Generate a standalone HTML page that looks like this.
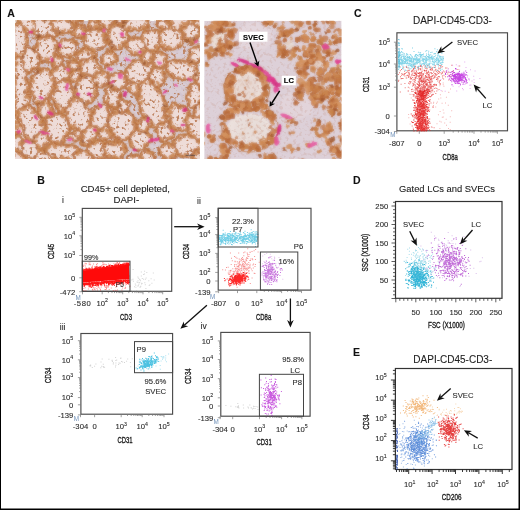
<!DOCTYPE html>
<html><head><meta charset="utf-8"><style>
html,body{margin:0;padding:0;background:#fff;}
body{width:520px;height:510px;overflow:hidden;position:relative;}
svg{position:absolute;left:0;top:0;}
text{font-family:"Liberation Sans", sans-serif;}
</style></head><body>
<svg width="520" height="510" viewBox="0 0 520 510">
<rect x="0" y="0" width="520" height="510" fill="#fff"/>
<defs>
<filter id="speck" filterUnits="userSpaceOnUse" x="204.2" y="20.8" width="137.4" height="138.1" color-interpolation-filters="sRGB"><feTurbulence type="fractalNoise" baseFrequency="0.3" numOctaves="2" seed="21"/><feColorMatrix type="matrix" values="0 0 0 0 0.76  0 0 0 0 0.55  0 0 0 0 0.48  6 0 0 0 -3.2"/><feGaussianBlur stdDeviation="0.5"/></filter>
<filter id="soft" x="-20%" y="-20%" width="140%" height="140%"><feTurbulence type="fractalNoise" baseFrequency="0.2" numOctaves="2" seed="3"/><feDisplacementMap in="SourceGraphic" scale="3" xChannelSelector="R" yChannelSelector="G" result="d"/><feGaussianBlur in="d" stdDeviation="0.9" result="b"/><feComposite in="d" in2="b" operator="arithmetic" k1="0" k2="0.4" k3="0.6" k4="0"/></filter>
<filter id="cells" x="-10%" y="-10%" width="120%" height="120%"><feTurbulence type="fractalNoise" baseFrequency="0.15" numOctaves="2" seed="6"/><feDisplacementMap in="SourceGraphic" scale="4" xChannelSelector="R" yChannelSelector="G" result="d"/><feGaussianBlur in="d" stdDeviation="1.0" result="b"/><feComposite in="d" in2="b" operator="arithmetic" k1="0" k2="0.45" k3="0.55" k4="0"/></filter>
<clipPath id="cr"><rect x="204.2" y="20.8" width="137.4" height="138.1"/></clipPath>
<clipPath id="cl"><rect x="15.6" y="20.8" width="184.0" height="138.1"/></clipPath>
</defs>
<filter id="wpL" filterUnits="userSpaceOnUse" x="10.6" y="15.8" width="194.0" height="148.1"><feTurbulence type="fractalNoise" baseFrequency="0.12" numOctaves="2" seed="12"/><feDisplacementMap in="SourceGraphic" scale="8" xChannelSelector="R" yChannelSelector="G" result="d"/><feGaussianBlur in="d" stdDeviation="0.9" result="b"/><feComposite in="d" in2="b" operator="arithmetic" k1="0" k2="0.5" k3="0.5" k4="0"/></filter>
<filter id="spkL" filterUnits="userSpaceOnUse" x="15.6" y="20.8" width="184.0" height="138.1" color-interpolation-filters="sRGB"><feTurbulence type="fractalNoise" baseFrequency="0.3" numOctaves="2" seed="31"/><feColorMatrix type="matrix" values="0 0 0 0 0.74  0 0 0 0 0.50  0 0 0 0 0.36  7 0 0 0 -4.0"/><feGaussianBlur stdDeviation="0.6"/></filter>
<filter id="spkL2" filterUnits="userSpaceOnUse" x="15.6" y="20.8" width="184.0" height="138.1" color-interpolation-filters="sRGB"><feTurbulence type="fractalNoise" baseFrequency="0.25" numOctaves="2" seed="41"/><feColorMatrix type="matrix" values="0 0 0 0 0.80  0 0 0 0 0.74  0 0 0 0 0.80  6 0 0 0 -3.3"/><feGaussianBlur stdDeviation="0.6"/></filter>
<g clip-path="url(#cl)">
<rect x="15.6" y="20.8" width="184.0" height="138.1" fill="#d9ccd3"/>
<rect x="15.6" y="20.8" width="184.0" height="138.1" filter="url(#spkL2)" opacity="0.5"/>
<g filter="url(#wpL)">
<ellipse cx="21" cy="90" rx="7.5" ry="74.5" fill="#eedcd8" stroke="#c08050" stroke-width="2.5"/><ellipse cx="21" cy="90" rx="6.9" ry="73.9" fill="none" stroke="#b86a38" stroke-width="2.0" stroke-dasharray="1.7 1.5" stroke-dashoffset="2.2"/><ellipse cx="21" cy="90" rx="5.1" ry="72.1" fill="none" stroke="#c8844e" stroke-opacity="0.9" stroke-width="2.6" stroke-linecap="round" stroke-dasharray="2.7 3.6" stroke-dashoffset="0.2"/>
<ellipse cx="44" cy="28" rx="15.0" ry="10.5" fill="#eedcd8" stroke="#c08050" stroke-width="2.5" transform="rotate(10 44 28)"/><ellipse cx="44" cy="28" rx="14.4" ry="9.9" fill="none" stroke="#b86a38" stroke-width="2.0" stroke-dasharray="1.2 2.9" stroke-dashoffset="0.5" transform="rotate(10 44 28)"/><ellipse cx="44" cy="28" rx="12.6" ry="8.1" fill="none" stroke="#c8844e" stroke-opacity="0.9" stroke-width="2.6" stroke-linecap="round" stroke-dasharray="2.7 5.4" stroke-dashoffset="0.9" transform="rotate(10 44 28)"/>
<ellipse cx="62" cy="25" rx="11.8" ry="8.4" fill="#eedcd8" stroke="#c08050" stroke-width="2.5"/><ellipse cx="62" cy="25" rx="11.2" ry="7.8" fill="none" stroke="#b86a38" stroke-width="2.0" stroke-dasharray="2.0 2.3" stroke-dashoffset="4.5"/><ellipse cx="62" cy="25" rx="9.4" ry="6.0" fill="none" stroke="#c8844e" stroke-opacity="0.9" stroke-width="2.6" stroke-linecap="round" stroke-dasharray="2.1 3.9" stroke-dashoffset="1.6"/>
<ellipse cx="46" cy="48" rx="11.8" ry="13.6" fill="#eedcd8" stroke="#c08050" stroke-width="2.5"/><ellipse cx="46" cy="48" rx="11.2" ry="13.0" fill="none" stroke="#b86a38" stroke-width="2.0" stroke-dasharray="1.9 1.5" stroke-dashoffset="2.5"/><ellipse cx="46" cy="48" rx="9.4" ry="11.2" fill="none" stroke="#c8844e" stroke-opacity="0.9" stroke-width="2.6" stroke-linecap="round" stroke-dasharray="2.6 4.3" stroke-dashoffset="0.7"/>
<ellipse cx="68" cy="48" rx="9.6" ry="9.4" fill="#eedcd8" stroke="#c08050" stroke-width="2.5"/><ellipse cx="68" cy="48" rx="9.0" ry="8.8" fill="none" stroke="#b86a38" stroke-width="2.0" stroke-dasharray="1.8 1.5" stroke-dashoffset="0.5"/><ellipse cx="68" cy="48" rx="7.2" ry="7.0" fill="none" stroke="#c8844e" stroke-opacity="0.9" stroke-width="2.6" stroke-linecap="round" stroke-dasharray="2.5 3.4" stroke-dashoffset="2.6"/>
<ellipse cx="95" cy="40" rx="11.8" ry="11.5" fill="#eedcd8" stroke="#c08050" stroke-width="2.5"/><ellipse cx="95" cy="40" rx="11.2" ry="10.9" fill="none" stroke="#b86a38" stroke-width="2.0" stroke-dasharray="1.3 2.4" stroke-dashoffset="0.2"/><ellipse cx="95" cy="40" rx="9.4" ry="9.1" fill="none" stroke="#c8844e" stroke-opacity="0.9" stroke-width="2.6" stroke-linecap="round" stroke-dasharray="2.5 5.3" stroke-dashoffset="1.8"/>
<ellipse cx="86" cy="58" rx="9.6" ry="9.4" fill="#eedcd8" stroke="#c08050" stroke-width="2.5"/><ellipse cx="86" cy="58" rx="9.0" ry="8.8" fill="none" stroke="#b86a38" stroke-width="2.0" stroke-dasharray="1.3 2.7" stroke-dashoffset="1.2"/><ellipse cx="86" cy="58" rx="7.2" ry="7.0" fill="none" stroke="#c8844e" stroke-opacity="0.9" stroke-width="2.6" stroke-linecap="round" stroke-dasharray="2.8 3.1" stroke-dashoffset="4.2"/>
<ellipse cx="60" cy="76" rx="10.7" ry="9.4" fill="#eedcd8" stroke="#c08050" stroke-width="2.5"/><ellipse cx="60" cy="76" rx="10.1" ry="8.8" fill="none" stroke="#b86a38" stroke-width="2.0" stroke-dasharray="1.6 1.7" stroke-dashoffset="0.7"/><ellipse cx="60" cy="76" rx="8.3" ry="7.0" fill="none" stroke="#c8844e" stroke-opacity="0.9" stroke-width="2.6" stroke-linecap="round" stroke-dasharray="1.8 3.4" stroke-dashoffset="3.5"/>
<ellipse cx="90" cy="68" rx="10.7" ry="11.5" fill="#eedcd8" stroke="#c08050" stroke-width="2.5"/><ellipse cx="90" cy="68" rx="10.1" ry="10.9" fill="none" stroke="#b86a38" stroke-width="2.0" stroke-dasharray="1.3 2.8" stroke-dashoffset="1.3"/><ellipse cx="90" cy="68" rx="8.3" ry="9.1" fill="none" stroke="#c8844e" stroke-opacity="0.9" stroke-width="2.6" stroke-linecap="round" stroke-dasharray="2.6 3.5" stroke-dashoffset="0.2"/>
<ellipse cx="42" cy="86" rx="11.8" ry="17.8" fill="#eedcd8" stroke="#c08050" stroke-width="2.5" transform="rotate(9 42 86)"/><ellipse cx="42" cy="86" rx="11.2" ry="17.2" fill="none" stroke="#b86a38" stroke-width="2.0" stroke-dasharray="1.6 1.7" stroke-dashoffset="2.7" transform="rotate(9 42 86)"/><ellipse cx="42" cy="86" rx="9.4" ry="15.4" fill="none" stroke="#c8844e" stroke-opacity="0.9" stroke-width="2.6" stroke-linecap="round" stroke-dasharray="1.7 4.0" stroke-dashoffset="3.3" transform="rotate(9 42 86)"/>
<ellipse cx="63" cy="95" rx="9.6" ry="16.8" fill="#eedcd8" stroke="#c08050" stroke-width="2.5" transform="rotate(5 63 95)"/><ellipse cx="63" cy="95" rx="9.0" ry="16.2" fill="none" stroke="#b86a38" stroke-width="2.0" stroke-dasharray="1.8 1.6" stroke-dashoffset="4.6" transform="rotate(5 63 95)"/><ellipse cx="63" cy="95" rx="7.2" ry="14.4" fill="none" stroke="#c8844e" stroke-opacity="0.9" stroke-width="2.6" stroke-linecap="round" stroke-dasharray="2.5 3.9" stroke-dashoffset="4.2" transform="rotate(5 63 95)"/>
<ellipse cx="86" cy="90" rx="10.7" ry="15.7" fill="#eedcd8" stroke="#c08050" stroke-width="2.5" transform="rotate(7 86 90)"/><ellipse cx="86" cy="90" rx="10.1" ry="15.1" fill="none" stroke="#b86a38" stroke-width="2.0" stroke-dasharray="1.4 2.7" stroke-dashoffset="3.2" transform="rotate(7 86 90)"/><ellipse cx="86" cy="90" rx="8.3" ry="13.3" fill="none" stroke="#c8844e" stroke-opacity="0.9" stroke-width="2.6" stroke-linecap="round" stroke-dasharray="1.5 3.5" stroke-dashoffset="3.5" transform="rotate(7 86 90)"/>
<ellipse cx="31" cy="124" rx="11.8" ry="18.9" fill="#eedcd8" stroke="#c08050" stroke-width="2.5" transform="rotate(-18 31 124)"/><ellipse cx="31" cy="124" rx="11.2" ry="18.3" fill="none" stroke="#b86a38" stroke-width="2.0" stroke-dasharray="2.0 2.2" stroke-dashoffset="2.6" transform="rotate(-18 31 124)"/><ellipse cx="31" cy="124" rx="9.4" ry="16.5" fill="none" stroke="#c8844e" stroke-opacity="0.9" stroke-width="2.6" stroke-linecap="round" stroke-dasharray="1.9 3.3" stroke-dashoffset="3.8" transform="rotate(-18 31 124)"/>
<ellipse cx="57" cy="128" rx="12.9" ry="15.7" fill="#eedcd8" stroke="#c08050" stroke-width="2.5"/><ellipse cx="57" cy="128" rx="12.3" ry="15.1" fill="none" stroke="#b86a38" stroke-width="2.0" stroke-dasharray="1.4 1.6" stroke-dashoffset="3.1"/><ellipse cx="57" cy="128" rx="10.5" ry="13.3" fill="none" stroke="#c8844e" stroke-opacity="0.9" stroke-width="2.6" stroke-linecap="round" stroke-dasharray="2.4 3.9" stroke-dashoffset="2.7"/>
<ellipse cx="79" cy="115" rx="11.8" ry="17.8" fill="#eedcd8" stroke="#c08050" stroke-width="2.5" transform="rotate(-19 79 115)"/><ellipse cx="79" cy="115" rx="11.2" ry="17.2" fill="none" stroke="#b86a38" stroke-width="2.0" stroke-dasharray="1.2 2.7" stroke-dashoffset="3.0" transform="rotate(-19 79 115)"/><ellipse cx="79" cy="115" rx="9.4" ry="15.4" fill="none" stroke="#c8844e" stroke-opacity="0.9" stroke-width="2.6" stroke-linecap="round" stroke-dasharray="2.0 4.8" stroke-dashoffset="3.2" transform="rotate(-19 79 115)"/>
<ellipse cx="62" cy="152" rx="20.4" ry="8.4" fill="#eedcd8" stroke="#c08050" stroke-width="2.5"/><ellipse cx="62" cy="152" rx="19.8" ry="7.8" fill="none" stroke="#b86a38" stroke-width="2.0" stroke-dasharray="1.6 2.9" stroke-dashoffset="3.5"/><ellipse cx="62" cy="152" rx="18.0" ry="6.0" fill="none" stroke="#c8844e" stroke-opacity="0.9" stroke-width="2.6" stroke-linecap="round" stroke-dasharray="2.5 3.9" stroke-dashoffset="0.6"/>
<ellipse cx="98" cy="150" rx="11.8" ry="9.4" fill="#eedcd8" stroke="#c08050" stroke-width="2.5"/><ellipse cx="98" cy="150" rx="11.2" ry="8.8" fill="none" stroke="#b86a38" stroke-width="2.0" stroke-dasharray="1.6 1.8" stroke-dashoffset="2.7"/><ellipse cx="98" cy="150" rx="9.4" ry="7.0" fill="none" stroke="#c8844e" stroke-opacity="0.9" stroke-width="2.6" stroke-linecap="round" stroke-dasharray="2.0 4.6" stroke-dashoffset="4.2"/>
<ellipse cx="100" cy="118" rx="9.6" ry="13.6" fill="#eedcd8" stroke="#c08050" stroke-width="2.5" transform="rotate(7 100 118)"/><ellipse cx="100" cy="118" rx="9.0" ry="13.0" fill="none" stroke="#b86a38" stroke-width="2.0" stroke-dasharray="1.6 2.0" stroke-dashoffset="4.9" transform="rotate(7 100 118)"/><ellipse cx="100" cy="118" rx="7.2" ry="11.2" fill="none" stroke="#c8844e" stroke-opacity="0.9" stroke-width="2.6" stroke-linecap="round" stroke-dasharray="1.9 5.2" stroke-dashoffset="2.3" transform="rotate(7 100 118)"/>
<ellipse cx="152" cy="40" rx="10.7" ry="11.5" fill="#eedcd8" stroke="#c08050" stroke-width="2.5"/><ellipse cx="152" cy="40" rx="10.1" ry="10.9" fill="none" stroke="#b86a38" stroke-width="2.0" stroke-dasharray="2.0 2.4" stroke-dashoffset="0.8"/><ellipse cx="152" cy="40" rx="8.3" ry="9.1" fill="none" stroke="#c8844e" stroke-opacity="0.9" stroke-width="2.6" stroke-linecap="round" stroke-dasharray="2.3 3.4" stroke-dashoffset="4.8"/>
<ellipse cx="171" cy="38" rx="11.8" ry="12.6" fill="#eedcd8" stroke="#c08050" stroke-width="2.5"/><ellipse cx="171" cy="38" rx="11.2" ry="12.0" fill="none" stroke="#b86a38" stroke-width="2.0" stroke-dasharray="2.1 2.0" stroke-dashoffset="2.7"/><ellipse cx="171" cy="38" rx="9.4" ry="10.2" fill="none" stroke="#c8844e" stroke-opacity="0.9" stroke-width="2.6" stroke-linecap="round" stroke-dasharray="2.8 3.1" stroke-dashoffset="0.7"/>
<ellipse cx="192" cy="31" rx="9.6" ry="11.5" fill="#eedcd8" stroke="#c08050" stroke-width="2.5"/><ellipse cx="192" cy="31" rx="9.0" ry="10.9" fill="none" stroke="#b86a38" stroke-width="2.0" stroke-dasharray="1.5 2.3" stroke-dashoffset="0.6"/><ellipse cx="192" cy="31" rx="7.2" ry="9.1" fill="none" stroke="#c8844e" stroke-opacity="0.9" stroke-width="2.6" stroke-linecap="round" stroke-dasharray="2.1 3.3" stroke-dashoffset="0.1"/>
<ellipse cx="118" cy="36" rx="10.7" ry="13.6" fill="#eedcd8" stroke="#c08050" stroke-width="2.5" transform="rotate(17 118 36)"/><ellipse cx="118" cy="36" rx="10.1" ry="13.0" fill="none" stroke="#b86a38" stroke-width="2.0" stroke-dasharray="2.2 2.2" stroke-dashoffset="2.8" transform="rotate(17 118 36)"/><ellipse cx="118" cy="36" rx="8.3" ry="11.2" fill="none" stroke="#c8844e" stroke-opacity="0.9" stroke-width="2.6" stroke-linecap="round" stroke-dasharray="2.3 3.6" stroke-dashoffset="3.3" transform="rotate(17 118 36)"/>
<ellipse cx="139" cy="72" rx="15.0" ry="11.5" fill="#eedcd8" stroke="#c08050" stroke-width="2.5" transform="rotate(-10 139 72)"/><ellipse cx="139" cy="72" rx="14.4" ry="10.9" fill="none" stroke="#b86a38" stroke-width="2.0" stroke-dasharray="1.3 2.0" stroke-dashoffset="0.6" transform="rotate(-10 139 72)"/><ellipse cx="139" cy="72" rx="12.6" ry="9.1" fill="none" stroke="#c8844e" stroke-opacity="0.9" stroke-width="2.6" stroke-linecap="round" stroke-dasharray="1.8 4.5" stroke-dashoffset="2.3" transform="rotate(-10 139 72)"/>
<ellipse cx="182" cy="70" rx="16.1" ry="10.5" fill="#eedcd8" stroke="#c08050" stroke-width="2.5" transform="rotate(10 182 70)"/><ellipse cx="182" cy="70" rx="15.5" ry="9.9" fill="none" stroke="#b86a38" stroke-width="2.0" stroke-dasharray="1.8 1.8" stroke-dashoffset="1.4" transform="rotate(10 182 70)"/><ellipse cx="182" cy="70" rx="13.7" ry="8.1" fill="none" stroke="#c8844e" stroke-opacity="0.9" stroke-width="2.6" stroke-linecap="round" stroke-dasharray="1.6 4.1" stroke-dashoffset="3.6" transform="rotate(10 182 70)"/>
<ellipse cx="152" cy="104" rx="12.9" ry="24.1" fill="#eedcd8" stroke="#c08050" stroke-width="2.5" transform="rotate(-14 152 104)"/><ellipse cx="152" cy="104" rx="12.3" ry="23.5" fill="none" stroke="#b86a38" stroke-width="2.0" stroke-dasharray="1.4 1.7" stroke-dashoffset="5.0" transform="rotate(-14 152 104)"/><ellipse cx="152" cy="104" rx="10.5" ry="21.7" fill="none" stroke="#c8844e" stroke-opacity="0.9" stroke-width="2.6" stroke-linecap="round" stroke-dasharray="2.6 4.2" stroke-dashoffset="0.8" transform="rotate(-14 152 104)"/>
<ellipse cx="178" cy="117" rx="10.7" ry="14.7" fill="#eedcd8" stroke="#c08050" stroke-width="2.5" transform="rotate(-14 178 117)"/><ellipse cx="178" cy="117" rx="10.1" ry="14.1" fill="none" stroke="#b86a38" stroke-width="2.0" stroke-dasharray="1.5 2.4" stroke-dashoffset="2.8" transform="rotate(-14 178 117)"/><ellipse cx="178" cy="117" rx="8.3" ry="12.3" fill="none" stroke="#c8844e" stroke-opacity="0.9" stroke-width="2.6" stroke-linecap="round" stroke-dasharray="2.1 3.1" stroke-dashoffset="3.5" transform="rotate(-14 178 117)"/>
<ellipse cx="122" cy="124" rx="14.0" ry="15.7" fill="#eedcd8" stroke="#c08050" stroke-width="2.5"/><ellipse cx="122" cy="124" rx="13.4" ry="15.1" fill="none" stroke="#b86a38" stroke-width="2.0" stroke-dasharray="2.2 1.9" stroke-dashoffset="1.6"/><ellipse cx="122" cy="124" rx="11.6" ry="13.3" fill="none" stroke="#c8844e" stroke-opacity="0.9" stroke-width="2.6" stroke-linecap="round" stroke-dasharray="2.5 3.6" stroke-dashoffset="4.4"/>
<ellipse cx="114" cy="150" rx="11.8" ry="9.4" fill="#eedcd8" stroke="#c08050" stroke-width="2.5"/><ellipse cx="114" cy="150" rx="11.2" ry="8.8" fill="none" stroke="#b86a38" stroke-width="2.0" stroke-dasharray="1.6 1.9" stroke-dashoffset="2.6"/><ellipse cx="114" cy="150" rx="9.4" ry="7.0" fill="none" stroke="#c8844e" stroke-opacity="0.9" stroke-width="2.6" stroke-linecap="round" stroke-dasharray="2.3 3.1" stroke-dashoffset="0.5"/>
<ellipse cx="186" cy="146" rx="14.0" ry="11.5" fill="#eedcd8" stroke="#c08050" stroke-width="2.5"/><ellipse cx="186" cy="146" rx="13.4" ry="10.9" fill="none" stroke="#b86a38" stroke-width="2.0" stroke-dasharray="1.5 2.9" stroke-dashoffset="4.9"/><ellipse cx="186" cy="146" rx="11.6" ry="9.1" fill="none" stroke="#c8844e" stroke-opacity="0.9" stroke-width="2.6" stroke-linecap="round" stroke-dasharray="2.4 4.0" stroke-dashoffset="4.2"/>
<ellipse cx="195" cy="95" rx="7.5" ry="13.6" fill="#eedcd8" stroke="#c08050" stroke-width="2.5" transform="rotate(10 195 95)"/><ellipse cx="195" cy="95" rx="6.9" ry="13.0" fill="none" stroke="#b86a38" stroke-width="2.0" stroke-dasharray="1.8 2.4" stroke-dashoffset="4.7" transform="rotate(10 195 95)"/><ellipse cx="195" cy="95" rx="5.1" ry="11.2" fill="none" stroke="#c8844e" stroke-opacity="0.9" stroke-width="2.6" stroke-linecap="round" stroke-dasharray="2.3 4.5" stroke-dashoffset="2.5" transform="rotate(10 195 95)"/>
<ellipse cx="135" cy="23" rx="14.0" ry="7.3" fill="#eedcd8" stroke="#c08050" stroke-width="2.5"/><ellipse cx="135" cy="23" rx="13.4" ry="6.7" fill="none" stroke="#b86a38" stroke-width="2.0" stroke-dasharray="1.3 2.4" stroke-dashoffset="1.0"/><ellipse cx="135" cy="23" rx="11.6" ry="4.9" fill="none" stroke="#c8844e" stroke-opacity="0.9" stroke-width="2.6" stroke-linecap="round" stroke-dasharray="2.2 3.1" stroke-dashoffset="2.5"/>
<ellipse cx="113" cy="97" rx="8.6" ry="11.5" fill="#eedcd8" stroke="#c08050" stroke-width="2.5" transform="rotate(-1 113 97)"/><ellipse cx="113" cy="97" rx="8.0" ry="10.9" fill="none" stroke="#b86a38" stroke-width="2.0" stroke-dasharray="2.0 1.6" stroke-dashoffset="4.0" transform="rotate(-1 113 97)"/><ellipse cx="113" cy="97" rx="6.2" ry="9.1" fill="none" stroke="#c8844e" stroke-opacity="0.9" stroke-width="2.6" stroke-linecap="round" stroke-dasharray="1.5 5.4" stroke-dashoffset="0.7" transform="rotate(-1 113 97)"/>
<ellipse cx="168" cy="152" rx="9.6" ry="8.4" fill="#eedcd8" stroke="#c08050" stroke-width="2.5"/><ellipse cx="168" cy="152" rx="9.0" ry="7.8" fill="none" stroke="#b86a38" stroke-width="2.0" stroke-dasharray="1.6 2.3" stroke-dashoffset="4.0"/><ellipse cx="168" cy="152" rx="7.2" ry="6.0" fill="none" stroke="#c8844e" stroke-opacity="0.9" stroke-width="2.6" stroke-linecap="round" stroke-dasharray="2.8 4.3" stroke-dashoffset="2.6"/>
<ellipse cx="30" cy="150" rx="10.7" ry="9.4" fill="#eedcd8" stroke="#c08050" stroke-width="2.5"/><ellipse cx="30" cy="150" rx="10.1" ry="8.8" fill="none" stroke="#b86a38" stroke-width="2.0" stroke-dasharray="2.0 1.5" stroke-dashoffset="4.2"/><ellipse cx="30" cy="150" rx="8.3" ry="7.0" fill="none" stroke="#c8844e" stroke-opacity="0.9" stroke-width="2.6" stroke-linecap="round" stroke-dasharray="2.6 4.2" stroke-dashoffset="2.4"/>
<ellipse cx="196" cy="55" rx="7.5" ry="9.4" fill="#eedcd8" stroke="#c08050" stroke-width="2.5" transform="rotate(-4 196 55)"/><ellipse cx="196" cy="55" rx="6.9" ry="8.8" fill="none" stroke="#b86a38" stroke-width="2.0" stroke-dasharray="1.5 3.0" stroke-dashoffset="2.5" transform="rotate(-4 196 55)"/><ellipse cx="196" cy="55" rx="5.1" ry="7.0" fill="none" stroke="#c8844e" stroke-opacity="0.9" stroke-width="2.6" stroke-linecap="round" stroke-dasharray="2.2 5.3" stroke-dashoffset="4.5" transform="rotate(-4 196 55)"/>
<ellipse cx="136" cy="46" rx="9.6" ry="9.4" fill="#eedcd8" stroke="#c08050" stroke-width="2.5"/><ellipse cx="136" cy="46" rx="9.0" ry="8.8" fill="none" stroke="#b86a38" stroke-width="2.0" stroke-dasharray="1.4 2.6" stroke-dashoffset="2.5"/><ellipse cx="136" cy="46" rx="7.2" ry="7.0" fill="none" stroke="#c8844e" stroke-opacity="0.9" stroke-width="2.6" stroke-linecap="round" stroke-dasharray="1.8 4.2" stroke-dashoffset="2.7"/>
<ellipse cx="160" cy="60" rx="7.5" ry="8.4" fill="#eedcd8" stroke="#c08050" stroke-width="2.5"/><ellipse cx="160" cy="60" rx="6.9" ry="7.8" fill="none" stroke="#b86a38" stroke-width="2.0" stroke-dasharray="2.1 2.2" stroke-dashoffset="2.9"/><ellipse cx="160" cy="60" rx="5.1" ry="6.0" fill="none" stroke="#c8844e" stroke-opacity="0.9" stroke-width="2.6" stroke-linecap="round" stroke-dasharray="2.6 4.7" stroke-dashoffset="3.2"/>
<ellipse cx="30" cy="60" rx="9.6" ry="11.5" fill="#eedcd8" stroke="#c08050" stroke-width="2.5"/><ellipse cx="30" cy="60" rx="9.0" ry="10.9" fill="none" stroke="#b86a38" stroke-width="2.0" stroke-dasharray="2.2 1.5" stroke-dashoffset="3.1"/><ellipse cx="30" cy="60" rx="7.2" ry="9.1" fill="none" stroke="#c8844e" stroke-opacity="0.9" stroke-width="2.6" stroke-linecap="round" stroke-dasharray="1.5 4.9" stroke-dashoffset="4.7"/>
<ellipse cx="110" cy="58" rx="7.5" ry="8.4" fill="#eedcd8" stroke="#c08050" stroke-width="2.5"/><ellipse cx="110" cy="58" rx="6.9" ry="7.8" fill="none" stroke="#b86a38" stroke-width="2.0" stroke-dasharray="2.1 2.3" stroke-dashoffset="2.7"/><ellipse cx="110" cy="58" rx="5.1" ry="6.0" fill="none" stroke="#c8844e" stroke-opacity="0.9" stroke-width="2.6" stroke-linecap="round" stroke-dasharray="2.3 3.4" stroke-dashoffset="2.6"/>
<ellipse cx="140" cy="140" rx="10.7" ry="10.5" fill="#eedcd8" stroke="#c08050" stroke-width="2.5"/><ellipse cx="140" cy="140" rx="10.1" ry="9.9" fill="none" stroke="#b86a38" stroke-width="2.0" stroke-dasharray="1.2 2.3" stroke-dashoffset="1.8"/><ellipse cx="140" cy="140" rx="8.3" ry="8.1" fill="none" stroke="#c8844e" stroke-opacity="0.9" stroke-width="2.6" stroke-linecap="round" stroke-dasharray="2.3 5.5" stroke-dashoffset="2.5"/>
<ellipse cx="165" cy="132" rx="8.6" ry="9.4" fill="#eedcd8" stroke="#c08050" stroke-width="2.5"/><ellipse cx="165" cy="132" rx="8.0" ry="8.8" fill="none" stroke="#b86a38" stroke-width="2.0" stroke-dasharray="2.2 2.4" stroke-dashoffset="3.9"/><ellipse cx="165" cy="132" rx="6.2" ry="7.0" fill="none" stroke="#c8844e" stroke-opacity="0.9" stroke-width="2.6" stroke-linecap="round" stroke-dasharray="2.4 5.5" stroke-dashoffset="4.0"/>
<ellipse cx="45" cy="110" rx="7.5" ry="9.4" fill="#eedcd8" stroke="#c08050" stroke-width="2.5" transform="rotate(-7 45 110)"/><ellipse cx="45" cy="110" rx="6.9" ry="8.8" fill="none" stroke="#b86a38" stroke-width="2.0" stroke-dasharray="2.0 1.6" stroke-dashoffset="0.3" transform="rotate(-7 45 110)"/><ellipse cx="45" cy="110" rx="5.1" ry="7.0" fill="none" stroke="#c8844e" stroke-opacity="0.9" stroke-width="2.6" stroke-linecap="round" stroke-dasharray="2.6 3.3" stroke-dashoffset="4.6" transform="rotate(-7 45 110)"/>
<ellipse cx="148.2" cy="161.2" rx="8.2" ry="11.0" fill="#eedcd8" stroke="#c08050" stroke-width="2.5" transform="rotate(-1 148.2 161.2)"/><ellipse cx="148.2" cy="161.2" rx="7.6" ry="10.4" fill="none" stroke="#b86a38" stroke-width="2.0" stroke-dasharray="1.8 2.4" stroke-dashoffset="3.5" transform="rotate(-1 148.2 161.2)"/><ellipse cx="148.2" cy="161.2" rx="5.8" ry="8.6" fill="none" stroke="#c8844e" stroke-opacity="0.9" stroke-width="2.6" stroke-linecap="round" stroke-dasharray="3.0 5.5" stroke-dashoffset="0.2" transform="rotate(-1 148.2 161.2)"/>
<ellipse cx="197.9" cy="128.6" rx="10.1" ry="14.8" fill="#eedcd8" stroke="#c08050" stroke-width="2.5" transform="rotate(-44 197.9 128.6)"/><ellipse cx="197.9" cy="128.6" rx="9.5" ry="14.2" fill="none" stroke="#b86a38" stroke-width="2.0" stroke-dasharray="1.5 2.9" stroke-dashoffset="0.8" transform="rotate(-44 197.9 128.6)"/><ellipse cx="197.9" cy="128.6" rx="7.7" ry="12.4" fill="none" stroke="#c8844e" stroke-opacity="0.9" stroke-width="2.6" stroke-linecap="round" stroke-dasharray="2.7 3.4" stroke-dashoffset="3.3" transform="rotate(-44 197.9 128.6)"/>
<ellipse cx="17.7" cy="159.2" rx="8.5" ry="7.8" fill="#eedcd8" stroke="#c08050" stroke-width="2.5" transform="rotate(35 17.7 159.2)"/><ellipse cx="17.7" cy="159.2" rx="7.9" ry="7.2" fill="none" stroke="#b86a38" stroke-width="2.0" stroke-dasharray="2.1 2.0" stroke-dashoffset="4.5" transform="rotate(35 17.7 159.2)"/><ellipse cx="17.7" cy="159.2" rx="6.1" ry="5.4" fill="none" stroke="#c8844e" stroke-opacity="0.9" stroke-width="2.6" stroke-linecap="round" stroke-dasharray="1.9 3.9" stroke-dashoffset="0.5" transform="rotate(35 17.7 159.2)"/>
<ellipse cx="117.8" cy="81.2" rx="9.2" ry="9.4" fill="#eedcd8" stroke="#c08050" stroke-width="2.5" transform="rotate(21 117.8 81.2)"/><ellipse cx="117.8" cy="81.2" rx="8.6" ry="8.8" fill="none" stroke="#b86a38" stroke-width="2.0" stroke-dasharray="1.9 2.2" stroke-dashoffset="3.0" transform="rotate(21 117.8 81.2)"/><ellipse cx="117.8" cy="81.2" rx="6.8" ry="7.0" fill="none" stroke="#c8844e" stroke-opacity="0.9" stroke-width="2.6" stroke-linecap="round" stroke-dasharray="1.7 5.4" stroke-dashoffset="4.8" transform="rotate(21 117.8 81.2)"/>
<ellipse cx="88.5" cy="135.5" rx="6.8" ry="10.5" fill="#eedcd8" stroke="#c08050" stroke-width="2.5" transform="rotate(31 88.5 135.5)"/><ellipse cx="88.5" cy="135.5" rx="6.2" ry="9.9" fill="none" stroke="#b86a38" stroke-width="2.0" stroke-dasharray="1.8 2.7" stroke-dashoffset="1.7" transform="rotate(31 88.5 135.5)"/><ellipse cx="88.5" cy="135.5" rx="4.4" ry="8.1" fill="none" stroke="#c8844e" stroke-opacity="0.9" stroke-width="2.6" stroke-linecap="round" stroke-dasharray="2.1 3.8" stroke-dashoffset="3.2" transform="rotate(31 88.5 135.5)"/>
<ellipse cx="17.0" cy="40.0" rx="10.8" ry="16.7" fill="#eedcd8" stroke="#c08050" stroke-width="2.5" transform="rotate(-3 17.0 40.0)"/><ellipse cx="17.0" cy="40.0" rx="10.2" ry="16.1" fill="none" stroke="#b86a38" stroke-width="2.0" stroke-dasharray="2.1 2.0" stroke-dashoffset="1.9" transform="rotate(-3 17.0 40.0)"/><ellipse cx="17.0" cy="40.0" rx="8.4" ry="14.3" fill="none" stroke="#c8844e" stroke-opacity="0.9" stroke-width="2.6" stroke-linecap="round" stroke-dasharray="1.6 3.0" stroke-dashoffset="1.4" transform="rotate(-3 17.0 40.0)"/>
<ellipse cx="26.4" cy="21.9" rx="7.8" ry="11.1" fill="#eedcd8" stroke="#c08050" stroke-width="2.5" transform="rotate(-45 26.4 21.9)"/><ellipse cx="26.4" cy="21.9" rx="7.2" ry="10.5" fill="none" stroke="#b86a38" stroke-width="2.0" stroke-dasharray="1.3 2.8" stroke-dashoffset="1.3" transform="rotate(-45 26.4 21.9)"/><ellipse cx="26.4" cy="21.9" rx="5.4" ry="8.7" fill="none" stroke="#c8844e" stroke-opacity="0.9" stroke-width="2.6" stroke-linecap="round" stroke-dasharray="1.8 4.7" stroke-dashoffset="1.8" transform="rotate(-45 26.4 21.9)"/>
<ellipse cx="79.3" cy="31.3" rx="7.1" ry="6.9" fill="#eedcd8" stroke="#c08050" stroke-width="2.5" transform="rotate(-19 79.3 31.3)"/><ellipse cx="79.3" cy="31.3" rx="6.5" ry="6.3" fill="none" stroke="#b86a38" stroke-width="2.0" stroke-dasharray="1.8 1.7" stroke-dashoffset="1.4" transform="rotate(-19 79.3 31.3)"/><ellipse cx="79.3" cy="31.3" rx="4.7" ry="4.5" fill="none" stroke="#c8844e" stroke-opacity="0.9" stroke-width="2.6" stroke-linecap="round" stroke-dasharray="2.7 3.6" stroke-dashoffset="0.6" transform="rotate(-19 79.3 31.3)"/>
<ellipse cx="163.2" cy="23.5" rx="6.3" ry="6.0" fill="#eedcd8" stroke="#c08050" stroke-width="2.5" transform="rotate(-3 163.2 23.5)"/><ellipse cx="163.2" cy="23.5" rx="5.7" ry="5.4" fill="none" stroke="#b86a38" stroke-width="2.0" stroke-dasharray="1.7 2.4" stroke-dashoffset="4.6" transform="rotate(-3 163.2 23.5)"/><ellipse cx="163.2" cy="23.5" rx="3.9" ry="3.6" fill="none" stroke="#c8844e" stroke-opacity="0.9" stroke-width="2.6" stroke-linecap="round" stroke-dasharray="1.6 5.2" stroke-dashoffset="0.2" transform="rotate(-3 163.2 23.5)"/>
<ellipse cx="157.1" cy="76.9" rx="8.7" ry="8.7" fill="#eedcd8" stroke="#c08050" stroke-width="2.5" transform="rotate(46 157.1 76.9)"/><ellipse cx="157.1" cy="76.9" rx="8.1" ry="8.1" fill="none" stroke="#b86a38" stroke-width="2.0" stroke-dasharray="1.6 2.1" stroke-dashoffset="3.7" transform="rotate(46 157.1 76.9)"/><ellipse cx="157.1" cy="76.9" rx="6.3" ry="6.3" fill="none" stroke="#c8844e" stroke-opacity="0.9" stroke-width="2.6" stroke-linecap="round" stroke-dasharray="1.6 3.6" stroke-dashoffset="1.6" transform="rotate(46 157.1 76.9)"/>
<ellipse cx="144.0" cy="124.6" rx="7.0" ry="7.9" fill="#eedcd8" stroke="#c08050" stroke-width="2.5" transform="rotate(51 144.0 124.6)"/><ellipse cx="144.0" cy="124.6" rx="6.4" ry="7.3" fill="none" stroke="#b86a38" stroke-width="2.0" stroke-dasharray="1.4 1.8" stroke-dashoffset="4.0" transform="rotate(51 144.0 124.6)"/><ellipse cx="144.0" cy="124.6" rx="4.6" ry="5.5" fill="none" stroke="#c8844e" stroke-opacity="0.9" stroke-width="2.6" stroke-linecap="round" stroke-dasharray="1.8 3.7" stroke-dashoffset="4.2" transform="rotate(51 144.0 124.6)"/>
<ellipse cx="75.7" cy="18.6" rx="6.2" ry="5.5" fill="#eedcd8" stroke="#c08050" stroke-width="2.5" transform="rotate(-56 75.7 18.6)"/><ellipse cx="75.7" cy="18.6" rx="5.6" ry="4.9" fill="none" stroke="#b86a38" stroke-width="2.0" stroke-dasharray="2.1 2.8" stroke-dashoffset="4.5" transform="rotate(-56 75.7 18.6)"/><ellipse cx="75.7" cy="18.6" rx="3.8" ry="3.1" fill="none" stroke="#c8844e" stroke-opacity="0.9" stroke-width="2.6" stroke-linecap="round" stroke-dasharray="1.8 3.1" stroke-dashoffset="1.0" transform="rotate(-56 75.7 18.6)"/>
<ellipse cx="123.0" cy="106.6" rx="6.4" ry="6.2" fill="#eedcd8" stroke="#c08050" stroke-width="2.5" transform="rotate(19 123.0 106.6)"/><ellipse cx="123.0" cy="106.6" rx="5.8" ry="5.6" fill="none" stroke="#b86a38" stroke-width="2.0" stroke-dasharray="1.6 2.8" stroke-dashoffset="2.8" transform="rotate(19 123.0 106.6)"/><ellipse cx="123.0" cy="106.6" rx="4.0" ry="3.8" fill="none" stroke="#c8844e" stroke-opacity="0.9" stroke-width="2.6" stroke-linecap="round" stroke-dasharray="1.7 5.1" stroke-dashoffset="2.7" transform="rotate(19 123.0 106.6)"/>
<ellipse cx="43.6" cy="158.9" rx="8.7" ry="9.2" fill="#eedcd8" stroke="#c08050" stroke-width="2.5" transform="rotate(-25 43.6 158.9)"/><ellipse cx="43.6" cy="158.9" rx="8.1" ry="8.6" fill="none" stroke="#b86a38" stroke-width="2.0" stroke-dasharray="1.7 2.5" stroke-dashoffset="3.7" transform="rotate(-25 43.6 158.9)"/><ellipse cx="43.6" cy="158.9" rx="6.3" ry="6.8" fill="none" stroke="#c8844e" stroke-opacity="0.9" stroke-width="2.6" stroke-linecap="round" stroke-dasharray="2.0 4.5" stroke-dashoffset="2.4" transform="rotate(-25 43.6 158.9)"/>
<ellipse cx="83.0" cy="159.9" rx="10.1" ry="8.6" fill="#eedcd8" stroke="#c08050" stroke-width="2.5"/><ellipse cx="83.0" cy="159.9" rx="9.5" ry="8.0" fill="none" stroke="#b86a38" stroke-width="2.0" stroke-dasharray="1.8 2.1" stroke-dashoffset="3.6"/><ellipse cx="83.0" cy="159.9" rx="7.7" ry="6.2" fill="none" stroke="#c8844e" stroke-opacity="0.9" stroke-width="2.6" stroke-linecap="round" stroke-dasharray="2.8 4.7" stroke-dashoffset="2.3"/>
<ellipse cx="105.4" cy="21.3" rx="7.5" ry="8.0" fill="#eedcd8" stroke="#c08050" stroke-width="2.5" transform="rotate(-20 105.4 21.3)"/><ellipse cx="105.4" cy="21.3" rx="6.9" ry="7.4" fill="none" stroke="#b86a38" stroke-width="2.0" stroke-dasharray="1.6 2.2" stroke-dashoffset="3.6" transform="rotate(-20 105.4 21.3)"/><ellipse cx="105.4" cy="21.3" rx="5.1" ry="5.6" fill="none" stroke="#c8844e" stroke-opacity="0.9" stroke-width="2.6" stroke-linecap="round" stroke-dasharray="1.7 5.2" stroke-dashoffset="2.3" transform="rotate(-20 105.4 21.3)"/>
<ellipse cx="201.2" cy="80.3" rx="6.6" ry="8.9" fill="#eedcd8" stroke="#c08050" stroke-width="2.5" transform="rotate(-45 201.2 80.3)"/><ellipse cx="201.2" cy="80.3" rx="6.0" ry="8.3" fill="none" stroke="#b86a38" stroke-width="2.0" stroke-dasharray="1.2 2.3" stroke-dashoffset="4.2" transform="rotate(-45 201.2 80.3)"/><ellipse cx="201.2" cy="80.3" rx="4.2" ry="6.5" fill="none" stroke="#c8844e" stroke-opacity="0.9" stroke-width="2.6" stroke-linecap="round" stroke-dasharray="1.7 3.6" stroke-dashoffset="2.0" transform="rotate(-45 201.2 80.3)"/>
<ellipse cx="200.2" cy="18.3" rx="6.6" ry="9.1" fill="#eedcd8" stroke="#c08050" stroke-width="2.5" transform="rotate(13 200.2 18.3)"/><ellipse cx="200.2" cy="18.3" rx="6.0" ry="8.5" fill="none" stroke="#b86a38" stroke-width="2.0" stroke-dasharray="1.9 2.9" stroke-dashoffset="4.2" transform="rotate(13 200.2 18.3)"/><ellipse cx="200.2" cy="18.3" rx="4.2" ry="6.7" fill="none" stroke="#c8844e" stroke-opacity="0.9" stroke-width="2.6" stroke-linecap="round" stroke-dasharray="1.9 4.3" stroke-dashoffset="3.0" transform="rotate(13 200.2 18.3)"/>
<ellipse cx="177.8" cy="21.3" rx="9.1" ry="8.9" fill="#eedcd8" stroke="#c08050" stroke-width="2.5" transform="rotate(28 177.8 21.3)"/><ellipse cx="177.8" cy="21.3" rx="8.5" ry="8.3" fill="none" stroke="#b86a38" stroke-width="2.0" stroke-dasharray="1.4 2.5" stroke-dashoffset="1.8" transform="rotate(28 177.8 21.3)"/><ellipse cx="177.8" cy="21.3" rx="6.7" ry="6.5" fill="none" stroke="#c8844e" stroke-opacity="0.9" stroke-width="2.6" stroke-linecap="round" stroke-dasharray="1.5 4.7" stroke-dashoffset="3.9" transform="rotate(28 177.8 21.3)"/>
<ellipse cx="198.6" cy="158.7" rx="6.0" ry="8.5" fill="#eedcd8" stroke="#c08050" stroke-width="2.5" transform="rotate(-14 198.6 158.7)"/><ellipse cx="198.6" cy="158.7" rx="5.4" ry="7.9" fill="none" stroke="#b86a38" stroke-width="2.0" stroke-dasharray="2.0 2.4" stroke-dashoffset="0.8" transform="rotate(-14 198.6 158.7)"/><ellipse cx="198.6" cy="158.7" rx="3.6" ry="6.1" fill="none" stroke="#c8844e" stroke-opacity="0.9" stroke-width="2.6" stroke-linecap="round" stroke-dasharray="1.6 4.4" stroke-dashoffset="1.6" transform="rotate(-14 198.6 158.7)"/>
<ellipse cx="75.8" cy="76.0" rx="6.0" ry="5.6" fill="#eedcd8" stroke="#c08050" stroke-width="2.5" transform="rotate(-17 75.8 76.0)"/><ellipse cx="75.8" cy="76.0" rx="5.4" ry="5.0" fill="none" stroke="#b86a38" stroke-width="2.0" stroke-dasharray="1.8 2.2" stroke-dashoffset="0.6" transform="rotate(-17 75.8 76.0)"/><ellipse cx="75.8" cy="76.0" rx="3.6" ry="3.2" fill="none" stroke="#c8844e" stroke-opacity="0.9" stroke-width="2.6" stroke-linecap="round" stroke-dasharray="2.1 3.2" stroke-dashoffset="3.8" transform="rotate(-17 75.8 76.0)"/>
<ellipse cx="134.3" cy="160.1" rx="6.8" ry="5.6" fill="#eedcd8" stroke="#c08050" stroke-width="2.5" transform="rotate(-16 134.3 160.1)"/><ellipse cx="134.3" cy="160.1" rx="6.2" ry="5.0" fill="none" stroke="#b86a38" stroke-width="2.0" stroke-dasharray="1.2 1.6" stroke-dashoffset="1.4" transform="rotate(-16 134.3 160.1)"/><ellipse cx="134.3" cy="160.1" rx="4.4" ry="3.2" fill="none" stroke="#c8844e" stroke-opacity="0.9" stroke-width="2.6" stroke-linecap="round" stroke-dasharray="1.6 4.7" stroke-dashoffset="2.7" transform="rotate(-16 134.3 160.1)"/>
<ellipse cx="75.2" cy="136.1" rx="6.1" ry="5.0" fill="#eedcd8" stroke="#c08050" stroke-width="2.5" transform="rotate(-29 75.2 136.1)"/><ellipse cx="75.2" cy="136.1" rx="5.5" ry="4.4" fill="none" stroke="#b86a38" stroke-width="2.0" stroke-dasharray="1.7 2.6" stroke-dashoffset="0.2" transform="rotate(-29 75.2 136.1)"/><ellipse cx="75.2" cy="136.1" rx="3.7" ry="2.6" fill="none" stroke="#c8844e" stroke-opacity="0.9" stroke-width="2.6" stroke-linecap="round" stroke-dasharray="1.6 4.5" stroke-dashoffset="4.4" transform="rotate(-29 75.2 136.1)"/>
<ellipse cx="73.9" cy="65.6" rx="6.3" ry="6.6" fill="#eedcd8" stroke="#c08050" stroke-width="2.5" transform="rotate(-39 73.9 65.6)"/><ellipse cx="73.9" cy="65.6" rx="5.7" ry="6.0" fill="none" stroke="#b86a38" stroke-width="2.0" stroke-dasharray="1.3 2.9" stroke-dashoffset="0.2" transform="rotate(-39 73.9 65.6)"/><ellipse cx="73.9" cy="65.6" rx="3.9" ry="4.2" fill="none" stroke="#c8844e" stroke-opacity="0.9" stroke-width="2.6" stroke-linecap="round" stroke-dasharray="2.1 3.7" stroke-dashoffset="3.0" transform="rotate(-39 73.9 65.6)"/>
<ellipse cx="119.4" cy="18.0" rx="7.1" ry="5.9" fill="#eedcd8" stroke="#c08050" stroke-width="2.5" transform="rotate(-57 119.4 18.0)"/><ellipse cx="119.4" cy="18.0" rx="6.5" ry="5.3" fill="none" stroke="#b86a38" stroke-width="2.0" stroke-dasharray="1.8 2.0" stroke-dashoffset="0.9" transform="rotate(-57 119.4 18.0)"/><ellipse cx="119.4" cy="18.0" rx="4.7" ry="3.5" fill="none" stroke="#c8844e" stroke-opacity="0.9" stroke-width="2.6" stroke-linecap="round" stroke-dasharray="2.8 5.3" stroke-dashoffset="2.8" transform="rotate(-57 119.4 18.0)"/>
<ellipse cx="133.8" cy="88.1" rx="6.3" ry="6.2" fill="#eedcd8" stroke="#c08050" stroke-width="2.5" transform="rotate(57 133.8 88.1)"/><ellipse cx="133.8" cy="88.1" rx="5.7" ry="5.6" fill="none" stroke="#b86a38" stroke-width="2.0" stroke-dasharray="1.4 1.8" stroke-dashoffset="4.5" transform="rotate(57 133.8 88.1)"/><ellipse cx="133.8" cy="88.1" rx="3.9" ry="3.8" fill="none" stroke="#c8844e" stroke-opacity="0.9" stroke-width="2.6" stroke-linecap="round" stroke-dasharray="3.0 3.8" stroke-dashoffset="1.9" transform="rotate(57 133.8 88.1)"/>
<ellipse cx="102.3" cy="79.4" rx="7.2" ry="8.3" fill="#eedcd8" stroke="#c08050" stroke-width="2.5" transform="rotate(29 102.3 79.4)"/><ellipse cx="102.3" cy="79.4" rx="6.6" ry="7.7" fill="none" stroke="#b86a38" stroke-width="2.0" stroke-dasharray="1.9 2.9" stroke-dashoffset="3.9" transform="rotate(29 102.3 79.4)"/><ellipse cx="102.3" cy="79.4" rx="4.8" ry="5.9" fill="none" stroke="#c8844e" stroke-opacity="0.9" stroke-width="2.6" stroke-linecap="round" stroke-dasharray="2.0 4.0" stroke-dashoffset="2.7" transform="rotate(29 102.3 79.4)"/>
<ellipse cx="200.0" cy="111.8" rx="6.5" ry="7.0" fill="#eedcd8" stroke="#c08050" stroke-width="2.5" transform="rotate(7 200.0 111.8)"/><ellipse cx="200.0" cy="111.8" rx="5.9" ry="6.4" fill="none" stroke="#b86a38" stroke-width="2.0" stroke-dasharray="1.3 2.8" stroke-dashoffset="1.2" transform="rotate(7 200.0 111.8)"/><ellipse cx="200.0" cy="111.8" rx="4.1" ry="4.6" fill="none" stroke="#c8844e" stroke-opacity="0.9" stroke-width="2.6" stroke-linecap="round" stroke-dasharray="1.6 4.9" stroke-dashoffset="0.7" transform="rotate(7 200.0 111.8)"/>
<ellipse cx="42.2" cy="140.0" rx="8.2" ry="7.6" fill="#eedcd8" stroke="#c08050" stroke-width="2.5" transform="rotate(45 42.2 140.0)"/><ellipse cx="42.2" cy="140.0" rx="7.6" ry="7.0" fill="none" stroke="#b86a38" stroke-width="2.0" stroke-dasharray="2.0 2.9" stroke-dashoffset="0.5" transform="rotate(45 42.2 140.0)"/><ellipse cx="42.2" cy="140.0" rx="5.8" ry="5.2" fill="none" stroke="#c8844e" stroke-opacity="0.9" stroke-width="2.6" stroke-linecap="round" stroke-dasharray="1.6 3.7" stroke-dashoffset="4.8" transform="rotate(45 42.2 140.0)"/>
<ellipse cx="16.4" cy="143.5" rx="6.4" ry="8.6" fill="#eedcd8" stroke="#c08050" stroke-width="2.5" transform="rotate(-8 16.4 143.5)"/><ellipse cx="16.4" cy="143.5" rx="5.8" ry="8.0" fill="none" stroke="#b86a38" stroke-width="2.0" stroke-dasharray="1.6 2.7" stroke-dashoffset="2.2" transform="rotate(-8 16.4 143.5)"/><ellipse cx="16.4" cy="143.5" rx="4.0" ry="6.2" fill="none" stroke="#c8844e" stroke-opacity="0.9" stroke-width="2.6" stroke-linecap="round" stroke-dasharray="2.6 5.1" stroke-dashoffset="0.5" transform="rotate(-8 16.4 143.5)"/>
<ellipse cx="93.1" cy="23.6" rx="6.3" ry="6.1" fill="#eedcd8" stroke="#c08050" stroke-width="2.5" transform="rotate(58 93.1 23.6)"/><ellipse cx="93.1" cy="23.6" rx="5.7" ry="5.5" fill="none" stroke="#b86a38" stroke-width="2.0" stroke-dasharray="1.6 2.6" stroke-dashoffset="4.5" transform="rotate(58 93.1 23.6)"/><ellipse cx="93.1" cy="23.6" rx="3.9" ry="3.7" fill="none" stroke="#c8844e" stroke-opacity="0.9" stroke-width="2.6" stroke-linecap="round" stroke-dasharray="2.2 3.7" stroke-dashoffset="1.8" transform="rotate(58 93.1 23.6)"/>
<ellipse cx="57.7" cy="61.4" rx="6.4" ry="5.4" fill="#eedcd8" stroke="#c08050" stroke-width="2.5" transform="rotate(-20 57.7 61.4)"/><ellipse cx="57.7" cy="61.4" rx="5.8" ry="4.8" fill="none" stroke="#b86a38" stroke-width="2.0" stroke-dasharray="1.6 2.1" stroke-dashoffset="3.8" transform="rotate(-20 57.7 61.4)"/><ellipse cx="57.7" cy="61.4" rx="4.0" ry="3.0" fill="none" stroke="#c8844e" stroke-opacity="0.9" stroke-width="2.6" stroke-linecap="round" stroke-dasharray="2.3 4.9" stroke-dashoffset="4.5" transform="rotate(-20 57.7 61.4)"/>
<ellipse cx="147.0" cy="56.9" rx="6.6" ry="6.3" fill="#eedcd8" stroke="#c08050" stroke-width="2.5" transform="rotate(-54 147.0 56.9)"/><ellipse cx="147.0" cy="56.9" rx="6.0" ry="5.7" fill="none" stroke="#b86a38" stroke-width="2.0" stroke-dasharray="1.3 3.0" stroke-dashoffset="1.1" transform="rotate(-54 147.0 56.9)"/><ellipse cx="147.0" cy="56.9" rx="4.2" ry="3.9" fill="none" stroke="#c8844e" stroke-opacity="0.9" stroke-width="2.6" stroke-linecap="round" stroke-dasharray="2.4 3.2" stroke-dashoffset="1.2" transform="rotate(-54 147.0 56.9)"/>
<ellipse cx="104.3" cy="133.8" rx="6.7" ry="6.0" fill="#eedcd8" stroke="#c08050" stroke-width="2.5" transform="rotate(13 104.3 133.8)"/><ellipse cx="104.3" cy="133.8" rx="6.1" ry="5.4" fill="none" stroke="#b86a38" stroke-width="2.0" stroke-dasharray="1.6 2.3" stroke-dashoffset="4.1" transform="rotate(13 104.3 133.8)"/><ellipse cx="104.3" cy="133.8" rx="4.3" ry="3.6" fill="none" stroke="#c8844e" stroke-opacity="0.9" stroke-width="2.6" stroke-linecap="round" stroke-dasharray="2.1 4.0" stroke-dashoffset="2.9" transform="rotate(13 104.3 133.8)"/>
<circle cx="110.5" cy="43.0" r="1.5" fill="#94502c" fill-opacity="0.8"/>
<circle cx="107.3" cy="144.9" r="0.9" fill="#94502c" fill-opacity="0.8"/>
<circle cx="198.2" cy="104.3" r="1.3" fill="#94502c" fill-opacity="0.8"/>
<circle cx="21.0" cy="147.3" r="1.0" fill="#94502c" fill-opacity="0.8"/>
<circle cx="203.1" cy="138.2" r="1.4" fill="#94502c" fill-opacity="0.8"/>
<circle cx="59.1" cy="46.5" r="1.4" fill="#94502c" fill-opacity="0.8"/>
<circle cx="95.1" cy="59.2" r="1.1" fill="#94502c" fill-opacity="0.8"/>
<circle cx="130.6" cy="139.6" r="1.5" fill="#94502c" fill-opacity="0.8"/>
<circle cx="195.1" cy="107.9" r="1.0" fill="#94502c" fill-opacity="0.8"/>
<circle cx="77.1" cy="69.7" r="1.4" fill="#94502c" fill-opacity="0.8"/>
<circle cx="112.8" cy="85.6" r="1.6" fill="#94502c" fill-opacity="0.8"/>
<circle cx="32.8" cy="49.6" r="1.4" fill="#94502c" fill-opacity="0.8"/>
<circle cx="76.3" cy="87.7" r="1.2" fill="#94502c" fill-opacity="0.8"/>
<circle cx="149.6" cy="78.8" r="1.1" fill="#94502c" fill-opacity="0.8"/>
<circle cx="191.6" cy="153.3" r="1.4" fill="#94502c" fill-opacity="0.8"/>
<circle cx="192.4" cy="62.6" r="1.5" fill="#94502c" fill-opacity="0.8"/>
<circle cx="85.6" cy="103.8" r="1.5" fill="#94502c" fill-opacity="0.8"/>
<circle cx="79.2" cy="69.4" r="1.5" fill="#94502c" fill-opacity="0.8"/>
<circle cx="23.8" cy="130.3" r="1.6" fill="#94502c" fill-opacity="0.8"/>
<circle cx="187.4" cy="40.4" r="1.5" fill="#94502c" fill-opacity="0.8"/>
<circle cx="22.2" cy="13.4" r="1.2" fill="#94502c" fill-opacity="0.8"/>
<circle cx="36.4" cy="72.2" r="1.6" fill="#94502c" fill-opacity="0.8"/>
<circle cx="97.7" cy="83.5" r="1.0" fill="#94502c" fill-opacity="0.8"/>
<circle cx="119.1" cy="111.4" r="1.6" fill="#94502c" fill-opacity="0.8"/>
<circle cx="70.9" cy="96.6" r="1.2" fill="#94502c" fill-opacity="0.8"/>
<circle cx="168.6" cy="126.1" r="1.0" fill="#94502c" fill-opacity="0.8"/>
<circle cx="90.4" cy="18.2" r="1.3" fill="#94502c" fill-opacity="0.8"/>
<circle cx="80.7" cy="77.1" r="1.3" fill="#94502c" fill-opacity="0.8"/>
<circle cx="109.3" cy="82.8" r="1.5" fill="#94502c" fill-opacity="0.8"/>
<circle cx="44.0" cy="151.7" r="1.2" fill="#94502c" fill-opacity="0.8"/>
<circle cx="23.1" cy="56.6" r="1.5" fill="#94502c" fill-opacity="0.8"/>
<circle cx="25.2" cy="37.6" r="1.1" fill="#94502c" fill-opacity="0.8"/>
<circle cx="20.6" cy="151.9" r="1.2" fill="#94502c" fill-opacity="0.8"/>
<circle cx="113.6" cy="21.1" r="1.2" fill="#94502c" fill-opacity="0.8"/>
<circle cx="38.0" cy="56.6" r="1.1" fill="#94502c" fill-opacity="0.8"/>
<circle cx="57.3" cy="51.4" r="1.3" fill="#94502c" fill-opacity="0.8"/>
<circle cx="77.7" cy="88.8" r="1.3" fill="#94502c" fill-opacity="0.8"/>
<circle cx="90.3" cy="162.0" r="1.0" fill="#94502c" fill-opacity="0.8"/>
<circle cx="63.5" cy="54.0" r="1.3" fill="#94502c" fill-opacity="0.8"/>
<circle cx="70.0" cy="89.0" r="1.5" fill="#94502c" fill-opacity="0.8"/>
<circle cx="35.2" cy="100.5" r="1.2" fill="#94502c" fill-opacity="0.8"/>
<circle cx="65.7" cy="122.7" r="1.1" fill="#94502c" fill-opacity="0.8"/>
<circle cx="118.4" cy="103.9" r="1.0" fill="#94502c" fill-opacity="0.8"/>
<circle cx="108.7" cy="119.5" r="1.5" fill="#94502c" fill-opacity="0.8"/>
<circle cx="20.7" cy="17.5" r="0.9" fill="#94502c" fill-opacity="0.8"/>
<circle cx="55.3" cy="102.9" r="1.3" fill="#94502c" fill-opacity="0.8"/>
<circle cx="112.5" cy="46.5" r="1.4" fill="#94502c" fill-opacity="0.8"/>
<circle cx="98.8" cy="133.6" r="1.3" fill="#94502c" fill-opacity="0.8"/>
<circle cx="162.4" cy="105.1" r="1.4" fill="#94502c" fill-opacity="0.8"/>
<circle cx="115.6" cy="23.0" r="1.4" fill="#94502c" fill-opacity="0.8"/>
<circle cx="144.7" cy="61.4" r="1.1" fill="#94502c" fill-opacity="0.8"/>
<circle cx="200.8" cy="89.8" r="1.0" fill="#94502c" fill-opacity="0.8"/>
<circle cx="74.7" cy="71.8" r="1.5" fill="#94502c" fill-opacity="0.8"/>
<circle cx="32.1" cy="142.0" r="1.4" fill="#94502c" fill-opacity="0.8"/>
<circle cx="196.0" cy="13.4" r="0.9" fill="#94502c" fill-opacity="0.8"/>
<circle cx="129.2" cy="157.7" r="1.5" fill="#94502c" fill-opacity="0.8"/>
<circle cx="132.5" cy="113.7" r="1.1" fill="#94502c" fill-opacity="0.8"/>
<circle cx="195.4" cy="39.3" r="1.5" fill="#94502c" fill-opacity="0.8"/>
<circle cx="38.1" cy="37.0" r="1.1" fill="#94502c" fill-opacity="0.8"/>
<circle cx="55.8" cy="48.4" r="1.1" fill="#94502c" fill-opacity="0.8"/>
<circle cx="98.5" cy="48.4" r="1.3" fill="#94502c" fill-opacity="0.8"/>
<circle cx="35.3" cy="136.7" r="1.0" fill="#94502c" fill-opacity="0.8"/>
<circle cx="85.6" cy="77.8" r="1.3" fill="#94502c" fill-opacity="0.8"/>
<circle cx="59.8" cy="32.1" r="1.1" fill="#94502c" fill-opacity="0.8"/>
<circle cx="38.1" cy="39.5" r="0.9" fill="#94502c" fill-opacity="0.8"/>
<circle cx="188.2" cy="80.3" r="1.4" fill="#94502c" fill-opacity="0.8"/>
<circle cx="39.3" cy="35.6" r="1.4" fill="#94502c" fill-opacity="0.8"/>
<circle cx="200.4" cy="60.9" r="1.1" fill="#94502c" fill-opacity="0.8"/>
<circle cx="31.2" cy="142.0" r="1.0" fill="#94502c" fill-opacity="0.8"/>
<circle cx="200.8" cy="50.0" r="1.5" fill="#94502c" fill-opacity="0.8"/>
<circle cx="189.1" cy="51.5" r="1.0" fill="#94502c" fill-opacity="0.8"/>
<circle cx="36.1" cy="75.7" r="1.0" fill="#94502c" fill-opacity="0.8"/>
<circle cx="196.7" cy="74.9" r="1.3" fill="#94502c" fill-opacity="0.8"/>
<circle cx="145.5" cy="132.2" r="1.1" fill="#94502c" fill-opacity="0.8"/>
<circle cx="184.7" cy="16.6" r="1.5" fill="#94502c" fill-opacity="0.8"/>
<circle cx="40.3" cy="116.8" r="1.5" fill="#94502c" fill-opacity="0.8"/>
<circle cx="159.1" cy="152.6" r="1.1" fill="#94502c" fill-opacity="0.8"/>
<circle cx="108.5" cy="64.7" r="1.0" fill="#94502c" fill-opacity="0.8"/>
<circle cx="163.4" cy="105.9" r="1.4" fill="#94502c" fill-opacity="0.8"/>
<circle cx="146.7" cy="117.9" r="1.2" fill="#94502c" fill-opacity="0.8"/>
<circle cx="111.7" cy="87.1" r="1.4" fill="#94502c" fill-opacity="0.8"/>
<circle cx="70.7" cy="22.1" r="1.3" fill="#94502c" fill-opacity="0.8"/>
<circle cx="123.6" cy="22.4" r="1.5" fill="#94502c" fill-opacity="0.8"/>
<circle cx="199.9" cy="165.0" r="1.3" fill="#94502c" fill-opacity="0.8"/>
<circle cx="23.1" cy="57.1" r="1.0" fill="#94502c" fill-opacity="0.8"/>
<circle cx="45.7" cy="20.2" r="1.1" fill="#94502c" fill-opacity="0.8"/>
<circle cx="82.8" cy="140.8" r="1.4" fill="#94502c" fill-opacity="0.8"/>
<circle cx="40.3" cy="103.4" r="1.1" fill="#94502c" fill-opacity="0.8"/>
<circle cx="123.9" cy="25.9" r="1.2" fill="#94502c" fill-opacity="0.8"/>
<circle cx="78.5" cy="167.1" r="1.5" fill="#94502c" fill-opacity="0.8"/>
</g>
<rect x="15.6" y="20.8" width="184.0" height="138.1" filter="url(#spkL)" opacity="0.95"/>
</g>
<g clip-path="url(#cl)"><g filter="url(#soft)">
<ellipse cx="31.0" cy="32.0" rx="2.2" ry="1.6" transform="rotate(0 31.0 32.0)" fill="#e0358a" fill-opacity="0.9"/>
<ellipse cx="83.0" cy="34.0" rx="2.0" ry="1.6" transform="rotate(0 83.0 34.0)" fill="#e0358a" fill-opacity="0.9"/>
<ellipse cx="68.0" cy="70.0" rx="2.0" ry="2.0" transform="rotate(0 68.0 70.0)" fill="#e5579e" fill-opacity="0.9"/>
<ellipse cx="67.0" cy="87.0" rx="1.6" ry="4.0" transform="rotate(10 67.0 87.0)" fill="#e04896" fill-opacity="0.9"/>
<ellipse cx="78.0" cy="94.0" rx="2.0" ry="1.6" transform="rotate(0 78.0 94.0)" fill="#d42f80" fill-opacity="0.9"/>
<ellipse cx="89.0" cy="94.0" rx="2.5" ry="1.5" transform="rotate(20 89.0 94.0)" fill="#d42f80" fill-opacity="0.9"/>
<ellipse cx="41.0" cy="98.0" rx="3.0" ry="1.5" transform="rotate(30 41.0 98.0)" fill="#d42f80" fill-opacity="0.9"/>
<ellipse cx="50.0" cy="113.0" rx="4.0" ry="1.6" transform="rotate(30 50.0 113.0)" fill="#e0358a" fill-opacity="0.9"/>
<ellipse cx="45.0" cy="133.0" rx="5.0" ry="1.6" transform="rotate(15 45.0 133.0)" fill="#e04896" fill-opacity="0.9"/>
<ellipse cx="19.0" cy="132.0" rx="2.0" ry="2.0" transform="rotate(0 19.0 132.0)" fill="#e0358a" fill-opacity="0.9"/>
<ellipse cx="110.0" cy="69.0" rx="3.0" ry="1.5" transform="rotate(20 110.0 69.0)" fill="#e04896" fill-opacity="0.9"/>
<ellipse cx="120.0" cy="76.0" rx="2.0" ry="3.0" transform="rotate(0 120.0 76.0)" fill="#e5579e" fill-opacity="0.9"/>
<ellipse cx="125.0" cy="94.0" rx="2.0" ry="3.0" transform="rotate(10 125.0 94.0)" fill="#d42f80" fill-opacity="0.9"/>
<ellipse cx="154.0" cy="140.0" rx="6.0" ry="1.6" transform="rotate(-10 154.0 140.0)" fill="#e0358a" fill-opacity="0.9"/>
<ellipse cx="185.0" cy="110.0" rx="3.0" ry="1.8" transform="rotate(-20 185.0 110.0)" fill="#d42f80" fill-opacity="0.9"/>
<ellipse cx="122.0" cy="34.0" rx="2.0" ry="2.0" transform="rotate(0 122.0 34.0)" fill="#e0358a" fill-opacity="0.9"/>
<ellipse cx="196.0" cy="42.0" rx="2.0" ry="1.6" transform="rotate(0 196.0 42.0)" fill="#e5579e" fill-opacity="0.9"/>
<ellipse cx="160.0" cy="63.0" rx="2.0" ry="1.5" transform="rotate(0 160.0 63.0)" fill="#e5579e" fill-opacity="0.9"/>
<ellipse cx="104.0" cy="30.0" rx="1.6" ry="1.6" transform="rotate(0 104.0 30.0)" fill="#e5579e" fill-opacity="0.9"/>
<ellipse cx="140.0" cy="52.0" rx="1.6" ry="1.6" transform="rotate(0 140.0 52.0)" fill="#d42f80" fill-opacity="0.9"/>
<ellipse cx="176.0" cy="85.0" rx="2.0" ry="1.5" transform="rotate(0 176.0 85.0)" fill="#e5579e" fill-opacity="0.9"/>
<ellipse cx="60.0" cy="45.0" rx="1.5" ry="1.5" transform="rotate(0 60.0 45.0)" fill="#e04896" fill-opacity="0.9"/>
<ellipse cx="95.0" cy="130.0" rx="2.0" ry="1.5" transform="rotate(0 95.0 130.0)" fill="#e0358a" fill-opacity="0.9"/>
<ellipse cx="135.0" cy="150.0" rx="2.5" ry="1.4" transform="rotate(0 135.0 150.0)" fill="#d42f80" fill-opacity="0.9"/>
<ellipse cx="172.0" cy="131.0" rx="2.0" ry="1.4" transform="rotate(0 172.0 131.0)" fill="#e04896" fill-opacity="0.9"/>
<ellipse cx="36.0" cy="118.0" rx="3.5" ry="1.3" transform="rotate(60 36.0 118.0)" fill="#d42f80" fill-opacity="0.9"/>
<ellipse cx="28.0" cy="142.0" rx="4.0" ry="1.3" transform="rotate(20 28.0 142.0)" fill="#e5579e" fill-opacity="0.9"/>
<ellipse cx="112.0" cy="82.0" rx="3.0" ry="1.2" transform="rotate(-30 112.0 82.0)" fill="#e04896" fill-opacity="0.9"/>
<ellipse cx="128.0" cy="60.0" rx="3.5" ry="1.2" transform="rotate(20 128.0 60.0)" fill="#e5579e" fill-opacity="0.9"/>
<ellipse cx="165.0" cy="92.0" rx="3.0" ry="1.2" transform="rotate(-40 165.0 92.0)" fill="#e0358a" fill-opacity="0.9"/>
<ellipse cx="190.0" cy="80.0" rx="3.0" ry="1.3" transform="rotate(10 190.0 80.0)" fill="#e04896" fill-opacity="0.9"/>
<ellipse cx="70.0" cy="140.0" rx="3.0" ry="1.2" transform="rotate(0 70.0 140.0)" fill="#e5579e" fill-opacity="0.9"/>
<ellipse cx="52.0" cy="60.0" rx="2.5" ry="1.3" transform="rotate(70 52.0 60.0)" fill="#e0358a" fill-opacity="0.9"/>
<ellipse cx="148.0" cy="120.0" rx="2.5" ry="1.2" transform="rotate(80 148.0 120.0)" fill="#d42f80" fill-opacity="0.9"/>
<ellipse cx="100.0" cy="105.0" rx="3.0" ry="1.2" transform="rotate(40 100.0 105.0)" fill="#e04896" fill-opacity="0.9"/>
<ellipse cx="183.0" cy="125.0" rx="2.5" ry="1.2" transform="rotate(0 183.0 125.0)" fill="#d42f80" fill-opacity="0.9"/>
</g></g>
<g clip-path="url(#cr)">
<rect x="204.2" y="20.8" width="137.4" height="138.1" fill="#ddd0d8"/>
<g filter="url(#cells)">
<ellipse cx="247.8" cy="86.2" rx="16.3" ry="16.3" fill="#ece0da"/>
<ellipse cx="249.2" cy="129.8" rx="21.8" ry="16.3" fill="#ebe0dc"/>
<ellipse cx="217.8" cy="38.5" rx="8.2" ry="9.5" fill="#ece2dc"/>
<ellipse cx="253.2" cy="37.1" rx="19.1" ry="13.6" fill="#e3d6dc"/>
<ellipse cx="296.8" cy="105.3" rx="16.3" ry="13.6" fill="#e2d4da"/>
<ellipse cx="212.4" cy="88.9" rx="8.2" ry="19.1" fill="#ddd0d8"/>
<circle cx="254.0" cy="68.9" r="2.5" fill="#bf7444" fill-opacity="0.84"/>
<circle cx="231.1" cy="77.1" r="1.8" fill="#b36535" fill-opacity="0.87"/>
<circle cx="244.6" cy="105.2" r="1.8" fill="#c8844e" fill-opacity="0.80"/>
<circle cx="261.5" cy="78.3" r="2.2" fill="#d49462" fill-opacity="0.87"/>
<circle cx="262.1" cy="77.0" r="1.9" fill="#c47a45" fill-opacity="0.86"/>
<circle cx="241.4" cy="73.8" r="2.5" fill="#c8844e" fill-opacity="0.83"/>
<circle cx="240.5" cy="103.0" r="2.9" fill="#c47a45" fill-opacity="0.78"/>
<circle cx="244.9" cy="71.5" r="3.0" fill="#b36535" fill-opacity="0.76"/>
<circle cx="253.4" cy="71.7" r="2.1" fill="#c8844e" fill-opacity="0.87"/>
<circle cx="257.9" cy="74.1" r="3.2" fill="#bf7444" fill-opacity="0.99"/>
<circle cx="238.2" cy="102.2" r="1.7" fill="#c47a45" fill-opacity="0.85"/>
<circle cx="245.9" cy="108.7" r="2.7" fill="#c47a45" fill-opacity="0.92"/>
<circle cx="251.5" cy="66.9" r="1.8" fill="#d49462" fill-opacity="0.95"/>
<circle cx="263.0" cy="74.1" r="1.9" fill="#b36535" fill-opacity="1.00"/>
<circle cx="259.2" cy="102.4" r="3.0" fill="#cf8a55" fill-opacity="0.79"/>
<circle cx="233.0" cy="87.5" r="1.7" fill="#d49462" fill-opacity="0.78"/>
<circle cx="227.9" cy="81.5" r="2.2" fill="#c47a45" fill-opacity="0.83"/>
<circle cx="227.8" cy="99.8" r="2.5" fill="#c47a45" fill-opacity="0.99"/>
<circle cx="265.2" cy="77.8" r="2.7" fill="#b36535" fill-opacity="0.87"/>
<circle cx="265.7" cy="93.9" r="2.8" fill="#b86a38" fill-opacity="0.82"/>
<circle cx="251.2" cy="71.3" r="2.4" fill="#d49462" fill-opacity="0.90"/>
<circle cx="233.7" cy="79.4" r="2.8" fill="#cf8a55" fill-opacity="0.82"/>
<circle cx="253.1" cy="70.9" r="2.4" fill="#cf8a55" fill-opacity="0.99"/>
<circle cx="261.1" cy="98.5" r="1.8" fill="#b86a38" fill-opacity="0.95"/>
<circle cx="251.5" cy="68.7" r="2.1" fill="#cf8a55" fill-opacity="0.84"/>
<circle cx="247.3" cy="69.7" r="2.7" fill="#d49462" fill-opacity="0.94"/>
<circle cx="226.9" cy="80.3" r="1.7" fill="#b86a38" fill-opacity="0.95"/>
<circle cx="242.5" cy="68.1" r="1.8" fill="#b36535" fill-opacity="0.97"/>
<circle cx="234.0" cy="100.6" r="2.3" fill="#b86a38" fill-opacity="0.78"/>
<circle cx="233.5" cy="76.6" r="2.4" fill="#bf7444" fill-opacity="0.97"/>
<circle cx="255.3" cy="101.4" r="3.2" fill="#cf8a55" fill-opacity="1.00"/>
<circle cx="231.6" cy="83.8" r="2.7" fill="#c47a45" fill-opacity="0.89"/>
<circle cx="240.5" cy="105.4" r="2.3" fill="#d49462" fill-opacity="0.93"/>
<circle cx="264.1" cy="86.7" r="2.4" fill="#cf8a55" fill-opacity="0.77"/>
<circle cx="263.5" cy="94.3" r="2.6" fill="#c8844e" fill-opacity="0.76"/>
<circle cx="227.3" cy="93.0" r="3.0" fill="#c47a45" fill-opacity="0.98"/>
<circle cx="231.6" cy="99.1" r="2.5" fill="#c8844e" fill-opacity="0.92"/>
<circle cx="255.6" cy="70.0" r="3.0" fill="#c47a45" fill-opacity="0.97"/>
<circle cx="266.8" cy="85.4" r="1.9" fill="#b36535" fill-opacity="0.93"/>
<circle cx="237.8" cy="104.9" r="3.1" fill="#cf8a55" fill-opacity="0.79"/>
<circle cx="229.6" cy="87.6" r="2.1" fill="#b36535" fill-opacity="0.90"/>
<circle cx="233.9" cy="97.9" r="2.5" fill="#b86a38" fill-opacity="0.88"/>
<circle cx="263.4" cy="74.7" r="2.4" fill="#c8844e" fill-opacity="0.85"/>
<circle cx="234.1" cy="97.1" r="1.6" fill="#b36535" fill-opacity="0.87"/>
<circle cx="241.6" cy="69.6" r="1.9" fill="#d49462" fill-opacity="0.90"/>
<circle cx="224.8" cy="84.4" r="1.6" fill="#c47a45" fill-opacity="0.76"/>
<circle cx="233.2" cy="77.9" r="2.2" fill="#c47a45" fill-opacity="0.89"/>
<circle cx="260.1" cy="75.3" r="1.6" fill="#cf8a55" fill-opacity="0.85"/>
<circle cx="238.7" cy="105.1" r="2.6" fill="#bf7444" fill-opacity="0.99"/>
<circle cx="233.9" cy="104.6" r="3.0" fill="#bf7444" fill-opacity="0.94"/>
<circle cx="266.8" cy="80.7" r="1.6" fill="#c8844e" fill-opacity="0.85"/>
<circle cx="240.0" cy="70.7" r="1.7" fill="#b86a38" fill-opacity="0.92"/>
<circle cx="265.8" cy="94.4" r="2.2" fill="#c47a45" fill-opacity="0.96"/>
<circle cx="242.0" cy="103.9" r="2.9" fill="#cf8a55" fill-opacity="0.78"/>
<circle cx="262.9" cy="83.1" r="2.1" fill="#c8844e" fill-opacity="0.78"/>
<circle cx="233.0" cy="99.0" r="2.0" fill="#cf8a55" fill-opacity="0.82"/>
<circle cx="238.1" cy="68.8" r="2.7" fill="#b36535" fill-opacity="0.90"/>
<circle cx="254.3" cy="104.6" r="3.0" fill="#bf7444" fill-opacity="0.94"/>
<circle cx="232.4" cy="96.7" r="2.5" fill="#c47a45" fill-opacity="0.85"/>
<circle cx="236.6" cy="103.8" r="3.1" fill="#d49462" fill-opacity="0.96"/>
<circle cx="233.4" cy="100.4" r="2.9" fill="#b86a38" fill-opacity="0.86"/>
<circle cx="226.1" cy="85.7" r="2.6" fill="#c47a45" fill-opacity="0.91"/>
<circle cx="260.2" cy="106.5" r="1.9" fill="#d49462" fill-opacity="0.83"/>
<circle cx="234.8" cy="71.2" r="2.4" fill="#b36535" fill-opacity="0.84"/>
<circle cx="260.3" cy="76.3" r="2.0" fill="#c8844e" fill-opacity="0.83"/>
<circle cx="262.1" cy="73.0" r="3.1" fill="#c8844e" fill-opacity="0.94"/>
<circle cx="229.0" cy="78.9" r="2.6" fill="#c47a45" fill-opacity="0.76"/>
<circle cx="238.1" cy="71.3" r="2.9" fill="#b86a38" fill-opacity="1.00"/>
<circle cx="265.0" cy="74.7" r="2.0" fill="#cf8a55" fill-opacity="0.78"/>
<circle cx="257.0" cy="99.4" r="2.6" fill="#cf8a55" fill-opacity="0.86"/>
<circle cx="246.2" cy="67.0" r="1.8" fill="#cf8a55" fill-opacity="0.81"/>
<circle cx="241.2" cy="103.4" r="2.1" fill="#b86a38" fill-opacity="0.96"/>
<circle cx="263.8" cy="87.8" r="2.6" fill="#b86a38" fill-opacity="0.99"/>
<circle cx="249.2" cy="109.2" r="2.7" fill="#bf7444" fill-opacity="0.95"/>
<circle cx="246.5" cy="107.4" r="3.2" fill="#cf8a55" fill-opacity="0.90"/>
<circle cx="250.6" cy="68.3" r="2.3" fill="#c8844e" fill-opacity="0.79"/>
<circle cx="226.7" cy="83.6" r="1.7" fill="#bf7444" fill-opacity="0.98"/>
<circle cx="236.6" cy="69.9" r="1.8" fill="#d49462" fill-opacity="0.97"/>
<circle cx="228.1" cy="95.1" r="2.7" fill="#c47a45" fill-opacity="0.99"/>
<circle cx="261.8" cy="98.1" r="2.7" fill="#d49462" fill-opacity="0.83"/>
<circle cx="261.1" cy="98.9" r="2.6" fill="#b86a38" fill-opacity="0.97"/>
<circle cx="242.1" cy="103.5" r="1.9" fill="#b86a38" fill-opacity="0.82"/>
<circle cx="261.9" cy="79.5" r="3.0" fill="#c47a45" fill-opacity="0.80"/>
<circle cx="247.0" cy="66.2" r="3.1" fill="#b86a38" fill-opacity="1.00"/>
<circle cx="232.3" cy="82.2" r="2.1" fill="#c47a45" fill-opacity="0.76"/>
<circle cx="265.1" cy="88.6" r="3.1" fill="#b36535" fill-opacity="0.91"/>
<circle cx="243.8" cy="67.7" r="2.8" fill="#b86a38" fill-opacity="0.95"/>
<circle cx="232.5" cy="92.0" r="1.7" fill="#b86a38" fill-opacity="0.82"/>
<circle cx="239.5" cy="106.4" r="2.3" fill="#b36535" fill-opacity="0.99"/>
<circle cx="260.4" cy="97.2" r="1.9" fill="#d49462" fill-opacity="0.77"/>
<circle cx="248.7" cy="105.4" r="2.2" fill="#cf8a55" fill-opacity="0.77"/>
<circle cx="246.2" cy="106.8" r="2.7" fill="#b86a38" fill-opacity="0.80"/>
<circle cx="264.7" cy="93.7" r="2.7" fill="#c47a45" fill-opacity="0.81"/>
<circle cx="239.6" cy="70.5" r="1.8" fill="#c47a45" fill-opacity="0.80"/>
<circle cx="227.6" cy="81.4" r="2.5" fill="#d49462" fill-opacity="0.92"/>
<circle cx="261.8" cy="101.7" r="1.9" fill="#bf7444" fill-opacity="0.75"/>
<circle cx="259.3" cy="71.7" r="2.3" fill="#c8844e" fill-opacity="0.90"/>
<circle cx="258.5" cy="70.4" r="2.7" fill="#b86a38" fill-opacity="0.78"/>
<circle cx="230.2" cy="84.6" r="2.2" fill="#b36535" fill-opacity="0.93"/>
<circle cx="231.0" cy="90.7" r="3.0" fill="#cf8a55" fill-opacity="0.99"/>
<circle cx="229.8" cy="104.4" r="2.0" fill="#c8844e" fill-opacity="0.83"/>
<circle cx="266.0" cy="82.3" r="1.9" fill="#d49462" fill-opacity="0.97"/>
<circle cx="237.8" cy="103.6" r="2.6" fill="#c8844e" fill-opacity="0.96"/>
<circle cx="244.4" cy="108.7" r="1.9" fill="#b86a38" fill-opacity="0.86"/>
<circle cx="234.9" cy="104.4" r="2.6" fill="#d49462" fill-opacity="0.95"/>
<circle cx="226.1" cy="89.4" r="2.3" fill="#cf8a55" fill-opacity="0.82"/>
<circle cx="265.4" cy="78.1" r="2.3" fill="#d49462" fill-opacity="0.81"/>
<circle cx="256.6" cy="70.3" r="1.7" fill="#c8844e" fill-opacity="0.92"/>
<circle cx="245.0" cy="71.9" r="1.9" fill="#d49462" fill-opacity="0.95"/>
<circle cx="231.2" cy="83.0" r="2.5" fill="#b36535" fill-opacity="0.83"/>
<circle cx="226.8" cy="77.0" r="0.9" fill="#b86a38" fill-opacity="0.91"/>
<circle cx="226.5" cy="77.4" r="1.0" fill="#b86a38" fill-opacity="0.77"/>
<circle cx="227.8" cy="98.5" r="1.0" fill="#bf7444" fill-opacity="0.82"/>
<circle cx="246.1" cy="65.3" r="0.8" fill="#bf7444" fill-opacity="0.86"/>
<circle cx="226.9" cy="76.2" r="1.1" fill="#b36535" fill-opacity="0.76"/>
<circle cx="263.3" cy="72.6" r="1.3" fill="#d49462" fill-opacity="0.90"/>
<circle cx="269.3" cy="87.3" r="1.1" fill="#bf7444" fill-opacity="0.89"/>
<circle cx="235.4" cy="107.6" r="1.1" fill="#d49462" fill-opacity="0.80"/>
<circle cx="225.9" cy="78.7" r="0.8" fill="#c47a45" fill-opacity="0.77"/>
<circle cx="249.5" cy="110.8" r="1.4" fill="#d49462" fill-opacity="0.81"/>
<circle cx="229.3" cy="74.1" r="1.0" fill="#d49462" fill-opacity="0.90"/>
<circle cx="228.0" cy="74.5" r="1.0" fill="#b36535" fill-opacity="0.83"/>
<circle cx="228.8" cy="74.5" r="1.2" fill="#b86a38" fill-opacity="0.88"/>
<circle cx="238.4" cy="66.4" r="1.4" fill="#c47a45" fill-opacity="0.77"/>
<circle cx="237.3" cy="67.6" r="0.9" fill="#d49462" fill-opacity="0.75"/>
<circle cx="261.5" cy="70.4" r="1.4" fill="#b36535" fill-opacity="0.76"/>
<circle cx="240.4" cy="110.0" r="1.1" fill="#b36535" fill-opacity="0.91"/>
<circle cx="228.4" cy="100.8" r="1.0" fill="#c47a45" fill-opacity="0.82"/>
<circle cx="224.7" cy="85.5" r="1.1" fill="#d49462" fill-opacity="0.88"/>
<circle cx="267.4" cy="76.6" r="1.3" fill="#b86a38" fill-opacity="0.92"/>
<circle cx="226.3" cy="97.8" r="1.4" fill="#c47a45" fill-opacity="0.97"/>
<circle cx="251.2" cy="111.2" r="1.0" fill="#cf8a55" fill-opacity="1.00"/>
<circle cx="269.7" cy="83.5" r="0.9" fill="#b36535" fill-opacity="0.95"/>
<circle cx="226.1" cy="98.1" r="1.3" fill="#c8844e" fill-opacity="0.82"/>
<circle cx="236.5" cy="107.9" r="0.8" fill="#c47a45" fill-opacity="0.79"/>
<circle cx="246.4" cy="65.8" r="1.1" fill="#b36535" fill-opacity="0.95"/>
<circle cx="247.6" cy="65.0" r="1.0" fill="#bf7444" fill-opacity="0.97"/>
<circle cx="227.9" cy="101.2" r="0.9" fill="#b86a38" fill-opacity="0.84"/>
<circle cx="244.7" cy="66.3" r="1.0" fill="#d49462" fill-opacity="0.88"/>
<circle cx="250.1" cy="111.2" r="0.8" fill="#cf8a55" fill-opacity="0.87"/>
<circle cx="234.4" cy="106.7" r="1.1" fill="#cf8a55" fill-opacity="0.75"/>
<circle cx="226.8" cy="99.4" r="0.9" fill="#c8844e" fill-opacity="0.83"/>
<circle cx="244.9" cy="65.2" r="1.3" fill="#b36535" fill-opacity="0.89"/>
<circle cx="267.3" cy="78.4" r="1.2" fill="#cf8a55" fill-opacity="0.92"/>
<circle cx="237.7" cy="67.5" r="1.1" fill="#b86a38" fill-opacity="0.87"/>
<circle cx="237.1" cy="67.8" r="0.9" fill="#d49462" fill-opacity="0.94"/>
<circle cx="242.5" cy="110.2" r="1.1" fill="#c8844e" fill-opacity="0.80"/>
<circle cx="250.4" cy="66.0" r="1.2" fill="#cf8a55" fill-opacity="0.84"/>
<circle cx="260.7" cy="68.9" r="1.3" fill="#b36535" fill-opacity="0.94"/>
<circle cx="259.5" cy="69.7" r="1.4" fill="#cf8a55" fill-opacity="0.98"/>
<circle cx="225.6" cy="97.2" r="1.1" fill="#d49462" fill-opacity="0.96"/>
<circle cx="249.6" cy="110.9" r="1.0" fill="#b36535" fill-opacity="0.90"/>
<circle cx="269.3" cy="87.2" r="1.0" fill="#bf7444" fill-opacity="0.87"/>
<circle cx="226.7" cy="77.8" r="1.3" fill="#b86a38" fill-opacity="0.89"/>
<circle cx="229.5" cy="104.1" r="1.3" fill="#b36535" fill-opacity="0.79"/>
<circle cx="229.0" cy="103.8" r="1.0" fill="#b86a38" fill-opacity="0.78"/>
<circle cx="252.4" cy="110.2" r="1.3" fill="#cf8a55" fill-opacity="0.88"/>
<circle cx="256.6" cy="67.1" r="0.9" fill="#c8844e" fill-opacity="0.82"/>
<circle cx="255.9" cy="108.8" r="0.9" fill="#d49462" fill-opacity="0.93"/>
<circle cx="261.2" cy="70.0" r="1.3" fill="#cf8a55" fill-opacity="0.96"/>
<circle cx="228.2" cy="100.5" r="1.2" fill="#d49462" fill-opacity="0.88"/>
<circle cx="267.7" cy="79.5" r="1.1" fill="#c47a45" fill-opacity="0.85"/>
<circle cx="262.2" cy="72.1" r="0.8" fill="#c8844e" fill-opacity="0.85"/>
<circle cx="269.0" cy="88.7" r="1.2" fill="#b86a38" fill-opacity="0.91"/>
<circle cx="230.4" cy="73.7" r="0.9" fill="#c47a45" fill-opacity="0.81"/>
<circle cx="262.1" cy="71.3" r="1.3" fill="#cf8a55" fill-opacity="0.96"/>
<circle cx="237.2" cy="67.8" r="1.2" fill="#c8844e" fill-opacity="0.82"/>
<circle cx="249.5" cy="65.6" r="1.0" fill="#c8844e" fill-opacity="0.88"/>
<circle cx="267.5" cy="76.7" r="1.4" fill="#c47a45" fill-opacity="0.80"/>
<circle cx="261.3" cy="105.5" r="1.3" fill="#c8844e" fill-opacity="0.79"/>
<circle cx="247.0" cy="88.1" r="22.9" fill="none" stroke="#b87040" stroke-width="1.1" stroke-opacity="0.8"/>
<ellipse cx="250.0" cy="127.6" rx="28.3" ry="24.5" fill="none" stroke="#b87040" stroke-width="1.1" stroke-opacity="0.7"/>
<circle cx="269.9" cy="136.2" r="2.3" fill="#b86a38" fill-opacity="0.98"/>
<circle cx="265.0" cy="114.4" r="3.1" fill="#d49462" fill-opacity="0.85"/>
<circle cx="264.4" cy="144.9" r="2.9" fill="#c8844e" fill-opacity="0.92"/>
<circle cx="237.1" cy="111.6" r="3.0" fill="#d49462" fill-opacity="0.91"/>
<circle cx="256.5" cy="108.2" r="2.7" fill="#c47a45" fill-opacity="0.99"/>
<circle cx="248.2" cy="103.3" r="3.1" fill="#c8844e" fill-opacity="0.81"/>
<circle cx="241.2" cy="145.0" r="2.9" fill="#b86a38" fill-opacity="0.94"/>
<circle cx="271.0" cy="115.6" r="2.0" fill="#cf8a55" fill-opacity="0.75"/>
<circle cx="266.9" cy="112.8" r="2.5" fill="#bf7444" fill-opacity="0.97"/>
<circle cx="251.4" cy="144.8" r="3.0" fill="#cf8a55" fill-opacity="0.91"/>
<circle cx="265.9" cy="142.7" r="3.0" fill="#cf8a55" fill-opacity="0.87"/>
<circle cx="251.9" cy="147.4" r="2.0" fill="#c47a45" fill-opacity="0.89"/>
<circle cx="242.7" cy="143.8" r="2.7" fill="#d49462" fill-opacity="0.79"/>
<circle cx="230.2" cy="115.7" r="2.7" fill="#bf7444" fill-opacity="0.91"/>
<circle cx="229.2" cy="116.8" r="2.8" fill="#c47a45" fill-opacity="0.86"/>
<circle cx="243.3" cy="106.3" r="2.8" fill="#b36535" fill-opacity="0.92"/>
<circle cx="271.1" cy="117.6" r="2.4" fill="#d49462" fill-opacity="0.93"/>
<circle cx="249.1" cy="151.7" r="2.1" fill="#cf8a55" fill-opacity="0.95"/>
<circle cx="272.3" cy="116.1" r="2.8" fill="#cf8a55" fill-opacity="0.87"/>
<circle cx="270.2" cy="136.6" r="3.1" fill="#c8844e" fill-opacity="0.96"/>
<circle cx="232.2" cy="112.0" r="1.8" fill="#c8844e" fill-opacity="0.88"/>
<circle cx="228.5" cy="116.1" r="1.9" fill="#cf8a55" fill-opacity="0.98"/>
<circle cx="253.8" cy="147.3" r="2.4" fill="#b86a38" fill-opacity="0.76"/>
<circle cx="273.0" cy="118.7" r="1.9" fill="#b36535" fill-opacity="0.93"/>
<circle cx="225.8" cy="130.7" r="2.2" fill="#bf7444" fill-opacity="0.85"/>
<circle cx="224.2" cy="136.5" r="2.9" fill="#b86a38" fill-opacity="0.77"/>
<circle cx="229.8" cy="110.4" r="3.0" fill="#d49462" fill-opacity="0.79"/>
<circle cx="237.0" cy="110.6" r="1.8" fill="#c47a45" fill-opacity="0.95"/>
<circle cx="224.1" cy="137.5" r="2.6" fill="#bf7444" fill-opacity="0.85"/>
<circle cx="268.4" cy="115.9" r="2.5" fill="#b86a38" fill-opacity="0.94"/>
<circle cx="248.9" cy="106.0" r="2.0" fill="#c8844e" fill-opacity="0.98"/>
<circle cx="230.2" cy="138.5" r="1.6" fill="#b86a38" fill-opacity="0.99"/>
<circle cx="272.3" cy="121.4" r="2.7" fill="#c8844e" fill-opacity="0.93"/>
<circle cx="229.0" cy="135.0" r="2.3" fill="#d49462" fill-opacity="0.94"/>
<circle cx="237.8" cy="104.7" r="1.7" fill="#d49462" fill-opacity="0.81"/>
<circle cx="242.8" cy="148.4" r="2.3" fill="#c47a45" fill-opacity="0.85"/>
<circle cx="271.1" cy="113.2" r="2.8" fill="#b36535" fill-opacity="0.99"/>
<circle cx="276.7" cy="129.5" r="2.4" fill="#cf8a55" fill-opacity="0.85"/>
<circle cx="265.7" cy="106.0" r="2.3" fill="#cf8a55" fill-opacity="0.94"/>
<circle cx="273.0" cy="130.6" r="3.1" fill="#c47a45" fill-opacity="0.82"/>
<circle cx="266.7" cy="113.3" r="2.3" fill="#c8844e" fill-opacity="0.84"/>
<circle cx="256.9" cy="146.5" r="2.1" fill="#d49462" fill-opacity="0.81"/>
<circle cx="269.3" cy="137.0" r="2.6" fill="#bf7444" fill-opacity="0.81"/>
<circle cx="225.9" cy="127.6" r="2.5" fill="#cf8a55" fill-opacity="0.98"/>
<circle cx="269.9" cy="127.0" r="2.0" fill="#b86a38" fill-opacity="0.83"/>
<circle cx="271.6" cy="116.4" r="1.7" fill="#c8844e" fill-opacity="0.88"/>
<circle cx="268.1" cy="117.2" r="2.0" fill="#d49462" fill-opacity="0.99"/>
<circle cx="254.6" cy="104.1" r="2.7" fill="#b86a38" fill-opacity="0.82"/>
<circle cx="235.1" cy="109.3" r="2.0" fill="#b86a38" fill-opacity="0.96"/>
<circle cx="225.7" cy="131.1" r="3.0" fill="#b86a38" fill-opacity="0.87"/>
<circle cx="272.1" cy="116.5" r="2.5" fill="#b36535" fill-opacity="0.82"/>
<circle cx="269.2" cy="143.3" r="2.6" fill="#bf7444" fill-opacity="0.94"/>
<circle cx="268.2" cy="112.3" r="2.6" fill="#b36535" fill-opacity="0.96"/>
<circle cx="243.1" cy="144.4" r="2.7" fill="#b36535" fill-opacity="0.78"/>
<circle cx="256.9" cy="147.8" r="2.6" fill="#bf7444" fill-opacity="0.79"/>
<circle cx="225.2" cy="133.4" r="2.8" fill="#d49462" fill-opacity="0.92"/>
<circle cx="272.4" cy="114.7" r="2.2" fill="#bf7444" fill-opacity="0.87"/>
<circle cx="264.7" cy="106.2" r="2.7" fill="#c47a45" fill-opacity="0.99"/>
<circle cx="270.1" cy="134.6" r="2.9" fill="#b36535" fill-opacity="0.87"/>
<circle cx="257.1" cy="108.2" r="2.9" fill="#b86a38" fill-opacity="0.86"/>
<circle cx="228.5" cy="141.2" r="2.1" fill="#b86a38" fill-opacity="0.85"/>
<circle cx="263.0" cy="106.9" r="2.4" fill="#d49462" fill-opacity="0.89"/>
<circle cx="263.3" cy="147.1" r="1.6" fill="#bf7444" fill-opacity="0.90"/>
<circle cx="231.9" cy="110.7" r="2.7" fill="#cf8a55" fill-opacity="0.90"/>
<circle cx="232.4" cy="141.5" r="3.1" fill="#c47a45" fill-opacity="0.82"/>
<circle cx="227.9" cy="135.4" r="2.9" fill="#cf8a55" fill-opacity="0.89"/>
<circle cx="270.3" cy="118.9" r="2.3" fill="#c47a45" fill-opacity="0.92"/>
<circle cx="224.7" cy="119.8" r="2.3" fill="#c8844e" fill-opacity="0.88"/>
<circle cx="268.3" cy="138.4" r="2.0" fill="#c47a45" fill-opacity="0.78"/>
<circle cx="258.8" cy="149.4" r="2.3" fill="#bf7444" fill-opacity="0.95"/>
<circle cx="252.7" cy="108.6" r="2.1" fill="#bf7444" fill-opacity="0.98"/>
<circle cx="271.1" cy="142.6" r="1.6" fill="#cf8a55" fill-opacity="0.91"/>
<circle cx="258.0" cy="108.5" r="1.7" fill="#b86a38" fill-opacity="0.95"/>
<circle cx="272.4" cy="134.2" r="2.4" fill="#cf8a55" fill-opacity="0.88"/>
<circle cx="257.3" cy="148.0" r="3.1" fill="#b86a38" fill-opacity="0.79"/>
<circle cx="272.5" cy="124.0" r="1.7" fill="#d49462" fill-opacity="0.81"/>
<circle cx="244.4" cy="145.0" r="1.9" fill="#c47a45" fill-opacity="0.86"/>
<circle cx="270.8" cy="137.3" r="2.3" fill="#cf8a55" fill-opacity="0.92"/>
<circle cx="240.7" cy="108.6" r="1.9" fill="#d49462" fill-opacity="1.00"/>
<circle cx="273.6" cy="140.4" r="3.1" fill="#c47a45" fill-opacity="0.92"/>
<circle cx="227.5" cy="140.2" r="2.7" fill="#b86a38" fill-opacity="0.79"/>
<circle cx="242.6" cy="103.9" r="3.2" fill="#bf7444" fill-opacity="0.95"/>
<circle cx="224.0" cy="131.0" r="1.7" fill="#b86a38" fill-opacity="0.82"/>
<circle cx="257.2" cy="109.9" r="1.8" fill="#c47a45" fill-opacity="0.82"/>
<circle cx="251.1" cy="144.3" r="2.3" fill="#cf8a55" fill-opacity="0.77"/>
<circle cx="262.4" cy="110.9" r="2.2" fill="#cf8a55" fill-opacity="0.88"/>
<circle cx="236.4" cy="146.6" r="1.6" fill="#cf8a55" fill-opacity="0.88"/>
<circle cx="261.7" cy="104.5" r="2.6" fill="#c47a45" fill-opacity="0.92"/>
<circle cx="246.9" cy="101.9" r="2.8" fill="#b86a38" fill-opacity="0.77"/>
<circle cx="266.7" cy="115.6" r="1.9" fill="#b86a38" fill-opacity="0.94"/>
<circle cx="245.1" cy="146.4" r="2.8" fill="#c8844e" fill-opacity="1.00"/>
<circle cx="222.6" cy="117.2" r="2.9" fill="#b36535" fill-opacity="0.96"/>
<circle cx="267.8" cy="113.8" r="2.3" fill="#b86a38" fill-opacity="0.80"/>
<circle cx="256.9" cy="149.4" r="1.6" fill="#b86a38" fill-opacity="0.93"/>
<circle cx="253.5" cy="147.8" r="1.8" fill="#c8844e" fill-opacity="0.90"/>
<circle cx="227.8" cy="132.1" r="1.8" fill="#b36535" fill-opacity="0.75"/>
<circle cx="273.3" cy="117.2" r="3.1" fill="#bf7444" fill-opacity="0.75"/>
<circle cx="225.0" cy="135.4" r="1.7" fill="#cf8a55" fill-opacity="0.96"/>
<circle cx="221.8" cy="124.3" r="2.1" fill="#b86a38" fill-opacity="0.86"/>
<circle cx="226.6" cy="112.4" r="2.5" fill="#b86a38" fill-opacity="0.95"/>
<circle cx="242.5" cy="105.2" r="2.9" fill="#d49462" fill-opacity="0.89"/>
<circle cx="267.2" cy="141.3" r="2.1" fill="#bf7444" fill-opacity="0.95"/>
<circle cx="235.1" cy="143.1" r="2.5" fill="#c47a45" fill-opacity="0.98"/>
<circle cx="230.3" cy="109.5" r="1.6" fill="#cf8a55" fill-opacity="0.80"/>
<circle cx="268.7" cy="143.2" r="2.1" fill="#b36535" fill-opacity="0.94"/>
<circle cx="242.6" cy="144.6" r="2.5" fill="#b36535" fill-opacity="0.82"/>
<circle cx="261.2" cy="143.2" r="2.3" fill="#cf8a55" fill-opacity="1.00"/>
<circle cx="228.1" cy="117.5" r="2.8" fill="#bf7444" fill-opacity="0.97"/>
<circle cx="254.0" cy="109.2" r="2.3" fill="#b86a38" fill-opacity="0.79"/>
<circle cx="223.7" cy="124.2" r="2.0" fill="#bf7444" fill-opacity="0.93"/>
<circle cx="265.8" cy="140.2" r="2.3" fill="#d49462" fill-opacity="0.92"/>
<circle cx="238.8" cy="105.6" r="1.6" fill="#b36535" fill-opacity="0.80"/>
<circle cx="249.6" cy="147.9" r="2.5" fill="#bf7444" fill-opacity="0.77"/>
<circle cx="249.8" cy="148.2" r="2.5" fill="#bf7444" fill-opacity="0.85"/>
<circle cx="270.1" cy="112.7" r="2.2" fill="#c8844e" fill-opacity="0.90"/>
<circle cx="267.9" cy="116.4" r="1.8" fill="#bf7444" fill-opacity="0.77"/>
<circle cx="227.5" cy="141.3" r="2.3" fill="#b86a38" fill-opacity="0.88"/>
<circle cx="232.1" cy="115.8" r="3.1" fill="#b86a38" fill-opacity="0.88"/>
<circle cx="254.6" cy="145.0" r="2.5" fill="#c47a45" fill-opacity="0.93"/>
<circle cx="225.6" cy="134.7" r="2.0" fill="#d49462" fill-opacity="0.85"/>
<circle cx="217.0" cy="29.0" r="1.9" fill="#bf7444" fill-opacity="0.95"/>
<circle cx="222.1" cy="26.1" r="2.6" fill="#d49462" fill-opacity="0.98"/>
<circle cx="230.2" cy="32.3" r="2.6" fill="#cf8a55" fill-opacity="0.77"/>
<circle cx="211.4" cy="34.7" r="2.0" fill="#b86a38" fill-opacity="0.75"/>
<circle cx="216.8" cy="24.7" r="3.1" fill="#d49462" fill-opacity="0.98"/>
<circle cx="220.2" cy="26.5" r="2.8" fill="#c47a45" fill-opacity="0.81"/>
<circle cx="216.4" cy="22.5" r="3.0" fill="#cf8a55" fill-opacity="0.79"/>
<circle cx="226.4" cy="42.7" r="2.8" fill="#b36535" fill-opacity="0.86"/>
<circle cx="228.1" cy="43.4" r="2.6" fill="#c47a45" fill-opacity="0.94"/>
<circle cx="212.4" cy="36.2" r="2.8" fill="#d49462" fill-opacity="0.86"/>
<circle cx="229.4" cy="30.8" r="2.7" fill="#d49462" fill-opacity="0.99"/>
<circle cx="229.8" cy="41.6" r="1.9" fill="#c47a45" fill-opacity="0.82"/>
<circle cx="231.3" cy="33.5" r="2.5" fill="#b86a38" fill-opacity="0.94"/>
<circle cx="222.4" cy="51.6" r="2.8" fill="#d49462" fill-opacity="0.80"/>
<circle cx="230.3" cy="43.1" r="2.9" fill="#cf8a55" fill-opacity="0.78"/>
<circle cx="207.5" cy="30.3" r="2.0" fill="#b86a38" fill-opacity="0.76"/>
<circle cx="214.2" cy="29.5" r="2.4" fill="#bf7444" fill-opacity="0.76"/>
<circle cx="208.2" cy="37.1" r="2.8" fill="#c47a45" fill-opacity="0.83"/>
<circle cx="218.7" cy="27.4" r="1.9" fill="#d49462" fill-opacity="0.87"/>
<circle cx="217.7" cy="27.7" r="2.7" fill="#cf8a55" fill-opacity="0.76"/>
<circle cx="222.9" cy="46.4" r="2.3" fill="#b86a38" fill-opacity="0.99"/>
<circle cx="227.5" cy="53.2" r="2.3" fill="#bf7444" fill-opacity="0.89"/>
<circle cx="215.4" cy="25.8" r="2.1" fill="#c47a45" fill-opacity="0.80"/>
<circle cx="215.2" cy="54.5" r="2.7" fill="#b36535" fill-opacity="0.84"/>
<circle cx="210.9" cy="34.5" r="2.5" fill="#c47a45" fill-opacity="0.75"/>
<circle cx="210.6" cy="31.6" r="2.0" fill="#c8844e" fill-opacity="0.85"/>
<circle cx="229.6" cy="48.6" r="2.0" fill="#cf8a55" fill-opacity="0.88"/>
<circle cx="230.6" cy="45.5" r="1.7" fill="#cf8a55" fill-opacity="0.79"/>
<circle cx="221.6" cy="24.1" r="2.9" fill="#c47a45" fill-opacity="0.92"/>
<circle cx="230.9" cy="54.9" r="2.0" fill="#d49462" fill-opacity="0.99"/>
<circle cx="211.7" cy="26.8" r="2.3" fill="#b36535" fill-opacity="0.79"/>
<circle cx="224.0" cy="30.0" r="2.4" fill="#b36535" fill-opacity="0.79"/>
<circle cx="221.3" cy="47.4" r="3.2" fill="#c47a45" fill-opacity="0.83"/>
<circle cx="213.5" cy="22.1" r="1.9" fill="#cf8a55" fill-opacity="0.93"/>
<circle cx="223.2" cy="21.7" r="2.7" fill="#bf7444" fill-opacity="0.95"/>
<circle cx="223.5" cy="49.0" r="3.1" fill="#b36535" fill-opacity="0.96"/>
<circle cx="219.9" cy="20.1" r="3.1" fill="#cf8a55" fill-opacity="0.84"/>
<circle cx="218.2" cy="49.1" r="3.0" fill="#b86a38" fill-opacity="0.90"/>
<circle cx="230.8" cy="42.8" r="2.1" fill="#d49462" fill-opacity="0.87"/>
<circle cx="228.6" cy="34.8" r="2.0" fill="#c47a45" fill-opacity="0.97"/>
<circle cx="234.7" cy="31.0" r="2.7" fill="#c47a45" fill-opacity="0.84"/>
<circle cx="215.1" cy="50.1" r="2.3" fill="#c8844e" fill-opacity="0.87"/>
<circle cx="208.9" cy="27.2" r="2.1" fill="#d49462" fill-opacity="0.88"/>
<circle cx="222.8" cy="31.1" r="2.5" fill="#cf8a55" fill-opacity="0.85"/>
<circle cx="208.3" cy="41.2" r="2.9" fill="#d49462" fill-opacity="0.82"/>
<circle cx="230.9" cy="32.6" r="2.5" fill="#b36535" fill-opacity="0.80"/>
<circle cx="218.7" cy="50.5" r="2.3" fill="#c47a45" fill-opacity="0.90"/>
<circle cx="223.6" cy="49.9" r="2.3" fill="#cf8a55" fill-opacity="0.94"/>
<circle cx="230.1" cy="24.2" r="3.1" fill="#cf8a55" fill-opacity="0.78"/>
<circle cx="213.2" cy="27.9" r="3.2" fill="#d49462" fill-opacity="0.84"/>
<circle cx="232.3" cy="37.9" r="2.0" fill="#c8844e" fill-opacity="0.92"/>
<circle cx="219.8" cy="22.4" r="2.1" fill="#cf8a55" fill-opacity="0.90"/>
<circle cx="221.4" cy="29.2" r="2.5" fill="#b36535" fill-opacity="0.92"/>
<circle cx="210.8" cy="49.3" r="3.2" fill="#c8844e" fill-opacity="0.92"/>
<circle cx="223.7" cy="23.0" r="1.7" fill="#b36535" fill-opacity="0.99"/>
<circle cx="205.4" cy="44.4" r="2.3" fill="#b36535" fill-opacity="0.96"/>
<circle cx="232.8" cy="35.2" r="2.3" fill="#b86a38" fill-opacity="0.94"/>
<circle cx="232.8" cy="43.6" r="2.9" fill="#cf8a55" fill-opacity="0.76"/>
<circle cx="227.2" cy="46.1" r="2.3" fill="#bf7444" fill-opacity="0.99"/>
<circle cx="222.2" cy="54.0" r="2.8" fill="#b86a38" fill-opacity="0.92"/>
<circle cx="225.9" cy="22.3" r="2.3" fill="#b36535" fill-opacity="0.90"/>
<circle cx="231.8" cy="35.8" r="2.5" fill="#c47a45" fill-opacity="0.94"/>
<circle cx="226.2" cy="23.8" r="2.5" fill="#c47a45" fill-opacity="0.75"/>
<circle cx="211.1" cy="40.5" r="2.5" fill="#d49462" fill-opacity="0.77"/>
<circle cx="216.6" cy="24.8" r="2.7" fill="#cf8a55" fill-opacity="0.78"/>
<circle cx="206.0" cy="38.2" r="1.8" fill="#cf8a55" fill-opacity="0.81"/>
<circle cx="225.3" cy="30.3" r="2.2" fill="#c8844e" fill-opacity="0.87"/>
<circle cx="230.7" cy="34.8" r="2.8" fill="#b86a38" fill-opacity="0.99"/>
<circle cx="209.8" cy="33.0" r="3.1" fill="#bf7444" fill-opacity="0.79"/>
<circle cx="230.4" cy="43.6" r="2.4" fill="#cf8a55" fill-opacity="0.82"/>
<circle cx="336.4" cy="41.2" r="2.4" fill="#cf8a55" fill-opacity="0.90"/>
<circle cx="291.5" cy="54.5" r="1.7" fill="#bf7444" fill-opacity="0.75"/>
<circle cx="319.2" cy="41.4" r="1.8" fill="#c47a45" fill-opacity="0.73"/>
<circle cx="307.4" cy="54.3" r="2.8" fill="#d49462" fill-opacity="0.88"/>
<circle cx="329.1" cy="44.3" r="1.8" fill="#bf7444" fill-opacity="0.88"/>
<circle cx="315.6" cy="54.6" r="2.3" fill="#c8844e" fill-opacity="0.80"/>
<circle cx="303.8" cy="40.5" r="2.8" fill="#bf7444" fill-opacity="0.82"/>
<circle cx="308.3" cy="22.6" r="2.5" fill="#bf7444" fill-opacity="0.94"/>
<circle cx="288.5" cy="43.3" r="1.7" fill="#c47a45" fill-opacity="0.92"/>
<circle cx="338.7" cy="30.9" r="1.8" fill="#bf7444" fill-opacity="0.87"/>
<circle cx="279.0" cy="49.9" r="1.8" fill="#bf7444" fill-opacity="0.74"/>
<circle cx="323.0" cy="22.5" r="2.1" fill="#c47a45" fill-opacity="0.75"/>
<circle cx="328.2" cy="22.7" r="1.8" fill="#c47a45" fill-opacity="0.85"/>
<circle cx="282.9" cy="55.9" r="2.1" fill="#bf7444" fill-opacity="0.83"/>
<circle cx="325.6" cy="38.2" r="2.7" fill="#bf7444" fill-opacity="0.77"/>
<circle cx="311.5" cy="50.5" r="1.9" fill="#b36535" fill-opacity="0.89"/>
<circle cx="314.5" cy="45.3" r="2.0" fill="#b36535" fill-opacity="0.90"/>
<circle cx="332.8" cy="37.5" r="1.7" fill="#b86a38" fill-opacity="0.94"/>
<circle cx="311.0" cy="45.0" r="1.7" fill="#b36535" fill-opacity="0.81"/>
<circle cx="335.7" cy="29.6" r="1.5" fill="#bf7444" fill-opacity="0.80"/>
<circle cx="324.4" cy="46.3" r="2.8" fill="#c8844e" fill-opacity="0.88"/>
<circle cx="280.0" cy="28.8" r="1.6" fill="#b86a38" fill-opacity="0.89"/>
<circle cx="336.0" cy="42.1" r="2.4" fill="#b86a38" fill-opacity="0.80"/>
<circle cx="313.0" cy="49.5" r="1.8" fill="#c8844e" fill-opacity="0.91"/>
<circle cx="280.3" cy="33.9" r="1.8" fill="#cf8a55" fill-opacity="0.76"/>
<circle cx="279.2" cy="36.5" r="2.1" fill="#b36535" fill-opacity="0.92"/>
<circle cx="276.0" cy="43.3" r="1.6" fill="#c8844e" fill-opacity="0.71"/>
<circle cx="337.1" cy="38.1" r="2.2" fill="#b36535" fill-opacity="0.72"/>
<circle cx="328.6" cy="30.2" r="2.2" fill="#bf7444" fill-opacity="0.94"/>
<circle cx="301.3" cy="23.0" r="3.0" fill="#bf7444" fill-opacity="0.78"/>
<circle cx="277.9" cy="42.8" r="2.8" fill="#b36535" fill-opacity="0.71"/>
<circle cx="321.2" cy="41.1" r="1.9" fill="#c47a45" fill-opacity="0.78"/>
<circle cx="327.3" cy="21.5" r="1.9" fill="#b36535" fill-opacity="0.93"/>
<circle cx="296.4" cy="22.7" r="2.6" fill="#cf8a55" fill-opacity="0.91"/>
<circle cx="283.7" cy="46.6" r="2.4" fill="#c8844e" fill-opacity="0.87"/>
<circle cx="309.3" cy="48.9" r="2.9" fill="#cf8a55" fill-opacity="0.80"/>
<circle cx="281.2" cy="33.7" r="2.4" fill="#d49462" fill-opacity="0.75"/>
<circle cx="289.5" cy="50.9" r="2.6" fill="#b86a38" fill-opacity="0.74"/>
<circle cx="295.4" cy="30.4" r="1.7" fill="#b86a38" fill-opacity="0.79"/>
<circle cx="313.5" cy="34.3" r="1.6" fill="#bf7444" fill-opacity="0.71"/>
<circle cx="322.4" cy="43.0" r="2.2" fill="#b36535" fill-opacity="0.80"/>
<circle cx="309.6" cy="28.4" r="2.4" fill="#b86a38" fill-opacity="0.95"/>
<circle cx="287.2" cy="53.8" r="2.3" fill="#bf7444" fill-opacity="0.99"/>
<circle cx="279.4" cy="45.0" r="1.9" fill="#c8844e" fill-opacity="0.89"/>
<circle cx="335.6" cy="37.0" r="2.5" fill="#cf8a55" fill-opacity="0.76"/>
<circle cx="304.0" cy="31.1" r="2.2" fill="#d49462" fill-opacity="0.93"/>
<circle cx="284.9" cy="40.4" r="2.3" fill="#b86a38" fill-opacity="0.95"/>
<circle cx="298.9" cy="49.1" r="1.6" fill="#cf8a55" fill-opacity="0.83"/>
<circle cx="282.5" cy="50.8" r="2.5" fill="#b86a38" fill-opacity="0.81"/>
<circle cx="283.7" cy="52.2" r="2.8" fill="#b86a38" fill-opacity="0.97"/>
<circle cx="316.3" cy="30.2" r="2.2" fill="#b36535" fill-opacity="0.83"/>
<circle cx="279.0" cy="39.4" r="1.6" fill="#d49462" fill-opacity="0.77"/>
<circle cx="330.7" cy="42.5" r="2.7" fill="#c8844e" fill-opacity="0.90"/>
<circle cx="291.9" cy="45.9" r="1.7" fill="#d49462" fill-opacity="0.71"/>
<circle cx="298.1" cy="26.3" r="2.5" fill="#d49462" fill-opacity="0.71"/>
<circle cx="327.9" cy="53.9" r="2.6" fill="#b86a38" fill-opacity="0.99"/>
<circle cx="328.4" cy="53.7" r="2.5" fill="#b36535" fill-opacity="0.94"/>
<circle cx="283.0" cy="32.1" r="2.4" fill="#bf7444" fill-opacity="0.80"/>
<circle cx="334.5" cy="22.7" r="1.7" fill="#c8844e" fill-opacity="0.80"/>
<circle cx="331.8" cy="21.3" r="2.7" fill="#cf8a55" fill-opacity="0.99"/>
<circle cx="278.4" cy="54.5" r="2.5" fill="#cf8a55" fill-opacity="0.95"/>
<circle cx="283.2" cy="34.4" r="1.9" fill="#c47a45" fill-opacity="0.82"/>
<circle cx="285.0" cy="34.2" r="2.4" fill="#b36535" fill-opacity="0.86"/>
<circle cx="335.9" cy="51.0" r="1.7" fill="#b36535" fill-opacity="0.92"/>
<circle cx="329.3" cy="53.0" r="2.1" fill="#b36535" fill-opacity="0.87"/>
<circle cx="307.0" cy="38.8" r="2.1" fill="#c8844e" fill-opacity="0.91"/>
<circle cx="311.3" cy="51.9" r="2.2" fill="#b36535" fill-opacity="0.75"/>
<circle cx="303.2" cy="37.5" r="2.7" fill="#c47a45" fill-opacity="0.88"/>
<circle cx="286.6" cy="31.5" r="2.3" fill="#bf7444" fill-opacity="0.91"/>
<circle cx="318.7" cy="29.9" r="2.4" fill="#bf7444" fill-opacity="0.77"/>
<circle cx="279.5" cy="47.7" r="2.5" fill="#cf8a55" fill-opacity="0.92"/>
<circle cx="292.3" cy="21.8" r="2.1" fill="#c8844e" fill-opacity="0.80"/>
<circle cx="310.2" cy="34.1" r="1.6" fill="#c8844e" fill-opacity="0.81"/>
<circle cx="315.2" cy="27.0" r="1.8" fill="#c47a45" fill-opacity="0.77"/>
<circle cx="325.6" cy="47.9" r="2.2" fill="#c47a45" fill-opacity="0.98"/>
<circle cx="334.2" cy="31.5" r="1.5" fill="#c47a45" fill-opacity="0.85"/>
<circle cx="286.5" cy="34.3" r="2.1" fill="#c8844e" fill-opacity="0.97"/>
<circle cx="301.6" cy="24.8" r="2.4" fill="#cf8a55" fill-opacity="0.97"/>
<circle cx="290.8" cy="38.8" r="2.1" fill="#d49462" fill-opacity="0.79"/>
<circle cx="292.4" cy="54.8" r="2.7" fill="#d49462" fill-opacity="0.91"/>
<circle cx="319.7" cy="53.9" r="1.6" fill="#c8844e" fill-opacity="0.89"/>
<circle cx="283.8" cy="56.1" r="2.5" fill="#b36535" fill-opacity="0.93"/>
<circle cx="340.9" cy="41.3" r="2.9" fill="#bf7444" fill-opacity="0.98"/>
<circle cx="309.6" cy="48.3" r="1.9" fill="#cf8a55" fill-opacity="0.84"/>
<circle cx="312.9" cy="39.1" r="2.9" fill="#c47a45" fill-opacity="0.96"/>
<circle cx="282.6" cy="28.3" r="1.8" fill="#b36535" fill-opacity="0.75"/>
<circle cx="314.9" cy="24.4" r="2.5" fill="#b36535" fill-opacity="0.98"/>
<circle cx="278.8" cy="29.5" r="2.2" fill="#c8844e" fill-opacity="0.70"/>
<circle cx="320.9" cy="36.9" r="2.1" fill="#b86a38" fill-opacity="0.72"/>
<circle cx="335.3" cy="42.0" r="2.0" fill="#b86a38" fill-opacity="0.96"/>
<circle cx="283.0" cy="34.9" r="1.6" fill="#cf8a55" fill-opacity="0.96"/>
<circle cx="294.4" cy="49.8" r="2.9" fill="#bf7444" fill-opacity="0.77"/>
<circle cx="340.8" cy="32.7" r="2.6" fill="#d49462" fill-opacity="0.80"/>
<circle cx="316.0" cy="20.8" r="2.3" fill="#b36535" fill-opacity="0.85"/>
<circle cx="318.2" cy="47.9" r="2.8" fill="#cf8a55" fill-opacity="0.96"/>
<circle cx="300.6" cy="24.5" r="2.5" fill="#bf7444" fill-opacity="0.71"/>
<circle cx="340.1" cy="37.9" r="1.9" fill="#c47a45" fill-opacity="0.95"/>
<circle cx="331.8" cy="25.5" r="2.7" fill="#c47a45" fill-opacity="0.73"/>
<circle cx="322.4" cy="39.7" r="2.5" fill="#c8844e" fill-opacity="0.94"/>
<circle cx="328.7" cy="50.6" r="2.1" fill="#c47a45" fill-opacity="0.78"/>
<circle cx="312.5" cy="45.5" r="2.6" fill="#c47a45" fill-opacity="0.88"/>
<circle cx="319.1" cy="41.8" r="2.6" fill="#b36535" fill-opacity="0.79"/>
<circle cx="291.0" cy="31.0" r="2.7" fill="#c47a45" fill-opacity="0.80"/>
<circle cx="319.6" cy="41.4" r="2.8" fill="#c8844e" fill-opacity="0.70"/>
<circle cx="317.4" cy="51.6" r="2.9" fill="#b36535" fill-opacity="0.84"/>
<circle cx="332.2" cy="53.9" r="1.9" fill="#cf8a55" fill-opacity="0.97"/>
<circle cx="283.2" cy="22.6" r="1.5" fill="#c8844e" fill-opacity="0.73"/>
<circle cx="291.0" cy="31.0" r="3.0" fill="#c47a45" fill-opacity="0.94"/>
<circle cx="282.1" cy="27.6" r="2.5" fill="#cf8a55" fill-opacity="0.83"/>
<circle cx="304.0" cy="47.2" r="2.2" fill="#d49462" fill-opacity="0.92"/>
<circle cx="275.8" cy="24.4" r="1.8" fill="#c8844e" fill-opacity="0.87"/>
<circle cx="334.2" cy="52.2" r="2.7" fill="#d49462" fill-opacity="0.80"/>
<circle cx="279.1" cy="52.2" r="2.9" fill="#c47a45" fill-opacity="0.70"/>
<circle cx="287.2" cy="33.6" r="2.6" fill="#c47a45" fill-opacity="0.84"/>
<circle cx="320.1" cy="49.6" r="1.8" fill="#d49462" fill-opacity="0.99"/>
<circle cx="311.9" cy="38.3" r="2.3" fill="#cf8a55" fill-opacity="0.86"/>
<circle cx="324.4" cy="51.6" r="2.4" fill="#bf7444" fill-opacity="0.87"/>
<circle cx="291.3" cy="47.9" r="1.8" fill="#d49462" fill-opacity="0.78"/>
<circle cx="298.2" cy="39.4" r="2.7" fill="#b86a38" fill-opacity="0.88"/>
<circle cx="304.7" cy="36.6" r="2.9" fill="#cf8a55" fill-opacity="0.89"/>
<circle cx="295.0" cy="100.6" r="2.3" fill="#b36535" fill-opacity="0.74"/>
<circle cx="341.2" cy="89.2" r="2.4" fill="#c8844e" fill-opacity="0.85"/>
<circle cx="341.6" cy="99.1" r="2.3" fill="#cf8a55" fill-opacity="0.82"/>
<circle cx="317.6" cy="63.3" r="1.9" fill="#cf8a55" fill-opacity="0.90"/>
<circle cx="331.9" cy="102.9" r="1.7" fill="#cf8a55" fill-opacity="0.76"/>
<circle cx="324.8" cy="69.9" r="2.0" fill="#cf8a55" fill-opacity="0.72"/>
<circle cx="332.0" cy="104.3" r="1.7" fill="#d49462" fill-opacity="0.94"/>
<circle cx="336.7" cy="72.6" r="1.6" fill="#b36535" fill-opacity="0.93"/>
<circle cx="328.9" cy="75.1" r="3.0" fill="#c8844e" fill-opacity="0.87"/>
<circle cx="323.1" cy="57.9" r="2.9" fill="#bf7444" fill-opacity="1.00"/>
<circle cx="302.2" cy="95.4" r="2.4" fill="#c47a45" fill-opacity="0.88"/>
<circle cx="300.1" cy="72.6" r="2.0" fill="#cf8a55" fill-opacity="0.90"/>
<circle cx="320.0" cy="54.9" r="1.9" fill="#d49462" fill-opacity="0.81"/>
<circle cx="332.7" cy="98.7" r="2.9" fill="#cf8a55" fill-opacity="0.98"/>
<circle cx="318.1" cy="83.9" r="2.4" fill="#c47a45" fill-opacity="0.71"/>
<circle cx="299.5" cy="96.9" r="2.6" fill="#b36535" fill-opacity="0.79"/>
<circle cx="303.8" cy="84.5" r="2.8" fill="#c47a45" fill-opacity="0.90"/>
<circle cx="305.2" cy="67.5" r="2.2" fill="#c47a45" fill-opacity="0.75"/>
<circle cx="330.7" cy="58.7" r="2.2" fill="#c8844e" fill-opacity="0.95"/>
<circle cx="321.3" cy="60.6" r="2.7" fill="#d49462" fill-opacity="0.98"/>
<circle cx="295.6" cy="103.4" r="2.4" fill="#b36535" fill-opacity="0.82"/>
<circle cx="302.1" cy="86.2" r="2.8" fill="#d49462" fill-opacity="0.71"/>
<circle cx="321.3" cy="88.2" r="2.9" fill="#c8844e" fill-opacity="0.81"/>
<circle cx="300.3" cy="70.4" r="2.9" fill="#c47a45" fill-opacity="0.75"/>
<circle cx="311.7" cy="98.3" r="2.6" fill="#bf7444" fill-opacity="0.74"/>
<circle cx="297.6" cy="65.6" r="2.2" fill="#c8844e" fill-opacity="0.90"/>
<circle cx="299.9" cy="87.7" r="1.8" fill="#c47a45" fill-opacity="0.87"/>
<circle cx="301.0" cy="98.9" r="2.2" fill="#c8844e" fill-opacity="0.93"/>
<circle cx="320.7" cy="101.7" r="1.9" fill="#cf8a55" fill-opacity="0.71"/>
<circle cx="312.6" cy="62.1" r="3.0" fill="#c8844e" fill-opacity="0.71"/>
<circle cx="308.3" cy="74.7" r="1.6" fill="#c8844e" fill-opacity="0.93"/>
<circle cx="320.5" cy="75.6" r="1.8" fill="#c8844e" fill-opacity="0.75"/>
<circle cx="314.0" cy="86.9" r="2.8" fill="#b86a38" fill-opacity="0.96"/>
<circle cx="326.6" cy="62.2" r="1.5" fill="#b86a38" fill-opacity="0.71"/>
<circle cx="341.4" cy="66.9" r="1.6" fill="#b36535" fill-opacity="0.78"/>
<circle cx="340.4" cy="89.7" r="2.8" fill="#d49462" fill-opacity="0.90"/>
<circle cx="330.0" cy="78.6" r="2.1" fill="#b36535" fill-opacity="0.75"/>
<circle cx="297.3" cy="103.2" r="2.1" fill="#bf7444" fill-opacity="0.87"/>
<circle cx="313.5" cy="94.1" r="2.7" fill="#b86a38" fill-opacity="0.93"/>
<circle cx="309.7" cy="84.5" r="2.2" fill="#b86a38" fill-opacity="0.95"/>
<circle cx="314.6" cy="98.5" r="2.9" fill="#b86a38" fill-opacity="0.94"/>
<circle cx="337.6" cy="66.0" r="2.2" fill="#d49462" fill-opacity="0.97"/>
<circle cx="331.4" cy="99.6" r="2.4" fill="#c8844e" fill-opacity="0.94"/>
<circle cx="311.1" cy="85.2" r="1.8" fill="#cf8a55" fill-opacity="0.82"/>
<circle cx="316.1" cy="59.7" r="1.7" fill="#d49462" fill-opacity="1.00"/>
<circle cx="302.1" cy="73.4" r="2.5" fill="#c8844e" fill-opacity="0.74"/>
<circle cx="297.4" cy="102.9" r="1.9" fill="#c47a45" fill-opacity="0.86"/>
<circle cx="322.9" cy="82.9" r="2.3" fill="#c8844e" fill-opacity="0.78"/>
<circle cx="324.8" cy="77.5" r="2.8" fill="#c8844e" fill-opacity="0.76"/>
<circle cx="336.3" cy="82.7" r="1.8" fill="#cf8a55" fill-opacity="0.93"/>
<circle cx="308.2" cy="92.7" r="2.5" fill="#d49462" fill-opacity="0.89"/>
<circle cx="318.1" cy="55.1" r="3.0" fill="#cf8a55" fill-opacity="0.78"/>
<circle cx="313.0" cy="101.5" r="2.5" fill="#bf7444" fill-opacity="0.89"/>
<circle cx="295.2" cy="94.3" r="2.4" fill="#b86a38" fill-opacity="0.90"/>
<circle cx="322.0" cy="72.8" r="2.5" fill="#bf7444" fill-opacity="0.92"/>
<circle cx="295.8" cy="68.0" r="1.7" fill="#b36535" fill-opacity="0.85"/>
<circle cx="324.6" cy="65.5" r="2.9" fill="#cf8a55" fill-opacity="0.70"/>
<circle cx="329.7" cy="59.6" r="1.5" fill="#cf8a55" fill-opacity="0.79"/>
<circle cx="317.1" cy="66.6" r="2.0" fill="#bf7444" fill-opacity="0.81"/>
<circle cx="333.2" cy="70.4" r="2.4" fill="#c47a45" fill-opacity="0.76"/>
<circle cx="297.4" cy="48.3" r="2.2" fill="#c47a45" fill-opacity="0.83"/>
<circle cx="309.8" cy="62.5" r="1.9" fill="#d49462" fill-opacity="0.80"/>
<circle cx="319.6" cy="73.3" r="1.8" fill="#b36535" fill-opacity="0.83"/>
<circle cx="326.2" cy="80.3" r="2.7" fill="#c47a45" fill-opacity="0.95"/>
<circle cx="322.7" cy="69.2" r="1.8" fill="#bf7444" fill-opacity="0.74"/>
<circle cx="299.7" cy="49.7" r="1.7" fill="#c47a45" fill-opacity="0.86"/>
<circle cx="311.9" cy="55.9" r="2.7" fill="#bf7444" fill-opacity="1.00"/>
<circle cx="312.6" cy="67.6" r="2.2" fill="#d49462" fill-opacity="0.92"/>
<circle cx="312.9" cy="69.8" r="2.9" fill="#c8844e" fill-opacity="0.82"/>
<circle cx="306.7" cy="51.8" r="1.8" fill="#cf8a55" fill-opacity="0.97"/>
<circle cx="289.3" cy="42.4" r="1.6" fill="#cf8a55" fill-opacity="0.89"/>
<circle cx="325.6" cy="68.7" r="1.6" fill="#c47a45" fill-opacity="0.82"/>
<circle cx="319.0" cy="69.6" r="1.7" fill="#b86a38" fill-opacity="0.89"/>
<circle cx="294.3" cy="50.9" r="1.9" fill="#c8844e" fill-opacity="0.81"/>
<circle cx="306.1" cy="64.9" r="2.5" fill="#cf8a55" fill-opacity="0.94"/>
<circle cx="319.0" cy="66.0" r="1.7" fill="#c47a45" fill-opacity="0.74"/>
<circle cx="329.6" cy="76.0" r="2.0" fill="#d49462" fill-opacity="0.99"/>
<circle cx="299.6" cy="58.1" r="2.0" fill="#c47a45" fill-opacity="0.82"/>
<circle cx="290.5" cy="58.5" r="2.2" fill="#c8844e" fill-opacity="0.80"/>
<circle cx="315.5" cy="66.4" r="2.1" fill="#d49462" fill-opacity="0.84"/>
<circle cx="340.5" cy="92.8" r="1.7" fill="#c47a45" fill-opacity="0.72"/>
<circle cx="336.1" cy="79.0" r="2.0" fill="#c47a45" fill-opacity="0.82"/>
<circle cx="304.2" cy="69.1" r="1.8" fill="#c8844e" fill-opacity="0.84"/>
<circle cx="320.4" cy="78.6" r="2.9" fill="#b86a38" fill-opacity="0.77"/>
<circle cx="315.5" cy="61.3" r="2.3" fill="#b36535" fill-opacity="0.72"/>
<circle cx="319.3" cy="65.5" r="2.2" fill="#b86a38" fill-opacity="0.82"/>
<circle cx="336.4" cy="100.3" r="2.3" fill="#c8844e" fill-opacity="0.99"/>
<circle cx="316.1" cy="63.3" r="1.8" fill="#b36535" fill-opacity="0.79"/>
<circle cx="312.1" cy="57.2" r="1.8" fill="#b36535" fill-opacity="0.87"/>
<circle cx="309.0" cy="61.4" r="2.9" fill="#c47a45" fill-opacity="0.92"/>
<circle cx="334.1" cy="73.8" r="1.7" fill="#c47a45" fill-opacity="0.91"/>
<circle cx="350.1" cy="92.3" r="2.5" fill="#c8844e" fill-opacity="0.77"/>
<circle cx="312.7" cy="61.9" r="2.7" fill="#b86a38" fill-opacity="0.96"/>
<circle cx="306.6" cy="40.6" r="2.5" fill="#cf8a55" fill-opacity="0.94"/>
<circle cx="336.3" cy="87.7" r="2.5" fill="#c47a45" fill-opacity="0.85"/>
<circle cx="303.3" cy="49.4" r="1.7" fill="#cf8a55" fill-opacity="0.88"/>
<circle cx="339.7" cy="80.1" r="1.8" fill="#d49462" fill-opacity="0.82"/>
<circle cx="313.5" cy="79.1" r="2.6" fill="#b36535" fill-opacity="0.94"/>
<circle cx="329.7" cy="79.6" r="1.6" fill="#b36535" fill-opacity="0.74"/>
<circle cx="331.4" cy="79.8" r="2.1" fill="#d49462" fill-opacity="0.86"/>
<circle cx="301.6" cy="60.5" r="1.7" fill="#c8844e" fill-opacity="0.83"/>
<circle cx="336.7" cy="83.9" r="2.5" fill="#bf7444" fill-opacity="0.81"/>
<circle cx="334.3" cy="74.5" r="1.5" fill="#c8844e" fill-opacity="0.71"/>
<circle cx="332.4" cy="78.8" r="2.9" fill="#c8844e" fill-opacity="0.74"/>
<circle cx="312.9" cy="56.1" r="1.9" fill="#b86a38" fill-opacity="0.83"/>
<circle cx="320.4" cy="71.4" r="1.5" fill="#b86a38" fill-opacity="0.92"/>
<circle cx="338.1" cy="81.2" r="2.4" fill="#b86a38" fill-opacity="0.89"/>
<circle cx="305.5" cy="54.7" r="2.9" fill="#b36535" fill-opacity="0.99"/>
<circle cx="334.0" cy="88.8" r="1.8" fill="#b36535" fill-opacity="0.85"/>
<circle cx="297.0" cy="47.8" r="2.2" fill="#b36535" fill-opacity="0.73"/>
<circle cx="311.4" cy="62.4" r="2.0" fill="#b86a38" fill-opacity="0.75"/>
<circle cx="327.1" cy="76.7" r="1.9" fill="#d49462" fill-opacity="0.78"/>
<circle cx="293.9" cy="55.5" r="2.4" fill="#c8844e" fill-opacity="0.90"/>
<circle cx="312.4" cy="52.6" r="1.7" fill="#d49462" fill-opacity="0.76"/>
<circle cx="340.2" cy="81.6" r="2.6" fill="#c8844e" fill-opacity="0.73"/>
<circle cx="319.5" cy="64.9" r="2.0" fill="#c8844e" fill-opacity="0.93"/>
<circle cx="303.4" cy="64.8" r="1.5" fill="#cf8a55" fill-opacity="0.96"/>
<circle cx="334.3" cy="87.8" r="2.5" fill="#c8844e" fill-opacity="1.00"/>
<circle cx="319.0" cy="65.8" r="2.4" fill="#cf8a55" fill-opacity="0.87"/>
<circle cx="331.6" cy="88.3" r="2.9" fill="#c8844e" fill-opacity="0.79"/>
<circle cx="305.0" cy="52.0" r="1.7" fill="#b86a38" fill-opacity="0.89"/>
<circle cx="336.4" cy="87.6" r="2.5" fill="#b36535" fill-opacity="0.97"/>
<circle cx="300.1" cy="58.2" r="2.5" fill="#c8844e" fill-opacity="0.90"/>
<circle cx="338.0" cy="95.0" r="2.4" fill="#c8844e" fill-opacity="0.82"/>
<circle cx="319.7" cy="72.0" r="2.6" fill="#cf8a55" fill-opacity="0.96"/>
<circle cx="298.7" cy="64.4" r="2.9" fill="#cf8a55" fill-opacity="0.91"/>
<circle cx="319.3" cy="67.9" r="2.0" fill="#c8844e" fill-opacity="0.88"/>
<circle cx="305.7" cy="53.6" r="2.5" fill="#cf8a55" fill-opacity="0.80"/>
<circle cx="336.5" cy="81.2" r="2.6" fill="#bf7444" fill-opacity="0.79"/>
<circle cx="306.6" cy="63.9" r="1.9" fill="#b36535" fill-opacity="0.76"/>
<circle cx="220.1" cy="45.0" r="2.6" fill="#cf8a55" fill-opacity="0.78"/>
<circle cx="226.3" cy="25.7" r="1.8" fill="#b36535" fill-opacity="0.81"/>
<circle cx="222.6" cy="21.5" r="1.7" fill="#c8844e" fill-opacity="0.82"/>
<circle cx="218.8" cy="38.8" r="1.8" fill="#d49462" fill-opacity="0.99"/>
<circle cx="234.4" cy="45.0" r="1.6" fill="#b86a38" fill-opacity="0.94"/>
<circle cx="215.2" cy="26.5" r="2.6" fill="#d49462" fill-opacity="0.89"/>
<circle cx="217.0" cy="32.1" r="2.9" fill="#b86a38" fill-opacity="0.79"/>
<circle cx="219.9" cy="43.3" r="1.9" fill="#c47a45" fill-opacity="0.88"/>
<circle cx="207.9" cy="41.1" r="1.6" fill="#bf7444" fill-opacity="0.91"/>
<circle cx="210.7" cy="26.6" r="2.9" fill="#cf8a55" fill-opacity="0.83"/>
<circle cx="206.1" cy="37.0" r="1.9" fill="#b86a38" fill-opacity="0.96"/>
<circle cx="229.1" cy="46.5" r="2.4" fill="#bf7444" fill-opacity="0.72"/>
<circle cx="225.5" cy="35.6" r="1.9" fill="#bf7444" fill-opacity="0.77"/>
<circle cx="236.5" cy="43.6" r="2.6" fill="#b36535" fill-opacity="0.73"/>
<circle cx="205.4" cy="27.4" r="1.8" fill="#c47a45" fill-opacity="0.90"/>
<circle cx="233.5" cy="24.4" r="2.2" fill="#b36535" fill-opacity="0.90"/>
<circle cx="217.8" cy="23.6" r="1.6" fill="#c47a45" fill-opacity="0.80"/>
<circle cx="209.4" cy="57.0" r="2.4" fill="#c47a45" fill-opacity="0.73"/>
<circle cx="226.0" cy="40.0" r="2.7" fill="#bf7444" fill-opacity="0.80"/>
<circle cx="220.2" cy="40.3" r="1.7" fill="#b86a38" fill-opacity="0.95"/>
<circle cx="323.7" cy="94.4" r="2.1" fill="#b36535" fill-opacity="0.88"/>
<circle cx="323.1" cy="60.8" r="2.3" fill="#bf7444" fill-opacity="0.98"/>
<circle cx="343.4" cy="90.6" r="2.6" fill="#c8844e" fill-opacity="0.78"/>
<circle cx="321.9" cy="100.0" r="2.3" fill="#b36535" fill-opacity="0.85"/>
<circle cx="303.6" cy="70.9" r="2.1" fill="#b36535" fill-opacity="0.95"/>
<circle cx="337.7" cy="69.3" r="1.9" fill="#b86a38" fill-opacity="0.84"/>
<circle cx="331.5" cy="91.7" r="1.8" fill="#cf8a55" fill-opacity="0.85"/>
<circle cx="342.2" cy="85.1" r="1.6" fill="#c47a45" fill-opacity="0.92"/>
<circle cx="316.8" cy="58.2" r="1.7" fill="#bf7444" fill-opacity="0.94"/>
<circle cx="332.7" cy="100.6" r="3.2" fill="#d49462" fill-opacity="0.86"/>
<circle cx="338.6" cy="76.3" r="2.2" fill="#b86a38" fill-opacity="0.94"/>
<circle cx="318.4" cy="97.6" r="2.9" fill="#b86a38" fill-opacity="0.96"/>
<circle cx="300.4" cy="73.8" r="2.0" fill="#c47a45" fill-opacity="0.92"/>
<circle cx="324.4" cy="64.7" r="2.4" fill="#c47a45" fill-opacity="0.89"/>
<circle cx="312.1" cy="61.1" r="1.9" fill="#b36535" fill-opacity="0.85"/>
<circle cx="333.6" cy="69.5" r="2.4" fill="#c8844e" fill-opacity="0.85"/>
<circle cx="308.5" cy="60.7" r="2.8" fill="#cf8a55" fill-opacity="0.96"/>
<circle cx="335.1" cy="74.8" r="2.6" fill="#cf8a55" fill-opacity="0.80"/>
<circle cx="340.2" cy="74.5" r="1.8" fill="#d49462" fill-opacity="0.80"/>
<circle cx="311.0" cy="80.7" r="2.6" fill="#d49462" fill-opacity="0.85"/>
<circle cx="310.5" cy="85.0" r="3.1" fill="#b86a38" fill-opacity="0.77"/>
<circle cx="327.1" cy="96.1" r="1.7" fill="#c8844e" fill-opacity="0.96"/>
<circle cx="338.2" cy="92.5" r="2.8" fill="#c8844e" fill-opacity="0.98"/>
<circle cx="326.2" cy="92.9" r="2.9" fill="#cf8a55" fill-opacity="0.97"/>
<circle cx="318.5" cy="62.8" r="2.2" fill="#d49462" fill-opacity="0.92"/>
<circle cx="325.4" cy="66.4" r="1.9" fill="#d49462" fill-opacity="0.98"/>
<circle cx="320.3" cy="59.8" r="2.5" fill="#d49462" fill-opacity="0.92"/>
<circle cx="314.7" cy="91.8" r="2.0" fill="#bf7444" fill-opacity="0.89"/>
<circle cx="331.4" cy="92.8" r="2.2" fill="#b86a38" fill-opacity="0.83"/>
<circle cx="324.1" cy="91.6" r="2.6" fill="#c8844e" fill-opacity="0.85"/>
<circle cx="307.5" cy="62.7" r="2.1" fill="#b36535" fill-opacity="0.84"/>
<circle cx="331.7" cy="71.9" r="2.0" fill="#bf7444" fill-opacity="0.84"/>
<circle cx="311.3" cy="89.5" r="1.8" fill="#b36535" fill-opacity="0.92"/>
<circle cx="339.6" cy="71.5" r="2.0" fill="#c8844e" fill-opacity="0.94"/>
<circle cx="320.0" cy="61.7" r="2.4" fill="#b86a38" fill-opacity="0.88"/>
<circle cx="304.7" cy="75.4" r="3.2" fill="#c8844e" fill-opacity="0.89"/>
<circle cx="301.9" cy="84.4" r="2.6" fill="#b86a38" fill-opacity="0.88"/>
<circle cx="308.2" cy="65.2" r="1.9" fill="#c47a45" fill-opacity="0.94"/>
<circle cx="301.1" cy="74.6" r="2.5" fill="#d49462" fill-opacity="0.75"/>
<circle cx="342.7" cy="87.7" r="3.1" fill="#c47a45" fill-opacity="0.96"/>
<circle cx="319.6" cy="59.3" r="2.3" fill="#cf8a55" fill-opacity="0.84"/>
<circle cx="310.6" cy="88.1" r="3.2" fill="#c8844e" fill-opacity="0.99"/>
<circle cx="327.8" cy="96.2" r="1.8" fill="#b36535" fill-opacity="0.84"/>
<circle cx="313.8" cy="60.2" r="2.7" fill="#cf8a55" fill-opacity="0.83"/>
<circle cx="315.4" cy="95.2" r="1.7" fill="#c47a45" fill-opacity="0.84"/>
<circle cx="313.6" cy="61.6" r="1.7" fill="#b36535" fill-opacity="0.98"/>
<circle cx="327.7" cy="65.3" r="2.6" fill="#d49462" fill-opacity="0.99"/>
<circle cx="299.7" cy="81.2" r="3.2" fill="#d49462" fill-opacity="0.85"/>
<circle cx="302.0" cy="61.7" r="2.4" fill="#d49462" fill-opacity="0.96"/>
<circle cx="311.6" cy="88.4" r="2.1" fill="#c47a45" fill-opacity="0.86"/>
<circle cx="339.8" cy="79.3" r="2.3" fill="#b36535" fill-opacity="0.98"/>
<circle cx="308.9" cy="60.6" r="1.7" fill="#b86a38" fill-opacity="0.91"/>
<circle cx="305.0" cy="74.0" r="3.0" fill="#bf7444" fill-opacity="0.88"/>
<circle cx="332.0" cy="92.9" r="2.5" fill="#c47a45" fill-opacity="0.98"/>
<circle cx="316.8" cy="60.9" r="2.6" fill="#c47a45" fill-opacity="0.94"/>
<circle cx="304.2" cy="77.8" r="1.8" fill="#cf8a55" fill-opacity="0.76"/>
<circle cx="310.8" cy="82.3" r="3.1" fill="#bf7444" fill-opacity="0.82"/>
<circle cx="298.9" cy="72.6" r="2.6" fill="#b86a38" fill-opacity="0.97"/>
<circle cx="307.3" cy="88.8" r="3.1" fill="#d49462" fill-opacity="0.81"/>
<circle cx="304.5" cy="68.3" r="3.0" fill="#bf7444" fill-opacity="0.82"/>
<circle cx="342.1" cy="82.0" r="2.7" fill="#b86a38" fill-opacity="0.84"/>
<circle cx="341.9" cy="92.6" r="2.1" fill="#d49462" fill-opacity="0.79"/>
<circle cx="303.5" cy="82.4" r="2.0" fill="#d49462" fill-opacity="0.97"/>
<circle cx="310.7" cy="59.4" r="2.0" fill="#bf7444" fill-opacity="0.88"/>
<circle cx="304.6" cy="61.6" r="1.9" fill="#d49462" fill-opacity="0.98"/>
<circle cx="310.4" cy="60.0" r="2.2" fill="#b86a38" fill-opacity="0.88"/>
<circle cx="333.7" cy="77.2" r="2.4" fill="#b36535" fill-opacity="0.78"/>
<circle cx="320.1" cy="58.5" r="1.8" fill="#bf7444" fill-opacity="0.81"/>
<circle cx="343.7" cy="84.8" r="3.1" fill="#cf8a55" fill-opacity="0.87"/>
<circle cx="320.7" cy="59.5" r="3.0" fill="#d49462" fill-opacity="0.96"/>
<circle cx="317.4" cy="88.7" r="3.1" fill="#c8844e" fill-opacity="0.85"/>
<circle cx="339.1" cy="78.7" r="3.1" fill="#c47a45" fill-opacity="0.94"/>
<circle cx="335.9" cy="76.3" r="2.0" fill="#c8844e" fill-opacity="0.91"/>
<circle cx="300.9" cy="65.9" r="1.9" fill="#d49462" fill-opacity="0.94"/>
<circle cx="340.2" cy="72.4" r="2.3" fill="#c8844e" fill-opacity="0.82"/>
<circle cx="337.1" cy="94.5" r="3.1" fill="#b86a38" fill-opacity="0.81"/>
<circle cx="308.7" cy="83.9" r="2.5" fill="#b86a38" fill-opacity="0.99"/>
<circle cx="310.6" cy="61.1" r="2.4" fill="#d49462" fill-opacity="0.90"/>
<circle cx="304.2" cy="77.4" r="2.0" fill="#d49462" fill-opacity="0.82"/>
<circle cx="307.1" cy="84.3" r="3.2" fill="#d49462" fill-opacity="0.79"/>
<circle cx="329.7" cy="91.3" r="2.5" fill="#d49462" fill-opacity="0.83"/>
<circle cx="324.3" cy="107.6" r="2.4" fill="#bf7444" fill-opacity="0.81"/>
<circle cx="315.9" cy="104.7" r="2.5" fill="#b86a38" fill-opacity="0.85"/>
<circle cx="312.6" cy="103.1" r="2.8" fill="#cf8a55" fill-opacity="0.92"/>
<circle cx="333.0" cy="89.0" r="2.9" fill="#d49462" fill-opacity="0.97"/>
<circle cx="334.2" cy="105.6" r="2.7" fill="#d49462" fill-opacity="0.92"/>
<circle cx="329.0" cy="92.3" r="1.9" fill="#bf7444" fill-opacity="0.94"/>
<circle cx="316.7" cy="88.5" r="2.8" fill="#c8844e" fill-opacity="0.70"/>
<circle cx="329.8" cy="101.6" r="2.1" fill="#b86a38" fill-opacity="0.89"/>
<circle cx="342.9" cy="101.3" r="2.3" fill="#c8844e" fill-opacity="0.72"/>
<circle cx="339.0" cy="88.8" r="1.9" fill="#b86a38" fill-opacity="0.91"/>
<circle cx="340.5" cy="106.8" r="2.9" fill="#d49462" fill-opacity="0.94"/>
<circle cx="321.3" cy="102.0" r="1.7" fill="#c8844e" fill-opacity="1.00"/>
<circle cx="330.4" cy="106.4" r="1.7" fill="#cf8a55" fill-opacity="0.88"/>
<circle cx="314.3" cy="101.6" r="2.9" fill="#d49462" fill-opacity="0.71"/>
<circle cx="319.5" cy="88.1" r="2.2" fill="#b36535" fill-opacity="0.94"/>
<circle cx="342.5" cy="92.3" r="1.7" fill="#c47a45" fill-opacity="0.79"/>
<circle cx="316.9" cy="90.7" r="2.8" fill="#c47a45" fill-opacity="0.79"/>
<circle cx="313.4" cy="89.5" r="2.6" fill="#c47a45" fill-opacity="0.82"/>
<circle cx="332.7" cy="100.0" r="2.2" fill="#b36535" fill-opacity="0.89"/>
<circle cx="318.7" cy="95.6" r="2.5" fill="#d49462" fill-opacity="0.82"/>
<circle cx="321.3" cy="93.2" r="2.3" fill="#c47a45" fill-opacity="0.91"/>
<circle cx="333.9" cy="103.0" r="2.4" fill="#bf7444" fill-opacity="0.77"/>
<circle cx="331.4" cy="88.8" r="2.4" fill="#c47a45" fill-opacity="0.70"/>
<circle cx="337.5" cy="89.8" r="2.2" fill="#c47a45" fill-opacity="0.75"/>
<circle cx="324.4" cy="97.6" r="2.8" fill="#c47a45" fill-opacity="0.76"/>
<circle cx="339.0" cy="91.4" r="2.1" fill="#c8844e" fill-opacity="0.85"/>
<circle cx="316.8" cy="96.1" r="2.7" fill="#c8844e" fill-opacity="0.96"/>
<circle cx="311.7" cy="97.4" r="2.1" fill="#d49462" fill-opacity="0.83"/>
<circle cx="318.2" cy="102.3" r="1.5" fill="#c47a45" fill-opacity="0.84"/>
<circle cx="319.9" cy="95.4" r="2.2" fill="#d49462" fill-opacity="0.91"/>
<circle cx="321.4" cy="93.5" r="2.2" fill="#c8844e" fill-opacity="0.98"/>
<circle cx="328.9" cy="107.0" r="1.8" fill="#c47a45" fill-opacity="0.92"/>
<circle cx="337.0" cy="88.5" r="2.1" fill="#b36535" fill-opacity="0.96"/>
<circle cx="329.5" cy="89.3" r="2.1" fill="#cf8a55" fill-opacity="0.70"/>
<circle cx="322.7" cy="96.5" r="2.9" fill="#b36535" fill-opacity="0.86"/>
<circle cx="326.4" cy="87.9" r="1.6" fill="#c8844e" fill-opacity="0.89"/>
<circle cx="315.5" cy="98.7" r="1.6" fill="#b36535" fill-opacity="0.78"/>
<circle cx="326.2" cy="92.9" r="2.2" fill="#c8844e" fill-opacity="0.75"/>
<circle cx="331.0" cy="107.2" r="2.7" fill="#d49462" fill-opacity="0.81"/>
<circle cx="290.1" cy="123.9" r="1.4" fill="#b86a38" fill-opacity="0.90"/>
<circle cx="289.4" cy="120.7" r="1.7" fill="#cf8a55" fill-opacity="0.75"/>
<circle cx="292.2" cy="122.5" r="2.0" fill="#b86a38" fill-opacity="0.91"/>
<circle cx="295.5" cy="122.9" r="1.9" fill="#b36535" fill-opacity="0.83"/>
<circle cx="290.1" cy="133.1" r="1.7" fill="#b86a38" fill-opacity="0.83"/>
<circle cx="287.3" cy="126.2" r="1.4" fill="#d49462" fill-opacity="0.87"/>
<circle cx="291.0" cy="120.3" r="1.9" fill="#c47a45" fill-opacity="0.81"/>
<circle cx="287.0" cy="122.0" r="1.5" fill="#bf7444" fill-opacity="0.93"/>
<circle cx="292.1" cy="118.8" r="1.4" fill="#bf7444" fill-opacity="0.75"/>
<circle cx="290.4" cy="120.8" r="1.3" fill="#d49462" fill-opacity="0.90"/>
<circle cx="286.8" cy="117.8" r="1.6" fill="#bf7444" fill-opacity="0.92"/>
<circle cx="293.2" cy="133.3" r="2.0" fill="#cf8a55" fill-opacity="0.89"/>
<circle cx="293.2" cy="118.1" r="1.2" fill="#b86a38" fill-opacity="0.81"/>
<circle cx="292.6" cy="120.2" r="1.9" fill="#c8844e" fill-opacity="0.77"/>
<circle cx="326.4" cy="131.6" r="1.3" fill="#b36535" fill-opacity="0.78"/>
<circle cx="317.9" cy="135.6" r="1.7" fill="#c8844e" fill-opacity="0.95"/>
<circle cx="326.7" cy="132.2" r="1.5" fill="#b86a38" fill-opacity="0.85"/>
<circle cx="316.6" cy="133.3" r="2.0" fill="#c8844e" fill-opacity="0.93"/>
<circle cx="314.3" cy="129.9" r="1.9" fill="#d49462" fill-opacity="0.83"/>
<circle cx="314.9" cy="130.2" r="1.5" fill="#d49462" fill-opacity="0.82"/>
<circle cx="315.8" cy="129.7" r="2.1" fill="#b86a38" fill-opacity="0.78"/>
<circle cx="325.9" cy="132.1" r="1.3" fill="#b86a38" fill-opacity="0.84"/>
<circle cx="328.9" cy="130.2" r="1.2" fill="#d49462" fill-opacity="0.98"/>
<circle cx="324.9" cy="133.3" r="1.8" fill="#cf8a55" fill-opacity="0.78"/>
<circle cx="319.9" cy="136.1" r="2.0" fill="#c47a45" fill-opacity="0.97"/>
<circle cx="319.0" cy="124.8" r="1.9" fill="#d49462" fill-opacity="0.88"/>
<circle cx="327.6" cy="133.6" r="2.4" fill="#cf8a55" fill-opacity="0.91"/>
<circle cx="323.0" cy="134.9" r="2.2" fill="#c47a45" fill-opacity="0.84"/>
<circle cx="312.0" cy="128.8" r="2.2" fill="#b86a38" fill-opacity="0.88"/>
<circle cx="316.4" cy="128.7" r="1.8" fill="#b36535" fill-opacity="0.97"/>
<circle cx="316.4" cy="128.7" r="2.4" fill="#c8844e" fill-opacity="0.90"/>
<circle cx="318.3" cy="124.1" r="2.3" fill="#bf7444" fill-opacity="0.97"/>
<circle cx="314.8" cy="121.1" r="1.8" fill="#cf8a55" fill-opacity="0.76"/>
<circle cx="327.8" cy="126.2" r="2.0" fill="#b86a38" fill-opacity="0.77"/>
<circle cx="331.6" cy="113.1" r="2.8" fill="#b36535" fill-opacity="0.92"/>
<circle cx="334.6" cy="147.8" r="2.2" fill="#b86a38" fill-opacity="0.87"/>
<circle cx="342.3" cy="138.3" r="2.0" fill="#b36535" fill-opacity="0.97"/>
<circle cx="342.2" cy="109.6" r="2.1" fill="#d49462" fill-opacity="0.76"/>
<circle cx="322.9" cy="127.8" r="2.7" fill="#bf7444" fill-opacity="0.76"/>
<circle cx="341.6" cy="139.8" r="1.9" fill="#b86a38" fill-opacity="0.86"/>
<circle cx="326.4" cy="137.5" r="1.6" fill="#c8844e" fill-opacity="0.76"/>
<circle cx="326.9" cy="140.9" r="2.1" fill="#d49462" fill-opacity="0.88"/>
<circle cx="343.9" cy="152.2" r="1.9" fill="#b36535" fill-opacity="0.95"/>
<circle cx="333.1" cy="113.5" r="2.4" fill="#b36535" fill-opacity="0.99"/>
<circle cx="331.3" cy="148.1" r="2.9" fill="#bf7444" fill-opacity="0.94"/>
<circle cx="343.1" cy="120.6" r="2.8" fill="#c47a45" fill-opacity="0.92"/>
<circle cx="328.6" cy="124.7" r="2.6" fill="#cf8a55" fill-opacity="0.77"/>
<circle cx="343.4" cy="142.4" r="2.8" fill="#b36535" fill-opacity="0.83"/>
<circle cx="349.0" cy="140.7" r="2.3" fill="#d49462" fill-opacity="0.98"/>
<circle cx="330.7" cy="111.9" r="3.0" fill="#c8844e" fill-opacity="0.97"/>
<circle cx="337.5" cy="104.9" r="3.1" fill="#d49462" fill-opacity="0.98"/>
<circle cx="336.3" cy="148.0" r="2.3" fill="#d49462" fill-opacity="0.88"/>
<circle cx="345.6" cy="120.1" r="1.9" fill="#b36535" fill-opacity="0.83"/>
<circle cx="331.6" cy="104.1" r="2.1" fill="#cf8a55" fill-opacity="0.90"/>
<circle cx="341.3" cy="112.3" r="2.8" fill="#bf7444" fill-opacity="0.75"/>
<circle cx="330.6" cy="106.4" r="2.0" fill="#b36535" fill-opacity="0.88"/>
<circle cx="330.8" cy="130.1" r="2.4" fill="#c47a45" fill-opacity="0.93"/>
<circle cx="330.5" cy="126.8" r="2.5" fill="#c8844e" fill-opacity="0.92"/>
<circle cx="345.9" cy="147.2" r="2.7" fill="#b86a38" fill-opacity="0.95"/>
<circle cx="338.3" cy="147.1" r="2.8" fill="#d49462" fill-opacity="0.85"/>
<circle cx="335.5" cy="104.9" r="2.3" fill="#cf8a55" fill-opacity="0.98"/>
<circle cx="332.1" cy="155.2" r="1.8" fill="#bf7444" fill-opacity="0.80"/>
<circle cx="345.1" cy="143.1" r="2.8" fill="#cf8a55" fill-opacity="0.80"/>
<circle cx="341.6" cy="126.1" r="3.1" fill="#b86a38" fill-opacity="0.91"/>
<circle cx="328.4" cy="130.9" r="2.9" fill="#b86a38" fill-opacity="0.89"/>
<circle cx="345.7" cy="130.4" r="1.9" fill="#d49462" fill-opacity="0.86"/>
<circle cx="342.6" cy="130.9" r="2.1" fill="#bf7444" fill-opacity="0.85"/>
<circle cx="341.2" cy="124.2" r="1.9" fill="#b86a38" fill-opacity="0.92"/>
<circle cx="339.6" cy="136.9" r="1.9" fill="#d49462" fill-opacity="0.79"/>
<circle cx="338.8" cy="114.2" r="1.9" fill="#b36535" fill-opacity="0.93"/>
<circle cx="325.6" cy="130.7" r="2.7" fill="#c47a45" fill-opacity="0.99"/>
<circle cx="329.0" cy="128.6" r="2.4" fill="#cf8a55" fill-opacity="0.84"/>
<circle cx="324.8" cy="136.3" r="2.1" fill="#d49462" fill-opacity="0.81"/>
<circle cx="338.3" cy="150.0" r="2.4" fill="#cf8a55" fill-opacity="0.87"/>
<circle cx="348.0" cy="122.1" r="1.8" fill="#c8844e" fill-opacity="0.98"/>
<circle cx="350.2" cy="123.5" r="1.9" fill="#d49462" fill-opacity="0.81"/>
<circle cx="330.7" cy="141.9" r="2.8" fill="#bf7444" fill-opacity="0.79"/>
<circle cx="326.1" cy="128.7" r="2.1" fill="#d49462" fill-opacity="0.81"/>
<circle cx="343.8" cy="143.2" r="3.1" fill="#d49462" fill-opacity="0.89"/>
<circle cx="328.3" cy="142.9" r="2.1" fill="#bf7444" fill-opacity="0.85"/>
<circle cx="336.5" cy="148.7" r="2.1" fill="#b36535" fill-opacity="0.85"/>
<circle cx="334.9" cy="109.7" r="2.4" fill="#b36535" fill-opacity="0.95"/>
<circle cx="341.7" cy="140.8" r="2.2" fill="#b36535" fill-opacity="0.81"/>
<circle cx="348.7" cy="135.9" r="2.8" fill="#b36535" fill-opacity="0.84"/>
<circle cx="335.7" cy="106.0" r="2.1" fill="#b86a38" fill-opacity="0.80"/>
<circle cx="336.9" cy="110.7" r="1.9" fill="#c8844e" fill-opacity="0.95"/>
<circle cx="345.4" cy="135.5" r="3.2" fill="#c8844e" fill-opacity="0.80"/>
<circle cx="338.0" cy="151.1" r="2.9" fill="#b36535" fill-opacity="0.93"/>
<circle cx="344.4" cy="125.4" r="2.0" fill="#b86a38" fill-opacity="0.97"/>
<circle cx="350.4" cy="157.2" r="3.0" fill="#b36535" fill-opacity="0.97"/>
<circle cx="272.3" cy="155.0" r="2.6" fill="#b36535" fill-opacity="0.87"/>
<circle cx="280.5" cy="165.0" r="3.0" fill="#cf8a55" fill-opacity="0.82"/>
<circle cx="265.5" cy="160.1" r="1.7" fill="#bf7444" fill-opacity="0.98"/>
<circle cx="318.7" cy="151.2" r="2.2" fill="#c8844e" fill-opacity="0.86"/>
<circle cx="334.5" cy="160.4" r="2.7" fill="#cf8a55" fill-opacity="0.79"/>
<circle cx="274.4" cy="167.0" r="2.2" fill="#d49462" fill-opacity="0.80"/>
<circle cx="281.3" cy="164.0" r="1.7" fill="#d49462" fill-opacity="0.77"/>
<circle cx="281.5" cy="167.2" r="2.5" fill="#b36535" fill-opacity="0.89"/>
<circle cx="266.0" cy="158.5" r="2.8" fill="#d49462" fill-opacity="0.96"/>
<circle cx="341.5" cy="153.7" r="2.4" fill="#b86a38" fill-opacity="0.92"/>
<circle cx="346.3" cy="154.9" r="3.1" fill="#c8844e" fill-opacity="0.81"/>
<circle cx="350.6" cy="161.9" r="2.6" fill="#b86a38" fill-opacity="0.91"/>
<circle cx="292.1" cy="151.0" r="2.2" fill="#bf7444" fill-opacity="0.80"/>
<circle cx="278.3" cy="163.2" r="2.8" fill="#c47a45" fill-opacity="0.83"/>
<circle cx="284.9" cy="163.1" r="2.3" fill="#b36535" fill-opacity="0.97"/>
<circle cx="339.5" cy="153.4" r="3.0" fill="#b36535" fill-opacity="0.87"/>
<circle cx="303.8" cy="166.6" r="2.0" fill="#b86a38" fill-opacity="0.77"/>
<circle cx="269.1" cy="163.2" r="2.7" fill="#b36535" fill-opacity="0.86"/>
<circle cx="308.3" cy="145.3" r="2.6" fill="#d49462" fill-opacity="0.98"/>
<circle cx="284.3" cy="148.8" r="1.9" fill="#b36535" fill-opacity="0.87"/>
<circle cx="330.8" cy="146.7" r="1.8" fill="#c47a45" fill-opacity="0.80"/>
<circle cx="345.6" cy="157.5" r="2.8" fill="#cf8a55" fill-opacity="0.77"/>
<circle cx="267.6" cy="161.3" r="1.7" fill="#b86a38" fill-opacity="0.82"/>
<circle cx="333.8" cy="150.6" r="2.7" fill="#d49462" fill-opacity="1.00"/>
<circle cx="308.7" cy="167.9" r="2.9" fill="#b36535" fill-opacity="0.88"/>
<circle cx="343.9" cy="153.7" r="3.1" fill="#c8844e" fill-opacity="0.77"/>
<circle cx="267.9" cy="159.3" r="2.9" fill="#d49462" fill-opacity="0.89"/>
<circle cx="310.9" cy="170.4" r="2.9" fill="#c8844e" fill-opacity="0.92"/>
<circle cx="292.6" cy="150.1" r="2.6" fill="#cf8a55" fill-opacity="0.93"/>
<circle cx="345.0" cy="153.1" r="1.7" fill="#cf8a55" fill-opacity="0.82"/>
<circle cx="294.6" cy="167.8" r="3.1" fill="#bf7444" fill-opacity="0.84"/>
<circle cx="269.4" cy="157.0" r="2.1" fill="#c47a45" fill-opacity="0.89"/>
<circle cx="343.3" cy="156.5" r="2.2" fill="#cf8a55" fill-opacity="0.99"/>
<circle cx="265.3" cy="159.2" r="1.7" fill="#bf7444" fill-opacity="0.89"/>
<circle cx="336.3" cy="154.0" r="2.1" fill="#bf7444" fill-opacity="0.77"/>
<circle cx="306.7" cy="165.7" r="1.7" fill="#d49462" fill-opacity="0.98"/>
<circle cx="265.3" cy="155.3" r="2.2" fill="#c47a45" fill-opacity="0.75"/>
<circle cx="352.5" cy="156.8" r="2.7" fill="#c8844e" fill-opacity="0.76"/>
<circle cx="285.1" cy="162.8" r="1.6" fill="#d49462" fill-opacity="0.77"/>
<circle cx="312.5" cy="164.5" r="2.7" fill="#c8844e" fill-opacity="0.90"/>
<circle cx="270.1" cy="161.6" r="3.0" fill="#b36535" fill-opacity="0.84"/>
<circle cx="338.7" cy="155.5" r="2.3" fill="#bf7444" fill-opacity="0.97"/>
<circle cx="344.6" cy="156.9" r="1.6" fill="#b36535" fill-opacity="0.82"/>
<circle cx="329.7" cy="168.7" r="3.0" fill="#c8844e" fill-opacity="0.80"/>
<circle cx="302.5" cy="161.3" r="2.7" fill="#b36535" fill-opacity="0.94"/>
<circle cx="338.6" cy="166.5" r="2.9" fill="#c47a45" fill-opacity="0.91"/>
<circle cx="347.6" cy="164.0" r="2.4" fill="#cf8a55" fill-opacity="0.91"/>
<circle cx="290.7" cy="169.2" r="2.5" fill="#b86a38" fill-opacity="0.79"/>
<circle cx="288.9" cy="146.4" r="2.6" fill="#cf8a55" fill-opacity="0.83"/>
<circle cx="329.9" cy="150.7" r="2.3" fill="#bf7444" fill-opacity="0.80"/>
<circle cx="310.8" cy="165.0" r="2.6" fill="#b86a38" fill-opacity="0.88"/>
<circle cx="343.8" cy="151.7" r="2.5" fill="#bf7444" fill-opacity="0.79"/>
<circle cx="318.7" cy="169.3" r="2.2" fill="#d49462" fill-opacity="0.96"/>
<circle cx="353.3" cy="157.2" r="1.9" fill="#b86a38" fill-opacity="0.77"/>
<circle cx="269.7" cy="154.3" r="1.9" fill="#bf7444" fill-opacity="0.88"/>
<circle cx="298.3" cy="148.9" r="2.1" fill="#b36535" fill-opacity="0.79"/>
<circle cx="276.7" cy="163.9" r="2.9" fill="#c8844e" fill-opacity="0.98"/>
<circle cx="341.6" cy="155.9" r="2.9" fill="#bf7444" fill-opacity="0.87"/>
<circle cx="346.5" cy="154.2" r="2.2" fill="#b86a38" fill-opacity="0.89"/>
<circle cx="344.7" cy="158.7" r="2.7" fill="#c47a45" fill-opacity="0.88"/>
<circle cx="345.3" cy="157.4" r="1.9" fill="#b86a38" fill-opacity="0.86"/>
<circle cx="307.9" cy="163.4" r="2.9" fill="#cf8a55" fill-opacity="0.89"/>
<circle cx="267.7" cy="159.6" r="2.2" fill="#cf8a55" fill-opacity="0.80"/>
<circle cx="279.7" cy="162.0" r="2.8" fill="#b36535" fill-opacity="0.94"/>
<circle cx="336.1" cy="164.2" r="1.8" fill="#bf7444" fill-opacity="0.78"/>
<circle cx="273.5" cy="157.8" r="3.2" fill="#b86a38" fill-opacity="0.95"/>
<circle cx="271.1" cy="154.8" r="2.1" fill="#bf7444" fill-opacity="0.78"/>
<circle cx="343.5" cy="157.3" r="2.3" fill="#d49462" fill-opacity="0.75"/>
<circle cx="339.1" cy="162.1" r="3.1" fill="#b36535" fill-opacity="0.83"/>
<circle cx="225.4" cy="147.7" r="2.2" fill="#c8844e" fill-opacity="0.85"/>
<circle cx="219.1" cy="163.4" r="1.9" fill="#b86a38" fill-opacity="0.85"/>
<circle cx="212.6" cy="137.6" r="2.6" fill="#b36535" fill-opacity="0.79"/>
<circle cx="210.2" cy="158.4" r="2.9" fill="#bf7444" fill-opacity="0.95"/>
<circle cx="210.2" cy="136.8" r="2.5" fill="#d49462" fill-opacity="1.00"/>
<circle cx="205.6" cy="162.5" r="2.8" fill="#c47a45" fill-opacity="0.93"/>
<circle cx="221.0" cy="137.4" r="1.8" fill="#c47a45" fill-opacity="0.84"/>
<circle cx="222.6" cy="139.6" r="1.7" fill="#c8844e" fill-opacity="0.97"/>
<circle cx="198.0" cy="144.3" r="2.6" fill="#b36535" fill-opacity="0.82"/>
<circle cx="197.0" cy="147.8" r="1.6" fill="#c47a45" fill-opacity="0.95"/>
<circle cx="221.6" cy="157.6" r="2.8" fill="#bf7444" fill-opacity="0.78"/>
<circle cx="223.0" cy="151.4" r="3.0" fill="#d49462" fill-opacity="0.87"/>
<circle cx="192.6" cy="153.3" r="2.6" fill="#c47a45" fill-opacity="0.79"/>
<circle cx="208.8" cy="136.3" r="2.3" fill="#b86a38" fill-opacity="0.95"/>
<circle cx="190.8" cy="156.9" r="2.2" fill="#b86a38" fill-opacity="0.90"/>
<circle cx="223.6" cy="146.6" r="1.8" fill="#c47a45" fill-opacity="1.00"/>
<circle cx="200.8" cy="161.3" r="2.0" fill="#c47a45" fill-opacity="0.92"/>
<circle cx="224.0" cy="145.9" r="2.8" fill="#bf7444" fill-opacity="0.99"/>
<circle cx="191.2" cy="146.6" r="1.8" fill="#d49462" fill-opacity="0.84"/>
<circle cx="194.6" cy="142.2" r="1.7" fill="#c8844e" fill-opacity="0.90"/>
<circle cx="218.5" cy="163.5" r="2.6" fill="#c47a45" fill-opacity="0.77"/>
<circle cx="198.8" cy="143.8" r="2.5" fill="#b86a38" fill-opacity="0.80"/>
<circle cx="223.6" cy="153.3" r="2.5" fill="#d49462" fill-opacity="0.77"/>
<circle cx="198.3" cy="139.9" r="3.0" fill="#c8844e" fill-opacity="0.89"/>
<circle cx="222.2" cy="145.7" r="3.0" fill="#b36535" fill-opacity="0.89"/>
<circle cx="220.3" cy="144.4" r="1.6" fill="#cf8a55" fill-opacity="0.90"/>
<circle cx="226.8" cy="155.8" r="2.4" fill="#b36535" fill-opacity="0.94"/>
<circle cx="190.1" cy="148.2" r="3.0" fill="#c47a45" fill-opacity="0.89"/>
<circle cx="201.8" cy="142.7" r="2.1" fill="#cf8a55" fill-opacity="0.98"/>
<circle cx="224.2" cy="152.0" r="2.8" fill="#d49462" fill-opacity="0.90"/>
<circle cx="225.2" cy="158.5" r="2.9" fill="#b86a38" fill-opacity="0.84"/>
<circle cx="202.8" cy="133.9" r="2.6" fill="#cf8a55" fill-opacity="0.75"/>
<circle cx="197.7" cy="139.1" r="2.4" fill="#b86a38" fill-opacity="0.88"/>
<circle cx="222.0" cy="146.7" r="2.6" fill="#c8844e" fill-opacity="0.88"/>
<circle cx="228.2" cy="152.3" r="2.1" fill="#c8844e" fill-opacity="0.96"/>
<circle cx="202.2" cy="133.9" r="2.2" fill="#cf8a55" fill-opacity="0.85"/>
<circle cx="195.0" cy="140.8" r="1.7" fill="#c47a45" fill-opacity="0.97"/>
<circle cx="216.8" cy="159.8" r="3.0" fill="#c47a45" fill-opacity="0.89"/>
<circle cx="227.6" cy="150.8" r="2.5" fill="#b86a38" fill-opacity="0.87"/>
<circle cx="212.8" cy="140.8" r="2.2" fill="#bf7444" fill-opacity="0.99"/>
<circle cx="223.9" cy="146.0" r="2.5" fill="#bf7444" fill-opacity="0.96"/>
<circle cx="195.7" cy="150.3" r="2.2" fill="#b86a38" fill-opacity="0.81"/>
<circle cx="201.5" cy="163.5" r="1.8" fill="#b36535" fill-opacity="0.97"/>
<circle cx="191.4" cy="147.7" r="1.7" fill="#d49462" fill-opacity="0.84"/>
<circle cx="217.0" cy="158.4" r="1.7" fill="#b86a38" fill-opacity="0.93"/>
<circle cx="271.8" cy="22.9" r="1.6" fill="#b86a38" fill-opacity="0.91"/>
<circle cx="266.2" cy="24.9" r="2.2" fill="#cf8a55" fill-opacity="0.97"/>
<circle cx="270.3" cy="23.6" r="2.1" fill="#b36535" fill-opacity="0.94"/>
<circle cx="265.1" cy="21.7" r="2.0" fill="#c47a45" fill-opacity="0.90"/>
<circle cx="269.2" cy="20.9" r="2.4" fill="#cf8a55" fill-opacity="0.92"/>
<circle cx="265.3" cy="21.4" r="2.1" fill="#bf7444" fill-opacity="0.76"/>
<circle cx="274.5" cy="26.4" r="2.0" fill="#b36535" fill-opacity="0.88"/>
<circle cx="263.3" cy="22.6" r="1.9" fill="#bf7444" fill-opacity="0.97"/>
<circle cx="270.6" cy="22.3" r="2.8" fill="#cf8a55" fill-opacity="1.00"/>
<circle cx="269.6" cy="20.9" r="2.1" fill="#cf8a55" fill-opacity="0.90"/>
<circle cx="207.7" cy="63.4" r="1.6" fill="#d49462" fill-opacity="0.73"/>
<circle cx="209.4" cy="55.0" r="2.7" fill="#c47a45" fill-opacity="0.94"/>
<circle cx="205.3" cy="51.9" r="2.5" fill="#d49462" fill-opacity="0.97"/>
<circle cx="207.1" cy="51.3" r="2.6" fill="#d49462" fill-opacity="0.88"/>
<circle cx="212.0" cy="56.6" r="1.5" fill="#c47a45" fill-opacity="0.97"/>
<circle cx="207.1" cy="52.2" r="1.5" fill="#c47a45" fill-opacity="0.89"/>
<circle cx="207.1" cy="64.9" r="2.4" fill="#c8844e" fill-opacity="0.88"/>
<circle cx="207.4" cy="63.6" r="1.9" fill="#b86a38" fill-opacity="0.79"/>
<circle cx="240.6" cy="80.6" r="1.4" fill="#bf7444" fill-opacity="0.88"/>
<circle cx="241.0" cy="85.4" r="1.4" fill="#d49462" fill-opacity="0.77"/>
<circle cx="250.4" cy="84.5" r="1.1" fill="#c47a45" fill-opacity="0.75"/>
<circle cx="244.6" cy="92.7" r="1.1" fill="#d49462" fill-opacity="0.87"/>
<circle cx="249.8" cy="83.2" r="1.1" fill="#b36535" fill-opacity="0.77"/>
<circle cx="245.3" cy="80.7" r="1.4" fill="#cf8a55" fill-opacity="0.98"/>
<circle cx="237.1" cy="88.9" r="1.4" fill="#c8844e" fill-opacity="0.93"/>
<circle cx="246.8" cy="82.9" r="1.9" fill="#bf7444" fill-opacity="0.95"/>
<circle cx="256.1" cy="79.7" r="1.4" fill="#c47a45" fill-opacity="0.79"/>
<circle cx="241.8" cy="84.2" r="1.2" fill="#b36535" fill-opacity="0.99"/>
<circle cx="261.2" cy="132.4" r="1.7" fill="#b86a38" fill-opacity="0.85"/>
<circle cx="257.0" cy="119.6" r="1.5" fill="#c8844e" fill-opacity="0.76"/>
<circle cx="236.7" cy="137.3" r="1.9" fill="#c47a45" fill-opacity="0.74"/>
<circle cx="258.1" cy="126.6" r="1.9" fill="#cf8a55" fill-opacity="0.88"/>
<circle cx="255.8" cy="131.9" r="2.2" fill="#bf7444" fill-opacity="0.96"/>
<circle cx="252.9" cy="134.1" r="2.2" fill="#b86a38" fill-opacity="0.71"/>
<circle cx="242.2" cy="134.7" r="1.9" fill="#b86a38" fill-opacity="0.84"/>
<circle cx="259.9" cy="140.1" r="2.2" fill="#b86a38" fill-opacity="0.76"/>
<circle cx="245.6" cy="128.3" r="1.6" fill="#d49462" fill-opacity="0.85"/>
<circle cx="243.0" cy="132.7" r="1.9" fill="#c8844e" fill-opacity="0.88"/>
<circle cx="262.0" cy="140.3" r="1.9" fill="#c8844e" fill-opacity="0.73"/>
<circle cx="251.6" cy="119.4" r="1.3" fill="#c8844e" fill-opacity="0.89"/>
<circle cx="300.7" cy="94.6" r="3.3" fill="#c8844e" fill-opacity="0.83"/>
<circle cx="301.5" cy="90.3" r="3.4" fill="#b86a38" fill-opacity="0.71"/>
<circle cx="297.7" cy="89.2" r="2.8" fill="#bf7444" fill-opacity="1.00"/>
<circle cx="298.2" cy="90.5" r="2.8" fill="#bf7444" fill-opacity="0.95"/>
<ellipse cx="247.0" cy="87.6" rx="12.0" ry="12.0" fill="#e6d6d0" fill-opacity="0.85"/>
<ellipse cx="250.5" cy="128.4" rx="16.3" ry="13.1" fill="#e8dcd8" fill-opacity="0.85"/>
<ellipse cx="290.0" cy="45.3" rx="3.8" ry="6.0" fill="#e8dcd6" fill-opacity="0.85"/>
<ellipse cx="318.6" cy="64.4" rx="4.4" ry="3.8" fill="#e6d8d4" fill-opacity="0.85"/>
<ellipse cx="215.1" cy="39.9" rx="3.8" ry="6.0" fill="#eadcd4" fill-opacity="0.85"/>
<circle cx="242.0" cy="93.0" r="1.1" fill="#c47a45" fill-opacity="0.97"/>
<circle cx="242.5" cy="96.1" r="1.2" fill="#b86a38" fill-opacity="1.00"/>
<circle cx="252.2" cy="94.2" r="1.3" fill="#cf8a55" fill-opacity="0.91"/>
<circle cx="246.6" cy="80.4" r="1.0" fill="#c8844e" fill-opacity="0.96"/>
<circle cx="256.2" cy="79.9" r="1.2" fill="#b86a38" fill-opacity="0.75"/>
<circle cx="238.9" cy="94.6" r="1.6" fill="#b36535" fill-opacity="0.97"/>
<circle cx="243.9" cy="95.1" r="1.8" fill="#bf7444" fill-opacity="0.80"/>
<circle cx="245.4" cy="88.3" r="1.7" fill="#bf7444" fill-opacity="0.85"/>
<circle cx="248.5" cy="120.2" r="1.1" fill="#b36535" fill-opacity="0.84"/>
<circle cx="249.9" cy="123.1" r="0.9" fill="#b86a38" fill-opacity="0.89"/>
<circle cx="243.5" cy="133.4" r="1.4" fill="#b86a38" fill-opacity="0.78"/>
<circle cx="263.4" cy="137.3" r="1.3" fill="#c8844e" fill-opacity="0.80"/>
<circle cx="242.6" cy="131.3" r="1.0" fill="#c8844e" fill-opacity="0.72"/>
<circle cx="255.1" cy="132.0" r="1.5" fill="#cf8a55" fill-opacity="0.95"/>
<circle cx="251.9" cy="127.0" r="1.1" fill="#cf8a55" fill-opacity="0.83"/>
<circle cx="248.9" cy="124.7" r="1.0" fill="#b36535" fill-opacity="0.94"/>
<circle cx="220.0" cy="31.2" r="2.0" fill="#a0562c" fill-opacity="0.85"/>
<circle cx="230.6" cy="47.1" r="2.3" fill="#a0562c" fill-opacity="0.85"/>
<circle cx="216.7" cy="49.3" r="2.2" fill="#a0562c" fill-opacity="0.85"/>
<circle cx="268.0" cy="23.3" r="1.6" fill="#a0562c" fill-opacity="0.85"/>
<circle cx="283.8" cy="34.8" r="1.4" fill="#a0562c" fill-opacity="0.85"/>
<circle cx="296.7" cy="29.3" r="1.8" fill="#a0562c" fill-opacity="0.85"/>
<circle cx="325.8" cy="33.0" r="1.4" fill="#a0562c" fill-opacity="0.85"/>
<circle cx="337.6" cy="49.5" r="1.9" fill="#a0562c" fill-opacity="0.85"/>
<circle cx="307.6" cy="67.8" r="1.7" fill="#a0562c" fill-opacity="0.85"/>
<circle cx="332.3" cy="86.1" r="1.9" fill="#a0562c" fill-opacity="0.85"/>
<circle cx="298.8" cy="92.4" r="2.0" fill="#a0562c" fill-opacity="0.85"/>
<circle cx="322.4" cy="99.9" r="2.0" fill="#a0562c" fill-opacity="0.85"/>
<circle cx="335.5" cy="110.2" r="2.0" fill="#a0562c" fill-opacity="0.85"/>
<circle cx="319.3" cy="120.9" r="2.1" fill="#a0562c" fill-opacity="0.85"/>
<circle cx="332.8" cy="139.4" r="2.3" fill="#a0562c" fill-opacity="0.85"/>
<circle cx="285.0" cy="150.5" r="1.5" fill="#a0562c" fill-opacity="0.85"/>
<circle cx="259.9" cy="156.1" r="2.0" fill="#a0562c" fill-opacity="0.85"/>
<circle cx="230.5" cy="148.0" r="2.1" fill="#a0562c" fill-opacity="0.85"/>
<circle cx="224.6" cy="102.5" r="2.2" fill="#a0562c" fill-opacity="0.85"/>
<circle cx="267.0" cy="100.8" r="1.8" fill="#a0562c" fill-opacity="0.85"/>
<circle cx="235.2" cy="69.9" r="2.0" fill="#a0562c" fill-opacity="0.85"/>
<circle cx="258.6" cy="74.8" r="2.2" fill="#a0562c" fill-opacity="0.85"/>
<circle cx="220.3" cy="117.0" r="1.6" fill="#a0562c" fill-opacity="0.85"/>
<circle cx="242.8" cy="112.0" r="1.6" fill="#a0562c" fill-opacity="0.85"/>
<circle cx="272.7" cy="135.4" r="1.6" fill="#a0562c" fill-opacity="0.85"/>
</g>
<rect x="204.2" y="20.8" width="137.4" height="138.1" filter="url(#speck)" opacity="0.2"/>
<g filter="url(#soft)">
<ellipse cx="245.1" cy="61.7" rx="8.0" ry="1.8" transform="rotate(20 245.1 61.7)" fill="#d42f80" fill-opacity="0.9"/>
<ellipse cx="257.3" cy="67.1" rx="7.0" ry="2.0" transform="rotate(25 257.3 67.1)" fill="#d42f80" fill-opacity="0.9"/>
<ellipse cx="266.9" cy="73.9" rx="6.0" ry="2.2" transform="rotate(40 266.9 73.9)" fill="#e04896" fill-opacity="0.9"/>
<ellipse cx="273.7" cy="82.1" rx="4.0" ry="3.0" transform="rotate(60 273.7 82.1)" fill="#d42f80" fill-opacity="0.9"/>
<ellipse cx="276.4" cy="88.9" rx="3.0" ry="3.0" transform="rotate(0 276.4 88.9)" fill="#e04896" fill-opacity="0.9"/>
<ellipse cx="271.0" cy="79.4" rx="4.0" ry="3.0" transform="rotate(0 271.0 79.4)" fill="#e0358a" fill-opacity="0.9"/>
<ellipse cx="277.8" cy="84.8" rx="3.0" ry="2.5" transform="rotate(0 277.8 84.8)" fill="#d42f80" fill-opacity="0.9"/>
<ellipse cx="285.9" cy="116.2" rx="6.0" ry="2.0" transform="rotate(20 285.9 116.2)" fill="#e5579e" fill-opacity="0.9"/>
<ellipse cx="279.1" cy="129.8" rx="2.0" ry="6.0" transform="rotate(10 279.1 129.8)" fill="#d42f80" fill-opacity="0.9"/>
<ellipse cx="276.4" cy="140.7" rx="2.2" ry="5.0" transform="rotate(0 276.4 140.7)" fill="#e5579e" fill-opacity="0.9"/>
<ellipse cx="208.3" cy="128.4" rx="2.5" ry="5.0" transform="rotate(0 208.3 128.4)" fill="#e5579e" fill-opacity="0.9"/>
<ellipse cx="311.8" cy="144.8" rx="6.0" ry="2.0" transform="rotate(-20 311.8 144.8)" fill="#e5579e" fill-opacity="0.9"/>
<ellipse cx="325.5" cy="46.7" rx="3.0" ry="3.0" transform="rotate(0 325.5 46.7)" fill="#e04896" fill-opacity="0.9"/>
<ellipse cx="337.7" cy="61.7" rx="3.0" ry="2.5" transform="rotate(0 337.7 61.7)" fill="#e0358a" fill-opacity="0.9"/>
<ellipse cx="234.2" cy="64.4" rx="4.0" ry="1.5" transform="rotate(30 234.2 64.4)" fill="#e0358a" fill-opacity="0.9"/>
</g>
</g>
<text x="7.2" y="16.8" font-size="10.5" text-anchor="start" font-weight="bold" fill="#111" stroke="#111" stroke-width="0.1" >A</text>
<line x1="185.6" y1="155.3" x2="195.4" y2="155.3" stroke="#4a3c3c" stroke-width="1" stroke-opacity="0.7"/>
<rect x="239.2" y="31.7" width="28.3" height="10" fill="#fff"/>
<text x="253.3" y="39.6" font-size="7.6" text-anchor="middle" font-weight="bold" fill="#000" stroke="#000" stroke-width="0.1" >SVEC</text>
<rect x="281.7" y="75.8" width="14.1" height="9.5" fill="#fff"/>
<text x="288.9" y="83.4" font-size="7.6" text-anchor="middle" font-weight="bold" fill="#000" stroke="#000" stroke-width="0.1" >LC</text>
<line x1="250.0" y1="42.5" x2="257.1" y2="63.1" stroke="#000" stroke-width="1.4"/>
<polygon points="258.3,66.7 253.7,62.5 257.1,63.1 259.4,60.5" fill="#000"/>
<line x1="279.7" y1="90.8" x2="271.6" y2="103.5" stroke="#000" stroke-width="1.4"/>
<polygon points="269.5,106.7 269.9,100.5 271.6,103.5 275.0,103.7" fill="#000"/>
<text x="37.2" y="183.8" font-size="10.5" text-anchor="start" font-weight="bold" fill="#111" stroke="#111" stroke-width="0.1" >B</text>
<text x="125.3" y="191.6" font-size="9.6" text-anchor="middle" font-weight="normal" fill="#222" stroke="#222" stroke-width="0.1" >CD45+ cell depleted,</text>
<text x="126.3" y="202.6" font-size="9.6" text-anchor="middle" font-weight="normal" fill="#222" stroke="#222" stroke-width="0.1" >DAPI-</text>
<text x="62.0" y="203.0" font-size="8.5" text-anchor="start" font-weight="normal" fill="#2a2a2a" stroke="#2a2a2a" stroke-width="0.1" >i</text>
<rect x="82.3" y="208.4" width="89.4" height="82.9" fill="none" stroke="#4a4a4a" stroke-width="1.15"/>
<text x="63.7" y="220.1" font-size="7.7" fill="#2a2a2a" stroke="#2a2a2a" stroke-width="0.1">10<tspan font-size="5.24" dy="-3.23">5</tspan></text>
<text x="63.7" y="238.6" font-size="7.7" fill="#2a2a2a" stroke="#2a2a2a" stroke-width="0.1">10<tspan font-size="5.24" dy="-3.23">4</tspan></text>
<text x="63.7" y="258.3" font-size="7.7" fill="#2a2a2a" stroke="#2a2a2a" stroke-width="0.1">10<tspan font-size="5.24" dy="-3.23">3</tspan></text>
<text x="75.2" y="280.6" font-size="7.7" text-anchor="end" font-weight="normal" fill="#2a2a2a" stroke="#2a2a2a" stroke-width="0.1" >0</text>
<text x="75.2" y="294.5" font-size="7.7" text-anchor="end" font-weight="normal" fill="#2a2a2a" stroke="#2a2a2a" stroke-width="0.1" >-472</text>
<text x="82.5" y="305.5" font-size="7.7" text-anchor="middle" font-weight="normal" fill="#2a2a2a" stroke="#2a2a2a" stroke-width="0.1" letter-spacing="0.5">-580</text>
<text x="96.5" y="305.5" font-size="7.7" fill="#2a2a2a" stroke="#2a2a2a" stroke-width="0.1">10<tspan font-size="5.24" dy="-3.23">2</tspan></text>
<text x="117.0" y="305.5" font-size="7.7" fill="#2a2a2a" stroke="#2a2a2a" stroke-width="0.1">10<tspan font-size="5.24" dy="-3.23">3</tspan></text>
<text x="137.3" y="305.5" font-size="7.7" fill="#2a2a2a" stroke="#2a2a2a" stroke-width="0.1">10<tspan font-size="5.24" dy="-3.23">4</tspan></text>
<text x="157.0" y="305.5" font-size="7.7" fill="#2a2a2a" stroke="#2a2a2a" stroke-width="0.1">10<tspan font-size="5.24" dy="-3.23">5</tspan></text>
<path d="M82.3 217.3h-3.0M82.3 235.8h-3.0M82.3 255.5h-3.0M82.3 277.8h-3.0M82.3 291.7h-3.0M82.5 291.3v3.0M102.2 291.3v3.0M122.7 291.3v3.0M143.0 291.3v3.0M162.7 291.3v3.0M82.3 230.2h-1.8M82.3 227.0h-1.8M82.3 224.7h-1.8M82.3 222.9h-1.8M82.3 221.4h-1.8M82.3 220.2h-1.8M82.3 219.1h-1.8M82.3 218.1h-1.8M82.3 249.6h-1.8M82.3 246.1h-1.8M82.3 243.6h-1.8M82.3 241.7h-1.8M82.3 240.2h-1.8M82.3 238.9h-1.8M82.3 237.7h-1.8M82.3 236.7h-1.8M108.4 291.3v1.8M112.0 291.3v1.8M114.5 291.3v1.8M116.5 291.3v1.8M118.2 291.3v1.8M119.5 291.3v1.8M120.7 291.3v1.8M121.8 291.3v1.8M128.8 291.3v1.8M132.4 291.3v1.8M134.9 291.3v1.8M136.9 291.3v1.8M138.5 291.3v1.8M139.9 291.3v1.8M141.0 291.3v1.8M142.1 291.3v1.8M148.9 291.3v1.8M152.4 291.3v1.8M154.9 291.3v1.8M156.8 291.3v1.8M158.3 291.3v1.8M159.6 291.3v1.8M160.8 291.3v1.8M161.8 291.3v1.8" stroke="#777" stroke-width="0.7" fill="none"/>
<text transform="translate(126.0,316.9) scale(0.66,1)" x="0" y="3.24" font-size="9.0" text-anchor="middle" fill="#222" stroke="#222" stroke-width="0.35">CD3</text>
<text transform="translate(50.4,251.5) rotate(-90) scale(0.66,1)" x="0" y="3.24" font-size="9.0" text-anchor="middle" fill="#222" stroke="#222" stroke-width="0.35">CD45</text>
<text x="75.6" y="299.8" font-size="6.3" fill="#6f90b8">M</text>
<path d="M111.6 281.3h1v1h-1zM124.2 280.4h1v1h-1zM118.6 280.0h1v1h-1zM93.0 282.1h1v1h-1zM96.5 268.5h1v1h-1zM123.1 281.4h1v1h-1zM82.7 269.4h1v1h-1zM120.7 265.8h1v1h-1zM119.6 264.4h1v1h-1zM104.3 282.6h1v1h-1zM96.6 282.3h1v1h-1zM95.4 268.6h1v1h-1zM94.4 269.5h1v1h-1zM103.2 267.6h1v1h-1zM106.0 266.9h1v1h-1zM108.2 267.2h1v1h-1zM128.8 279.6h1v1h-1zM119.4 265.0h1v1h-1zM111.4 265.0h1v1h-1zM128.5 263.9h1v1h-1zM92.5 284.6h1v1h-1zM89.9 270.2h1v1h-1zM111.0 266.3h1v1h-1zM84.5 270.4h1v1h-1zM84.2 282.9h1v1h-1zM106.4 266.2h1v1h-1zM104.2 284.7h1v1h-1zM125.1 265.0h1v1h-1zM111.8 281.8h1v1h-1zM106.4 267.6h1v1h-1zM105.6 281.7h1v1h-1zM94.0 281.9h1v1h-1zM83.0 282.9h1v1h-1zM91.4 267.5h1v1h-1zM114.7 265.9h1v1h-1zM91.8 285.4h1v1h-1zM99.7 267.3h1v1h-1zM82.7 270.2h1v1h-1zM121.1 280.1h1v1h-1zM89.7 269.9h1v1h-1zM94.9 269.3h1v1h-1zM123.4 264.3h1v1h-1zM106.2 266.9h1v1h-1zM121.9 265.0h1v1h-1zM112.2 282.3h1v1h-1zM117.0 264.7h1v1h-1zM86.8 269.7h1v1h-1zM107.7 281.9h1v1h-1zM106.1 281.8h1v1h-1zM123.0 279.5h1v1h-1zM99.3 268.0h1v1h-1zM110.3 280.6h1v1h-1zM85.3 283.9h1v1h-1zM100.5 267.4h1v1h-1zM97.5 284.2h1v1h-1zM89.5 269.0h1v1h-1zM120.5 282.1h1v1h-1zM100.1 266.7h1v1h-1zM128.0 279.3h1v1h-1zM109.9 281.3h1v1h-1zM110.6 281.2h1v1h-1zM112.2 266.7h1v1h-1zM114.0 284.7h1v1h-1zM89.5 283.6h1v1h-1zM103.0 268.1h1v1h-1zM93.6 269.7h1v1h-1zM101.2 281.1h1v1h-1zM87.0 268.8h1v1h-1zM127.5 282.4h1v1h-1zM92.5 283.9h1v1h-1zM113.7 280.3h1v1h-1zM96.5 281.8h1v1h-1zM123.1 265.0h1v1h-1zM113.3 266.1h1v1h-1zM88.6 267.6h1v1h-1zM121.8 280.3h1v1h-1zM126.4 264.8h1v1h-1zM124.5 280.5h1v1h-1zM109.0 264.9h1v1h-1zM89.3 282.2h1v1h-1zM91.4 282.1h1v1h-1zM125.6 265.0h1v1h-1zM108.2 283.4h1v1h-1zM90.9 282.1h1v1h-1zM123.6 264.9h1v1h-1zM112.3 266.3h1v1h-1zM109.0 266.9h1v1h-1zM100.0 282.1h1v1h-1zM101.6 267.5h1v1h-1zM93.6 268.7h1v1h-1zM84.3 270.4h1v1h-1zM123.2 280.5h1v1h-1zM104.2 280.9h1v1h-1zM108.0 284.2h1v1h-1zM97.5 266.9h1v1h-1zM117.4 280.0h1v1h-1zM83.7 270.8h1v1h-1zM99.8 267.2h1v1h-1zM83.9 284.9h1v1h-1zM88.2 269.9h1v1h-1zM127.5 279.8h1v1h-1zM113.1 283.9h1v1h-1zM102.4 268.4h1v1h-1zM106.9 280.8h1v1h-1zM123.1 264.6h1v1h-1zM98.5 282.4h1v1h-1zM109.9 267.3h1v1h-1zM114.3 264.6h1v1h-1zM99.0 281.5h1v1h-1zM106.6 267.8h1v1h-1zM118.1 265.4h1v1h-1zM124.8 280.8h1v1h-1zM89.5 268.6h1v1h-1zM125.9 280.4h1v1h-1zM82.7 283.1h1v1h-1zM117.5 281.0h1v1h-1zM120.2 265.1h1v1h-1zM88.9 283.7h1v1h-1zM102.0 281.5h1v1h-1zM120.4 264.6h1v1h-1zM83.2 284.2h1v1h-1zM111.7 266.0h1v1h-1zM119.4 283.5h1v1h-1zM106.4 280.8h1v1h-1zM116.3 285.7h1v1h-1zM93.0 283.5h1v1h-1zM91.7 282.7h1v1h-1zM99.4 268.2h1v1h-1zM90.8 287.0h1v1h-1zM98.6 266.5h1v1h-1zM126.6 264.1h1v1h-1zM109.2 264.8h1v1h-1zM98.3 283.8h1v1h-1zM95.1 285.0h1v1h-1zM126.8 279.6h1v1h-1zM103.2 267.9h1v1h-1zM128.1 264.7h1v1h-1zM106.5 267.1h1v1h-1zM106.7 281.3h1v1h-1zM124.2 280.6h1v1h-1zM117.0 280.1h1v1h-1zM109.5 282.5h1v1h-1zM102.3 282.7h1v1h-1zM123.3 265.3h1v1h-1zM101.6 268.5h1v1h-1zM125.4 264.0h1v1h-1zM85.7 284.2h1v1h-1zM102.5 281.0h1v1h-1zM106.7 266.4h1v1h-1zM126.7 263.8h1v1h-1zM94.2 269.5h1v1h-1zM120.0 281.0h1v1h-1zM114.0 280.3h1v1h-1zM115.8 280.8h1v1h-1zM111.8 266.2h1v1h-1zM127.7 264.4h1v1h-1zM98.0 281.9h1v1h-1zM101.0 282.4h1v1h-1zM91.9 285.7h1v1h-1zM84.9 269.1h1v1h-1zM92.4 282.8h1v1h-1zM125.1 265.0h1v1h-1zM121.6 280.9h1v1h-1zM87.7 269.2h1v1h-1zM110.6 266.4h1v1h-1zM104.8 281.2h1v1h-1zM110.2 267.3h1v1h-1zM113.2 280.7h1v1h-1zM96.8 283.4h1v1h-1zM127.2 281.5h1v1h-1zM104.2 267.6h1v1h-1zM111.7 284.8h1v1h-1zM112.0 266.7h1v1h-1zM91.1 282.1h1v1h-1zM85.4 283.9h1v1h-1zM101.6 267.0h1v1h-1zM118.0 265.0h1v1h-1zM120.4 281.4h1v1h-1zM116.4 265.3h1v1h-1zM87.8 270.2h1v1h-1zM125.0 263.8h1v1h-1zM119.8 265.1h1v1h-1zM123.3 264.3h1v1h-1zM106.8 281.2h1v1h-1zM125.1 279.3h1v1h-1zM84.7 282.8h1v1h-1zM83.9 269.7h1v1h-1zM83.4 269.6h1v1h-1zM94.3 269.0h1v1h-1zM94.1 282.4h1v1h-1zM91.2 269.4h1v1h-1zM108.9 283.1h1v1h-1zM84.3 284.2h1v1h-1zM110.0 266.8h1v1h-1zM90.2 269.2h1v1h-1zM114.0 283.0h1v1h-1zM83.5 269.0h1v1h-1zM96.9 283.0h1v1h-1zM126.1 263.5h1v1h-1zM107.5 267.4h1v1h-1zM120.2 265.5h1v1h-1zM113.1 280.5h1v1h-1zM110.9 265.0h1v1h-1zM91.4 283.6h1v1h-1zM109.2 281.3h1v1h-1zM84.3 284.2h1v1h-1zM119.8 264.2h1v1h-1zM127.1 263.1h1v1h-1zM122.2 265.3h1v1h-1zM84.9 282.7h1v1h-1zM98.2 281.7h1v1h-1zM97.3 268.2h1v1h-1zM87.7 282.9h1v1h-1zM111.6 280.3h1v1h-1zM119.6 282.7h1v1h-1zM97.1 282.5h1v1h-1zM122.6 280.4h1v1h-1zM119.6 280.1h1v1h-1zM88.5 269.4h1v1h-1zM118.2 266.0h1v1h-1zM123.5 280.9h1v1h-1zM91.7 269.2h1v1h-1zM109.2 267.1h1v1h-1zM112.2 283.3h1v1h-1zM110.8 281.7h1v1h-1zM87.0 283.7h1v1h-1zM113.2 280.6h1v1h-1zM111.9 266.1h1v1h-1zM120.8 280.8h1v1h-1zM119.9 281.3h1v1h-1zM97.7 269.0h1v1h-1zM116.1 264.8h1v1h-1zM122.8 264.7h1v1h-1zM124.0 279.5h1v1h-1zM90.0 269.3h1v1h-1zM83.7 270.1h1v1h-1zM112.8 282.8h1v1h-1zM92.5 283.9h1v1h-1zM108.7 280.6h1v1h-1zM126.4 279.7h1v1h-1zM100.1 268.2h1v1h-1zM94.3 266.5h1v1h-1zM103.7 267.0h1v1h-1zM113.1 265.8h1v1h-1zM87.2 283.3h1v1h-1zM100.2 281.9h1v1h-1zM88.7 282.9h1v1h-1zM113.3 280.2h1v1h-1zM121.1 264.9h1v1h-1zM100.0 266.5h1v1h-1zM99.8 281.8h1v1h-1zM107.6 267.2h1v1h-1zM92.5 283.4h1v1h-1zM94.0 268.9h1v1h-1zM97.8 281.9h1v1h-1zM103.8 267.2h1v1h-1zM86.3 270.6h1v1h-1zM117.5 280.0h1v1h-1zM109.4 282.0h1v1h-1zM96.4 282.1h1v1h-1zM86.1 284.1h1v1h-1zM118.0 263.5h1v1h-1zM88.6 269.2h1v1h-1zM88.7 285.7h1v1h-1zM88.6 282.1h1v1h-1zM86.3 270.6h1v1h-1zM124.6 279.6h1v1h-1zM95.0 268.8h1v1h-1zM96.7 268.1h1v1h-1zM121.2 280.8h1v1h-1zM111.3 282.5h1v1h-1zM91.2 283.8h1v1h-1zM102.7 281.0h1v1h-1zM123.6 265.3h1v1h-1zM100.0 283.3h1v1h-1zM115.6 265.7h1v1h-1zM87.0 268.4h1v1h-1zM116.3 265.0h1v1h-1zM118.6 264.8h1v1h-1zM120.9 264.8h1v1h-1zM113.9 265.3h1v1h-1zM99.7 266.3h1v1h-1zM85.5 270.5h1v1h-1zM106.6 267.0h1v1h-1zM117.7 280.7h1v1h-1zM91.4 283.5h1v1h-1zM94.9 268.4h1v1h-1zM107.4 281.8h1v1h-1zM117.3 282.0h1v1h-1zM124.2 265.2h1v1h-1zM88.3 282.9h1v1h-1zM91.1 269.2h1v1h-1zM119.7 280.3h1v1h-1zM112.5 283.0h1v1h-1zM116.0 265.1h1v1h-1zM128.8 279.8h1v1h-1zM126.2 280.6h1v1h-1zM121.7 280.9h1v1h-1zM118.6 281.5h1v1h-1zM100.9 283.7h1v1h-1zM112.3 265.1h1v1h-1zM91.1 282.0h1v1h-1zM117.8 264.5h1v1h-1zM117.7 280.6h1v1h-1zM116.0 282.6h1v1h-1zM103.2 266.9h1v1h-1zM100.1 268.1h1v1h-1zM102.0 283.3h1v1h-1zM84.1 284.9h1v1h-1zM121.8 280.2h1v1h-1zM107.7 266.5h1v1h-1zM100.5 282.2h1v1h-1zM108.0 267.2h1v1h-1zM116.1 280.0h1v1h-1zM100.2 284.0h1v1h-1zM121.1 282.1h1v1h-1zM125.3 263.9h1v1h-1zM100.5 268.7h1v1h-1zM88.9 284.4h1v1h-1zM117.9 266.1h1v1h-1zM128.7 280.9h1v1h-1zM89.4 269.5h1v1h-1zM115.6 266.0h1v1h-1zM120.9 281.6h1v1h-1zM125.3 280.4h1v1h-1zM88.2 283.9h1v1h-1zM86.8 284.3h1v1h-1zM128.4 264.2h1v1h-1zM87.9 282.6h1v1h-1zM90.7 269.9h1v1h-1zM109.2 280.7h1v1h-1zM103.3 267.7h1v1h-1zM117.4 265.3h1v1h-1zM91.4 269.8h1v1h-1zM125.0 280.2h1v1h-1zM92.6 282.5h1v1h-1zM118.3 283.4h1v1h-1zM85.6 283.7h1v1h-1zM104.5 267.1h1v1h-1zM84.0 283.1h1v1h-1zM97.1 267.8h1v1h-1zM97.0 282.9h1v1h-1zM116.0 265.5h1v1h-1zM103.7 283.7h1v1h-1zM85.1 270.0h1v1h-1zM128.8 264.4h1v1h-1zM123.8 265.1h1v1h-1zM125.1 265.1h1v1h-1zM94.0 269.0h1v1h-1zM100.8 282.1h1v1h-1zM93.1 284.8h1v1h-1zM88.3 268.2h1v1h-1zM84.0 270.8h1v1h-1zM105.9 280.8h1v1h-1zM88.2 270.1h1v1h-1zM90.7 282.2h1v1h-1zM122.5 265.3h1v1h-1zM105.0 267.9h1v1h-1zM91.0 269.4h1v1h-1zM113.6 266.1h1v1h-1zM94.9 268.4h1v1h-1zM107.0 266.3h1v1h-1zM95.7 281.8h1v1h-1zM106.5 282.5h1v1h-1zM111.7 266.8h1v1h-1zM107.4 280.9h1v1h-1zM100.9 268.4h1v1h-1zM119.3 281.5h1v1h-1zM123.1 264.5h1v1h-1zM90.8 269.8h1v1h-1zM88.8 282.4h1v1h-1zM87.8 283.4h1v1h-1zM128.1 262.7h1v1h-1zM126.3 264.7h1v1h-1zM93.2 282.6h1v1h-1zM127.6 282.3h1v1h-1zM92.2 284.8h1v1h-1zM106.1 280.8h1v1h-1zM105.6 280.9h1v1h-1zM125.0 281.2h1v1h-1zM84.4 282.5h1v1h-1zM97.2 268.5h1v1h-1zM110.4 267.1h1v1h-1zM85.6 284.2h1v1h-1zM93.5 281.8h1v1h-1zM104.1 267.7h1v1h-1zM123.5 264.9h1v1h-1zM117.9 265.9h1v1h-1zM121.0 280.3h1v1h-1zM117.9 264.5h1v1h-1zM115.4 281.6h1v1h-1zM122.0 263.9h1v1h-1zM114.2 281.3h1v1h-1zM116.7 280.1h1v1h-1zM96.5 265.9h1v1h-1zM90.3 269.1h1v1h-1zM117.7 265.5h1v1h-1zM90.2 282.7h1v1h-1zM110.2 266.6h1v1h-1zM97.8 268.9h1v1h-1zM126.1 263.9h1v1h-1zM89.7 283.9h1v1h-1zM106.4 280.9h1v1h-1zM86.8 282.6h1v1h-1zM127.4 279.8h1v1h-1zM109.3 280.7h1v1h-1zM119.9 264.6h1v1h-1zM95.6 284.3h1v1h-1zM119.8 283.6h1v1h-1zM115.2 280.7h1v1h-1zM112.4 281.0h1v1h-1zM126.7 279.6h1v1h-1zM102.7 267.0h1v1h-1zM101.8 281.8h1v1h-1zM114.7 280.2h1v1h-1zM121.3 265.6h1v1h-1zM98.1 268.8h1v1h-1zM113.6 266.2h1v1h-1zM92.2 269.4h1v1h-1zM108.2 266.6h1v1h-1zM118.3 265.9h1v1h-1zM85.5 282.5h1v1h-1zM116.3 281.9h1v1h-1zM83.2 282.5h1v1h-1zM127.1 281.0h1v1h-1zM104.3 267.8h1v1h-1zM101.5 282.2h1v1h-1zM116.0 266.0h1v1h-1zM106.8 266.0h1v1h-1zM116.5 280.1h1v1h-1zM86.4 269.5h1v1h-1zM108.7 284.2h1v1h-1zM108.5 281.1h1v1h-1zM125.8 281.9h1v1h-1zM84.3 284.5h1v1h-1zM103.6 267.6h1v1h-1zM111.8 266.1h1v1h-1zM108.1 283.6h1v1h-1zM85.9 269.9h1v1h-1zM110.1 267.0h1v1h-1zM92.8 269.3h1v1h-1zM91.6 282.8h1v1h-1zM123.4 265.0h1v1h-1zM91.7 269.1h1v1h-1zM103.6 282.1h1v1h-1zM117.4 265.6h1v1h-1zM115.4 281.7h1v1h-1zM108.2 281.2h1v1h-1zM120.0 279.7h1v1h-1zM104.2 268.0h1v1h-1zM111.3 266.7h1v1h-1zM120.6 265.5h1v1h-1zM114.0 265.8h1v1h-1zM112.3 266.3h1v1h-1zM101.4 265.6h1v1h-1zM108.5 281.9h1v1h-1zM100.9 283.7h1v1h-1zM117.1 281.9h1v1h-1zM100.2 282.8h1v1h-1zM104.2 268.0h1v1h-1zM117.6 280.6h1v1h-1zM105.9 266.3h1v1h-1zM98.2 268.7h1v1h-1zM120.9 280.3h1v1h-1zM100.2 268.5h1v1h-1zM121.8 265.4h1v1h-1zM119.0 265.4h1v1h-1zM103.3 281.7h1v1h-1zM115.6 264.9h1v1h-1zM84.1 270.8h1v1h-1zM100.6 284.0h1v1h-1zM122.5 263.2h1v1h-1zM109.4 283.2h1v1h-1zM108.4 267.2h1v1h-1zM113.4 284.2h1v1h-1zM114.0 265.5h1v1h-1zM109.6 280.8h1v1h-1zM102.1 283.1h1v1h-1zM91.0 281.9h1v1h-1zM96.1 269.0h1v1h-1zM96.1 269.1h1v1h-1zM102.5 268.1h1v1h-1zM129.0 264.4h1v1h-1zM98.9 268.0h1v1h-1zM103.3 265.8h1v1h-1zM99.8 284.4h1v1h-1zM109.5 281.1h1v1h-1zM126.6 281.6h1v1h-1zM123.8 279.4h1v1h-1zM100.0 266.8h1v1h-1zM94.9 268.7h1v1h-1zM123.6 264.3h1v1h-1zM105.5 267.9h1v1h-1zM114.4 264.7h1v1h-1zM85.9 282.8h1v1h-1zM122.8 264.0h1v1h-1zM97.1 268.0h1v1h-1zM105.5 267.5h1v1h-1zM91.7 284.2h1v1h-1zM102.0 281.7h1v1h-1zM121.0 279.8h1v1h-1zM121.0 265.0h1v1h-1zM104.5 267.1h1v1h-1zM118.2 265.2h1v1h-1zM103.8 268.1h1v1h-1zM99.9 284.4h1v1h-1zM107.9 283.0h1v1h-1zM91.9 281.9h1v1h-1zM97.2 269.1h1v1h-1zM115.4 266.1h1v1h-1zM118.3 280.7h1v1h-1zM85.1 282.5h1v1h-1zM116.6 282.6h1v1h-1zM120.5 265.8h1v1h-1zM103.2 267.6h1v1h-1zM85.4 283.7h1v1h-1zM114.3 281.6h1v1h-1zM93.9 269.6h1v1h-1zM112.4 267.0h1v1h-1zM100.0 267.9h1v1h-1zM112.1 266.5h1v1h-1zM94.5 282.3h1v1h-1zM104.7 282.3h1v1h-1zM106.9 281.7h1v1h-1zM111.8 267.0h1v1h-1zM91.9 269.3h1v1h-1zM127.2 282.4h1v1h-1zM95.9 282.3h1v1h-1zM96.7 268.8h1v1h-1zM94.4 268.5h1v1h-1zM85.6 282.9h1v1h-1zM102.2 282.2h1v1h-1zM118.4 266.1h1v1h-1zM115.5 264.1h1v1h-1zM91.6 282.9h1v1h-1zM88.9 270.3h1v1h-1zM97.4 283.2h1v1h-1zM118.2 279.8h1v1h-1zM105.2 267.0h1v1h-1zM125.4 262.6h1v1h-1zM113.0 266.3h1v1h-1zM111.4 265.3h1v1h-1zM118.2 265.5h1v1h-1zM117.4 265.8h1v1h-1zM98.5 266.7h1v1h-1zM94.5 268.3h1v1h-1zM102.8 281.8h1v1h-1zM105.2 267.9h1v1h-1zM89.1 269.9h1v1h-1zM103.0 282.0h1v1h-1zM112.3 281.6h1v1h-1zM88.8 269.9h1v1h-1zM88.9 268.4h1v1h-1zM90.6 283.3h1v1h-1zM95.7 268.0h1v1h-1zM127.2 279.7h1v1h-1zM83.7 285.9h1v1h-1zM91.0 269.5h1v1h-1zM90.2 270.0h1v1h-1zM104.6 281.1h1v1h-1zM83.2 270.6h1v1h-1zM103.8 281.0h1v1h-1zM90.1 282.7h1v1h-1zM95.0 283.4h1v1h-1zM119.3 280.3h1v1h-1zM91.1 267.6h1v1h-1zM111.2 282.3h1v1h-1zM101.4 267.8h1v1h-1zM101.9 268.1h1v1h-1zM120.5 264.0h1v1h-1zM90.0 268.6h1v1h-1zM125.5 280.4h1v1h-1zM124.0 280.6h1v1h-1zM113.6 266.7h1v1h-1zM84.8 269.6h1v1h-1zM113.3 266.3h1v1h-1zM110.4 266.7h1v1h-1zM118.4 281.3h1v1h-1zM92.4 282.0h1v1h-1zM126.8 280.3h1v1h-1zM123.7 279.8h1v1h-1zM87.8 284.0h1v1h-1zM97.2 268.6h1v1h-1zM84.0 271.1h1v1h-1zM121.1 264.1h1v1h-1zM125.1 279.8h1v1h-1zM128.5 263.7h1v1h-1zM111.0 266.4h1v1h-1zM113.5 266.7h1v1h-1zM114.0 265.8h1v1h-1zM109.0 280.7h1v1h-1zM126.8 264.1h1v1h-1zM110.8 266.5h1v1h-1zM98.1 281.6h1v1h-1zM106.3 282.5h1v1h-1zM83.4 284.7h1v1h-1zM116.2 280.6h1v1h-1zM114.8 265.7h1v1h-1zM102.1 281.4h1v1h-1zM122.1 282.1h1v1h-1zM117.6 280.1h1v1h-1zM98.2 267.2h1v1h-1zM86.1 270.5h1v1h-1zM88.6 268.5h1v1h-1zM91.1 270.0h1v1h-1zM96.6 268.8h1v1h-1zM103.3 267.2h1v1h-1zM125.7 264.7h1v1h-1zM95.4 266.5h1v1h-1zM124.3 265.0h1v1h-1zM114.1 265.3h1v1h-1zM122.2 264.0h1v1h-1zM101.3 281.9h1v1h-1zM82.7 270.9h1v1h-1zM119.1 262.4h1v1h-1zM93.9 283.0h1v1h-1zM89.1 282.5h1v1h-1zM119.7 265.0h1v1h-1zM114.4 281.9h1v1h-1zM92.4 285.5h1v1h-1zM94.9 282.0h1v1h-1zM126.2 283.5h1v1h-1zM95.0 282.2h1v1h-1zM115.2 282.1h1v1h-1zM88.5 269.2h1v1h-1zM120.4 282.0h1v1h-1zM88.0 268.9h1v1h-1zM106.5 267.4h1v1h-1zM84.1 270.8h1v1h-1zM108.1 266.6h1v1h-1zM121.9 265.1h1v1h-1zM86.4 282.3h1v1h-1zM95.3 282.5h1v1h-1zM118.1 280.7h1v1h-1zM110.8 265.1h1v1h-1zM97.0 282.1h1v1h-1zM111.7 281.7h1v1h-1zM103.6 267.5h1v1h-1zM122.6 264.8h1v1h-1zM96.1 267.9h1v1h-1zM117.7 265.8h1v1h-1zM112.1 266.9h1v1h-1zM116.9 282.6h1v1h-1zM100.1 268.0h1v1h-1zM116.2 281.3h1v1h-1zM115.0 280.1h1v1h-1zM100.5 283.8h1v1h-1zM83.7 270.7h1v1h-1zM127.3 279.4h1v1h-1zM115.7 282.0h1v1h-1zM92.0 282.9h1v1h-1zM116.5 265.4h1v1h-1zM95.5 283.2h1v1h-1zM104.3 285.4h1v1h-1zM122.5 265.3h1v1h-1zM103.3 267.0h1v1h-1zM95.9 282.3h1v1h-1zM96.7 283.0h1v1h-1zM86.1 270.3h1v1h-1zM92.7 269.4h1v1h-1zM95.1 267.8h1v1h-1zM90.5 285.4h1v1h-1zM85.4 270.4h1v1h-1zM104.2 267.8h1v1h-1zM92.5 268.6h1v1h-1zM116.9 264.9h1v1h-1zM125.4 263.3h1v1h-1zM95.2 281.9h1v1h-1zM109.1 266.9h1v1h-1zM106.1 281.3h1v1h-1zM86.0 270.1h1v1h-1zM88.3 269.4h1v1h-1zM123.6 279.4h1v1h-1zM104.5 281.7h1v1h-1zM119.9 264.1h1v1h-1zM85.6 267.7h1v1h-1zM110.2 266.9h1v1h-1zM122.7 264.6h1v1h-1zM122.8 281.5h1v1h-1zM82.8 284.1h1v1h-1zM106.8 281.6h1v1h-1zM99.7 282.3h1v1h-1zM117.8 265.0h1v1h-1zM85.9 269.1h1v1h-1zM94.8 282.1h1v1h-1zM120.3 279.8h1v1h-1zM104.3 267.5h1v1h-1zM103.6 268.0h1v1h-1zM127.5 280.1h1v1h-1zM97.4 268.3h1v1h-1zM84.4 269.2h1v1h-1zM100.7 267.9h1v1h-1zM89.6 283.6h1v1h-1zM86.3 270.3h1v1h-1zM108.9 266.2h1v1h-1zM126.8 264.3h1v1h-1zM109.4 280.6h1v1h-1zM112.6 265.6h1v1h-1zM97.5 283.1h1v1h-1zM109.1 264.8h1v1h-1zM117.5 282.4h1v1h-1zM109.9 267.2h1v1h-1zM119.8 280.2h1v1h-1zM108.1 266.5h1v1h-1zM91.7 282.5h1v1h-1zM109.6 283.3h1v1h-1zM105.3 267.4h1v1h-1zM90.2 268.8h1v1h-1zM111.3 284.1h1v1h-1zM120.5 265.2h1v1h-1zM88.8 270.0h1v1h-1zM107.8 281.0h1v1h-1zM116.6 262.6h1v1h-1zM101.2 267.7h1v1h-1zM95.1 268.6h1v1h-1zM99.8 267.7h1v1h-1zM107.7 266.9h1v1h-1zM114.4 265.4h1v1h-1zM108.5 266.9h1v1h-1zM87.5 269.3h1v1h-1zM120.5 265.0h1v1h-1zM125.5 280.1h1v1h-1zM87.2 269.4h1v1h-1zM94.1 267.9h1v1h-1zM90.6 283.0h1v1h-1zM122.0 265.1h1v1h-1zM124.8 265.1h1v1h-1zM84.6 269.8h1v1h-1zM98.0 283.5h1v1h-1zM91.5 281.9h1v1h-1zM104.3 282.6h1v1h-1zM125.4 280.2h1v1h-1zM85.8 268.1h1v1h-1zM90.5 268.7h1v1h-1zM105.1 267.8h1v1h-1zM106.9 266.4h1v1h-1zM117.2 281.5h1v1h-1zM102.9 266.1h1v1h-1zM89.1 269.4h1v1h-1zM98.9 283.3h1v1h-1zM128.2 280.7h1v1h-1zM117.4 265.7h1v1h-1zM87.9 282.5h1v1h-1zM120.1 264.6h1v1h-1zM97.0 284.6h1v1h-1zM118.8 265.5h1v1h-1zM83.1 283.9h1v1h-1zM123.0 264.9h1v1h-1zM90.0 269.0h1v1h-1zM103.7 282.1h1v1h-1zM113.3 282.9h1v1h-1zM106.1 283.2h1v1h-1zM90.2 286.1h1v1h-1zM89.0 269.6h1v1h-1zM95.7 268.0h1v1h-1zM84.9 269.3h1v1h-1zM92.6 269.7h1v1h-1zM88.5 282.2h1v1h-1zM104.1 266.7h1v1h-1zM99.1 267.5h1v1h-1zM109.8 266.4h1v1h-1zM95.6 269.3h1v1h-1zM84.1 270.6h1v1h-1zM97.9 268.4h1v1h-1zM117.6 281.7h1v1h-1zM94.4 283.1h1v1h-1zM101.3 267.9h1v1h-1zM117.6 280.6h1v1h-1zM101.4 283.2h1v1h-1zM123.8 263.3h1v1h-1zM125.2 279.4h1v1h-1zM96.9 282.3h1v1h-1zM116.7 284.1h1v1h-1zM94.3 268.2h1v1h-1zM89.0 282.8h1v1h-1zM102.9 283.0h1v1h-1zM110.5 266.9h1v1h-1zM126.0 264.3h1v1h-1zM89.3 283.8h1v1h-1zM115.6 280.0h1v1h-1zM104.6 268.1h1v1h-1zM88.6 286.2h1v1h-1zM127.7 262.9h1v1h-1zM114.9 281.4h1v1h-1zM88.5 269.9h1v1h-1zM124.6 265.0h1v1h-1zM87.3 270.2h1v1h-1zM86.8 270.0h1v1h-1zM97.9 282.2h1v1h-1zM126.1 264.8h1v1h-1zM84.0 269.9h1v1h-1zM125.2 280.0h1v1h-1zM110.9 266.6h1v1h-1zM85.6 269.7h1v1h-1zM108.9 280.9h1v1h-1zM103.8 267.9h1v1h-1zM108.7 281.1h1v1h-1zM116.8 280.3h1v1h-1zM114.1 266.6h1v1h-1zM128.9 282.1h1v1h-1zM89.8 283.9h1v1h-1zM120.3 281.2h1v1h-1zM101.6 268.3h1v1h-1zM118.9 264.8h1v1h-1zM124.0 265.3h1v1h-1zM128.6 262.4h1v1h-1zM94.9 268.7h1v1h-1zM103.6 281.7h1v1h-1zM126.3 279.6h1v1h-1zM126.5 263.2h1v1h-1zM99.8 282.1h1v1h-1zM126.2 262.6h1v1h-1zM101.4 268.4h1v1h-1zM99.9 268.5h1v1h-1zM117.7 281.0h1v1h-1zM104.4 267.4h1v1h-1zM103.3 282.7h1v1h-1zM100.5 281.7h1v1h-1zM102.6 266.9h1v1h-1zM89.0 283.2h1v1h-1zM85.3 269.6h1v1h-1zM117.6 280.7h1v1h-1zM108.7 281.6h1v1h-1zM113.7 281.5h1v1h-1zM119.8 280.7h1v1h-1zM93.2 282.7h1v1h-1zM93.4 284.7h1v1h-1zM95.4 267.3h1v1h-1zM96.6 282.7h1v1h-1zM117.9 265.9h1v1h-1zM99.9 268.5h1v1h-1zM97.5 267.2h1v1h-1zM112.1 282.2h1v1h-1zM91.2 282.9h1v1h-1zM87.4 270.0h1v1h-1zM114.9 282.4h1v1h-1zM117.7 265.2h1v1h-1zM96.3 268.1h1v1h-1zM112.1 282.8h1v1h-1zM84.1 283.0h1v1h-1zM101.3 284.8h1v1h-1zM109.4 266.2h1v1h-1zM94.3 268.8h1v1h-1zM98.7 281.5h1v1h-1zM110.8 266.2h1v1h-1zM109.9 281.6h1v1h-1zM89.7 282.9h1v1h-1zM115.4 263.4h1v1h-1zM86.2 284.2h1v1h-1zM127.6 263.6h1v1h-1zM91.9 282.6h1v1h-1zM94.3 284.7h1v1h-1zM91.8 269.8h1v1h-1zM128.6 279.6h1v1h-1zM95.8 284.8h1v1h-1zM110.6 280.7h1v1h-1zM128.6 264.6h1v1h-1zM126.7 279.3h1v1h-1zM84.5 284.6h1v1h-1zM106.7 266.8h1v1h-1zM110.5 282.7h1v1h-1zM115.2 280.4h1v1h-1zM98.1 268.5h1v1h-1zM97.7 283.2h1v1h-1zM82.7 270.4h1v1h-1zM84.1 282.8h1v1h-1zM108.1 281.6h1v1h-1zM86.0 283.2h1v1h-1zM91.9 269.0h1v1h-1zM98.0 285.2h1v1h-1zM85.8 282.6h1v1h-1zM83.9 284.0h1v1h-1zM125.6 264.8h1v1h-1zM102.7 281.1h1v1h-1zM92.0 284.9h1v1h-1zM115.4 265.3h1v1h-1zM82.9 270.9h1v1h-1zM93.9 269.7h1v1h-1zM127.2 262.5h1v1h-1zM124.2 263.7h1v1h-1zM112.1 266.1h1v1h-1zM86.8 269.0h1v1h-1zM97.3 281.7h1v1h-1zM83.8 270.2h1v1h-1zM92.7 283.1h1v1h-1zM83.7 270.7h1v1h-1zM88.4 269.7h1v1h-1zM111.9 283.5h1v1h-1zM87.2 270.2h1v1h-1zM89.7 285.0h1v1h-1zM124.5 264.9h1v1h-1zM98.1 283.4h1v1h-1zM98.0 281.7h1v1h-1zM86.5 269.7h1v1h-1zM119.5 281.8h1v1h-1zM114.0 282.4h1v1h-1zM107.9 267.6h1v1h-1zM111.2 282.7h1v1h-1zM87.2 269.4h1v1h-1zM94.6 269.5h1v1h-1zM109.6 281.3h1v1h-1zM126.8 281.7h1v1h-1zM120.5 281.1h1v1h-1zM112.3 280.5h1v1h-1zM106.6 266.4h1v1h-1zM83.2 283.1h1v1h-1zM123.9 279.6h1v1h-1zM85.6 284.0h1v1h-1zM88.5 284.6h1v1h-1zM114.7 281.5h1v1h-1zM120.3 265.5h1v1h-1zM119.1 280.5h1v1h-1zM103.5 281.5h1v1h-1zM90.7 282.5h1v1h-1zM84.1 282.9h1v1h-1zM122.1 280.4h1v1h-1zM128.0 282.1h1v1h-1zM93.9 269.5h1v1h-1zM122.8 281.2h1v1h-1zM101.2 268.5h1v1h-1zM97.0 284.7h1v1h-1zM106.0 267.7h1v1h-1zM82.9 270.8h1v1h-1zM103.1 281.7h1v1h-1zM91.8 269.1h1v1h-1zM115.6 265.6h1v1h-1zM105.9 265.9h1v1h-1zM122.9 282.8h1v1h-1zM124.2 263.4h1v1h-1zM97.2 284.3h1v1h-1zM95.5 268.6h1v1h-1zM126.2 264.2h1v1h-1zM105.9 282.2h1v1h-1zM87.0 283.3h1v1h-1zM84.6 282.8h1v1h-1zM128.6 282.0h1v1h-1zM109.4 265.6h1v1h-1zM85.0 284.1h1v1h-1zM106.3 285.3h1v1h-1zM105.9 267.5h1v1h-1zM102.7 281.3h1v1h-1zM126.7 281.2h1v1h-1zM126.6 263.6h1v1h-1zM88.3 284.4h1v1h-1zM89.6 269.1h1v1h-1zM101.4 267.2h1v1h-1zM121.3 280.6h1v1h-1zM111.5 266.9h1v1h-1zM116.4 280.8h1v1h-1zM109.3 266.0h1v1h-1zM92.3 269.5h1v1h-1zM120.5 282.9h1v1h-1zM83.2 283.2h1v1h-1zM115.0 265.7h1v1h-1zM91.5 269.2h1v1h-1zM104.4 282.5h1v1h-1zM127.8 280.6h1v1h-1zM107.6 282.2h1v1h-1zM85.1 283.5h1v1h-1zM102.4 267.2h1v1h-1zM113.2 266.8h1v1h-1zM85.1 269.9h1v1h-1zM94.2 269.0h1v1h-1zM83.4 270.6h1v1h-1zM107.6 266.3h1v1h-1zM100.2 268.1h1v1h-1zM105.9 266.8h1v1h-1zM96.3 266.8h1v1h-1zM113.0 282.6h1v1h-1zM90.5 283.4h1v1h-1zM124.7 282.5h1v1h-1zM127.1 282.9h1v1h-1zM105.4 280.9h1v1h-1zM104.1 281.3h1v1h-1zM122.5 264.4h1v1h-1zM96.0 283.4h1v1h-1zM119.8 265.1h1v1h-1zM95.9 281.5h1v1h-1zM116.0 284.0h1v1h-1zM98.0 282.0h1v1h-1zM110.5 280.4h1v1h-1zM125.6 280.5h1v1h-1zM85.0 270.6h1v1h-1zM120.0 279.7h1v1h-1zM107.7 265.3h1v1h-1zM100.1 267.7h1v1h-1zM98.8 267.5h1v1h-1zM85.7 270.2h1v1h-1zM94.5 282.2h1v1h-1zM111.5 266.3h1v1h-1zM87.0 270.6h1v1h-1zM113.6 281.5h1v1h-1zM127.2 279.6h1v1h-1zM128.1 283.5h1v1h-1zM123.8 263.6h1v1h-1zM120.0 265.5h1v1h-1zM90.8 283.5h1v1h-1zM127.6 264.8h1v1h-1zM91.9 267.5h1v1h-1z" fill="#ff1515" fill-opacity="1.0"/>
<path d="M111.8 276.1h1v1h-1zM91.9 281.5h1v1h-1zM89.5 286.3h1v1h-1zM83.1 281.8h1v1h-1zM121.6 276.6h1v1h-1zM82.7 265.9h1v1h-1zM94.5 287.2h1v1h-1zM110.0 270.2h1v1h-1zM106.0 273.7h1v1h-1zM124.9 287.7h1v1h-1zM92.5 268.0h1v1h-1zM87.9 288.5h1v1h-1zM90.0 268.6h1v1h-1zM105.9 264.5h1v1h-1zM96.2 276.9h1v1h-1zM103.9 285.1h1v1h-1zM114.8 273.7h1v1h-1zM97.6 286.4h1v1h-1zM113.8 273.5h1v1h-1zM83.4 285.6h1v1h-1zM108.2 265.3h1v1h-1zM125.1 270.2h1v1h-1zM126.4 265.6h1v1h-1zM109.4 283.4h1v1h-1zM128.7 275.6h1v1h-1zM93.6 281.0h1v1h-1zM96.5 268.9h1v1h-1zM103.6 283.3h1v1h-1zM106.4 290.8h1v1h-1zM121.0 264.3h1v1h-1zM103.5 271.2h1v1h-1zM84.8 287.2h1v1h-1zM115.4 286.7h1v1h-1zM93.0 287.3h1v1h-1zM124.0 268.6h1v1h-1zM92.5 278.3h1v1h-1zM96.4 264.5h1v1h-1zM88.9 274.5h1v1h-1zM96.7 278.7h1v1h-1zM110.7 269.5h1v1h-1zM95.1 274.2h1v1h-1zM84.8 272.6h1v1h-1zM110.1 264.5h1v1h-1zM117.0 264.0h1v1h-1zM87.6 284.7h1v1h-1zM102.4 262.1h1v1h-1zM85.7 290.6h1v1h-1zM83.3 288.0h1v1h-1zM100.1 290.6h1v1h-1zM96.0 284.8h1v1h-1zM123.6 262.1h1v1h-1zM83.1 265.4h1v1h-1zM112.9 271.2h1v1h-1zM117.0 267.3h1v1h-1zM102.1 263.8h1v1h-1zM106.0 288.6h1v1h-1zM94.1 288.4h1v1h-1zM94.4 284.2h1v1h-1zM85.0 269.3h1v1h-1zM125.1 286.7h1v1h-1zM83.8 285.8h1v1h-1zM88.9 271.4h1v1h-1zM116.5 265.7h1v1h-1zM104.0 265.9h1v1h-1zM106.6 273.9h1v1h-1zM96.3 286.1h1v1h-1zM90.1 264.2h1v1h-1zM120.1 274.5h1v1h-1zM88.3 272.3h1v1h-1zM96.4 287.9h1v1h-1zM117.8 266.4h1v1h-1zM96.5 281.0h1v1h-1zM127.2 271.4h1v1h-1zM90.7 280.7h1v1h-1zM107.3 285.8h1v1h-1zM107.8 285.9h1v1h-1zM106.0 286.5h1v1h-1zM118.9 270.5h1v1h-1zM84.7 270.0h1v1h-1zM108.2 265.6h1v1h-1zM119.6 269.4h1v1h-1zM84.9 265.5h1v1h-1zM108.2 284.7h1v1h-1zM103.2 263.4h1v1h-1zM101.5 267.6h1v1h-1zM107.8 284.9h1v1h-1zM111.9 284.3h1v1h-1zM115.6 290.2h1v1h-1zM124.7 273.1h1v1h-1zM113.4 263.3h1v1h-1zM129.5 285.4h1v1h-1zM113.7 270.3h1v1h-1zM95.1 284.4h1v1h-1zM89.4 262.6h1v1h-1zM85.8 263.0h1v1h-1zM95.1 279.3h1v1h-1zM88.1 281.8h1v1h-1zM114.6 278.3h1v1h-1zM114.9 277.4h1v1h-1zM111.3 279.3h1v1h-1zM100.5 265.8h1v1h-1zM104.3 263.8h1v1h-1zM94.7 272.1h1v1h-1zM125.7 277.9h1v1h-1zM83.2 269.2h1v1h-1zM97.6 267.2h1v1h-1zM109.4 274.9h1v1h-1zM91.0 273.9h1v1h-1zM122.7 269.8h1v1h-1zM105.1 288.9h1v1h-1zM99.9 289.3h1v1h-1zM85.5 263.4h1v1h-1zM95.7 275.9h1v1h-1zM110.2 268.9h1v1h-1zM95.7 271.7h1v1h-1zM84.6 262.8h1v1h-1zM109.7 264.3h1v1h-1zM96.8 263.0h1v1h-1zM122.3 265.6h1v1h-1zM115.0 280.8h1v1h-1zM116.4 264.3h1v1h-1zM124.3 287.7h1v1h-1zM120.6 285.3h1v1h-1zM98.0 269.8h1v1h-1zM109.2 282.1h1v1h-1zM94.7 289.6h1v1h-1zM92.0 265.4h1v1h-1zM92.2 278.2h1v1h-1zM87.7 275.5h1v1h-1zM93.7 271.0h1v1h-1zM93.1 270.4h1v1h-1zM114.1 264.5h1v1h-1zM94.3 280.8h1v1h-1zM84.7 267.7h1v1h-1zM102.3 274.3h1v1h-1zM91.9 288.9h1v1h-1zM114.9 272.1h1v1h-1zM92.9 271.2h1v1h-1zM108.7 289.0h1v1h-1zM90.8 278.9h1v1h-1zM105.2 278.5h1v1h-1zM123.3 268.4h1v1h-1zM96.8 280.6h1v1h-1zM107.3 273.0h1v1h-1zM103.1 277.8h1v1h-1zM85.8 273.5h1v1h-1zM83.5 264.4h1v1h-1zM122.1 287.5h1v1h-1zM98.5 282.1h1v1h-1zM114.7 289.8h1v1h-1zM101.9 270.9h1v1h-1zM121.9 270.2h1v1h-1zM91.7 265.9h1v1h-1zM105.2 270.9h1v1h-1zM108.3 271.4h1v1h-1zM119.8 267.3h1v1h-1zM83.9 269.7h1v1h-1zM99.5 270.5h1v1h-1zM104.8 286.9h1v1h-1zM110.2 274.9h1v1h-1zM89.1 285.8h1v1h-1zM108.0 263.4h1v1h-1zM115.1 267.5h1v1h-1zM117.0 289.6h1v1h-1zM93.0 263.5h1v1h-1zM103.2 264.0h1v1h-1zM96.5 277.0h1v1h-1zM100.7 270.4h1v1h-1zM99.6 267.6h1v1h-1zM126.9 279.7h1v1h-1zM83.1 279.7h1v1h-1zM127.0 267.5h1v1h-1zM84.1 277.6h1v1h-1zM86.2 275.2h1v1h-1zM92.2 286.5h1v1h-1zM96.0 264.0h1v1h-1zM122.8 268.8h1v1h-1zM122.0 278.4h1v1h-1zM126.4 263.0h1v1h-1zM100.8 286.5h1v1h-1zM83.2 290.1h1v1h-1zM111.9 271.5h1v1h-1zM124.8 284.5h1v1h-1zM87.5 269.2h1v1h-1zM121.4 289.5h1v1h-1zM82.6 268.1h1v1h-1zM116.9 262.2h1v1h-1zM105.7 264.0h1v1h-1zM125.2 275.3h1v1h-1zM123.6 263.1h1v1h-1zM84.7 290.4h1v1h-1zM105.9 280.3h1v1h-1zM93.9 278.5h1v1h-1zM103.2 280.2h1v1h-1zM85.6 274.1h1v1h-1zM99.4 287.7h1v1h-1zM101.7 282.7h1v1h-1zM82.7 274.5h1v1h-1zM104.8 270.2h1v1h-1zM124.5 266.2h1v1h-1zM85.4 271.1h1v1h-1zM126.9 272.2h1v1h-1zM105.5 264.3h1v1h-1zM92.4 288.8h1v1h-1zM128.0 269.5h1v1h-1zM104.8 277.7h1v1h-1zM103.0 263.9h1v1h-1zM100.2 278.0h1v1h-1zM123.9 280.7h1v1h-1zM88.6 264.3h1v1h-1zM92.4 290.3h1v1h-1zM95.8 266.7h1v1h-1zM85.4 269.6h1v1h-1zM122.2 283.4h1v1h-1zM105.5 271.8h1v1h-1zM110.8 287.4h1v1h-1zM124.1 268.9h1v1h-1zM105.8 271.1h1v1h-1zM95.5 282.1h1v1h-1zM107.5 286.9h1v1h-1zM106.0 287.6h1v1h-1zM96.5 270.4h1v1h-1zM93.4 277.4h1v1h-1zM99.3 273.9h1v1h-1zM117.0 281.6h1v1h-1zM90.3 268.6h1v1h-1zM129.3 286.3h1v1h-1zM93.6 282.7h1v1h-1zM95.3 267.1h1v1h-1zM88.3 271.1h1v1h-1zM100.9 271.7h1v1h-1zM100.0 289.0h1v1h-1zM114.5 275.2h1v1h-1zM124.6 279.9h1v1h-1zM94.1 289.0h1v1h-1zM120.5 273.5h1v1h-1zM97.0 289.4h1v1h-1zM101.6 270.5h1v1h-1zM88.5 262.4h1v1h-1zM124.5 265.0h1v1h-1zM100.0 282.1h1v1h-1zM115.4 273.1h1v1h-1zM83.7 286.2h1v1h-1zM115.3 277.5h1v1h-1zM93.1 281.9h1v1h-1zM103.7 272.2h1v1h-1zM114.2 279.0h1v1h-1zM90.5 282.2h1v1h-1zM107.3 272.9h1v1h-1zM121.8 276.2h1v1h-1zM90.2 286.5h1v1h-1zM104.5 288.9h1v1h-1zM91.2 272.2h1v1h-1zM89.2 263.9h1v1h-1zM105.5 286.4h1v1h-1zM104.0 275.0h1v1h-1zM112.8 290.1h1v1h-1zM122.8 284.1h1v1h-1zM115.7 272.7h1v1h-1zM98.3 286.7h1v1h-1z" fill="#ff4040" fill-opacity="0.55"/>
<path d="M82.5 271.3 L129 264.6 L129.5 279 L82.5 282.5 Z" fill="#ff0a0a"/>
<path d="M144.1 270.7h1v1h-1zM139.5 286.7h1v1h-1zM132.5 278.7h1v1h-1zM144.3 282.2h1v1h-1zM138.3 283.7h1v1h-1zM139.9 286.5h1v1h-1zM139.1 282.2h1v1h-1zM136.1 290.3h1v1h-1zM143.1 278.7h1v1h-1zM131.3 279.4h1v1h-1zM132.6 269.0h1v1h-1zM137.9 277.7h1v1h-1zM135.4 286.8h1v1h-1zM141.2 283.0h1v1h-1zM145.7 277.6h1v1h-1zM141.1 283.5h1v1h-1zM140.8 271.6h1v1h-1zM139.8 280.3h1v1h-1zM144.8 284.3h1v1h-1zM141.8 277.9h1v1h-1zM134.0 286.3h1v1h-1zM139.7 279.6h1v1h-1zM137.3 285.4h1v1h-1zM143.1 273.9h1v1h-1zM146.3 271.9h1v1h-1zM139.2 281.9h1v1h-1zM151.4 282.7h1v1h-1zM144.9 278.8h1v1h-1zM148.3 280.3h1v1h-1zM140.3 285.8h1v1h-1zM131.0 290.3h1v1h-1zM132.9 280.7h1v1h-1zM143.9 273.5h1v1h-1zM145.4 288.1h1v1h-1zM135.3 284.8h1v1h-1zM138.0 285.2h1v1h-1zM141.2 282.7h1v1h-1zM137.5 282.1h1v1h-1zM149.4 284.3h1v1h-1zM152.8 272.5h1v1h-1zM139.0 278.8h1v1h-1zM150.6 278.3h1v1h-1zM136.5 281.6h1v1h-1zM134.8 283.5h1v1h-1zM145.4 290.4h1v1h-1zM137.4 276.4h1v1h-1zM153.7 279.5h1v1h-1zM141.6 282.9h1v1h-1zM140.8 275.5h1v1h-1zM148.7 284.9h1v1h-1zM137.5 280.3h1v1h-1z" fill="#999" fill-opacity="0.4"/>
<rect x="82.3" y="261.2" width="47.7" height="30.1" fill="none" stroke="#444" stroke-width="1"/>
<text x="83.9" y="259.8" font-size="7.2" text-anchor="start" font-weight="normal" fill="#2a2a2a" stroke="#2a2a2a" stroke-width="0.1" >99%</text>
<text x="115.8" y="287.0" font-size="6.5" text-anchor="start" font-weight="normal" fill="#333" stroke="#333" stroke-width="0.1" >P5</text>
<text x="197.0" y="203.5" font-size="8.5" text-anchor="start" font-weight="normal" fill="#2a2a2a" stroke="#2a2a2a" stroke-width="0.1" >ii</text>
<rect x="218.2" y="208.3" width="92.8" height="81.8" fill="none" stroke="#4a4a4a" stroke-width="1.15"/>
<text x="199.0" y="220.4" font-size="7.7" fill="#2a2a2a" stroke="#2a2a2a" stroke-width="0.1">10<tspan font-size="5.24" dy="-3.23">5</tspan></text>
<text x="199.0" y="237.4" font-size="7.7" fill="#2a2a2a" stroke="#2a2a2a" stroke-width="0.1">10<tspan font-size="5.24" dy="-3.23">4</tspan></text>
<text x="199.0" y="256.2" font-size="7.7" fill="#2a2a2a" stroke="#2a2a2a" stroke-width="0.1">10<tspan font-size="5.24" dy="-3.23">3</tspan></text>
<text x="199.0" y="275.2" font-size="7.7" fill="#2a2a2a" stroke="#2a2a2a" stroke-width="0.1">10<tspan font-size="5.24" dy="-3.23">2</tspan></text>
<text x="210.5" y="283.8" font-size="7.7" text-anchor="end" font-weight="normal" fill="#2a2a2a" stroke="#2a2a2a" stroke-width="0.1" >0</text>
<text x="210.5" y="294.6" font-size="7.7" text-anchor="end" font-weight="normal" fill="#2a2a2a" stroke="#2a2a2a" stroke-width="0.1" >-139</text>
<text x="218.6" y="305.8" font-size="7.7" text-anchor="middle" font-weight="normal" fill="#2a2a2a" stroke="#2a2a2a" stroke-width="0.1" >-807</text>
<text x="237.5" y="305.8" font-size="7.7" text-anchor="middle" font-weight="normal" fill="#2a2a2a" stroke="#2a2a2a" stroke-width="0.1" >0</text>
<text x="251.1" y="305.8" font-size="7.7" fill="#2a2a2a" stroke="#2a2a2a" stroke-width="0.1">10<tspan font-size="5.24" dy="-3.23">3</tspan></text>
<text x="275.9" y="305.8" font-size="7.7" fill="#2a2a2a" stroke="#2a2a2a" stroke-width="0.1">10<tspan font-size="5.24" dy="-3.23">4</tspan></text>
<text x="295.8" y="305.8" font-size="7.7" fill="#2a2a2a" stroke="#2a2a2a" stroke-width="0.1">10<tspan font-size="5.24" dy="-3.23">5</tspan></text>
<path d="M218.2 217.6h-3.0M218.2 234.6h-3.0M218.2 253.4h-3.0M218.2 272.4h-3.0M218.2 281.0h-3.0M218.2 291.8h-3.0M218.6 290.1v3.0M237.5 290.1v3.0M256.8 290.1v3.0M281.6 290.1v3.0M301.5 290.1v3.0M218.2 229.5h-1.8M218.2 226.5h-1.8M218.2 224.4h-1.8M218.2 222.7h-1.8M218.2 221.4h-1.8M218.2 220.2h-1.8M218.2 219.2h-1.8M218.2 218.4h-1.8M218.2 247.7h-1.8M218.2 244.4h-1.8M218.2 242.1h-1.8M218.2 240.3h-1.8M218.2 238.8h-1.8M218.2 237.5h-1.8M218.2 236.4h-1.8M218.2 235.5h-1.8M218.2 266.7h-1.8M218.2 263.3h-1.8M218.2 261.0h-1.8M218.2 259.1h-1.8M218.2 257.6h-1.8M218.2 256.3h-1.8M218.2 255.2h-1.8M218.2 254.3h-1.8M264.3 290.1v1.8M268.6 290.1v1.8M271.7 290.1v1.8M274.1 290.1v1.8M276.1 290.1v1.8M277.8 290.1v1.8M279.2 290.1v1.8M280.5 290.1v1.8M287.6 290.1v1.8M291.1 290.1v1.8M293.6 290.1v1.8M295.5 290.1v1.8M297.1 290.1v1.8M298.4 290.1v1.8M299.6 290.1v1.8M300.6 290.1v1.8" stroke="#777" stroke-width="0.7" fill="none"/>
<text transform="translate(263.6,316.3) scale(0.66,1)" x="0" y="3.24" font-size="9.0" text-anchor="middle" fill="#222" stroke="#222" stroke-width="0.35">CD8a</text>
<text transform="translate(185.5,251.5) rotate(-90) scale(0.66,1)" x="0" y="3.24" font-size="9.0" text-anchor="middle" fill="#222" stroke="#222" stroke-width="0.35">CD34</text>
<text x="210.0" y="298.5" font-size="6.3" fill="#6f90b8">M</text>
<path d="M252.7 231.1h1v1h-1zM228.8 236.4h1v1h-1zM235.4 239.4h1v1h-1zM240.6 234.0h1v1h-1zM225.0 239.9h1v1h-1zM235.2 241.3h1v1h-1zM229.6 235.8h1v1h-1zM250.1 238.1h1v1h-1zM222.2 235.3h1v1h-1zM257.2 238.6h1v1h-1zM227.7 238.4h1v1h-1zM231.4 238.6h1v1h-1zM221.4 242.0h1v1h-1zM254.1 238.6h1v1h-1zM250.8 241.1h1v1h-1zM221.1 240.1h1v1h-1zM239.1 234.6h1v1h-1zM233.7 238.7h1v1h-1zM242.1 239.0h1v1h-1zM231.6 234.1h1v1h-1zM255.8 240.9h1v1h-1zM227.0 238.4h1v1h-1zM250.5 238.5h1v1h-1zM228.9 235.7h1v1h-1zM243.8 237.9h1v1h-1zM235.2 238.7h1v1h-1zM239.0 236.9h1v1h-1zM238.9 238.0h1v1h-1zM242.9 232.0h1v1h-1zM221.2 242.0h1v1h-1zM220.8 235.4h1v1h-1zM256.4 231.4h1v1h-1zM228.4 235.5h1v1h-1zM232.4 235.8h1v1h-1zM227.8 239.6h1v1h-1zM243.7 235.2h1v1h-1zM256.9 238.1h1v1h-1zM234.2 235.4h1v1h-1zM231.0 244.0h1v1h-1zM232.1 239.5h1v1h-1zM219.6 243.7h1v1h-1zM222.0 235.6h1v1h-1zM220.4 240.2h1v1h-1zM231.1 235.5h1v1h-1zM256.9 238.8h1v1h-1zM224.0 240.1h1v1h-1zM239.9 233.5h1v1h-1zM226.6 235.1h1v1h-1zM219.9 235.2h1v1h-1zM251.1 233.4h1v1h-1zM223.5 236.3h1v1h-1zM223.8 235.7h1v1h-1zM250.4 233.6h1v1h-1zM228.0 238.4h1v1h-1zM226.3 239.7h1v1h-1zM255.3 233.8h1v1h-1zM226.1 236.7h1v1h-1zM250.9 237.5h1v1h-1zM230.5 237.4h1v1h-1zM240.6 235.9h1v1h-1zM230.6 240.2h1v1h-1zM231.7 240.3h1v1h-1zM254.9 239.2h1v1h-1zM253.9 236.8h1v1h-1zM225.3 243.6h1v1h-1zM246.8 242.3h1v1h-1zM223.9 237.2h1v1h-1zM230.2 237.7h1v1h-1zM221.3 241.5h1v1h-1zM243.8 235.5h1v1h-1zM246.8 238.6h1v1h-1zM247.6 237.7h1v1h-1zM248.7 235.6h1v1h-1zM233.9 237.3h1v1h-1zM225.4 234.0h1v1h-1zM218.7 236.9h1v1h-1zM235.7 232.5h1v1h-1zM254.9 243.5h1v1h-1zM236.0 242.0h1v1h-1zM242.5 241.0h1v1h-1zM254.3 238.2h1v1h-1zM252.1 240.1h1v1h-1zM247.4 241.0h1v1h-1zM241.6 240.5h1v1h-1zM227.5 240.6h1v1h-1zM247.7 235.1h1v1h-1zM234.8 239.1h1v1h-1zM246.0 236.1h1v1h-1zM227.2 235.0h1v1h-1zM255.2 234.2h1v1h-1zM224.9 239.4h1v1h-1zM249.3 240.3h1v1h-1zM253.2 233.7h1v1h-1zM224.4 242.9h1v1h-1zM252.2 241.4h1v1h-1zM243.6 236.6h1v1h-1zM242.0 236.4h1v1h-1zM228.4 237.9h1v1h-1zM231.3 240.7h1v1h-1zM227.7 237.1h1v1h-1zM235.7 234.9h1v1h-1zM243.8 238.6h1v1h-1zM246.9 232.0h1v1h-1zM246.0 237.9h1v1h-1zM232.0 241.1h1v1h-1zM231.6 238.8h1v1h-1zM248.3 239.6h1v1h-1zM256.5 238.6h1v1h-1zM227.1 240.1h1v1h-1zM234.6 238.3h1v1h-1zM229.3 235.8h1v1h-1zM256.5 236.6h1v1h-1zM219.1 238.2h1v1h-1zM253.3 240.7h1v1h-1zM248.4 241.9h1v1h-1zM231.4 239.1h1v1h-1zM245.0 235.6h1v1h-1zM232.9 236.0h1v1h-1zM243.3 237.1h1v1h-1zM235.1 241.6h1v1h-1zM254.2 238.2h1v1h-1zM236.3 237.7h1v1h-1zM250.2 235.4h1v1h-1zM241.0 240.1h1v1h-1zM233.0 238.7h1v1h-1zM256.2 237.1h1v1h-1zM226.1 238.4h1v1h-1zM253.9 241.9h1v1h-1zM256.8 236.8h1v1h-1zM251.6 242.0h1v1h-1zM242.3 241.0h1v1h-1zM242.8 237.8h1v1h-1zM254.7 239.7h1v1h-1zM235.4 237.5h1v1h-1zM250.7 235.2h1v1h-1zM248.7 236.8h1v1h-1zM252.0 234.9h1v1h-1zM235.7 239.3h1v1h-1zM243.9 237.7h1v1h-1zM222.1 239.8h1v1h-1zM221.3 240.5h1v1h-1zM222.7 229.8h1v1h-1zM247.2 238.4h1v1h-1zM232.3 233.1h1v1h-1zM253.9 237.8h1v1h-1zM221.6 235.9h1v1h-1zM225.2 238.5h1v1h-1zM251.1 241.1h1v1h-1zM234.8 233.3h1v1h-1zM227.1 238.6h1v1h-1zM249.0 237.3h1v1h-1zM227.6 233.0h1v1h-1zM256.5 239.0h1v1h-1zM229.2 238.2h1v1h-1zM252.0 236.0h1v1h-1zM237.2 235.9h1v1h-1zM255.0 246.0h1v1h-1zM230.1 237.0h1v1h-1zM254.6 232.4h1v1h-1zM230.3 235.5h1v1h-1zM236.0 236.9h1v1h-1zM243.2 236.6h1v1h-1zM240.1 237.5h1v1h-1zM244.7 234.8h1v1h-1zM245.6 239.0h1v1h-1zM228.9 236.8h1v1h-1zM218.8 234.7h1v1h-1zM246.7 235.3h1v1h-1zM241.9 236.6h1v1h-1zM240.5 240.0h1v1h-1zM237.8 239.1h1v1h-1zM254.7 236.4h1v1h-1zM230.1 238.1h1v1h-1zM254.1 237.9h1v1h-1zM225.0 243.7h1v1h-1zM245.6 235.9h1v1h-1zM255.2 238.5h1v1h-1zM224.5 240.2h1v1h-1zM248.5 234.9h1v1h-1zM229.1 238.6h1v1h-1zM220.8 238.8h1v1h-1zM235.3 236.6h1v1h-1zM245.8 239.1h1v1h-1zM229.6 240.8h1v1h-1zM255.6 240.3h1v1h-1zM218.6 237.9h1v1h-1zM228.9 238.6h1v1h-1zM231.8 244.3h1v1h-1zM233.0 235.0h1v1h-1zM230.2 238.6h1v1h-1zM219.3 240.8h1v1h-1zM226.7 238.5h1v1h-1zM228.7 239.9h1v1h-1zM244.7 238.1h1v1h-1zM233.2 240.0h1v1h-1zM246.7 241.0h1v1h-1zM235.8 237.3h1v1h-1zM231.8 238.5h1v1h-1zM224.7 238.0h1v1h-1zM227.4 237.0h1v1h-1zM253.7 237.3h1v1h-1zM236.3 234.8h1v1h-1zM230.7 240.0h1v1h-1zM227.0 242.7h1v1h-1zM252.7 242.0h1v1h-1zM246.0 241.0h1v1h-1zM245.6 235.0h1v1h-1zM249.9 241.5h1v1h-1zM227.9 236.2h1v1h-1zM247.0 237.4h1v1h-1zM221.3 243.3h1v1h-1zM244.4 234.7h1v1h-1zM231.1 240.3h1v1h-1zM244.3 238.4h1v1h-1zM227.3 237.7h1v1h-1zM232.3 235.6h1v1h-1zM244.6 238.7h1v1h-1zM255.1 236.0h1v1h-1zM231.8 240.8h1v1h-1zM225.1 241.5h1v1h-1zM223.4 234.5h1v1h-1zM244.7 236.2h1v1h-1zM253.4 236.5h1v1h-1zM219.2 235.2h1v1h-1zM232.0 235.0h1v1h-1zM225.1 238.4h1v1h-1zM255.7 236.7h1v1h-1zM223.7 233.8h1v1h-1zM221.2 236.9h1v1h-1zM248.5 238.9h1v1h-1zM257.5 234.0h1v1h-1zM248.7 235.0h1v1h-1zM223.0 242.5h1v1h-1zM234.4 241.5h1v1h-1zM238.8 233.4h1v1h-1zM253.6 233.7h1v1h-1zM247.9 238.5h1v1h-1zM220.8 235.1h1v1h-1zM236.2 237.2h1v1h-1zM248.9 236.3h1v1h-1zM239.7 239.3h1v1h-1zM244.5 230.8h1v1h-1zM256.2 231.3h1v1h-1zM256.7 233.9h1v1h-1zM251.1 240.1h1v1h-1zM240.8 237.3h1v1h-1zM230.5 233.4h1v1h-1zM224.7 239.5h1v1h-1zM225.0 240.1h1v1h-1zM243.5 237.0h1v1h-1zM248.6 236.6h1v1h-1zM252.0 238.6h1v1h-1zM254.1 240.6h1v1h-1zM229.7 238.5h1v1h-1zM231.5 239.4h1v1h-1zM226.2 238.0h1v1h-1zM239.7 236.7h1v1h-1zM255.4 234.8h1v1h-1zM248.0 238.2h1v1h-1zM235.5 237.1h1v1h-1zM224.7 237.5h1v1h-1zM251.4 239.9h1v1h-1zM253.5 238.7h1v1h-1zM248.5 239.8h1v1h-1zM229.9 233.8h1v1h-1zM233.7 239.4h1v1h-1zM241.3 236.1h1v1h-1zM254.3 235.1h1v1h-1zM228.0 235.8h1v1h-1zM234.9 241.2h1v1h-1zM220.8 240.5h1v1h-1zM218.6 236.4h1v1h-1zM228.0 235.0h1v1h-1zM250.1 237.5h1v1h-1zM244.8 236.4h1v1h-1zM237.1 242.3h1v1h-1zM234.5 234.0h1v1h-1zM228.8 233.1h1v1h-1zM248.4 236.8h1v1h-1zM237.5 237.8h1v1h-1zM221.2 238.7h1v1h-1zM243.0 239.7h1v1h-1zM257.2 242.8h1v1h-1zM221.3 237.4h1v1h-1zM257.4 235.7h1v1h-1zM222.4 233.5h1v1h-1zM230.5 238.7h1v1h-1zM256.6 239.5h1v1h-1zM256.4 236.5h1v1h-1zM225.7 241.4h1v1h-1zM246.6 237.6h1v1h-1zM242.4 241.8h1v1h-1zM234.0 238.8h1v1h-1zM249.1 234.6h1v1h-1zM243.3 235.9h1v1h-1zM227.3 234.0h1v1h-1zM237.6 233.1h1v1h-1zM246.2 238.3h1v1h-1zM242.7 240.0h1v1h-1zM239.7 243.0h1v1h-1zM247.3 237.4h1v1h-1zM223.8 237.6h1v1h-1zM220.2 235.3h1v1h-1zM219.8 241.0h1v1h-1zM242.7 238.7h1v1h-1zM235.4 236.3h1v1h-1zM251.1 239.3h1v1h-1zM256.4 238.8h1v1h-1zM222.9 233.2h1v1h-1zM233.3 239.9h1v1h-1zM234.9 238.3h1v1h-1zM239.8 236.7h1v1h-1zM254.0 236.2h1v1h-1zM241.9 242.4h1v1h-1zM230.4 242.2h1v1h-1zM244.4 242.5h1v1h-1zM231.3 234.9h1v1h-1zM240.2 236.0h1v1h-1zM222.3 240.7h1v1h-1zM240.5 234.5h1v1h-1zM237.2 235.9h1v1h-1zM243.7 232.8h1v1h-1zM240.6 242.7h1v1h-1zM240.8 240.6h1v1h-1zM247.3 238.8h1v1h-1zM223.7 238.8h1v1h-1zM247.8 236.4h1v1h-1zM242.8 236.6h1v1h-1zM245.4 239.2h1v1h-1zM234.1 236.0h1v1h-1zM221.8 241.6h1v1h-1zM254.5 236.0h1v1h-1zM250.8 235.1h1v1h-1zM256.6 240.7h1v1h-1zM236.5 237.5h1v1h-1zM253.0 238.8h1v1h-1zM252.5 236.2h1v1h-1zM239.9 231.7h1v1h-1zM253.6 238.8h1v1h-1zM250.3 233.8h1v1h-1zM222.5 241.2h1v1h-1zM223.7 234.0h1v1h-1zM234.4 232.9h1v1h-1zM239.3 238.6h1v1h-1zM244.0 238.8h1v1h-1zM240.5 238.0h1v1h-1zM252.7 234.1h1v1h-1zM249.7 239.8h1v1h-1zM222.5 234.3h1v1h-1zM231.7 236.7h1v1h-1zM253.1 235.2h1v1h-1zM248.0 236.5h1v1h-1zM219.1 240.7h1v1h-1zM242.9 235.9h1v1h-1zM223.4 239.8h1v1h-1zM238.1 239.7h1v1h-1zM257.3 232.6h1v1h-1zM221.4 235.1h1v1h-1zM250.6 236.4h1v1h-1zM237.4 236.2h1v1h-1zM256.7 238.1h1v1h-1zM252.0 232.2h1v1h-1zM221.0 240.3h1v1h-1zM243.6 239.6h1v1h-1zM252.1 236.9h1v1h-1zM229.4 234.3h1v1h-1zM246.0 237.6h1v1h-1zM228.4 236.6h1v1h-1zM226.5 239.7h1v1h-1zM231.5 237.8h1v1h-1zM229.9 240.0h1v1h-1zM256.0 236.1h1v1h-1zM227.7 242.0h1v1h-1zM235.1 231.7h1v1h-1zM237.4 235.1h1v1h-1zM245.5 238.9h1v1h-1zM256.3 233.2h1v1h-1zM242.4 239.7h1v1h-1zM252.1 234.1h1v1h-1zM223.6 238.5h1v1h-1zM244.3 235.1h1v1h-1zM225.2 237.0h1v1h-1zM252.5 237.8h1v1h-1zM241.7 237.4h1v1h-1zM223.8 237.2h1v1h-1zM251.7 243.2h1v1h-1zM239.0 237.8h1v1h-1zM237.4 235.2h1v1h-1zM221.7 240.8h1v1h-1zM253.9 239.5h1v1h-1zM238.5 241.1h1v1h-1zM252.2 242.2h1v1h-1zM221.4 235.8h1v1h-1zM245.0 240.5h1v1h-1zM233.1 241.0h1v1h-1zM239.4 237.8h1v1h-1zM242.8 238.3h1v1h-1zM250.7 229.3h1v1h-1zM254.5 235.8h1v1h-1zM225.0 243.0h1v1h-1zM252.0 232.6h1v1h-1zM223.1 236.8h1v1h-1zM218.9 239.1h1v1h-1zM230.2 239.6h1v1h-1zM229.6 242.5h1v1h-1zM248.6 232.7h1v1h-1zM240.4 237.8h1v1h-1zM233.6 240.3h1v1h-1zM249.3 233.9h1v1h-1zM255.0 237.2h1v1h-1zM243.5 242.7h1v1h-1zM244.0 241.2h1v1h-1zM252.1 238.8h1v1h-1zM229.9 231.0h1v1h-1zM257.3 236.9h1v1h-1zM225.4 239.2h1v1h-1zM220.3 237.5h1v1h-1zM250.6 237.2h1v1h-1zM231.6 237.4h1v1h-1zM238.5 235.2h1v1h-1zM222.8 238.9h1v1h-1zM235.0 237.0h1v1h-1zM232.3 237.1h1v1h-1zM221.8 238.0h1v1h-1zM242.0 239.8h1v1h-1zM236.1 238.5h1v1h-1zM224.7 235.0h1v1h-1zM249.2 237.1h1v1h-1zM234.5 239.2h1v1h-1zM219.5 237.1h1v1h-1zM252.8 240.5h1v1h-1zM234.5 240.0h1v1h-1zM222.1 235.6h1v1h-1zM229.8 238.9h1v1h-1zM228.4 243.4h1v1h-1zM220.2 242.5h1v1h-1zM231.4 237.8h1v1h-1zM225.1 240.6h1v1h-1zM226.8 236.3h1v1h-1zM244.8 233.7h1v1h-1zM224.7 239.7h1v1h-1zM219.3 239.0h1v1h-1zM225.5 239.6h1v1h-1zM230.0 238.0h1v1h-1zM224.9 239.1h1v1h-1zM241.8 236.3h1v1h-1zM252.8 238.6h1v1h-1zM250.9 239.7h1v1h-1zM236.8 237.7h1v1h-1zM249.1 239.7h1v1h-1zM249.3 232.7h1v1h-1zM243.3 235.5h1v1h-1zM249.8 241.3h1v1h-1zM233.3 242.7h1v1h-1zM247.7 238.2h1v1h-1zM238.9 237.5h1v1h-1zM247.3 234.1h1v1h-1zM247.3 238.5h1v1h-1zM221.1 240.4h1v1h-1zM251.0 233.4h1v1h-1zM219.9 239.9h1v1h-1zM235.2 239.2h1v1h-1zM241.5 238.9h1v1h-1zM250.6 234.4h1v1h-1zM220.7 239.8h1v1h-1zM244.7 233.6h1v1h-1zM232.0 242.0h1v1h-1zM220.1 238.7h1v1h-1zM231.5 234.9h1v1h-1zM243.5 241.3h1v1h-1zM221.7 241.4h1v1h-1zM251.6 235.6h1v1h-1zM220.2 244.3h1v1h-1zM227.8 235.4h1v1h-1zM231.4 238.8h1v1h-1zM221.0 241.5h1v1h-1zM254.6 231.2h1v1h-1zM256.2 240.0h1v1h-1zM253.8 237.2h1v1h-1zM226.3 238.1h1v1h-1zM251.0 234.5h1v1h-1zM231.7 238.9h1v1h-1zM229.8 235.1h1v1h-1zM245.4 235.0h1v1h-1zM221.8 237.1h1v1h-1zM218.7 235.1h1v1h-1zM254.8 241.5h1v1h-1zM232.3 234.4h1v1h-1zM249.5 235.4h1v1h-1zM235.1 237.0h1v1h-1zM222.1 238.3h1v1h-1zM237.0 240.0h1v1h-1zM225.2 240.4h1v1h-1zM221.7 237.5h1v1h-1zM219.2 237.3h1v1h-1zM234.1 238.0h1v1h-1zM228.6 240.3h1v1h-1zM231.6 239.9h1v1h-1zM256.0 235.9h1v1h-1zM250.8 231.9h1v1h-1zM246.0 243.3h1v1h-1zM228.0 240.7h1v1h-1zM247.7 238.2h1v1h-1zM245.7 238.5h1v1h-1zM239.1 236.4h1v1h-1zM227.8 235.4h1v1h-1zM226.6 237.2h1v1h-1zM234.9 237.3h1v1h-1zM229.3 236.4h1v1h-1zM253.0 233.4h1v1h-1zM236.7 237.0h1v1h-1zM244.9 239.1h1v1h-1zM253.5 236.0h1v1h-1zM242.7 237.7h1v1h-1zM224.8 232.6h1v1h-1zM231.0 237.5h1v1h-1zM254.5 237.0h1v1h-1zM220.3 235.0h1v1h-1zM227.1 233.5h1v1h-1z" fill="#4cc2e0" fill-opacity="0.8"/>
<path d="M239.2 275.7h1v1h-1zM234.1 283.5h1v1h-1zM239.6 280.3h1v1h-1zM235.7 276.8h1v1h-1zM240.1 278.4h1v1h-1zM236.1 281.7h1v1h-1zM231.2 279.5h1v1h-1zM237.1 275.9h1v1h-1zM236.1 279.2h1v1h-1zM240.3 282.7h1v1h-1zM235.6 275.6h1v1h-1zM235.8 280.3h1v1h-1zM241.1 277.9h1v1h-1zM242.4 277.4h1v1h-1zM240.7 277.1h1v1h-1zM241.9 277.0h1v1h-1zM239.4 280.7h1v1h-1zM240.7 279.4h1v1h-1zM241.2 275.6h1v1h-1zM239.2 282.0h1v1h-1zM237.8 275.6h1v1h-1zM238.1 280.1h1v1h-1zM247.6 277.0h1v1h-1zM237.6 281.5h1v1h-1zM236.5 279.7h1v1h-1zM236.0 281.5h1v1h-1zM237.4 278.6h1v1h-1zM238.5 280.7h1v1h-1zM232.7 280.5h1v1h-1zM229.2 285.4h1v1h-1zM238.7 276.8h1v1h-1zM230.8 282.9h1v1h-1zM238.6 279.5h1v1h-1zM238.1 279.0h1v1h-1zM242.3 276.3h1v1h-1zM244.5 278.3h1v1h-1zM239.0 274.9h1v1h-1zM235.2 275.9h1v1h-1zM232.6 281.4h1v1h-1zM234.2 275.7h1v1h-1zM237.7 282.0h1v1h-1zM228.8 279.8h1v1h-1zM237.8 279.2h1v1h-1zM237.4 278.9h1v1h-1zM240.2 279.1h1v1h-1zM236.1 278.3h1v1h-1zM237.9 277.7h1v1h-1zM234.4 279.0h1v1h-1zM235.6 281.5h1v1h-1zM230.1 282.9h1v1h-1zM238.0 281.6h1v1h-1zM244.0 278.2h1v1h-1zM238.2 278.1h1v1h-1zM239.0 274.4h1v1h-1zM233.4 281.0h1v1h-1zM243.5 279.4h1v1h-1zM234.3 278.4h1v1h-1zM240.9 279.9h1v1h-1zM238.0 281.6h1v1h-1zM233.5 279.7h1v1h-1zM241.8 280.3h1v1h-1zM237.6 279.4h1v1h-1zM238.3 274.5h1v1h-1zM239.4 277.2h1v1h-1zM237.4 277.7h1v1h-1zM235.9 280.3h1v1h-1zM239.5 276.2h1v1h-1zM235.8 278.0h1v1h-1zM237.8 276.4h1v1h-1zM234.7 279.2h1v1h-1zM231.2 280.1h1v1h-1zM234.7 281.6h1v1h-1zM235.4 281.0h1v1h-1zM237.6 279.1h1v1h-1zM242.5 278.2h1v1h-1zM230.4 280.4h1v1h-1zM238.0 278.8h1v1h-1zM228.2 284.2h1v1h-1zM233.1 273.8h1v1h-1zM235.4 278.7h1v1h-1zM228.0 281.4h1v1h-1zM229.7 283.0h1v1h-1zM238.1 276.0h1v1h-1zM237.8 279.4h1v1h-1zM237.0 280.8h1v1h-1zM234.1 278.3h1v1h-1zM246.5 272.3h1v1h-1zM236.8 278.0h1v1h-1zM233.9 276.6h1v1h-1zM244.5 278.7h1v1h-1zM240.1 276.2h1v1h-1zM235.9 283.2h1v1h-1zM242.5 278.0h1v1h-1zM238.2 276.7h1v1h-1zM240.2 276.9h1v1h-1zM238.5 275.9h1v1h-1zM233.2 280.5h1v1h-1zM241.6 281.3h1v1h-1zM238.2 278.0h1v1h-1zM233.3 281.7h1v1h-1zM234.3 277.1h1v1h-1zM241.5 278.6h1v1h-1zM235.9 284.4h1v1h-1zM237.7 275.3h1v1h-1zM240.2 281.0h1v1h-1zM238.0 281.3h1v1h-1zM231.1 275.6h1v1h-1zM240.2 274.8h1v1h-1zM241.4 275.6h1v1h-1zM241.1 280.2h1v1h-1zM244.3 276.3h1v1h-1zM239.0 278.0h1v1h-1zM240.8 279.7h1v1h-1zM244.2 277.6h1v1h-1zM236.3 279.5h1v1h-1zM244.8 276.4h1v1h-1zM244.8 279.8h1v1h-1zM240.8 276.2h1v1h-1zM245.2 281.0h1v1h-1zM241.1 277.1h1v1h-1zM233.8 277.6h1v1h-1zM242.3 279.2h1v1h-1zM238.9 279.4h1v1h-1zM239.2 273.7h1v1h-1zM238.1 279.1h1v1h-1zM243.2 274.3h1v1h-1zM239.8 276.2h1v1h-1zM234.6 281.1h1v1h-1zM239.5 276.2h1v1h-1zM240.6 278.9h1v1h-1zM234.5 278.4h1v1h-1zM235.7 283.6h1v1h-1zM235.9 278.8h1v1h-1zM234.9 276.5h1v1h-1zM239.0 275.8h1v1h-1zM241.8 275.7h1v1h-1zM245.4 277.3h1v1h-1zM242.5 277.6h1v1h-1zM241.8 280.0h1v1h-1zM242.3 278.1h1v1h-1zM243.1 277.8h1v1h-1zM235.9 279.7h1v1h-1zM240.4 277.7h1v1h-1zM238.9 279.1h1v1h-1zM237.0 280.6h1v1h-1zM235.6 280.9h1v1h-1zM235.4 277.8h1v1h-1zM236.4 274.7h1v1h-1zM232.3 277.8h1v1h-1zM239.7 278.9h1v1h-1zM237.4 272.8h1v1h-1zM237.9 277.4h1v1h-1zM238.9 279.4h1v1h-1zM240.5 276.7h1v1h-1zM235.0 276.5h1v1h-1zM237.1 282.8h1v1h-1zM230.7 283.3h1v1h-1zM228.2 280.0h1v1h-1zM229.3 283.4h1v1h-1zM244.0 280.3h1v1h-1zM229.8 277.6h1v1h-1zM239.5 284.5h1v1h-1zM243.7 275.2h1v1h-1zM235.6 278.4h1v1h-1zM244.3 274.6h1v1h-1zM245.3 277.2h1v1h-1zM241.5 274.7h1v1h-1zM247.5 276.5h1v1h-1zM240.1 280.6h1v1h-1zM234.4 279.8h1v1h-1zM239.7 277.6h1v1h-1zM235.6 282.6h1v1h-1zM232.0 277.7h1v1h-1zM232.2 282.0h1v1h-1zM247.2 275.9h1v1h-1zM235.2 279.6h1v1h-1zM237.4 278.7h1v1h-1zM234.7 279.5h1v1h-1zM238.1 278.4h1v1h-1zM236.5 277.0h1v1h-1zM235.8 277.6h1v1h-1zM232.5 280.7h1v1h-1zM231.6 279.6h1v1h-1zM234.4 276.5h1v1h-1zM238.8 276.7h1v1h-1zM246.3 275.2h1v1h-1zM242.0 277.5h1v1h-1zM245.2 277.4h1v1h-1zM239.6 278.4h1v1h-1zM237.2 277.1h1v1h-1zM232.0 279.8h1v1h-1zM237.6 275.4h1v1h-1zM228.6 273.7h1v1h-1zM236.3 278.7h1v1h-1zM244.4 273.3h1v1h-1zM239.0 276.1h1v1h-1zM242.3 274.8h1v1h-1zM236.0 280.4h1v1h-1zM231.8 276.9h1v1h-1zM235.6 279.6h1v1h-1zM235.9 277.8h1v1h-1zM242.7 274.6h1v1h-1zM245.9 273.1h1v1h-1zM234.5 280.3h1v1h-1zM236.1 279.8h1v1h-1zM237.0 280.5h1v1h-1zM236.1 283.1h1v1h-1zM232.4 280.3h1v1h-1zM238.0 279.1h1v1h-1zM239.1 277.9h1v1h-1zM239.2 278.4h1v1h-1zM232.5 278.8h1v1h-1zM237.1 276.5h1v1h-1zM230.3 284.7h1v1h-1zM241.4 273.4h1v1h-1zM233.3 280.0h1v1h-1zM236.5 279.8h1v1h-1zM235.7 279.3h1v1h-1zM235.2 276.8h1v1h-1zM233.2 279.0h1v1h-1zM230.2 279.0h1v1h-1zM244.9 274.5h1v1h-1zM238.7 278.2h1v1h-1zM238.7 277.3h1v1h-1zM246.4 275.4h1v1h-1zM237.2 280.2h1v1h-1zM239.9 275.5h1v1h-1zM237.7 279.5h1v1h-1zM242.6 276.0h1v1h-1zM239.7 279.0h1v1h-1zM238.9 278.4h1v1h-1zM236.6 279.3h1v1h-1zM238.8 275.9h1v1h-1zM242.5 275.6h1v1h-1zM228.9 278.3h1v1h-1zM237.1 279.0h1v1h-1zM235.9 280.6h1v1h-1zM236.4 281.3h1v1h-1zM229.3 279.0h1v1h-1zM240.7 278.0h1v1h-1zM234.1 275.4h1v1h-1zM236.7 273.5h1v1h-1zM235.5 276.9h1v1h-1zM230.6 278.4h1v1h-1zM235.8 275.2h1v1h-1zM229.9 275.9h1v1h-1zM233.7 280.5h1v1h-1zM236.3 276.8h1v1h-1zM237.6 274.5h1v1h-1zM237.9 283.8h1v1h-1zM237.1 279.0h1v1h-1zM246.6 275.8h1v1h-1zM239.5 279.6h1v1h-1zM232.5 277.7h1v1h-1zM235.1 282.7h1v1h-1zM234.9 275.4h1v1h-1zM236.9 275.5h1v1h-1zM235.1 278.6h1v1h-1zM234.0 277.4h1v1h-1zM244.6 280.3h1v1h-1zM237.8 274.6h1v1h-1zM236.2 277.0h1v1h-1zM236.6 279.2h1v1h-1zM236.7 279.9h1v1h-1zM243.5 279.5h1v1h-1zM239.7 278.8h1v1h-1zM242.4 282.6h1v1h-1zM224.5 280.0h1v1h-1zM239.0 278.5h1v1h-1zM242.1 279.5h1v1h-1zM245.9 275.9h1v1h-1zM237.8 277.7h1v1h-1zM230.4 278.8h1v1h-1zM240.1 276.4h1v1h-1zM235.1 276.3h1v1h-1zM230.1 278.7h1v1h-1zM235.0 275.3h1v1h-1zM242.1 278.3h1v1h-1zM242.7 273.6h1v1h-1zM240.7 282.6h1v1h-1zM233.2 283.3h1v1h-1zM248.2 278.8h1v1h-1zM232.7 278.9h1v1h-1zM237.3 277.1h1v1h-1zM231.6 282.5h1v1h-1zM243.2 277.6h1v1h-1zM239.5 279.3h1v1h-1zM241.4 275.9h1v1h-1zM238.0 280.8h1v1h-1zM237.4 276.6h1v1h-1zM238.4 278.5h1v1h-1zM229.7 276.0h1v1h-1zM241.8 276.0h1v1h-1zM241.5 278.7h1v1h-1zM236.0 277.6h1v1h-1zM237.6 277.3h1v1h-1zM238.9 279.9h1v1h-1zM244.3 276.8h1v1h-1zM239.5 280.9h1v1h-1zM237.9 272.7h1v1h-1zM235.5 280.1h1v1h-1zM231.4 280.8h1v1h-1zM235.2 275.3h1v1h-1zM238.0 275.3h1v1h-1zM236.6 280.6h1v1h-1zM238.0 275.8h1v1h-1zM240.8 276.2h1v1h-1zM239.5 279.4h1v1h-1zM238.8 277.3h1v1h-1zM240.4 278.9h1v1h-1zM238.5 276.2h1v1h-1zM237.6 279.1h1v1h-1zM239.7 280.5h1v1h-1zM230.4 280.6h1v1h-1zM243.0 272.1h1v1h-1zM232.3 281.0h1v1h-1zM241.2 277.7h1v1h-1zM237.8 276.2h1v1h-1zM242.4 280.6h1v1h-1zM237.8 274.2h1v1h-1zM233.7 283.5h1v1h-1zM242.2 275.9h1v1h-1zM238.5 281.8h1v1h-1zM238.2 278.1h1v1h-1zM238.0 275.2h1v1h-1zM241.9 277.7h1v1h-1zM241.1 278.4h1v1h-1zM238.7 279.4h1v1h-1zM231.2 282.2h1v1h-1zM236.0 276.6h1v1h-1zM238.2 279.4h1v1h-1zM245.3 278.5h1v1h-1zM239.3 277.4h1v1h-1zM237.3 276.2h1v1h-1zM242.7 275.1h1v1h-1zM237.3 280.2h1v1h-1zM237.6 280.2h1v1h-1zM238.4 276.3h1v1h-1zM231.4 276.5h1v1h-1zM241.7 280.4h1v1h-1zM239.5 274.3h1v1h-1zM236.5 278.9h1v1h-1zM232.9 277.4h1v1h-1zM238.6 274.0h1v1h-1zM243.6 277.4h1v1h-1zM235.0 278.4h1v1h-1zM233.3 282.6h1v1h-1zM239.5 283.3h1v1h-1zM231.0 279.3h1v1h-1zM228.4 282.7h1v1h-1zM235.9 281.1h1v1h-1zM234.8 277.7h1v1h-1zM236.6 276.5h1v1h-1zM235.4 282.6h1v1h-1zM239.1 277.2h1v1h-1zM236.8 278.5h1v1h-1zM235.2 278.2h1v1h-1zM235.8 278.4h1v1h-1zM240.4 276.4h1v1h-1zM241.8 279.2h1v1h-1zM241.5 280.5h1v1h-1zM240.7 276.8h1v1h-1zM223.9 278.0h1v1h-1zM233.5 279.3h1v1h-1zM236.4 275.1h1v1h-1zM238.6 276.6h1v1h-1zM231.0 282.6h1v1h-1zM243.7 282.5h1v1h-1zM239.0 278.9h1v1h-1zM235.1 276.4h1v1h-1zM238.4 280.0h1v1h-1zM236.3 273.4h1v1h-1zM234.6 277.4h1v1h-1zM239.9 281.4h1v1h-1zM235.8 280.4h1v1h-1zM231.8 276.3h1v1h-1zM235.1 275.0h1v1h-1zM237.3 280.4h1v1h-1zM233.2 279.1h1v1h-1zM243.1 275.8h1v1h-1z" fill="#ff1010" fill-opacity="0.9"/>
<path d="M243.8 272.0h1v1h-1zM236.0 284.0h1v1h-1zM225.3 279.0h1v1h-1zM247.0 253.7h1v1h-1zM235.4 281.4h1v1h-1zM232.6 270.7h1v1h-1zM229.9 252.5h1v1h-1zM242.5 265.3h1v1h-1zM234.1 276.6h1v1h-1zM245.5 268.0h1v1h-1zM238.4 278.7h1v1h-1zM249.2 267.5h1v1h-1zM237.5 271.0h1v1h-1zM235.3 256.7h1v1h-1zM224.9 269.6h1v1h-1zM231.8 274.9h1v1h-1zM246.3 269.7h1v1h-1zM230.6 269.8h1v1h-1zM232.3 276.8h1v1h-1zM243.2 252.3h1v1h-1zM244.4 251.4h1v1h-1zM235.2 269.8h1v1h-1zM241.2 269.7h1v1h-1zM227.8 272.5h1v1h-1zM238.2 252.6h1v1h-1zM247.7 263.9h1v1h-1zM253.6 250.2h1v1h-1zM239.2 273.9h1v1h-1zM238.5 268.7h1v1h-1zM244.2 267.9h1v1h-1zM249.4 267.5h1v1h-1zM244.4 261.9h1v1h-1zM234.6 278.0h1v1h-1zM243.4 275.7h1v1h-1zM248.3 266.4h1v1h-1zM234.9 281.6h1v1h-1zM229.9 270.1h1v1h-1zM244.6 272.5h1v1h-1zM243.5 268.4h1v1h-1zM248.3 256.1h1v1h-1zM241.3 267.2h1v1h-1zM235.4 267.4h1v1h-1zM237.1 266.2h1v1h-1zM232.4 273.9h1v1h-1zM233.0 280.7h1v1h-1zM236.1 268.6h1v1h-1zM236.7 271.5h1v1h-1zM249.4 251.8h1v1h-1zM230.8 275.0h1v1h-1zM240.2 277.0h1v1h-1zM235.9 277.1h1v1h-1zM252.4 264.4h1v1h-1zM242.7 263.0h1v1h-1zM237.6 262.7h1v1h-1zM247.1 263.5h1v1h-1zM241.1 257.9h1v1h-1zM236.8 261.3h1v1h-1zM252.8 267.6h1v1h-1zM246.3 257.8h1v1h-1zM254.4 273.0h1v1h-1zM249.8 251.8h1v1h-1zM246.8 267.5h1v1h-1zM241.7 258.8h1v1h-1zM232.0 274.8h1v1h-1zM246.3 256.9h1v1h-1zM241.2 268.1h1v1h-1zM246.0 263.7h1v1h-1zM240.6 264.8h1v1h-1zM235.1 275.3h1v1h-1zM232.6 284.3h1v1h-1zM246.2 260.3h1v1h-1zM250.9 268.4h1v1h-1zM238.4 270.2h1v1h-1zM244.3 265.7h1v1h-1zM251.6 277.6h1v1h-1zM234.0 256.1h1v1h-1zM237.9 264.7h1v1h-1zM231.8 260.2h1v1h-1zM250.0 260.0h1v1h-1zM242.7 265.1h1v1h-1zM227.5 278.8h1v1h-1zM239.2 282.4h1v1h-1zM248.6 272.9h1v1h-1zM238.3 266.3h1v1h-1zM237.3 273.8h1v1h-1zM245.8 277.4h1v1h-1zM230.9 275.5h1v1h-1zM241.1 269.4h1v1h-1zM245.4 268.9h1v1h-1zM234.5 260.7h1v1h-1zM234.1 266.1h1v1h-1zM242.7 269.4h1v1h-1zM239.9 272.7h1v1h-1zM238.8 262.4h1v1h-1zM242.3 264.7h1v1h-1zM242.5 266.1h1v1h-1zM233.3 271.5h1v1h-1zM235.4 276.5h1v1h-1zM244.3 266.7h1v1h-1zM249.6 263.8h1v1h-1zM251.5 250.9h1v1h-1zM234.0 264.4h1v1h-1zM249.4 265.1h1v1h-1zM246.7 252.5h1v1h-1zM240.5 270.2h1v1h-1zM244.6 260.8h1v1h-1zM247.3 257.9h1v1h-1zM254.9 264.1h1v1h-1zM232.3 268.2h1v1h-1zM245.5 258.7h1v1h-1zM239.6 263.7h1v1h-1zM239.1 269.5h1v1h-1zM249.8 282.9h1v1h-1zM247.2 248.2h1v1h-1zM232.7 272.9h1v1h-1zM238.5 267.6h1v1h-1zM242.5 274.0h1v1h-1zM229.5 272.2h1v1h-1zM240.1 278.3h1v1h-1zM242.0 259.1h1v1h-1zM243.4 265.9h1v1h-1zM255.1 248.9h1v1h-1zM241.0 259.7h1v1h-1zM237.9 266.0h1v1h-1zM254.5 265.9h1v1h-1zM236.8 276.7h1v1h-1zM236.6 266.1h1v1h-1zM229.8 278.5h1v1h-1zM249.3 259.9h1v1h-1zM242.9 267.5h1v1h-1zM244.5 266.8h1v1h-1zM242.1 271.8h1v1h-1zM239.7 264.0h1v1h-1zM234.5 270.8h1v1h-1zM234.6 273.4h1v1h-1zM244.2 266.5h1v1h-1zM241.7 261.4h1v1h-1zM253.7 272.8h1v1h-1zM234.7 268.2h1v1h-1zM236.9 276.0h1v1h-1zM232.7 274.5h1v1h-1zM251.7 270.3h1v1h-1zM231.0 257.7h1v1h-1zM246.9 279.5h1v1h-1zM252.2 259.3h1v1h-1zM239.7 259.4h1v1h-1zM246.5 265.3h1v1h-1zM237.7 273.6h1v1h-1zM227.7 266.8h1v1h-1zM242.1 263.6h1v1h-1zM240.9 277.8h1v1h-1zM234.7 261.2h1v1h-1zM248.3 261.9h1v1h-1zM243.6 264.0h1v1h-1zM236.6 286.7h1v1h-1zM236.7 268.2h1v1h-1zM229.2 284.9h1v1h-1zM239.3 263.8h1v1h-1zM257.6 251.5h1v1h-1zM235.2 278.9h1v1h-1zM244.1 270.5h1v1h-1zM236.5 257.7h1v1h-1zM247.1 268.7h1v1h-1zM244.3 270.5h1v1h-1zM239.0 264.5h1v1h-1zM226.7 278.3h1v1h-1zM236.7 272.4h1v1h-1zM250.3 258.4h1v1h-1zM238.9 264.7h1v1h-1zM245.8 259.8h1v1h-1zM237.0 268.2h1v1h-1zM226.0 267.1h1v1h-1zM244.2 265.5h1v1h-1zM243.3 255.2h1v1h-1zM236.2 271.3h1v1h-1zM237.9 269.1h1v1h-1zM243.1 258.7h1v1h-1zM236.1 277.1h1v1h-1zM243.5 280.6h1v1h-1zM239.2 278.8h1v1h-1zM222.2 269.2h1v1h-1zM239.7 278.1h1v1h-1zM236.1 272.4h1v1h-1zM234.2 271.6h1v1h-1zM244.0 261.5h1v1h-1zM236.9 270.2h1v1h-1zM245.1 275.6h1v1h-1zM249.5 266.6h1v1h-1zM241.9 264.1h1v1h-1zM228.6 270.4h1v1h-1zM235.0 268.3h1v1h-1zM248.0 267.8h1v1h-1zM238.8 283.0h1v1h-1zM234.4 263.9h1v1h-1zM240.1 268.3h1v1h-1zM244.8 262.5h1v1h-1zM242.9 261.0h1v1h-1zM245.9 267.7h1v1h-1zM234.3 276.0h1v1h-1zM238.7 258.6h1v1h-1zM238.8 261.4h1v1h-1zM240.7 276.9h1v1h-1zM224.3 280.5h1v1h-1zM239.0 272.9h1v1h-1zM230.2 270.7h1v1h-1zM251.8 258.2h1v1h-1zM253.1 263.6h1v1h-1zM254.1 255.9h1v1h-1zM247.2 255.6h1v1h-1zM237.0 270.2h1v1h-1zM248.4 269.9h1v1h-1zM239.3 261.1h1v1h-1zM245.7 272.7h1v1h-1zM233.7 277.5h1v1h-1zM236.2 264.3h1v1h-1zM244.5 265.6h1v1h-1zM254.9 258.9h1v1h-1zM240.7 272.7h1v1h-1zM258.7 261.8h1v1h-1zM230.7 264.1h1v1h-1zM240.6 275.6h1v1h-1zM233.3 273.3h1v1h-1zM239.8 271.6h1v1h-1zM236.6 272.9h1v1h-1zM240.3 279.6h1v1h-1zM248.5 254.1h1v1h-1zM248.3 271.3h1v1h-1zM242.9 260.5h1v1h-1zM240.9 273.2h1v1h-1zM241.8 277.2h1v1h-1zM241.9 256.9h1v1h-1zM245.4 268.0h1v1h-1zM240.9 265.7h1v1h-1zM244.9 263.2h1v1h-1zM230.5 274.5h1v1h-1z" fill="#f02828" fill-opacity="0.5"/>
<path d="M265.2 270.0h1v1h-1zM265.6 281.5h1v1h-1zM272.8 281.3h1v1h-1zM273.6 279.3h1v1h-1zM267.3 280.6h1v1h-1zM263.4 274.9h1v1h-1zM280.2 269.5h1v1h-1zM274.7 276.7h1v1h-1zM271.4 278.5h1v1h-1zM265.3 274.2h1v1h-1zM267.3 271.4h1v1h-1zM270.9 263.6h1v1h-1zM265.6 276.8h1v1h-1zM277.0 274.9h1v1h-1zM270.5 265.1h1v1h-1zM271.6 273.4h1v1h-1zM265.3 277.1h1v1h-1zM265.8 272.2h1v1h-1zM266.3 277.5h1v1h-1zM271.1 277.3h1v1h-1zM268.7 264.1h1v1h-1zM268.6 271.0h1v1h-1zM271.2 275.7h1v1h-1zM270.8 278.2h1v1h-1zM276.4 281.2h1v1h-1zM269.0 261.5h1v1h-1zM265.4 272.4h1v1h-1zM269.8 277.1h1v1h-1zM276.3 280.1h1v1h-1zM267.4 282.8h1v1h-1zM270.1 267.3h1v1h-1zM268.3 270.6h1v1h-1zM271.6 266.6h1v1h-1zM271.0 277.7h1v1h-1zM266.3 265.0h1v1h-1zM268.8 279.8h1v1h-1zM274.0 278.4h1v1h-1zM274.7 275.7h1v1h-1zM273.9 260.0h1v1h-1zM273.7 268.8h1v1h-1zM268.4 277.3h1v1h-1zM268.2 264.4h1v1h-1zM274.0 271.4h1v1h-1zM264.7 272.2h1v1h-1zM269.6 278.1h1v1h-1zM261.6 274.5h1v1h-1zM268.2 274.4h1v1h-1zM266.7 270.2h1v1h-1zM264.5 272.8h1v1h-1zM272.4 272.0h1v1h-1zM266.6 277.1h1v1h-1zM268.2 271.8h1v1h-1zM268.7 278.9h1v1h-1zM266.6 262.7h1v1h-1zM276.1 279.9h1v1h-1zM267.7 271.8h1v1h-1zM270.7 279.5h1v1h-1zM264.1 273.3h1v1h-1zM267.8 277.9h1v1h-1zM268.4 281.7h1v1h-1zM268.5 269.5h1v1h-1zM267.3 273.3h1v1h-1zM270.5 271.8h1v1h-1zM276.7 274.0h1v1h-1zM269.3 263.2h1v1h-1zM269.2 271.8h1v1h-1zM268.1 271.3h1v1h-1zM281.1 268.1h1v1h-1zM277.0 271.7h1v1h-1zM272.3 263.7h1v1h-1zM273.0 281.1h1v1h-1zM266.7 275.5h1v1h-1zM269.2 284.0h1v1h-1zM270.8 267.6h1v1h-1zM270.4 265.9h1v1h-1zM266.1 274.5h1v1h-1zM266.4 262.9h1v1h-1zM272.1 274.1h1v1h-1zM271.2 268.6h1v1h-1zM270.3 274.3h1v1h-1zM275.5 273.1h1v1h-1zM267.0 283.8h1v1h-1zM270.9 276.5h1v1h-1zM263.4 265.1h1v1h-1zM273.5 278.6h1v1h-1zM264.9 264.9h1v1h-1zM264.3 273.3h1v1h-1zM268.5 265.4h1v1h-1zM280.3 267.9h1v1h-1zM267.2 280.6h1v1h-1zM264.3 269.5h1v1h-1zM271.9 269.0h1v1h-1zM270.9 269.5h1v1h-1zM277.2 270.9h1v1h-1zM264.3 281.3h1v1h-1zM262.8 265.8h1v1h-1zM268.5 265.5h1v1h-1zM271.5 276.2h1v1h-1zM271.4 263.3h1v1h-1zM274.6 270.6h1v1h-1zM263.3 279.5h1v1h-1zM266.2 272.8h1v1h-1zM269.3 269.9h1v1h-1zM273.6 268.6h1v1h-1zM272.0 267.3h1v1h-1zM268.0 269.3h1v1h-1zM265.4 273.6h1v1h-1zM273.8 280.1h1v1h-1zM274.1 278.5h1v1h-1zM281.8 269.4h1v1h-1zM269.1 268.4h1v1h-1zM277.0 276.9h1v1h-1zM264.5 262.0h1v1h-1zM267.5 270.1h1v1h-1zM266.9 270.8h1v1h-1zM267.8 266.1h1v1h-1zM266.0 266.8h1v1h-1zM267.5 274.8h1v1h-1zM269.6 262.9h1v1h-1zM267.9 267.3h1v1h-1zM272.8 268.9h1v1h-1zM269.5 273.2h1v1h-1zM269.9 264.6h1v1h-1zM276.4 279.1h1v1h-1zM271.3 270.9h1v1h-1zM270.5 271.1h1v1h-1zM269.8 270.5h1v1h-1zM270.1 268.7h1v1h-1zM272.4 266.8h1v1h-1zM266.3 279.5h1v1h-1zM274.9 273.9h1v1h-1zM276.8 272.0h1v1h-1zM275.0 278.5h1v1h-1zM267.7 268.4h1v1h-1zM262.8 276.4h1v1h-1zM267.9 272.8h1v1h-1zM270.5 267.4h1v1h-1zM273.5 277.1h1v1h-1zM269.1 263.8h1v1h-1zM268.5 276.5h1v1h-1zM276.6 267.4h1v1h-1zM266.9 275.0h1v1h-1zM274.6 280.8h1v1h-1zM273.9 275.9h1v1h-1zM264.0 269.0h1v1h-1zM271.1 272.4h1v1h-1zM267.4 270.4h1v1h-1zM265.7 265.6h1v1h-1zM261.7 266.0h1v1h-1zM263.0 272.8h1v1h-1zM271.7 275.7h1v1h-1zM268.2 262.1h1v1h-1zM271.1 272.1h1v1h-1zM265.2 275.5h1v1h-1zM268.5 273.2h1v1h-1zM268.7 266.6h1v1h-1zM263.1 278.6h1v1h-1zM262.5 265.3h1v1h-1zM271.8 276.3h1v1h-1zM270.5 282.0h1v1h-1zM265.8 260.5h1v1h-1zM269.4 274.0h1v1h-1zM272.8 274.3h1v1h-1zM277.9 273.8h1v1h-1zM266.0 268.0h1v1h-1zM272.6 270.6h1v1h-1zM279.2 264.2h1v1h-1zM270.2 273.3h1v1h-1zM276.3 275.6h1v1h-1zM276.3 267.0h1v1h-1zM269.8 269.7h1v1h-1zM261.6 272.4h1v1h-1zM273.3 272.8h1v1h-1zM274.5 271.8h1v1h-1zM275.2 272.9h1v1h-1zM275.2 264.7h1v1h-1zM269.7 256.4h1v1h-1zM266.6 276.1h1v1h-1zM267.8 280.8h1v1h-1zM269.7 264.1h1v1h-1zM271.7 268.5h1v1h-1zM267.7 274.2h1v1h-1zM270.1 278.0h1v1h-1zM273.7 276.2h1v1h-1zM271.3 280.0h1v1h-1zM280.0 272.1h1v1h-1zM279.4 274.9h1v1h-1zM264.8 274.8h1v1h-1zM267.4 269.9h1v1h-1zM264.1 279.5h1v1h-1zM264.7 276.1h1v1h-1zM272.3 278.2h1v1h-1zM265.5 270.1h1v1h-1zM265.2 278.5h1v1h-1zM268.7 266.2h1v1h-1zM273.4 274.7h1v1h-1zM268.3 257.0h1v1h-1zM268.3 266.5h1v1h-1zM273.9 276.7h1v1h-1zM272.0 269.8h1v1h-1zM271.9 273.4h1v1h-1zM274.1 262.9h1v1h-1zM265.4 281.5h1v1h-1zM270.8 275.9h1v1h-1zM267.1 272.3h1v1h-1zM274.4 274.8h1v1h-1zM273.5 274.3h1v1h-1zM265.3 280.7h1v1h-1zM275.8 273.7h1v1h-1zM264.7 263.8h1v1h-1zM275.0 270.9h1v1h-1zM270.8 279.9h1v1h-1zM266.0 275.7h1v1h-1zM264.9 269.9h1v1h-1zM268.5 276.0h1v1h-1zM269.8 273.1h1v1h-1zM266.7 276.0h1v1h-1zM272.4 263.1h1v1h-1zM263.7 267.1h1v1h-1zM269.8 276.3h1v1h-1zM269.9 271.1h1v1h-1zM261.6 274.5h1v1h-1zM271.2 283.9h1v1h-1zM264.3 270.6h1v1h-1zM267.1 269.1h1v1h-1zM268.9 268.7h1v1h-1zM273.9 272.0h1v1h-1z" fill="#b440d0" fill-opacity="0.7"/>
<path d="M262.9 270.9h1v1h-1zM279.4 268.5h1v1h-1zM270.8 267.1h1v1h-1zM278.0 266.8h1v1h-1zM272.1 262.8h1v1h-1zM272.3 265.7h1v1h-1zM275.3 263.1h1v1h-1zM275.6 266.2h1v1h-1zM264.3 253.9h1v1h-1zM278.5 256.9h1v1h-1zM265.7 268.5h1v1h-1zM272.6 259.7h1v1h-1zM271.9 264.2h1v1h-1zM269.4 281.5h1v1h-1zM275.0 270.0h1v1h-1zM271.7 269.5h1v1h-1zM273.9 256.6h1v1h-1zM266.0 261.0h1v1h-1zM273.4 263.2h1v1h-1zM262.2 255.6h1v1h-1zM266.5 264.6h1v1h-1zM275.2 269.7h1v1h-1zM267.8 268.8h1v1h-1zM266.2 253.1h1v1h-1zM272.3 263.1h1v1h-1zM269.3 256.7h1v1h-1zM272.3 267.4h1v1h-1zM270.3 278.8h1v1h-1zM282.3 278.8h1v1h-1zM268.9 265.8h1v1h-1zM272.1 278.9h1v1h-1zM271.4 263.5h1v1h-1zM272.3 265.7h1v1h-1zM262.0 271.3h1v1h-1zM278.0 262.8h1v1h-1zM271.2 258.3h1v1h-1zM271.2 255.9h1v1h-1zM262.1 263.2h1v1h-1zM274.2 257.2h1v1h-1zM271.0 270.8h1v1h-1zM279.3 260.0h1v1h-1zM269.0 277.2h1v1h-1zM264.2 274.7h1v1h-1zM266.1 273.5h1v1h-1zM273.8 259.3h1v1h-1zM265.1 276.3h1v1h-1zM270.7 268.1h1v1h-1zM270.1 262.8h1v1h-1zM271.2 269.6h1v1h-1zM268.4 257.9h1v1h-1zM266.7 266.4h1v1h-1zM271.1 266.9h1v1h-1zM268.0 261.8h1v1h-1zM272.3 266.9h1v1h-1zM269.8 253.7h1v1h-1zM279.5 269.2h1v1h-1zM273.2 267.8h1v1h-1zM274.9 270.0h1v1h-1zM274.1 258.0h1v1h-1zM263.6 261.1h1v1h-1z" fill="#c070d8" fill-opacity="0.4"/>
<rect x="218.2" y="208.3" width="39.8" height="38.7" fill="none" stroke="#444" stroke-width="1"/>
<rect x="260.4" y="252.0" width="37.4" height="38.1" fill="none" stroke="#444" stroke-width="1"/>
<text x="232.0" y="223.7" font-size="7.7" text-anchor="start" font-weight="normal" fill="#2a2a2a" stroke="#2a2a2a" stroke-width="0.1" >22.3%</text>
<text x="233.0" y="232.2" font-size="7.7" text-anchor="start" font-weight="normal" fill="#2a2a2a" stroke="#2a2a2a" stroke-width="0.1" >P7</text>
<text x="293.8" y="248.5" font-size="7.7" text-anchor="start" font-weight="normal" fill="#2a2a2a" stroke="#2a2a2a" stroke-width="0.1" >P6</text>
<text x="278.6" y="263.9" font-size="7.7" text-anchor="start" font-weight="normal" fill="#2a2a2a" stroke="#2a2a2a" stroke-width="0.1" >16%</text>
<line x1="174.2" y1="226.7" x2="199.3" y2="226.7" stroke="#111" stroke-width="1.3"/>
<polygon points="204.6,226.7 197.1,230.0 199.3,226.7 197.1,223.4" fill="#111"/>
<line x1="206.9" y1="305.3" x2="184.3" y2="325.3" stroke="#111" stroke-width="1.3"/>
<polygon points="180.4,328.8 183.8,321.4 184.3,325.3 188.2,326.3" fill="#111"/>
<line x1="290.4" y1="298.5" x2="290.4" y2="322.2" stroke="#111" stroke-width="1.3"/>
<polygon points="290.4,327.5 287.1,320.0 290.4,322.2 293.7,320.0" fill="#111"/>
<text x="59.8" y="330.3" font-size="8.5" text-anchor="start" font-weight="normal" fill="#2a2a2a" stroke="#2a2a2a" stroke-width="0.1" >iii</text>
<rect x="80.9" y="333.5" width="91.7" height="80.7" fill="none" stroke="#4a4a4a" stroke-width="1.15"/>
<text x="61.8" y="343.5" font-size="7.7" fill="#2a2a2a" stroke="#2a2a2a" stroke-width="0.1">10<tspan font-size="5.24" dy="-3.23">5</tspan></text>
<text x="61.8" y="362.6" font-size="7.7" fill="#2a2a2a" stroke="#2a2a2a" stroke-width="0.1">10<tspan font-size="5.24" dy="-3.23">4</tspan></text>
<text x="61.8" y="380.4" font-size="7.7" fill="#2a2a2a" stroke="#2a2a2a" stroke-width="0.1">10<tspan font-size="5.24" dy="-3.23">3</tspan></text>
<text x="61.8" y="400.4" font-size="7.7" fill="#2a2a2a" stroke="#2a2a2a" stroke-width="0.1">10<tspan font-size="5.24" dy="-3.23">2</tspan></text>
<text x="73.3" y="407.6" font-size="7.7" text-anchor="end" font-weight="normal" fill="#2a2a2a" stroke="#2a2a2a" stroke-width="0.1" >0</text>
<text x="73.3" y="417.7" font-size="7.7" text-anchor="end" font-weight="normal" fill="#2a2a2a" stroke="#2a2a2a" stroke-width="0.1" >-139</text>
<text x="80.5" y="429.1" font-size="7.7" text-anchor="middle" font-weight="normal" fill="#2a2a2a" stroke="#2a2a2a" stroke-width="0.1" >-304</text>
<text x="94.6" y="429.1" font-size="7.7" text-anchor="middle" font-weight="normal" fill="#2a2a2a" stroke="#2a2a2a" stroke-width="0.1" >0</text>
<text x="115.5" y="429.1" font-size="7.7" fill="#2a2a2a" stroke="#2a2a2a" stroke-width="0.1">10<tspan font-size="5.24" dy="-3.23">3</tspan></text>
<text x="136.5" y="429.1" font-size="7.7" fill="#2a2a2a" stroke="#2a2a2a" stroke-width="0.1">10<tspan font-size="5.24" dy="-3.23">4</tspan></text>
<text x="158.3" y="429.1" font-size="7.7" fill="#2a2a2a" stroke="#2a2a2a" stroke-width="0.1">10<tspan font-size="5.24" dy="-3.23">5</tspan></text>
<path d="M80.9 340.7h-3.0M80.9 359.8h-3.0M80.9 377.6h-3.0M80.9 397.6h-3.0M80.9 404.8h-3.0M80.9 414.9h-3.0M80.5 414.2v3.0M94.6 414.2v3.0M121.2 414.2v3.0M142.2 414.2v3.0M164.0 414.2v3.0M80.9 354.1h-1.8M80.9 350.7h-1.8M80.9 348.3h-1.8M80.9 346.4h-1.8M80.9 344.9h-1.8M80.9 343.7h-1.8M80.9 342.6h-1.8M80.9 341.6h-1.8M80.9 372.2h-1.8M80.9 369.1h-1.8M80.9 366.9h-1.8M80.9 365.2h-1.8M80.9 363.7h-1.8M80.9 362.6h-1.8M80.9 361.5h-1.8M80.9 360.6h-1.8M80.9 391.6h-1.8M80.9 388.1h-1.8M80.9 385.6h-1.8M80.9 383.6h-1.8M80.9 382.0h-1.8M80.9 380.7h-1.8M80.9 379.5h-1.8M80.9 378.5h-1.8M127.5 414.2v1.8M131.2 414.2v1.8M133.8 414.2v1.8M135.9 414.2v1.8M137.5 414.2v1.8M138.9 414.2v1.8M140.2 414.2v1.8M141.2 414.2v1.8M148.8 414.2v1.8M152.6 414.2v1.8M155.3 414.2v1.8M157.4 414.2v1.8M159.2 414.2v1.8M160.6 414.2v1.8M161.9 414.2v1.8M163.0 414.2v1.8" stroke="#777" stroke-width="0.7" fill="none"/>
<text transform="translate(125.0,439.4) scale(0.66,1)" x="0" y="3.24" font-size="9.0" text-anchor="middle" fill="#222" stroke="#222" stroke-width="0.35">CD31</text>
<text transform="translate(47.6,375.3) rotate(-90) scale(0.66,1)" x="0" y="3.24" font-size="9.0" text-anchor="middle" fill="#222" stroke="#222" stroke-width="0.35">CD34</text>
<text x="73.8" y="421.4" font-size="6.3" fill="#6f90b8">M</text>
<path d="M94.1 365.8h1v1h-1zM118.5 362.6h1v1h-1zM102.8 363.8h1v1h-1zM130.2 366.2h1v1h-1zM104.1 366.8h1v1h-1zM102.8 365.9h1v1h-1zM100.5 361.5h1v1h-1zM112.8 363.6h1v1h-1zM131.8 358.3h1v1h-1zM112.9 362.3h1v1h-1zM122.1 361.4h1v1h-1zM111.9 361.0h1v1h-1zM91.8 367.1h1v1h-1zM115.0 366.5h1v1h-1zM115.3 364.8h1v1h-1zM115.4 362.4h1v1h-1zM101.7 358.4h1v1h-1zM100.3 367.2h1v1h-1zM103.1 366.7h1v1h-1zM89.4 365.2h1v1h-1zM95.4 363.5h1v1h-1zM101.2 365.8h1v1h-1zM111.6 360.1h1v1h-1zM129.9 361.9h1v1h-1zM120.2 358.1h1v1h-1zM111.7 359.8h1v1h-1zM121.0 361.1h1v1h-1zM108.4 358.8h1v1h-1zM90.2 365.6h1v1h-1zM119.6 362.7h1v1h-1zM120.4 357.4h1v1h-1zM118.1 364.1h1v1h-1zM127.2 358.5h1v1h-1zM124.0 362.1h1v1h-1zM126.1 360.8h1v1h-1zM90.1 364.4h1v1h-1zM134.0 357.6h1v1h-1zM115.1 357.1h1v1h-1zM115.3 359.9h1v1h-1zM116.2 359.6h1v1h-1z" fill="#aaa" fill-opacity="0.5"/>
<path d="M155.2 359.7h1v1h-1zM152.2 363.4h1v1h-1zM141.0 362.4h1v1h-1zM151.2 363.2h1v1h-1zM148.5 363.0h1v1h-1zM145.7 360.5h1v1h-1zM149.6 364.1h1v1h-1zM151.2 363.3h1v1h-1zM144.8 360.0h1v1h-1zM146.2 367.5h1v1h-1zM148.2 359.3h1v1h-1zM142.9 361.6h1v1h-1zM148.3 361.3h1v1h-1zM147.1 364.3h1v1h-1zM144.3 364.8h1v1h-1zM143.5 363.4h1v1h-1zM148.9 365.1h1v1h-1zM151.6 361.9h1v1h-1zM149.0 365.1h1v1h-1zM143.5 370.4h1v1h-1zM151.0 361.6h1v1h-1zM148.3 355.9h1v1h-1zM150.3 360.3h1v1h-1zM152.9 357.9h1v1h-1zM143.3 363.9h1v1h-1zM146.8 362.8h1v1h-1zM144.7 360.3h1v1h-1zM143.4 360.9h1v1h-1zM156.9 358.6h1v1h-1zM151.9 360.4h1v1h-1zM139.2 358.8h1v1h-1zM149.5 364.0h1v1h-1zM144.9 363.2h1v1h-1zM152.9 360.5h1v1h-1zM147.9 362.9h1v1h-1zM146.7 360.1h1v1h-1zM148.2 362.0h1v1h-1zM149.3 364.2h1v1h-1zM147.6 364.9h1v1h-1zM146.5 363.8h1v1h-1zM146.8 361.8h1v1h-1zM149.9 359.5h1v1h-1zM142.2 367.2h1v1h-1zM147.5 363.6h1v1h-1zM146.9 361.5h1v1h-1zM145.2 357.8h1v1h-1zM150.9 359.1h1v1h-1zM141.5 359.6h1v1h-1zM145.8 365.9h1v1h-1zM143.5 364.1h1v1h-1zM150.0 359.6h1v1h-1zM145.3 362.3h1v1h-1zM147.7 368.6h1v1h-1zM149.3 364.7h1v1h-1zM140.0 361.5h1v1h-1zM149.6 361.3h1v1h-1zM144.0 360.4h1v1h-1zM146.3 358.5h1v1h-1zM147.0 362.9h1v1h-1zM151.3 367.0h1v1h-1zM150.9 365.0h1v1h-1zM155.7 359.7h1v1h-1zM148.3 361.1h1v1h-1zM145.3 363.5h1v1h-1zM145.2 365.6h1v1h-1zM150.6 357.7h1v1h-1zM155.0 355.2h1v1h-1zM149.1 366.4h1v1h-1zM144.8 363.9h1v1h-1zM148.8 365.8h1v1h-1zM148.7 362.5h1v1h-1zM147.7 365.9h1v1h-1zM144.0 361.9h1v1h-1zM135.6 367.4h1v1h-1zM145.0 367.0h1v1h-1zM152.4 363.2h1v1h-1zM148.5 360.8h1v1h-1zM137.2 367.9h1v1h-1zM147.5 360.7h1v1h-1zM138.9 361.6h1v1h-1zM156.8 360.5h1v1h-1zM148.4 365.5h1v1h-1zM141.9 366.3h1v1h-1zM151.2 358.0h1v1h-1zM143.8 365.7h1v1h-1zM150.1 363.1h1v1h-1zM147.6 361.1h1v1h-1zM142.0 358.0h1v1h-1zM150.6 363.8h1v1h-1zM141.2 366.6h1v1h-1zM153.8 361.5h1v1h-1zM147.8 357.9h1v1h-1zM142.7 360.2h1v1h-1zM139.0 367.6h1v1h-1zM155.0 361.8h1v1h-1zM154.3 361.3h1v1h-1zM141.6 363.6h1v1h-1zM155.2 360.7h1v1h-1zM148.3 360.7h1v1h-1zM146.5 361.9h1v1h-1zM147.1 360.3h1v1h-1zM146.2 363.4h1v1h-1zM154.2 359.1h1v1h-1zM148.2 364.4h1v1h-1zM138.9 366.9h1v1h-1zM157.3 357.1h1v1h-1zM151.6 365.5h1v1h-1zM142.4 361.2h1v1h-1zM145.8 364.0h1v1h-1zM143.3 366.4h1v1h-1zM147.7 365.4h1v1h-1zM149.3 356.2h1v1h-1zM148.6 364.4h1v1h-1zM144.7 366.3h1v1h-1zM143.8 367.1h1v1h-1zM151.5 355.4h1v1h-1zM147.0 360.8h1v1h-1zM158.0 358.6h1v1h-1zM143.7 362.4h1v1h-1zM151.2 364.4h1v1h-1zM147.7 360.5h1v1h-1zM144.0 366.5h1v1h-1zM153.9 361.6h1v1h-1zM148.1 358.5h1v1h-1zM143.3 361.2h1v1h-1zM146.0 361.6h1v1h-1zM152.3 361.0h1v1h-1zM141.8 366.7h1v1h-1zM153.9 359.7h1v1h-1zM150.7 363.5h1v1h-1zM146.2 358.8h1v1h-1zM153.8 352.6h1v1h-1zM155.7 358.8h1v1h-1zM150.3 362.5h1v1h-1zM148.3 361.1h1v1h-1zM156.1 356.9h1v1h-1zM154.5 361.1h1v1h-1zM143.2 368.6h1v1h-1zM146.5 362.4h1v1h-1zM146.5 360.8h1v1h-1zM145.6 360.8h1v1h-1zM140.5 369.5h1v1h-1zM151.7 360.8h1v1h-1zM147.9 363.7h1v1h-1zM148.0 365.2h1v1h-1zM154.1 362.8h1v1h-1zM144.9 360.9h1v1h-1zM147.2 364.8h1v1h-1zM148.8 364.0h1v1h-1zM145.5 364.2h1v1h-1zM147.0 365.0h1v1h-1zM151.1 359.7h1v1h-1zM147.5 362.1h1v1h-1zM153.7 358.9h1v1h-1zM144.0 365.4h1v1h-1zM148.4 360.4h1v1h-1zM140.8 365.5h1v1h-1zM146.9 359.7h1v1h-1zM144.2 363.1h1v1h-1zM153.9 359.3h1v1h-1zM151.0 360.9h1v1h-1zM149.9 361.8h1v1h-1zM156.2 359.0h1v1h-1zM154.3 359.5h1v1h-1zM150.9 356.0h1v1h-1zM144.3 366.1h1v1h-1zM140.7 363.0h1v1h-1zM147.4 361.7h1v1h-1zM145.8 360.8h1v1h-1zM144.5 365.8h1v1h-1zM146.1 360.5h1v1h-1zM139.7 366.1h1v1h-1zM154.5 362.9h1v1h-1zM142.1 368.2h1v1h-1zM144.3 366.3h1v1h-1zM150.2 363.0h1v1h-1zM139.8 361.8h1v1h-1zM151.8 364.1h1v1h-1zM151.9 363.8h1v1h-1zM146.0 364.9h1v1h-1zM142.4 366.0h1v1h-1zM145.3 363.2h1v1h-1zM138.8 363.9h1v1h-1zM154.0 362.9h1v1h-1zM147.8 365.4h1v1h-1zM144.0 360.9h1v1h-1zM143.2 366.0h1v1h-1zM150.2 362.0h1v1h-1zM154.6 362.2h1v1h-1zM141.5 365.0h1v1h-1zM144.8 366.0h1v1h-1zM139.2 367.6h1v1h-1zM150.7 363.5h1v1h-1zM148.2 358.6h1v1h-1zM158.2 360.9h1v1h-1zM146.9 362.6h1v1h-1zM145.4 360.2h1v1h-1zM144.1 365.2h1v1h-1zM151.5 357.6h1v1h-1zM139.8 367.1h1v1h-1zM151.0 365.4h1v1h-1zM148.7 360.7h1v1h-1zM145.1 365.4h1v1h-1zM143.2 364.9h1v1h-1zM152.5 362.3h1v1h-1zM156.3 356.1h1v1h-1zM145.4 364.6h1v1h-1zM150.0 361.9h1v1h-1zM155.8 361.5h1v1h-1zM144.6 363.3h1v1h-1zM146.3 365.5h1v1h-1zM141.7 364.9h1v1h-1zM146.8 364.3h1v1h-1zM147.1 365.9h1v1h-1zM145.5 363.5h1v1h-1zM144.0 366.0h1v1h-1zM140.0 365.4h1v1h-1zM141.1 365.8h1v1h-1zM142.9 362.6h1v1h-1zM150.5 363.3h1v1h-1zM145.1 366.2h1v1h-1zM143.5 363.5h1v1h-1zM150.6 363.3h1v1h-1zM150.2 362.6h1v1h-1zM143.9 360.8h1v1h-1zM144.5 364.2h1v1h-1zM150.6 364.6h1v1h-1zM149.2 360.6h1v1h-1zM143.5 359.3h1v1h-1zM148.6 362.5h1v1h-1z" fill="#2ab6dc" fill-opacity="0.85"/>
<path d="M145.2 364.7h1v1h-1zM165.2 357.6h1v1h-1zM149.9 356.9h1v1h-1zM150.2 360.8h1v1h-1zM152.2 362.3h1v1h-1zM145.8 360.5h1v1h-1zM143.2 370.5h1v1h-1zM149.8 357.6h1v1h-1zM143.9 362.0h1v1h-1zM160.7 356.0h1v1h-1zM141.1 362.3h1v1h-1zM149.7 364.5h1v1h-1zM144.9 365.0h1v1h-1zM139.4 360.5h1v1h-1zM163.3 357.2h1v1h-1zM161.7 356.4h1v1h-1zM139.2 363.7h1v1h-1zM151.0 357.7h1v1h-1zM168.1 353.4h1v1h-1zM139.5 359.2h1v1h-1zM160.6 360.4h1v1h-1zM151.6 359.9h1v1h-1zM146.0 358.0h1v1h-1zM150.0 358.4h1v1h-1zM142.7 360.8h1v1h-1zM151.2 360.1h1v1h-1zM162.0 358.7h1v1h-1zM147.3 360.9h1v1h-1zM151.4 356.9h1v1h-1zM159.7 365.1h1v1h-1zM165.9 361.2h1v1h-1zM145.7 362.7h1v1h-1zM152.6 364.7h1v1h-1zM145.9 363.6h1v1h-1zM145.2 361.2h1v1h-1zM147.1 362.2h1v1h-1zM136.7 368.9h1v1h-1zM144.6 360.7h1v1h-1zM151.3 363.5h1v1h-1zM159.8 368.7h1v1h-1zM146.1 364.0h1v1h-1zM149.0 366.2h1v1h-1zM155.5 365.4h1v1h-1zM156.1 362.5h1v1h-1zM149.4 368.3h1v1h-1zM149.9 362.2h1v1h-1zM165.0 359.6h1v1h-1zM147.7 358.9h1v1h-1zM137.5 365.6h1v1h-1zM153.7 360.7h1v1h-1zM148.2 367.8h1v1h-1zM165.2 355.2h1v1h-1zM147.7 361.7h1v1h-1zM156.6 356.0h1v1h-1zM157.6 359.3h1v1h-1zM163.2 356.1h1v1h-1zM140.0 366.0h1v1h-1zM162.5 357.4h1v1h-1zM150.4 358.4h1v1h-1zM149.5 360.0h1v1h-1zM147.9 361.1h1v1h-1zM147.2 359.6h1v1h-1zM147.6 365.9h1v1h-1z" fill="#5cc8e6" fill-opacity="0.5"/>
<rect x="134.5" y="341.6" width="38.1" height="31.1" fill="none" stroke="#444" stroke-width="1"/>
<text x="136.5" y="351.5" font-size="7.7" text-anchor="start" font-weight="normal" fill="#2a2a2a" stroke="#2a2a2a" stroke-width="0.1" >P9</text>
<text x="144.6" y="383.7" font-size="7.7" text-anchor="start" font-weight="normal" fill="#2a2a2a" stroke="#2a2a2a" stroke-width="0.1" >95.6%</text>
<text x="145.2" y="393.9" font-size="7.7" text-anchor="start" font-weight="normal" fill="#2a2a2a" stroke="#2a2a2a" stroke-width="0.1" >SVEC</text>
<text x="200.6" y="329.0" font-size="8.5" text-anchor="start" font-weight="normal" fill="#2a2a2a" stroke="#2a2a2a" stroke-width="0.1" >iv</text>
<rect x="220.8" y="332.4" width="89.3" height="83.8" fill="none" stroke="#4a4a4a" stroke-width="1.15"/>
<text x="201.8" y="343.7" font-size="7.7" fill="#2a2a2a" stroke="#2a2a2a" stroke-width="0.1">10<tspan font-size="5.24" dy="-3.23">5</tspan></text>
<text x="201.8" y="362.3" font-size="7.7" fill="#2a2a2a" stroke="#2a2a2a" stroke-width="0.1">10<tspan font-size="5.24" dy="-3.23">4</tspan></text>
<text x="201.8" y="381.5" font-size="7.7" fill="#2a2a2a" stroke="#2a2a2a" stroke-width="0.1">10<tspan font-size="5.24" dy="-3.23">3</tspan></text>
<text x="201.8" y="400.6" font-size="7.7" fill="#2a2a2a" stroke="#2a2a2a" stroke-width="0.1">10<tspan font-size="5.24" dy="-3.23">2</tspan></text>
<text x="213.3" y="408.8" font-size="7.7" text-anchor="end" font-weight="normal" fill="#2a2a2a" stroke="#2a2a2a" stroke-width="0.1" >0</text>
<text x="213.3" y="420.5" font-size="7.7" text-anchor="end" font-weight="normal" fill="#2a2a2a" stroke="#2a2a2a" stroke-width="0.1" >-139</text>
<text x="220.1" y="431.7" font-size="7.7" text-anchor="middle" font-weight="normal" fill="#2a2a2a" stroke="#2a2a2a" stroke-width="0.1" >-304</text>
<text x="232.7" y="431.7" font-size="7.7" text-anchor="middle" font-weight="normal" fill="#2a2a2a" stroke="#2a2a2a" stroke-width="0.1" >0</text>
<text x="253.8" y="431.7" font-size="7.7" fill="#2a2a2a" stroke="#2a2a2a" stroke-width="0.1">10<tspan font-size="5.24" dy="-3.23">3</tspan></text>
<text x="275.9" y="431.7" font-size="7.7" fill="#2a2a2a" stroke="#2a2a2a" stroke-width="0.1">10<tspan font-size="5.24" dy="-3.23">4</tspan></text>
<text x="296.2" y="431.7" font-size="7.7" fill="#2a2a2a" stroke="#2a2a2a" stroke-width="0.1">10<tspan font-size="5.24" dy="-3.23">5</tspan></text>
<path d="M220.8 340.9h-3.0M220.8 359.5h-3.0M220.8 378.7h-3.0M220.8 397.8h-3.0M220.8 406.0h-3.0M220.8 417.7h-3.0M220.1 416.2v3.0M232.7 416.2v3.0M259.5 416.2v3.0M281.6 416.2v3.0M301.9 416.2v3.0M220.8 353.9h-1.8M220.8 350.6h-1.8M220.8 348.3h-1.8M220.8 346.5h-1.8M220.8 345.0h-1.8M220.8 343.8h-1.8M220.8 342.7h-1.8M220.8 341.8h-1.8M220.8 372.9h-1.8M220.8 369.5h-1.8M220.8 367.1h-1.8M220.8 365.3h-1.8M220.8 363.8h-1.8M220.8 362.5h-1.8M220.8 361.4h-1.8M220.8 360.4h-1.8M220.8 392.1h-1.8M220.8 388.7h-1.8M220.8 386.3h-1.8M220.8 384.4h-1.8M220.8 382.9h-1.8M220.8 381.7h-1.8M220.8 380.6h-1.8M220.8 379.6h-1.8M266.2 416.2v1.8M270.0 416.2v1.8M272.8 416.2v1.8M274.9 416.2v1.8M276.7 416.2v1.8M278.2 416.2v1.8M279.5 416.2v1.8M280.6 416.2v1.8M287.7 416.2v1.8M291.3 416.2v1.8M293.8 416.2v1.8M295.8 416.2v1.8M297.4 416.2v1.8M298.8 416.2v1.8M299.9 416.2v1.8M301.0 416.2v1.8" stroke="#777" stroke-width="0.7" fill="none"/>
<text transform="translate(264.1,441.5) scale(0.66,1)" x="0" y="3.24" font-size="9.0" text-anchor="middle" fill="#222" stroke="#222" stroke-width="0.35">CD31</text>
<text transform="translate(187.4,376.1) rotate(-90) scale(0.66,1)" x="0" y="3.24" font-size="9.0" text-anchor="middle" fill="#222" stroke="#222" stroke-width="0.35">CD34</text>
<text x="213.6" y="423.5" font-size="6.3" fill="#6f90b8">M</text>
<path d="M237.8 407.0h1v1h-1zM257.2 406.5h1v1h-1zM250.9 407.5h1v1h-1zM236.9 406.8h1v1h-1zM230.4 405.8h1v1h-1zM237.9 405.3h1v1h-1zM237.3 403.0h1v1h-1zM254.5 408.0h1v1h-1zM242.8 404.4h1v1h-1zM255.5 406.0h1v1h-1zM257.5 408.9h1v1h-1zM253.7 405.9h1v1h-1zM238.4 407.4h1v1h-1zM237.9 406.2h1v1h-1zM243.1 407.5h1v1h-1zM247.4 406.6h1v1h-1zM253.0 405.8h1v1h-1zM252.0 408.5h1v1h-1zM235.3 406.2h1v1h-1zM249.3 404.6h1v1h-1zM237.4 406.1h1v1h-1zM250.6 407.3h1v1h-1zM225.4 404.9h1v1h-1zM253.0 407.7h1v1h-1zM248.0 407.6h1v1h-1z" fill="#aaa" fill-opacity="0.5"/>
<path d="M278.8 399.4h1v1h-1zM268.1 406.2h1v1h-1zM273.1 399.4h1v1h-1zM264.2 396.7h1v1h-1zM269.0 401.9h1v1h-1zM271.0 404.0h1v1h-1zM272.2 399.9h1v1h-1zM270.4 394.5h1v1h-1zM270.3 391.9h1v1h-1zM268.2 395.1h1v1h-1zM268.9 393.5h1v1h-1zM271.8 399.5h1v1h-1zM272.8 399.2h1v1h-1zM273.1 397.3h1v1h-1zM274.4 397.9h1v1h-1zM275.2 399.2h1v1h-1zM263.7 410.0h1v1h-1zM268.6 407.2h1v1h-1zM270.0 393.5h1v1h-1zM268.1 401.1h1v1h-1zM274.6 395.4h1v1h-1zM273.5 397.1h1v1h-1zM270.2 396.0h1v1h-1zM271.1 393.1h1v1h-1zM275.5 387.4h1v1h-1zM269.3 378.9h1v1h-1zM269.4 399.4h1v1h-1zM274.1 407.0h1v1h-1zM272.4 390.9h1v1h-1zM276.0 401.8h1v1h-1zM272.0 394.9h1v1h-1zM273.5 400.0h1v1h-1zM268.5 391.6h1v1h-1zM267.0 396.1h1v1h-1zM270.6 397.0h1v1h-1zM260.4 379.5h1v1h-1zM272.2 399.5h1v1h-1zM274.3 396.8h1v1h-1zM270.9 378.7h1v1h-1zM269.8 402.9h1v1h-1zM274.8 397.6h1v1h-1zM270.4 399.4h1v1h-1zM274.4 400.6h1v1h-1zM279.0 394.6h1v1h-1zM273.4 389.5h1v1h-1zM274.2 394.4h1v1h-1zM272.5 394.5h1v1h-1zM271.6 415.0h1v1h-1zM271.7 412.1h1v1h-1zM270.9 394.1h1v1h-1zM274.8 394.6h1v1h-1zM264.4 400.3h1v1h-1zM269.6 402.2h1v1h-1zM273.1 392.5h1v1h-1zM267.4 390.1h1v1h-1zM270.2 412.8h1v1h-1zM267.9 406.0h1v1h-1zM272.3 385.8h1v1h-1zM273.9 384.1h1v1h-1zM276.2 391.4h1v1h-1zM272.5 399.5h1v1h-1zM267.9 402.0h1v1h-1zM271.6 395.1h1v1h-1zM272.8 385.3h1v1h-1zM276.0 399.5h1v1h-1zM262.4 402.5h1v1h-1zM272.0 397.8h1v1h-1zM263.6 393.9h1v1h-1zM273.3 402.2h1v1h-1zM272.3 397.3h1v1h-1zM272.5 389.1h1v1h-1zM274.0 398.5h1v1h-1zM272.1 387.7h1v1h-1zM268.1 405.3h1v1h-1zM271.9 401.4h1v1h-1zM275.2 390.0h1v1h-1zM270.2 399.4h1v1h-1zM270.7 407.5h1v1h-1zM266.0 381.1h1v1h-1zM275.0 396.7h1v1h-1zM268.7 410.6h1v1h-1zM267.8 385.7h1v1h-1zM268.9 396.5h1v1h-1zM267.3 386.7h1v1h-1zM269.6 397.2h1v1h-1zM275.5 379.1h1v1h-1zM273.6 385.1h1v1h-1zM276.0 393.6h1v1h-1zM276.3 398.8h1v1h-1zM267.2 400.7h1v1h-1zM272.4 401.1h1v1h-1zM276.3 406.7h1v1h-1zM279.4 403.2h1v1h-1zM265.2 403.5h1v1h-1zM265.2 390.1h1v1h-1zM272.4 396.5h1v1h-1zM266.8 415.5h1v1h-1zM272.1 404.2h1v1h-1zM267.6 403.5h1v1h-1zM261.9 405.5h1v1h-1zM270.5 394.6h1v1h-1zM271.1 413.1h1v1h-1zM273.0 394.8h1v1h-1zM274.2 397.1h1v1h-1zM271.3 414.8h1v1h-1zM269.7 381.5h1v1h-1zM268.1 400.6h1v1h-1zM264.3 384.2h1v1h-1zM268.9 392.6h1v1h-1zM274.4 397.0h1v1h-1zM273.1 395.0h1v1h-1zM278.4 399.1h1v1h-1zM270.0 391.7h1v1h-1zM263.8 396.9h1v1h-1zM273.7 388.4h1v1h-1zM274.6 394.7h1v1h-1zM266.1 386.8h1v1h-1zM264.4 402.9h1v1h-1zM271.2 387.6h1v1h-1zM273.3 403.2h1v1h-1zM266.3 394.5h1v1h-1zM269.3 395.4h1v1h-1zM267.6 407.1h1v1h-1zM266.1 398.6h1v1h-1zM265.6 382.8h1v1h-1zM271.1 401.7h1v1h-1zM268.0 399.9h1v1h-1zM260.6 394.6h1v1h-1zM277.2 386.7h1v1h-1zM267.0 398.4h1v1h-1zM270.1 395.3h1v1h-1zM266.2 413.6h1v1h-1zM272.0 394.3h1v1h-1zM264.8 413.1h1v1h-1zM270.9 408.7h1v1h-1zM269.8 392.9h1v1h-1zM274.1 391.3h1v1h-1zM266.4 408.2h1v1h-1zM268.1 396.7h1v1h-1zM269.7 399.0h1v1h-1zM278.6 395.7h1v1h-1zM264.9 388.2h1v1h-1zM271.7 394.8h1v1h-1zM268.1 390.2h1v1h-1zM271.7 385.6h1v1h-1zM273.0 395.4h1v1h-1zM271.1 411.9h1v1h-1zM271.6 410.6h1v1h-1zM271.6 397.3h1v1h-1zM268.3 398.8h1v1h-1zM269.7 401.8h1v1h-1zM264.2 408.6h1v1h-1zM269.2 400.3h1v1h-1zM267.6 394.0h1v1h-1zM269.6 394.7h1v1h-1zM273.4 406.8h1v1h-1zM272.3 392.8h1v1h-1zM274.8 381.5h1v1h-1zM261.4 404.2h1v1h-1zM272.2 397.2h1v1h-1zM270.4 398.9h1v1h-1zM270.2 407.6h1v1h-1zM265.5 398.3h1v1h-1zM272.6 387.2h1v1h-1zM274.9 382.1h1v1h-1zM274.5 397.4h1v1h-1zM270.2 388.5h1v1h-1zM273.0 400.1h1v1h-1zM274.0 387.6h1v1h-1zM277.5 395.0h1v1h-1zM275.2 386.1h1v1h-1zM271.1 394.9h1v1h-1zM270.9 394.2h1v1h-1zM271.2 402.5h1v1h-1zM271.4 408.5h1v1h-1zM268.6 396.3h1v1h-1zM273.5 390.9h1v1h-1zM267.9 413.4h1v1h-1zM267.5 400.7h1v1h-1zM271.9 402.6h1v1h-1zM268.3 402.6h1v1h-1zM269.6 409.4h1v1h-1zM262.6 405.8h1v1h-1zM273.6 403.2h1v1h-1zM270.5 403.9h1v1h-1zM270.0 390.9h1v1h-1zM272.3 392.9h1v1h-1zM271.3 396.9h1v1h-1zM267.8 398.5h1v1h-1zM278.2 397.9h1v1h-1zM268.8 400.3h1v1h-1zM274.2 398.0h1v1h-1zM277.5 394.4h1v1h-1zM268.1 384.8h1v1h-1zM270.9 404.5h1v1h-1zM267.4 402.5h1v1h-1zM274.5 390.8h1v1h-1zM269.2 401.8h1v1h-1zM266.3 400.9h1v1h-1zM275.5 398.4h1v1h-1zM274.0 383.1h1v1h-1zM267.1 388.2h1v1h-1zM275.0 393.0h1v1h-1zM271.3 410.7h1v1h-1zM280.9 390.9h1v1h-1zM277.1 395.0h1v1h-1zM268.4 388.9h1v1h-1zM269.5 393.9h1v1h-1zM267.2 400.5h1v1h-1zM271.0 381.2h1v1h-1zM270.7 375.1h1v1h-1zM273.3 403.1h1v1h-1zM270.8 398.1h1v1h-1zM264.9 393.0h1v1h-1zM267.4 405.5h1v1h-1zM275.9 405.5h1v1h-1zM274.9 381.1h1v1h-1zM269.9 396.5h1v1h-1zM270.0 406.6h1v1h-1zM269.9 392.4h1v1h-1zM270.6 395.3h1v1h-1zM264.1 405.4h1v1h-1zM273.9 395.7h1v1h-1zM268.0 388.2h1v1h-1zM271.1 392.3h1v1h-1zM260.9 387.2h1v1h-1zM271.4 402.2h1v1h-1zM275.6 384.0h1v1h-1zM262.0 405.8h1v1h-1zM276.3 384.6h1v1h-1zM272.3 398.2h1v1h-1zM267.7 386.1h1v1h-1zM264.4 395.3h1v1h-1zM274.9 406.0h1v1h-1zM271.5 406.8h1v1h-1zM272.8 408.2h1v1h-1zM269.5 397.1h1v1h-1zM267.5 398.6h1v1h-1zM273.8 399.6h1v1h-1zM266.9 402.7h1v1h-1zM273.9 394.6h1v1h-1zM264.1 406.6h1v1h-1zM267.0 400.4h1v1h-1zM265.0 406.9h1v1h-1zM275.5 401.6h1v1h-1zM263.8 403.2h1v1h-1zM266.1 392.0h1v1h-1zM273.0 394.5h1v1h-1zM271.4 387.5h1v1h-1zM278.9 395.4h1v1h-1zM277.5 396.4h1v1h-1zM272.9 404.5h1v1h-1zM273.1 387.7h1v1h-1zM267.1 396.8h1v1h-1zM269.2 407.9h1v1h-1zM269.8 406.1h1v1h-1zM265.2 377.6h1v1h-1zM266.9 395.7h1v1h-1zM267.3 409.6h1v1h-1zM274.6 378.4h1v1h-1zM272.1 403.9h1v1h-1zM269.2 390.5h1v1h-1zM269.4 394.1h1v1h-1zM271.6 399.6h1v1h-1zM267.8 382.9h1v1h-1zM269.5 399.3h1v1h-1zM263.9 392.6h1v1h-1zM273.1 391.8h1v1h-1zM274.2 403.4h1v1h-1zM272.3 400.5h1v1h-1zM271.9 402.2h1v1h-1zM278.3 397.4h1v1h-1zM271.3 392.0h1v1h-1zM265.4 399.8h1v1h-1zM266.5 409.9h1v1h-1zM273.2 399.3h1v1h-1zM274.6 404.9h1v1h-1zM273.4 396.0h1v1h-1zM271.2 384.6h1v1h-1zM264.8 402.4h1v1h-1zM267.8 402.1h1v1h-1zM263.6 399.9h1v1h-1zM269.0 388.8h1v1h-1zM265.3 388.7h1v1h-1zM270.9 395.9h1v1h-1zM269.8 398.5h1v1h-1zM263.0 388.0h1v1h-1zM273.3 389.2h1v1h-1zM273.4 402.2h1v1h-1zM265.2 406.0h1v1h-1zM271.0 393.2h1v1h-1zM273.2 392.1h1v1h-1zM269.4 391.9h1v1h-1z" fill="#c040d8" fill-opacity="0.85"/>
<rect x="259.4" y="374.3" width="44.1" height="41.9" fill="none" stroke="#444" stroke-width="1"/>
<text x="282.3" y="362.2" font-size="7.7" text-anchor="start" font-weight="normal" fill="#2a2a2a" stroke="#2a2a2a" stroke-width="0.1" >95.8%</text>
<text x="290.3" y="373.0" font-size="7.7" text-anchor="start" font-weight="normal" fill="#2a2a2a" stroke="#2a2a2a" stroke-width="0.1" >LC</text>
<text x="292.5" y="385.2" font-size="7.7" text-anchor="start" font-weight="normal" fill="#2a2a2a" stroke="#2a2a2a" stroke-width="0.1" >P8</text>
<text x="354.0" y="17.2" font-size="10.5" text-anchor="start" font-weight="bold" fill="#111" stroke="#111" stroke-width="0.1" >C</text>
<text x="452.4" y="23.6" font-size="10.0" text-anchor="middle" font-weight="normal" fill="#222" stroke="#222" stroke-width="0.1" >DAPI-CD45-CD3-</text>
<rect x="396.9" y="32.8" width="110.6" height="98.0" fill="none" stroke="#4a4a4a" stroke-width="1.15"/>
<text x="378.4" y="45.0" font-size="7.7" fill="#2a2a2a" stroke="#2a2a2a" stroke-width="0.1">10<tspan font-size="5.24" dy="-3.23">5</tspan></text>
<text x="378.4" y="66.8" font-size="7.7" fill="#2a2a2a" stroke="#2a2a2a" stroke-width="0.1">10<tspan font-size="5.24" dy="-3.23">4</tspan></text>
<text x="378.4" y="90.0" font-size="7.7" fill="#2a2a2a" stroke="#2a2a2a" stroke-width="0.1">10<tspan font-size="5.24" dy="-3.23">3</tspan></text>
<text x="389.9" y="118.8" font-size="7.7" text-anchor="end" font-weight="normal" fill="#2a2a2a" stroke="#2a2a2a" stroke-width="0.1" >0</text>
<text x="389.9" y="134.3" font-size="7.7" text-anchor="end" font-weight="normal" fill="#2a2a2a" stroke="#2a2a2a" stroke-width="0.1" >-304</text>
<text x="396.8" y="146.0" font-size="7.7" text-anchor="middle" font-weight="normal" fill="#2a2a2a" stroke="#2a2a2a" stroke-width="0.1" >-807</text>
<text x="419.3" y="146.0" font-size="7.7" text-anchor="middle" font-weight="normal" fill="#2a2a2a" stroke="#2a2a2a" stroke-width="0.1" >0</text>
<text x="438.5" y="146.0" font-size="7.7" fill="#2a2a2a" stroke="#2a2a2a" stroke-width="0.1">10<tspan font-size="5.24" dy="-3.23">3</tspan></text>
<text x="468.3" y="146.0" font-size="7.7" fill="#2a2a2a" stroke="#2a2a2a" stroke-width="0.1">10<tspan font-size="5.24" dy="-3.23">4</tspan></text>
<text x="491.7" y="146.0" font-size="7.7" fill="#2a2a2a" stroke="#2a2a2a" stroke-width="0.1">10<tspan font-size="5.24" dy="-3.23">5</tspan></text>
<path d="M396.9 42.2h-3.0M396.9 64.0h-3.0M396.9 87.2h-3.0M396.9 116.0h-3.0M396.9 131.5h-3.0M396.8 130.8v3.0M419.3 130.8v3.0M444.2 130.8v3.0M474.0 130.8v3.0M497.4 130.8v3.0M396.9 57.4h-1.8M396.9 53.6h-1.8M396.9 50.9h-1.8M396.9 48.8h-1.8M396.9 47.0h-1.8M396.9 45.6h-1.8M396.9 44.3h-1.8M396.9 43.2h-1.8M396.9 80.2h-1.8M396.9 76.1h-1.8M396.9 73.2h-1.8M396.9 71.0h-1.8M396.9 69.1h-1.8M396.9 67.6h-1.8M396.9 66.2h-1.8M396.9 65.1h-1.8M453.2 130.8v1.8M458.4 130.8v1.8M462.1 130.8v1.8M465.0 130.8v1.8M467.4 130.8v1.8M469.4 130.8v1.8M471.1 130.8v1.8M472.6 130.8v1.8M481.0 130.8v1.8M485.2 130.8v1.8M488.1 130.8v1.8M490.4 130.8v1.8M492.2 130.8v1.8M493.8 130.8v1.8M495.1 130.8v1.8M496.3 130.8v1.8" stroke="#777" stroke-width="0.7" fill="none"/>
<text transform="translate(450.2,156.6) scale(0.66,1)" x="0" y="3.24" font-size="9.0" text-anchor="middle" fill="#222" stroke="#222" stroke-width="0.35">CD8a</text>
<text transform="translate(365.3,84.5) rotate(-90) scale(0.66,1)" x="0" y="3.24" font-size="9.0" text-anchor="middle" fill="#222" stroke="#222" stroke-width="0.35">CD31</text>
<text x="390.3" y="137.3" font-size="6.3" fill="#6f90b8">M</text>
<path d="M414.2 101.9h1v1h-1zM419.4 115.8h1v1h-1zM416.5 130.4h1v1h-1zM423.2 114.7h1v1h-1zM418.3 123.8h1v1h-1zM421.8 104.3h1v1h-1zM417.4 90.5h1v1h-1zM426.8 91.9h1v1h-1zM416.8 90.7h1v1h-1zM421.1 98.8h1v1h-1zM429.2 101.0h1v1h-1zM421.4 103.0h1v1h-1zM417.8 116.5h1v1h-1zM422.7 120.3h1v1h-1zM423.9 121.1h1v1h-1zM423.5 120.5h1v1h-1zM414.3 124.6h1v1h-1zM421.4 119.2h1v1h-1zM413.7 108.6h1v1h-1zM426.8 106.7h1v1h-1zM420.9 93.3h1v1h-1zM419.2 90.5h1v1h-1zM422.8 124.7h1v1h-1zM422.2 96.0h1v1h-1zM416.8 125.0h1v1h-1zM425.9 106.2h1v1h-1zM419.9 92.4h1v1h-1zM414.9 123.6h1v1h-1zM425.2 118.9h1v1h-1zM425.7 130.4h1v1h-1zM424.7 111.9h1v1h-1zM422.4 127.7h1v1h-1zM417.8 110.5h1v1h-1zM423.7 100.6h1v1h-1zM426.7 106.2h1v1h-1zM423.3 116.7h1v1h-1zM425.9 126.0h1v1h-1zM418.1 123.1h1v1h-1zM424.0 127.7h1v1h-1zM423.7 111.8h1v1h-1zM415.8 108.7h1v1h-1zM415.4 111.3h1v1h-1zM418.3 127.8h1v1h-1zM420.9 104.8h1v1h-1zM422.1 92.4h1v1h-1zM419.9 105.9h1v1h-1zM420.5 116.3h1v1h-1zM420.3 123.7h1v1h-1zM421.0 128.2h1v1h-1zM422.6 117.8h1v1h-1zM422.3 122.9h1v1h-1zM420.5 122.9h1v1h-1zM421.5 122.8h1v1h-1zM419.2 114.3h1v1h-1zM423.3 128.3h1v1h-1zM419.0 126.1h1v1h-1zM426.0 90.3h1v1h-1zM420.6 94.9h1v1h-1zM421.6 130.2h1v1h-1zM418.2 117.0h1v1h-1zM419.5 95.7h1v1h-1zM421.2 126.9h1v1h-1zM420.7 93.6h1v1h-1zM418.6 111.8h1v1h-1zM416.9 105.7h1v1h-1zM420.8 101.7h1v1h-1zM421.2 99.7h1v1h-1zM422.5 93.5h1v1h-1zM424.8 105.3h1v1h-1zM419.7 94.1h1v1h-1zM414.1 115.3h1v1h-1zM420.2 103.0h1v1h-1zM414.6 121.1h1v1h-1zM416.5 128.0h1v1h-1zM424.1 125.9h1v1h-1zM422.5 120.0h1v1h-1zM418.6 121.6h1v1h-1zM418.6 93.7h1v1h-1zM420.4 129.4h1v1h-1zM414.9 113.3h1v1h-1zM422.3 112.0h1v1h-1zM419.5 117.3h1v1h-1zM426.7 97.6h1v1h-1zM417.2 109.0h1v1h-1zM424.0 94.9h1v1h-1zM418.4 127.2h1v1h-1zM424.0 110.2h1v1h-1zM417.5 95.4h1v1h-1zM423.1 129.3h1v1h-1zM419.2 113.5h1v1h-1zM418.0 120.6h1v1h-1zM420.2 122.5h1v1h-1zM422.2 118.2h1v1h-1zM422.0 108.0h1v1h-1zM425.9 101.4h1v1h-1zM423.4 92.1h1v1h-1zM412.0 115.3h1v1h-1zM419.4 94.5h1v1h-1zM414.1 105.0h1v1h-1zM419.4 126.0h1v1h-1zM422.7 126.6h1v1h-1zM416.3 123.3h1v1h-1zM416.8 97.8h1v1h-1zM421.2 128.1h1v1h-1zM419.7 95.7h1v1h-1zM425.9 127.2h1v1h-1zM421.7 120.3h1v1h-1zM422.4 129.3h1v1h-1zM426.4 129.9h1v1h-1zM419.0 111.3h1v1h-1zM420.7 102.6h1v1h-1zM417.4 127.2h1v1h-1zM421.5 102.7h1v1h-1zM424.1 103.5h1v1h-1zM425.2 113.0h1v1h-1zM420.6 95.7h1v1h-1zM418.4 108.5h1v1h-1zM418.2 95.6h1v1h-1zM416.1 108.4h1v1h-1zM421.1 126.7h1v1h-1zM425.2 127.3h1v1h-1zM412.9 128.8h1v1h-1zM413.5 119.4h1v1h-1zM425.3 120.2h1v1h-1zM415.4 107.3h1v1h-1zM421.8 126.2h1v1h-1zM416.6 95.4h1v1h-1zM423.3 96.7h1v1h-1zM423.3 94.8h1v1h-1zM421.3 106.5h1v1h-1zM423.4 92.4h1v1h-1zM420.9 118.5h1v1h-1zM422.6 97.4h1v1h-1zM426.7 117.9h1v1h-1zM424.3 112.8h1v1h-1zM418.5 118.0h1v1h-1zM418.1 118.4h1v1h-1zM419.9 121.8h1v1h-1zM420.0 109.4h1v1h-1zM420.9 113.1h1v1h-1zM418.7 100.2h1v1h-1zM422.9 110.3h1v1h-1zM420.8 93.6h1v1h-1zM421.9 128.7h1v1h-1zM420.7 127.6h1v1h-1zM422.7 93.0h1v1h-1zM416.8 90.4h1v1h-1zM425.9 106.0h1v1h-1zM421.9 111.3h1v1h-1zM422.2 109.4h1v1h-1zM422.7 103.7h1v1h-1zM424.3 115.2h1v1h-1zM423.2 106.2h1v1h-1zM421.5 106.4h1v1h-1zM420.1 91.3h1v1h-1zM415.3 114.0h1v1h-1zM421.4 93.4h1v1h-1zM419.7 124.8h1v1h-1zM419.7 109.3h1v1h-1zM428.7 104.4h1v1h-1zM414.6 116.8h1v1h-1zM420.9 125.9h1v1h-1zM424.7 96.8h1v1h-1zM423.9 106.3h1v1h-1zM424.8 129.4h1v1h-1zM416.6 125.0h1v1h-1zM417.6 105.8h1v1h-1zM422.8 104.7h1v1h-1zM419.8 123.0h1v1h-1zM426.4 93.4h1v1h-1zM421.5 94.8h1v1h-1zM421.4 113.1h1v1h-1zM422.2 113.0h1v1h-1zM419.9 113.1h1v1h-1zM421.2 121.0h1v1h-1zM418.5 125.7h1v1h-1zM420.6 106.2h1v1h-1zM419.2 103.2h1v1h-1zM421.6 124.4h1v1h-1zM416.1 99.9h1v1h-1zM415.8 125.4h1v1h-1zM422.3 118.6h1v1h-1zM421.5 124.3h1v1h-1zM417.6 115.8h1v1h-1zM420.0 94.3h1v1h-1zM417.3 118.9h1v1h-1zM427.5 110.1h1v1h-1zM415.6 97.4h1v1h-1zM426.4 94.1h1v1h-1zM418.1 100.6h1v1h-1zM422.2 95.1h1v1h-1zM419.9 95.5h1v1h-1zM419.5 124.2h1v1h-1zM423.9 128.5h1v1h-1zM423.5 130.3h1v1h-1zM419.8 112.7h1v1h-1zM417.8 112.9h1v1h-1zM427.6 92.4h1v1h-1zM425.4 94.8h1v1h-1zM421.3 121.2h1v1h-1zM419.8 113.1h1v1h-1zM421.8 113.0h1v1h-1zM421.1 120.5h1v1h-1zM424.7 122.9h1v1h-1zM417.6 118.8h1v1h-1zM420.9 90.4h1v1h-1zM418.2 112.0h1v1h-1zM425.1 123.8h1v1h-1zM426.7 123.2h1v1h-1zM420.5 128.4h1v1h-1zM422.6 111.0h1v1h-1zM425.4 111.1h1v1h-1zM419.8 91.0h1v1h-1zM417.7 110.8h1v1h-1zM424.2 112.8h1v1h-1zM422.5 127.2h1v1h-1zM420.1 125.8h1v1h-1zM425.6 92.5h1v1h-1zM421.6 95.7h1v1h-1zM414.9 105.5h1v1h-1zM421.9 121.6h1v1h-1zM420.6 96.7h1v1h-1zM427.0 121.3h1v1h-1zM420.7 114.0h1v1h-1zM420.1 125.5h1v1h-1zM422.2 103.9h1v1h-1zM421.6 106.3h1v1h-1zM416.2 92.4h1v1h-1zM421.2 111.0h1v1h-1zM419.7 121.4h1v1h-1zM425.4 110.8h1v1h-1zM428.7 111.1h1v1h-1zM417.1 127.1h1v1h-1zM417.6 121.1h1v1h-1zM418.0 102.7h1v1h-1zM418.6 128.3h1v1h-1zM418.5 119.4h1v1h-1zM421.0 102.2h1v1h-1zM424.4 98.6h1v1h-1zM416.5 117.4h1v1h-1zM415.7 110.5h1v1h-1zM414.7 114.3h1v1h-1zM424.5 95.2h1v1h-1zM425.2 121.0h1v1h-1zM415.7 124.9h1v1h-1zM415.4 107.0h1v1h-1zM421.2 102.3h1v1h-1zM424.4 129.5h1v1h-1zM424.2 129.5h1v1h-1zM421.4 95.1h1v1h-1zM423.1 111.9h1v1h-1zM421.9 107.7h1v1h-1zM419.0 101.3h1v1h-1zM427.1 111.0h1v1h-1zM420.8 117.1h1v1h-1zM417.1 104.8h1v1h-1zM419.3 102.5h1v1h-1zM415.7 125.0h1v1h-1zM420.9 116.6h1v1h-1zM424.4 102.4h1v1h-1zM416.6 96.3h1v1h-1zM424.5 105.6h1v1h-1zM427.7 128.0h1v1h-1zM422.1 123.6h1v1h-1zM417.0 98.5h1v1h-1zM418.0 114.5h1v1h-1zM419.7 90.2h1v1h-1zM416.6 126.7h1v1h-1zM416.7 128.2h1v1h-1zM420.0 98.8h1v1h-1zM420.2 103.9h1v1h-1zM422.8 102.2h1v1h-1zM416.9 97.5h1v1h-1zM427.0 117.7h1v1h-1zM424.3 105.3h1v1h-1zM423.8 90.2h1v1h-1zM418.7 98.9h1v1h-1zM426.6 116.8h1v1h-1zM419.7 118.4h1v1h-1zM426.8 90.7h1v1h-1zM424.4 112.3h1v1h-1zM417.9 115.9h1v1h-1zM419.3 115.8h1v1h-1zM427.0 116.4h1v1h-1zM424.1 121.6h1v1h-1zM420.3 103.6h1v1h-1zM421.5 124.5h1v1h-1zM421.5 107.9h1v1h-1zM418.3 92.4h1v1h-1zM420.2 116.4h1v1h-1zM418.6 103.9h1v1h-1zM419.4 115.7h1v1h-1zM422.4 105.1h1v1h-1zM417.7 110.2h1v1h-1zM423.2 112.5h1v1h-1zM421.2 118.7h1v1h-1zM423.3 102.0h1v1h-1zM423.8 117.1h1v1h-1zM424.9 99.4h1v1h-1zM422.9 122.0h1v1h-1zM423.2 99.4h1v1h-1zM420.2 92.9h1v1h-1zM422.7 91.6h1v1h-1zM417.8 114.2h1v1h-1zM420.0 103.1h1v1h-1zM423.3 113.3h1v1h-1zM420.6 102.6h1v1h-1zM422.3 107.8h1v1h-1zM417.3 125.2h1v1h-1zM425.3 127.4h1v1h-1zM418.9 91.7h1v1h-1zM422.1 128.4h1v1h-1zM420.7 110.4h1v1h-1zM423.9 120.0h1v1h-1zM419.5 127.6h1v1h-1zM417.5 97.6h1v1h-1zM414.5 105.5h1v1h-1zM419.8 125.9h1v1h-1zM416.9 111.0h1v1h-1zM422.6 126.3h1v1h-1zM425.6 123.9h1v1h-1zM413.5 130.4h1v1h-1zM416.5 116.8h1v1h-1zM421.8 92.7h1v1h-1zM424.9 126.6h1v1h-1zM421.8 97.5h1v1h-1zM421.9 96.3h1v1h-1zM422.5 104.9h1v1h-1zM422.7 98.4h1v1h-1zM426.3 95.6h1v1h-1zM422.8 115.8h1v1h-1zM416.7 126.9h1v1h-1zM419.2 100.7h1v1h-1zM421.5 105.1h1v1h-1zM418.1 116.0h1v1h-1zM419.9 102.1h1v1h-1zM419.1 110.0h1v1h-1zM418.5 127.0h1v1h-1zM423.1 94.7h1v1h-1zM419.5 111.7h1v1h-1zM417.2 98.6h1v1h-1zM418.4 121.3h1v1h-1zM420.9 98.4h1v1h-1zM427.8 122.8h1v1h-1zM421.7 106.3h1v1h-1zM425.7 127.7h1v1h-1zM422.5 104.7h1v1h-1zM413.7 110.0h1v1h-1zM422.1 94.3h1v1h-1zM418.0 101.2h1v1h-1zM416.3 106.8h1v1h-1zM417.2 126.2h1v1h-1zM426.7 113.8h1v1h-1zM415.6 122.8h1v1h-1zM418.8 124.6h1v1h-1zM424.7 93.7h1v1h-1zM423.0 102.8h1v1h-1zM415.1 123.7h1v1h-1zM420.4 120.6h1v1h-1zM419.1 112.8h1v1h-1zM420.2 106.4h1v1h-1zM423.3 110.2h1v1h-1zM418.9 90.6h1v1h-1zM419.7 95.2h1v1h-1zM425.7 104.4h1v1h-1zM414.7 95.7h1v1h-1zM419.6 99.3h1v1h-1zM422.4 122.7h1v1h-1zM416.7 121.1h1v1h-1zM418.7 119.6h1v1h-1zM416.4 112.9h1v1h-1zM421.3 127.3h1v1h-1zM418.7 99.3h1v1h-1zM423.4 115.1h1v1h-1zM424.2 107.0h1v1h-1zM421.0 128.1h1v1h-1zM419.5 103.9h1v1h-1zM421.7 99.6h1v1h-1zM421.0 121.1h1v1h-1zM416.8 122.8h1v1h-1zM424.4 119.1h1v1h-1zM421.6 121.7h1v1h-1zM423.4 97.8h1v1h-1zM416.3 114.5h1v1h-1zM423.7 111.8h1v1h-1zM427.8 126.8h1v1h-1zM422.8 106.1h1v1h-1zM416.0 100.0h1v1h-1zM420.9 102.5h1v1h-1zM420.6 110.7h1v1h-1zM421.5 129.8h1v1h-1zM420.0 118.3h1v1h-1zM422.4 119.2h1v1h-1zM419.2 108.9h1v1h-1zM421.6 106.1h1v1h-1zM418.5 127.7h1v1h-1zM421.1 108.2h1v1h-1zM424.1 95.1h1v1h-1zM419.2 121.6h1v1h-1zM423.0 98.2h1v1h-1zM417.8 105.8h1v1h-1zM419.6 114.8h1v1h-1zM420.0 123.7h1v1h-1zM424.9 90.3h1v1h-1zM418.2 116.4h1v1h-1zM424.8 95.5h1v1h-1zM415.9 115.6h1v1h-1zM420.3 114.5h1v1h-1zM423.8 110.9h1v1h-1zM423.1 107.3h1v1h-1zM417.4 111.9h1v1h-1zM416.7 128.8h1v1h-1zM423.7 104.3h1v1h-1zM416.6 109.1h1v1h-1zM422.7 96.0h1v1h-1zM419.0 105.7h1v1h-1zM420.7 92.1h1v1h-1zM428.5 126.8h1v1h-1zM425.9 104.0h1v1h-1zM423.6 128.0h1v1h-1zM416.2 95.5h1v1h-1zM421.8 116.8h1v1h-1zM421.0 114.4h1v1h-1zM420.4 116.8h1v1h-1zM425.2 122.2h1v1h-1zM415.0 93.0h1v1h-1zM421.8 119.9h1v1h-1zM421.2 91.1h1v1h-1zM418.3 102.2h1v1h-1zM426.5 124.3h1v1h-1zM416.5 113.1h1v1h-1zM420.9 127.7h1v1h-1zM421.0 124.9h1v1h-1zM413.5 107.1h1v1h-1zM416.0 101.4h1v1h-1zM417.5 98.3h1v1h-1zM423.4 91.7h1v1h-1zM423.9 119.0h1v1h-1zM422.8 122.6h1v1h-1zM421.6 91.9h1v1h-1zM413.4 109.9h1v1h-1zM421.5 123.6h1v1h-1zM419.1 115.9h1v1h-1zM424.7 106.9h1v1h-1zM425.3 128.5h1v1h-1zM428.2 107.1h1v1h-1zM423.1 102.6h1v1h-1zM423.5 110.1h1v1h-1zM417.3 104.0h1v1h-1zM421.0 105.9h1v1h-1zM416.6 110.1h1v1h-1zM423.8 93.1h1v1h-1zM416.8 114.4h1v1h-1zM420.0 113.6h1v1h-1zM418.0 118.8h1v1h-1zM419.2 99.8h1v1h-1zM422.3 91.7h1v1h-1zM418.9 118.7h1v1h-1zM421.5 104.9h1v1h-1zM417.4 114.2h1v1h-1zM425.4 101.0h1v1h-1zM418.6 104.1h1v1h-1zM424.1 100.7h1v1h-1zM427.9 110.0h1v1h-1zM412.6 116.2h1v1h-1zM417.4 99.5h1v1h-1zM420.1 102.8h1v1h-1zM424.7 108.7h1v1h-1zM419.1 118.2h1v1h-1zM422.0 105.0h1v1h-1zM418.3 92.5h1v1h-1zM422.6 111.0h1v1h-1zM416.7 108.4h1v1h-1zM423.5 130.4h1v1h-1zM410.7 113.5h1v1h-1zM414.4 91.9h1v1h-1zM426.8 116.1h1v1h-1zM421.3 93.4h1v1h-1zM417.7 105.1h1v1h-1zM428.1 91.4h1v1h-1zM424.3 114.3h1v1h-1zM424.5 97.0h1v1h-1zM419.3 128.2h1v1h-1zM422.8 97.8h1v1h-1zM422.4 129.2h1v1h-1zM415.2 127.0h1v1h-1zM422.7 111.0h1v1h-1zM420.1 108.8h1v1h-1zM425.1 105.8h1v1h-1zM425.1 120.3h1v1h-1zM418.6 97.6h1v1h-1zM418.7 104.4h1v1h-1zM421.4 92.4h1v1h-1zM422.9 107.3h1v1h-1zM419.4 97.7h1v1h-1zM420.3 127.2h1v1h-1zM422.8 108.2h1v1h-1zM422.2 99.0h1v1h-1zM424.6 101.1h1v1h-1zM421.5 97.2h1v1h-1zM417.7 93.6h1v1h-1zM414.8 92.2h1v1h-1zM423.5 119.0h1v1h-1zM419.6 94.2h1v1h-1zM419.6 124.1h1v1h-1zM419.8 129.2h1v1h-1zM415.4 127.0h1v1h-1zM419.4 97.2h1v1h-1zM412.0 122.1h1v1h-1zM419.4 114.2h1v1h-1zM417.7 128.3h1v1h-1zM426.9 101.9h1v1h-1zM422.2 114.5h1v1h-1zM420.0 115.0h1v1h-1zM421.3 97.7h1v1h-1zM423.2 114.3h1v1h-1zM418.2 119.4h1v1h-1zM419.9 122.7h1v1h-1zM419.5 124.7h1v1h-1zM429.1 91.1h1v1h-1zM421.0 120.7h1v1h-1zM414.1 103.1h1v1h-1zM423.4 121.0h1v1h-1zM429.5 96.1h1v1h-1zM417.5 105.2h1v1h-1zM432.5 106.5h1v1h-1zM420.5 118.2h1v1h-1zM424.1 114.9h1v1h-1zM418.8 123.0h1v1h-1zM419.8 90.2h1v1h-1zM416.5 101.5h1v1h-1zM417.1 119.8h1v1h-1zM413.5 99.7h1v1h-1zM424.6 124.2h1v1h-1zM416.8 102.6h1v1h-1zM422.0 117.0h1v1h-1zM421.8 92.2h1v1h-1zM418.5 127.1h1v1h-1zM420.9 94.6h1v1h-1zM420.4 106.7h1v1h-1zM419.0 105.8h1v1h-1zM420.9 102.3h1v1h-1zM420.9 111.7h1v1h-1zM417.2 111.2h1v1h-1zM416.3 122.2h1v1h-1zM417.8 129.4h1v1h-1zM421.1 122.4h1v1h-1zM425.4 119.3h1v1h-1zM425.7 98.0h1v1h-1zM421.8 98.6h1v1h-1zM423.9 90.5h1v1h-1zM421.1 93.8h1v1h-1zM424.5 121.7h1v1h-1zM421.1 92.3h1v1h-1zM422.0 100.9h1v1h-1zM419.7 105.5h1v1h-1zM420.7 96.4h1v1h-1zM427.2 103.8h1v1h-1zM416.6 100.2h1v1h-1zM420.7 106.6h1v1h-1zM418.7 97.2h1v1h-1zM424.0 91.0h1v1h-1zM426.9 126.8h1v1h-1zM419.6 120.1h1v1h-1zM411.2 121.2h1v1h-1zM422.8 100.3h1v1h-1zM422.8 128.1h1v1h-1zM414.9 123.7h1v1h-1zM419.9 106.5h1v1h-1zM420.5 101.7h1v1h-1zM412.8 122.1h1v1h-1zM423.0 90.8h1v1h-1zM422.2 113.2h1v1h-1zM421.5 125.1h1v1h-1zM417.1 127.0h1v1h-1zM418.3 127.4h1v1h-1zM418.5 107.4h1v1h-1zM422.3 90.6h1v1h-1zM417.3 104.2h1v1h-1zM425.7 100.9h1v1h-1zM422.0 113.4h1v1h-1zM413.2 119.4h1v1h-1zM426.4 129.7h1v1h-1zM421.2 102.9h1v1h-1zM418.8 104.7h1v1h-1zM421.0 93.5h1v1h-1zM414.4 123.7h1v1h-1zM421.3 110.2h1v1h-1zM412.3 99.4h1v1h-1zM417.2 110.4h1v1h-1zM425.3 109.6h1v1h-1zM425.0 123.1h1v1h-1zM419.5 99.3h1v1h-1zM417.4 110.5h1v1h-1zM423.9 108.0h1v1h-1zM420.5 94.1h1v1h-1zM421.4 95.6h1v1h-1zM422.8 99.8h1v1h-1zM417.0 107.6h1v1h-1zM423.4 112.5h1v1h-1z" fill="#e81818" fill-opacity="0.85"/>
<path d="M425.2 121.5h1v1h-1zM427.6 88.9h1v1h-1zM421.7 107.0h1v1h-1zM451.9 71.1h1v1h-1zM422.2 117.8h1v1h-1zM419.0 118.9h1v1h-1zM423.9 111.0h1v1h-1zM415.4 111.2h1v1h-1zM428.6 103.0h1v1h-1zM430.2 88.3h1v1h-1zM420.7 117.8h1v1h-1zM428.9 76.2h1v1h-1zM424.4 104.4h1v1h-1zM443.5 74.7h1v1h-1zM419.6 114.6h1v1h-1zM417.3 99.4h1v1h-1zM414.8 107.6h1v1h-1zM419.5 78.6h1v1h-1zM412.6 94.0h1v1h-1zM421.4 109.3h1v1h-1zM424.5 95.6h1v1h-1zM420.6 113.2h1v1h-1zM411.8 73.3h1v1h-1zM429.9 90.4h1v1h-1zM420.3 74.7h1v1h-1zM423.0 114.2h1v1h-1zM427.7 92.7h1v1h-1zM416.8 114.8h1v1h-1zM418.8 115.3h1v1h-1zM452.8 70.4h1v1h-1zM421.5 106.8h1v1h-1zM418.4 118.3h1v1h-1zM421.2 125.2h1v1h-1zM415.1 73.5h1v1h-1zM408.7 73.8h1v1h-1zM420.2 95.7h1v1h-1zM422.1 114.9h1v1h-1zM422.3 75.0h1v1h-1zM424.1 130.3h1v1h-1zM415.0 112.5h1v1h-1zM401.0 68.9h1v1h-1zM425.0 114.5h1v1h-1zM419.6 94.9h1v1h-1zM436.0 79.0h1v1h-1zM423.2 109.4h1v1h-1zM417.1 112.7h1v1h-1zM424.1 106.8h1v1h-1zM412.8 83.8h1v1h-1zM424.9 79.4h1v1h-1zM436.9 71.7h1v1h-1zM443.1 78.5h1v1h-1zM421.8 90.5h1v1h-1zM427.7 89.1h1v1h-1zM426.5 72.4h1v1h-1zM425.4 120.8h1v1h-1zM398.3 79.7h1v1h-1zM418.0 73.0h1v1h-1zM425.0 81.0h1v1h-1zM424.5 95.6h1v1h-1zM419.0 107.0h1v1h-1zM431.8 73.1h1v1h-1zM433.5 77.4h1v1h-1zM423.6 69.7h1v1h-1zM420.9 92.9h1v1h-1zM420.9 130.5h1v1h-1zM422.7 116.8h1v1h-1zM426.4 121.3h1v1h-1zM427.5 125.1h1v1h-1zM418.2 81.8h1v1h-1zM418.8 108.5h1v1h-1zM417.4 94.0h1v1h-1zM429.4 90.7h1v1h-1zM423.1 115.4h1v1h-1zM423.2 103.1h1v1h-1zM423.9 106.9h1v1h-1zM425.8 84.9h1v1h-1zM421.7 126.7h1v1h-1zM417.9 109.0h1v1h-1zM419.9 107.4h1v1h-1zM422.6 115.5h1v1h-1zM423.6 125.1h1v1h-1zM418.8 79.0h1v1h-1zM418.5 84.5h1v1h-1zM427.1 128.8h1v1h-1zM420.5 110.1h1v1h-1zM422.9 123.5h1v1h-1zM419.8 88.7h1v1h-1zM418.6 129.7h1v1h-1zM413.4 95.0h1v1h-1zM420.2 118.3h1v1h-1zM418.8 125.0h1v1h-1zM425.7 100.3h1v1h-1zM416.1 94.0h1v1h-1zM420.4 99.1h1v1h-1zM430.4 76.1h1v1h-1zM421.2 72.5h1v1h-1zM424.2 127.1h1v1h-1zM425.6 108.8h1v1h-1zM403.8 73.3h1v1h-1zM420.5 104.9h1v1h-1zM413.2 83.5h1v1h-1zM427.0 120.5h1v1h-1zM421.4 90.4h1v1h-1zM429.7 69.1h1v1h-1zM429.2 109.6h1v1h-1zM420.7 130.2h1v1h-1zM422.5 114.1h1v1h-1zM423.6 128.1h1v1h-1zM419.5 74.4h1v1h-1zM433.2 86.2h1v1h-1zM425.1 116.5h1v1h-1zM427.4 96.9h1v1h-1zM422.8 79.1h1v1h-1zM419.7 89.4h1v1h-1zM419.2 85.8h1v1h-1zM420.7 112.0h1v1h-1zM415.4 116.3h1v1h-1zM423.4 114.0h1v1h-1zM425.5 109.7h1v1h-1zM422.1 114.7h1v1h-1zM420.4 125.7h1v1h-1zM422.6 84.5h1v1h-1zM424.0 85.4h1v1h-1zM423.3 129.4h1v1h-1zM429.5 123.0h1v1h-1zM419.1 109.5h1v1h-1zM423.7 117.6h1v1h-1zM424.6 108.2h1v1h-1zM422.8 87.3h1v1h-1zM421.3 103.3h1v1h-1zM412.6 83.3h1v1h-1zM415.9 74.2h1v1h-1zM427.7 89.2h1v1h-1zM428.1 118.5h1v1h-1zM415.7 76.7h1v1h-1zM428.0 70.8h1v1h-1zM426.7 82.7h1v1h-1zM426.3 117.0h1v1h-1zM423.2 123.2h1v1h-1zM425.7 85.1h1v1h-1zM425.8 128.0h1v1h-1zM416.6 97.9h1v1h-1zM422.3 110.9h1v1h-1zM415.0 109.7h1v1h-1zM412.8 95.8h1v1h-1zM419.2 120.6h1v1h-1zM415.9 124.1h1v1h-1zM424.3 97.5h1v1h-1zM429.5 86.8h1v1h-1zM420.9 126.6h1v1h-1zM421.6 111.7h1v1h-1zM420.6 90.7h1v1h-1zM419.8 78.2h1v1h-1zM423.0 92.7h1v1h-1zM423.8 95.7h1v1h-1zM420.3 118.9h1v1h-1zM418.9 111.9h1v1h-1zM420.3 99.9h1v1h-1zM425.0 124.7h1v1h-1zM420.6 104.6h1v1h-1zM428.0 122.0h1v1h-1zM419.3 72.0h1v1h-1zM437.7 73.0h1v1h-1zM417.3 121.7h1v1h-1zM419.7 114.0h1v1h-1zM426.1 84.2h1v1h-1zM427.5 75.5h1v1h-1zM420.6 72.5h1v1h-1zM436.4 88.0h1v1h-1zM422.4 123.4h1v1h-1zM425.0 80.0h1v1h-1zM417.0 83.6h1v1h-1zM428.0 120.0h1v1h-1zM431.5 79.6h1v1h-1zM425.7 82.9h1v1h-1zM416.4 114.7h1v1h-1zM423.6 121.5h1v1h-1zM420.2 126.9h1v1h-1zM427.8 70.8h1v1h-1zM429.3 88.6h1v1h-1zM419.5 106.2h1v1h-1zM423.9 88.7h1v1h-1zM425.2 114.3h1v1h-1zM423.9 82.1h1v1h-1zM420.8 105.8h1v1h-1zM410.6 78.1h1v1h-1zM414.8 77.4h1v1h-1zM417.0 117.9h1v1h-1zM425.6 107.2h1v1h-1zM422.5 103.5h1v1h-1zM415.0 91.5h1v1h-1zM422.1 110.1h1v1h-1zM416.9 127.5h1v1h-1zM399.8 91.4h1v1h-1zM438.7 71.0h1v1h-1zM433.1 84.1h1v1h-1zM416.9 116.8h1v1h-1zM417.0 86.6h1v1h-1zM423.0 115.2h1v1h-1zM418.4 80.7h1v1h-1zM419.1 105.3h1v1h-1zM418.6 90.9h1v1h-1zM421.2 101.3h1v1h-1zM418.9 91.4h1v1h-1zM422.8 105.1h1v1h-1zM421.2 114.2h1v1h-1zM419.1 111.8h1v1h-1zM422.3 94.9h1v1h-1zM399.8 70.3h1v1h-1zM427.2 119.7h1v1h-1zM401.1 74.7h1v1h-1zM421.7 91.7h1v1h-1zM423.5 117.3h1v1h-1zM423.6 129.2h1v1h-1zM423.0 113.4h1v1h-1zM435.6 75.1h1v1h-1zM417.6 128.3h1v1h-1zM421.5 71.0h1v1h-1zM424.1 70.3h1v1h-1zM420.4 114.0h1v1h-1zM420.0 125.4h1v1h-1zM427.3 108.0h1v1h-1zM419.6 122.7h1v1h-1zM420.2 108.5h1v1h-1zM419.3 73.3h1v1h-1zM421.4 106.7h1v1h-1zM422.8 115.9h1v1h-1zM421.3 98.9h1v1h-1zM423.6 112.4h1v1h-1zM422.8 97.3h1v1h-1zM428.2 74.4h1v1h-1zM426.9 121.9h1v1h-1zM413.7 80.9h1v1h-1zM439.1 80.8h1v1h-1zM417.7 76.1h1v1h-1zM427.1 89.6h1v1h-1zM423.0 93.1h1v1h-1zM419.6 80.4h1v1h-1zM400.6 78.2h1v1h-1zM429.5 96.2h1v1h-1zM413.0 68.8h1v1h-1zM419.1 98.7h1v1h-1zM433.5 74.7h1v1h-1zM423.2 76.4h1v1h-1zM441.9 75.5h1v1h-1zM428.9 120.9h1v1h-1zM424.6 119.0h1v1h-1zM423.1 129.5h1v1h-1zM424.7 118.4h1v1h-1zM416.7 99.6h1v1h-1zM423.2 92.6h1v1h-1zM422.7 104.5h1v1h-1zM420.4 107.4h1v1h-1zM423.1 129.8h1v1h-1zM411.1 88.9h1v1h-1zM425.2 124.5h1v1h-1zM426.6 127.4h1v1h-1zM417.6 127.7h1v1h-1zM422.6 107.1h1v1h-1zM428.3 106.4h1v1h-1zM423.8 130.3h1v1h-1zM416.8 93.9h1v1h-1zM418.1 116.5h1v1h-1zM431.6 73.0h1v1h-1zM439.6 82.9h1v1h-1zM418.1 99.5h1v1h-1zM422.2 114.0h1v1h-1zM413.9 79.2h1v1h-1zM420.9 119.2h1v1h-1zM423.3 103.9h1v1h-1zM421.8 76.5h1v1h-1zM414.2 70.4h1v1h-1zM435.3 92.9h1v1h-1zM421.4 119.4h1v1h-1zM421.4 129.0h1v1h-1zM425.9 115.5h1v1h-1zM422.3 82.1h1v1h-1zM421.3 124.1h1v1h-1zM432.8 77.8h1v1h-1zM416.4 92.8h1v1h-1zM424.7 109.8h1v1h-1zM428.8 89.1h1v1h-1zM426.5 88.6h1v1h-1zM421.1 95.1h1v1h-1zM422.0 124.5h1v1h-1zM414.8 97.3h1v1h-1zM420.8 73.5h1v1h-1zM424.2 90.2h1v1h-1zM425.1 104.6h1v1h-1zM422.6 101.8h1v1h-1zM420.7 127.7h1v1h-1zM418.7 99.8h1v1h-1zM421.9 117.4h1v1h-1zM422.5 114.9h1v1h-1zM428.0 97.1h1v1h-1zM422.2 94.2h1v1h-1zM419.6 96.8h1v1h-1zM421.0 75.5h1v1h-1zM416.2 73.4h1v1h-1zM419.8 75.1h1v1h-1zM400.0 76.2h1v1h-1zM404.8 73.1h1v1h-1zM415.6 92.8h1v1h-1zM427.4 77.3h1v1h-1zM421.8 129.1h1v1h-1zM423.0 93.4h1v1h-1zM438.6 68.3h1v1h-1zM417.9 109.3h1v1h-1zM426.0 112.7h1v1h-1zM423.6 127.3h1v1h-1zM416.4 83.3h1v1h-1zM433.8 87.9h1v1h-1zM417.1 114.8h1v1h-1zM418.2 107.1h1v1h-1zM421.3 107.0h1v1h-1zM423.5 126.4h1v1h-1zM421.3 130.3h1v1h-1zM420.4 92.2h1v1h-1zM421.8 127.0h1v1h-1zM457.4 69.1h1v1h-1zM432.3 89.2h1v1h-1zM422.5 115.8h1v1h-1zM408.4 72.7h1v1h-1zM423.2 104.7h1v1h-1zM418.0 125.5h1v1h-1zM422.9 101.4h1v1h-1zM426.7 68.3h1v1h-1zM417.4 75.1h1v1h-1zM423.6 93.6h1v1h-1zM418.2 68.8h1v1h-1zM420.1 109.3h1v1h-1zM433.9 84.8h1v1h-1zM426.4 89.4h1v1h-1zM420.8 117.0h1v1h-1zM419.4 113.9h1v1h-1zM422.8 118.0h1v1h-1zM428.1 79.9h1v1h-1zM427.5 89.5h1v1h-1zM427.1 107.8h1v1h-1zM424.0 99.4h1v1h-1zM418.2 118.4h1v1h-1zM432.6 93.8h1v1h-1zM426.1 124.9h1v1h-1zM429.2 81.8h1v1h-1zM427.4 108.9h1v1h-1zM416.1 118.0h1v1h-1zM420.8 129.8h1v1h-1zM419.1 91.6h1v1h-1zM426.8 123.3h1v1h-1zM418.0 105.6h1v1h-1zM420.9 108.1h1v1h-1zM435.9 84.1h1v1h-1zM424.3 122.9h1v1h-1zM417.3 72.2h1v1h-1zM429.5 129.9h1v1h-1zM417.5 103.4h1v1h-1zM423.6 104.4h1v1h-1zM420.0 78.9h1v1h-1zM424.1 110.2h1v1h-1zM419.1 77.7h1v1h-1zM419.2 120.2h1v1h-1zM422.9 114.7h1v1h-1zM409.8 78.5h1v1h-1zM424.2 117.3h1v1h-1zM420.9 107.6h1v1h-1zM428.7 86.5h1v1h-1zM420.5 109.5h1v1h-1zM419.7 111.5h1v1h-1zM423.7 99.2h1v1h-1zM426.9 111.3h1v1h-1zM413.8 117.4h1v1h-1zM422.5 123.7h1v1h-1zM424.2 119.9h1v1h-1zM407.3 74.7h1v1h-1zM418.6 121.8h1v1h-1zM424.3 127.4h1v1h-1zM418.3 98.2h1v1h-1zM419.8 124.6h1v1h-1zM438.7 82.0h1v1h-1zM411.2 70.5h1v1h-1zM418.1 95.9h1v1h-1zM409.5 76.2h1v1h-1zM416.4 95.7h1v1h-1zM428.8 128.9h1v1h-1zM426.2 100.5h1v1h-1zM417.7 129.7h1v1h-1zM428.9 99.8h1v1h-1zM425.4 96.9h1v1h-1zM420.0 69.3h1v1h-1zM430.9 73.2h1v1h-1zM423.6 122.6h1v1h-1zM419.4 111.0h1v1h-1zM415.1 103.2h1v1h-1zM418.4 123.7h1v1h-1zM422.0 108.6h1v1h-1zM419.0 85.6h1v1h-1zM419.1 122.1h1v1h-1zM425.9 113.6h1v1h-1zM408.8 73.0h1v1h-1zM425.6 120.0h1v1h-1zM418.7 90.8h1v1h-1zM422.5 120.8h1v1h-1zM418.2 119.6h1v1h-1zM422.0 124.7h1v1h-1zM414.0 75.1h1v1h-1zM415.1 114.0h1v1h-1zM421.9 87.6h1v1h-1zM421.9 121.6h1v1h-1zM431.9 75.2h1v1h-1zM423.2 122.8h1v1h-1zM418.0 128.8h1v1h-1zM419.9 100.3h1v1h-1zM413.5 102.3h1v1h-1zM418.2 106.2h1v1h-1zM426.5 124.1h1v1h-1zM440.8 73.5h1v1h-1zM425.1 121.3h1v1h-1zM424.2 89.8h1v1h-1zM425.6 93.4h1v1h-1zM423.7 122.6h1v1h-1zM404.4 75.6h1v1h-1zM412.2 77.0h1v1h-1zM426.7 110.6h1v1h-1zM426.7 113.6h1v1h-1zM424.1 82.1h1v1h-1zM421.0 111.3h1v1h-1zM419.3 90.3h1v1h-1zM415.7 69.7h1v1h-1zM414.9 84.4h1v1h-1zM401.0 78.1h1v1h-1zM422.8 96.2h1v1h-1zM419.7 96.3h1v1h-1zM420.6 92.1h1v1h-1zM427.9 124.8h1v1h-1zM425.4 92.1h1v1h-1zM414.8 80.0h1v1h-1zM424.3 127.2h1v1h-1zM416.8 108.0h1v1h-1zM426.2 127.5h1v1h-1zM423.4 96.2h1v1h-1zM421.3 105.8h1v1h-1zM426.4 88.5h1v1h-1zM427.1 128.2h1v1h-1zM418.0 85.3h1v1h-1zM418.6 126.2h1v1h-1zM437.6 89.3h1v1h-1zM422.1 116.0h1v1h-1zM428.0 108.4h1v1h-1zM419.7 116.6h1v1h-1zM425.4 80.8h1v1h-1zM419.5 130.4h1v1h-1zM424.4 99.1h1v1h-1zM418.6 72.7h1v1h-1zM419.4 110.7h1v1h-1zM441.6 72.9h1v1h-1zM423.4 108.5h1v1h-1zM415.0 112.8h1v1h-1zM419.7 80.7h1v1h-1zM411.2 75.2h1v1h-1zM408.0 76.4h1v1h-1zM419.7 109.1h1v1h-1zM420.4 114.7h1v1h-1zM422.1 125.5h1v1h-1zM415.9 88.3h1v1h-1zM402.2 74.1h1v1h-1zM419.9 107.4h1v1h-1zM425.1 120.3h1v1h-1zM417.3 113.4h1v1h-1zM424.4 98.6h1v1h-1zM426.1 84.8h1v1h-1zM420.2 113.6h1v1h-1zM423.2 121.5h1v1h-1zM414.7 81.7h1v1h-1zM420.4 112.4h1v1h-1zM418.5 116.2h1v1h-1zM423.6 130.3h1v1h-1zM431.2 91.5h1v1h-1zM418.3 92.6h1v1h-1zM435.9 70.8h1v1h-1zM401.6 78.0h1v1h-1zM418.5 114.5h1v1h-1zM413.1 85.0h1v1h-1zM428.0 125.0h1v1h-1zM417.4 87.9h1v1h-1zM425.1 117.8h1v1h-1zM407.6 90.5h1v1h-1zM422.5 115.3h1v1h-1zM425.1 95.4h1v1h-1zM421.6 81.2h1v1h-1zM398.0 80.8h1v1h-1zM423.5 85.9h1v1h-1zM431.6 75.4h1v1h-1zM426.6 122.2h1v1h-1zM423.4 125.6h1v1h-1zM415.2 117.8h1v1h-1zM419.4 68.3h1v1h-1zM425.6 123.2h1v1h-1zM418.7 117.7h1v1h-1zM424.0 120.6h1v1h-1zM420.3 107.5h1v1h-1zM422.9 81.0h1v1h-1zM427.5 86.6h1v1h-1zM417.4 92.3h1v1h-1zM448.3 79.5h1v1h-1zM424.1 69.7h1v1h-1zM423.2 127.6h1v1h-1zM417.2 92.3h1v1h-1zM422.2 106.0h1v1h-1zM419.2 74.7h1v1h-1zM416.9 121.6h1v1h-1zM415.9 115.0h1v1h-1zM425.4 70.5h1v1h-1zM421.1 80.6h1v1h-1zM412.8 114.5h1v1h-1zM417.7 69.5h1v1h-1zM421.2 75.4h1v1h-1zM429.0 76.9h1v1h-1zM417.7 116.4h1v1h-1zM424.4 116.9h1v1h-1zM420.8 103.7h1v1h-1zM417.9 87.1h1v1h-1zM421.4 117.0h1v1h-1zM425.4 107.6h1v1h-1zM428.3 71.8h1v1h-1zM431.4 79.8h1v1h-1zM419.2 111.5h1v1h-1zM421.0 103.4h1v1h-1zM414.6 92.6h1v1h-1zM419.8 101.1h1v1h-1zM418.7 83.2h1v1h-1zM420.4 104.6h1v1h-1zM429.2 76.6h1v1h-1zM423.7 129.7h1v1h-1zM424.7 119.5h1v1h-1zM422.6 99.1h1v1h-1zM425.8 129.1h1v1h-1zM422.5 110.4h1v1h-1zM425.9 104.2h1v1h-1zM423.8 108.4h1v1h-1zM424.6 111.9h1v1h-1zM421.7 129.9h1v1h-1zM417.0 117.0h1v1h-1zM408.2 82.8h1v1h-1zM447.7 71.7h1v1h-1zM423.6 125.5h1v1h-1zM423.6 114.1h1v1h-1zM421.3 104.4h1v1h-1zM419.9 98.6h1v1h-1zM433.6 127.3h1v1h-1zM406.9 70.6h1v1h-1zM421.4 77.7h1v1h-1zM421.6 87.8h1v1h-1zM417.4 130.3h1v1h-1zM416.9 111.4h1v1h-1zM419.2 105.5h1v1h-1zM419.8 89.4h1v1h-1zM416.6 77.9h1v1h-1zM431.9 69.0h1v1h-1zM410.2 76.9h1v1h-1zM426.4 78.9h1v1h-1zM427.9 99.9h1v1h-1zM427.4 90.9h1v1h-1zM418.0 129.1h1v1h-1zM411.7 125.6h1v1h-1zM425.4 102.7h1v1h-1zM427.5 78.4h1v1h-1zM417.3 87.8h1v1h-1zM437.4 69.7h1v1h-1zM420.4 109.4h1v1h-1zM422.6 92.1h1v1h-1zM418.4 125.9h1v1h-1zM424.5 87.8h1v1h-1zM420.5 121.2h1v1h-1zM418.8 92.6h1v1h-1zM426.3 108.8h1v1h-1zM423.5 90.2h1v1h-1zM416.0 118.6h1v1h-1zM428.8 82.0h1v1h-1zM431.3 78.0h1v1h-1zM410.9 71.2h1v1h-1zM419.7 91.8h1v1h-1zM422.2 113.9h1v1h-1zM420.9 96.9h1v1h-1zM422.5 120.7h1v1h-1zM424.3 104.6h1v1h-1zM420.0 101.4h1v1h-1zM429.8 99.2h1v1h-1zM412.4 70.5h1v1h-1zM420.1 104.9h1v1h-1zM439.9 79.9h1v1h-1zM452.2 73.2h1v1h-1zM422.5 74.4h1v1h-1zM420.2 78.3h1v1h-1zM417.7 106.8h1v1h-1zM431.8 85.9h1v1h-1zM423.3 86.4h1v1h-1zM416.9 93.8h1v1h-1zM423.4 127.8h1v1h-1zM434.5 84.1h1v1h-1zM427.7 86.8h1v1h-1zM439.8 83.7h1v1h-1zM431.3 87.7h1v1h-1zM425.2 86.6h1v1h-1zM421.9 119.9h1v1h-1zM423.9 129.2h1v1h-1zM429.8 92.6h1v1h-1zM425.5 122.2h1v1h-1zM433.2 74.6h1v1h-1zM422.9 98.1h1v1h-1zM424.7 119.4h1v1h-1zM435.2 73.6h1v1h-1zM421.4 130.4h1v1h-1zM414.9 93.0h1v1h-1zM429.4 99.2h1v1h-1zM424.3 127.1h1v1h-1zM420.5 125.5h1v1h-1zM424.4 81.0h1v1h-1zM420.7 96.5h1v1h-1zM416.0 113.9h1v1h-1zM421.2 96.8h1v1h-1zM417.0 126.7h1v1h-1zM424.1 80.5h1v1h-1zM421.6 129.0h1v1h-1zM426.6 106.8h1v1h-1zM421.6 106.4h1v1h-1zM423.5 110.7h1v1h-1zM419.3 84.6h1v1h-1zM420.2 95.7h1v1h-1zM409.9 81.7h1v1h-1zM425.5 118.4h1v1h-1zM423.1 88.7h1v1h-1zM415.3 77.0h1v1h-1zM422.7 123.6h1v1h-1zM418.9 89.5h1v1h-1zM419.1 127.4h1v1h-1zM423.2 95.8h1v1h-1zM426.3 108.7h1v1h-1zM421.1 117.1h1v1h-1zM417.0 100.2h1v1h-1zM419.8 127.0h1v1h-1zM429.2 118.6h1v1h-1zM418.7 123.7h1v1h-1zM426.2 101.2h1v1h-1zM419.2 76.1h1v1h-1zM430.0 78.8h1v1h-1zM420.8 77.1h1v1h-1zM415.7 101.4h1v1h-1zM420.3 127.4h1v1h-1zM430.5 102.6h1v1h-1zM421.3 94.9h1v1h-1zM428.8 75.0h1v1h-1zM419.7 91.4h1v1h-1zM420.8 79.5h1v1h-1zM423.7 96.5h1v1h-1zM424.4 96.7h1v1h-1zM430.9 126.4h1v1h-1zM421.9 92.7h1v1h-1zM421.3 123.2h1v1h-1zM414.2 70.6h1v1h-1zM413.6 89.6h1v1h-1zM415.5 113.1h1v1h-1zM425.5 95.9h1v1h-1zM401.4 72.9h1v1h-1zM432.1 90.3h1v1h-1zM425.0 102.6h1v1h-1zM420.8 127.7h1v1h-1zM412.4 82.8h1v1h-1zM422.4 73.6h1v1h-1zM422.1 115.4h1v1h-1zM426.0 106.5h1v1h-1zM416.6 89.8h1v1h-1zM419.6 92.5h1v1h-1zM421.6 88.5h1v1h-1zM420.9 109.4h1v1h-1zM419.5 122.1h1v1h-1zM407.8 86.7h1v1h-1zM416.3 124.9h1v1h-1zM418.5 94.2h1v1h-1zM421.0 98.7h1v1h-1zM430.0 84.0h1v1h-1zM447.3 73.4h1v1h-1zM437.3 80.6h1v1h-1zM425.2 83.7h1v1h-1zM431.0 95.4h1v1h-1zM421.6 98.9h1v1h-1zM419.9 120.8h1v1h-1zM436.3 90.5h1v1h-1zM418.3 115.8h1v1h-1zM418.2 83.9h1v1h-1zM420.9 97.9h1v1h-1zM438.3 72.8h1v1h-1zM419.9 123.8h1v1h-1zM427.7 90.0h1v1h-1zM420.6 108.0h1v1h-1zM417.1 103.1h1v1h-1zM422.9 98.5h1v1h-1zM423.4 82.9h1v1h-1z" fill="#e02a2a" fill-opacity="0.65"/>
<path d="M438.8 80.2h1v1h-1zM449.7 121.7h1v1h-1zM448.2 91.8h1v1h-1zM424.5 110.2h1v1h-1zM437.9 114.2h1v1h-1zM410.7 97.6h1v1h-1zM433.2 101.8h1v1h-1zM436.4 77.0h1v1h-1zM420.2 101.9h1v1h-1zM436.9 101.4h1v1h-1zM421.5 122.8h1v1h-1zM441.7 90.8h1v1h-1zM411.2 79.0h1v1h-1zM430.9 93.9h1v1h-1zM449.8 116.3h1v1h-1zM435.7 70.7h1v1h-1zM449.4 72.1h1v1h-1zM449.7 128.9h1v1h-1zM441.6 102.8h1v1h-1zM443.4 112.4h1v1h-1zM440.3 97.5h1v1h-1zM430.5 81.5h1v1h-1zM442.7 109.4h1v1h-1zM442.7 84.2h1v1h-1zM445.9 96.7h1v1h-1zM408.3 82.4h1v1h-1zM409.6 123.6h1v1h-1zM428.4 93.2h1v1h-1zM439.6 111.0h1v1h-1zM426.4 80.7h1v1h-1zM424.8 105.9h1v1h-1zM408.9 87.4h1v1h-1zM434.7 77.0h1v1h-1zM450.0 88.6h1v1h-1zM435.1 73.8h1v1h-1zM418.8 105.6h1v1h-1zM436.0 102.8h1v1h-1zM424.3 120.4h1v1h-1zM424.1 71.6h1v1h-1zM410.5 94.1h1v1h-1zM439.4 128.1h1v1h-1zM408.0 90.5h1v1h-1zM445.0 73.5h1v1h-1zM408.3 117.2h1v1h-1zM442.3 75.5h1v1h-1zM423.4 112.1h1v1h-1zM423.4 101.0h1v1h-1zM429.6 121.7h1v1h-1zM416.1 100.3h1v1h-1zM417.1 110.1h1v1h-1zM439.4 85.2h1v1h-1zM448.0 128.0h1v1h-1zM414.2 82.3h1v1h-1zM420.1 119.4h1v1h-1zM451.2 110.2h1v1h-1zM438.2 98.4h1v1h-1zM448.3 92.0h1v1h-1zM425.0 75.0h1v1h-1zM441.8 116.8h1v1h-1zM439.3 83.4h1v1h-1zM440.7 121.5h1v1h-1zM429.0 122.4h1v1h-1zM420.9 82.4h1v1h-1zM424.0 87.2h1v1h-1zM414.3 111.9h1v1h-1zM411.5 115.1h1v1h-1zM424.7 72.9h1v1h-1zM445.7 118.7h1v1h-1zM422.6 118.2h1v1h-1zM432.7 106.8h1v1h-1zM444.2 122.6h1v1h-1zM412.6 127.6h1v1h-1zM424.3 82.1h1v1h-1zM424.3 125.6h1v1h-1zM439.3 120.8h1v1h-1zM447.8 104.7h1v1h-1zM408.3 76.5h1v1h-1zM432.0 126.7h1v1h-1zM408.1 113.9h1v1h-1zM421.2 91.8h1v1h-1zM425.6 89.0h1v1h-1zM420.4 126.1h1v1h-1zM426.2 83.6h1v1h-1zM423.9 118.4h1v1h-1zM430.0 96.2h1v1h-1zM419.0 111.1h1v1h-1zM425.2 118.5h1v1h-1zM417.7 75.9h1v1h-1zM426.5 85.4h1v1h-1zM439.2 76.7h1v1h-1zM409.3 93.7h1v1h-1zM451.9 78.4h1v1h-1zM414.5 124.0h1v1h-1zM442.8 116.5h1v1h-1zM420.6 104.3h1v1h-1zM411.1 81.3h1v1h-1zM442.7 82.4h1v1h-1zM432.9 104.9h1v1h-1zM419.6 123.5h1v1h-1zM424.7 125.0h1v1h-1zM446.0 124.8h1v1h-1zM439.1 89.0h1v1h-1zM420.2 111.2h1v1h-1zM418.4 100.6h1v1h-1zM432.9 102.8h1v1h-1zM413.3 110.0h1v1h-1zM418.1 87.4h1v1h-1zM443.4 85.8h1v1h-1zM439.9 94.3h1v1h-1zM409.1 83.8h1v1h-1zM427.7 120.8h1v1h-1zM425.5 91.6h1v1h-1zM440.5 72.3h1v1h-1zM426.7 107.4h1v1h-1zM418.0 128.2h1v1h-1zM445.0 102.4h1v1h-1zM416.5 86.7h1v1h-1zM436.5 123.2h1v1h-1zM420.4 107.2h1v1h-1zM435.2 106.5h1v1h-1z" fill="#e86060" fill-opacity="0.45"/>
<path d="M413.5 78.7h1v1h-1zM411.8 88.7h1v1h-1zM418.9 85.5h1v1h-1zM421.1 81.5h1v1h-1zM449.0 74.7h1v1h-1zM421.7 89.1h1v1h-1zM428.1 93.1h1v1h-1zM433.9 66.9h1v1h-1zM451.3 64.8h1v1h-1zM424.6 67.2h1v1h-1zM426.5 91.9h1v1h-1zM421.6 83.8h1v1h-1zM414.6 76.7h1v1h-1zM418.8 95.2h1v1h-1zM419.5 94.2h1v1h-1zM436.7 77.6h1v1h-1zM426.0 75.8h1v1h-1zM421.8 81.1h1v1h-1zM423.2 83.0h1v1h-1zM419.9 90.9h1v1h-1zM422.9 92.1h1v1h-1zM422.7 73.1h1v1h-1zM426.6 91.3h1v1h-1zM434.9 66.5h1v1h-1zM404.1 70.7h1v1h-1zM425.3 77.4h1v1h-1zM440.8 66.4h1v1h-1zM412.6 75.1h1v1h-1zM419.8 64.9h1v1h-1zM424.0 89.8h1v1h-1zM430.9 85.6h1v1h-1zM429.7 72.3h1v1h-1zM421.2 80.7h1v1h-1zM428.0 76.5h1v1h-1zM429.0 90.2h1v1h-1zM427.3 73.4h1v1h-1zM444.2 71.6h1v1h-1zM425.7 88.8h1v1h-1zM416.4 88.2h1v1h-1zM417.7 86.5h1v1h-1zM421.4 66.0h1v1h-1zM420.4 65.3h1v1h-1zM426.0 93.8h1v1h-1zM424.6 95.1h1v1h-1zM443.1 70.6h1v1h-1zM430.3 79.7h1v1h-1zM436.7 78.8h1v1h-1zM414.8 73.1h1v1h-1zM417.7 66.5h1v1h-1zM430.8 72.1h1v1h-1zM423.5 94.7h1v1h-1zM429.0 78.2h1v1h-1zM426.1 70.6h1v1h-1zM415.2 66.4h1v1h-1zM435.7 84.7h1v1h-1zM429.4 90.9h1v1h-1zM405.8 72.1h1v1h-1zM419.2 88.1h1v1h-1zM423.5 64.7h1v1h-1zM431.6 68.1h1v1h-1zM422.6 84.4h1v1h-1zM405.9 67.0h1v1h-1zM430.7 78.9h1v1h-1zM421.3 79.5h1v1h-1zM439.3 64.9h1v1h-1zM424.8 90.3h1v1h-1zM429.6 87.6h1v1h-1zM428.1 89.3h1v1h-1zM429.6 84.9h1v1h-1zM417.6 73.0h1v1h-1zM430.3 86.2h1v1h-1zM424.8 82.3h1v1h-1zM413.6 84.0h1v1h-1zM420.6 88.1h1v1h-1zM419.6 73.3h1v1h-1zM425.4 93.2h1v1h-1zM429.5 78.8h1v1h-1zM411.4 74.1h1v1h-1zM429.4 80.9h1v1h-1zM422.8 95.1h1v1h-1zM415.9 86.6h1v1h-1zM433.8 67.1h1v1h-1zM414.9 72.8h1v1h-1zM414.7 85.6h1v1h-1zM426.4 94.6h1v1h-1zM430.8 81.2h1v1h-1zM417.6 81.3h1v1h-1zM437.7 64.0h1v1h-1zM435.4 68.9h1v1h-1zM420.1 89.8h1v1h-1zM445.8 71.7h1v1h-1zM422.7 81.2h1v1h-1zM424.8 85.9h1v1h-1zM404.4 83.1h1v1h-1zM427.1 88.5h1v1h-1zM418.6 84.6h1v1h-1zM427.9 73.9h1v1h-1zM409.6 82.7h1v1h-1zM431.2 86.3h1v1h-1zM442.1 66.2h1v1h-1zM431.3 94.9h1v1h-1zM400.6 83.8h1v1h-1zM425.6 95.2h1v1h-1zM425.0 91.6h1v1h-1zM414.0 66.6h1v1h-1zM422.7 91.4h1v1h-1zM439.3 71.9h1v1h-1zM419.1 93.2h1v1h-1zM424.0 95.3h1v1h-1zM422.8 88.6h1v1h-1zM426.0 84.0h1v1h-1zM419.6 78.0h1v1h-1zM427.5 93.1h1v1h-1zM430.6 84.1h1v1h-1zM406.2 67.0h1v1h-1zM430.7 87.2h1v1h-1zM415.6 74.6h1v1h-1zM420.1 68.3h1v1h-1zM434.7 75.7h1v1h-1zM423.7 91.5h1v1h-1zM427.0 87.8h1v1h-1zM431.2 76.2h1v1h-1zM426.6 90.4h1v1h-1zM418.9 81.9h1v1h-1zM413.6 74.8h1v1h-1zM432.1 67.3h1v1h-1zM428.6 85.8h1v1h-1zM427.5 71.9h1v1h-1zM421.7 80.2h1v1h-1zM433.2 71.7h1v1h-1zM423.1 84.2h1v1h-1zM405.8 65.9h1v1h-1zM426.6 72.9h1v1h-1zM427.2 84.0h1v1h-1zM427.5 91.0h1v1h-1zM417.4 87.3h1v1h-1zM415.4 73.2h1v1h-1zM426.7 76.7h1v1h-1zM419.5 80.0h1v1h-1zM422.9 94.3h1v1h-1zM434.8 69.7h1v1h-1zM425.7 89.2h1v1h-1zM446.4 67.6h1v1h-1zM424.9 90.9h1v1h-1zM445.1 67.5h1v1h-1zM434.1 76.2h1v1h-1zM449.1 75.8h1v1h-1zM423.6 85.3h1v1h-1zM422.8 74.1h1v1h-1zM431.0 89.8h1v1h-1zM421.2 95.5h1v1h-1zM420.4 87.0h1v1h-1zM427.2 64.7h1v1h-1zM428.7 67.1h1v1h-1zM415.2 89.7h1v1h-1zM426.2 77.1h1v1h-1zM421.0 80.4h1v1h-1zM423.3 91.0h1v1h-1zM424.7 86.8h1v1h-1zM422.1 80.9h1v1h-1zM435.3 73.6h1v1h-1zM430.3 66.6h1v1h-1zM421.7 67.6h1v1h-1zM425.1 65.7h1v1h-1zM433.9 76.8h1v1h-1zM426.9 94.3h1v1h-1zM439.9 67.5h1v1h-1zM422.6 80.5h1v1h-1zM424.8 83.7h1v1h-1zM432.5 94.1h1v1h-1zM423.2 95.8h1v1h-1zM435.9 85.0h1v1h-1zM430.5 82.6h1v1h-1zM420.8 86.6h1v1h-1zM410.8 77.9h1v1h-1zM427.5 89.0h1v1h-1zM419.6 90.8h1v1h-1zM416.0 70.9h1v1h-1zM409.2 80.9h1v1h-1zM436.5 74.0h1v1h-1zM425.5 68.0h1v1h-1zM424.2 77.5h1v1h-1zM426.8 83.4h1v1h-1zM426.0 80.6h1v1h-1zM424.9 76.3h1v1h-1zM428.1 81.8h1v1h-1zM421.5 80.2h1v1h-1zM428.8 86.1h1v1h-1zM426.2 89.2h1v1h-1zM424.2 78.8h1v1h-1zM435.4 84.8h1v1h-1zM408.5 71.7h1v1h-1zM404.7 87.3h1v1h-1zM437.6 78.6h1v1h-1zM426.8 84.5h1v1h-1zM412.1 85.5h1v1h-1zM420.2 77.8h1v1h-1zM431.5 70.0h1v1h-1zM417.9 94.0h1v1h-1zM426.7 90.5h1v1h-1zM444.9 76.3h1v1h-1zM437.8 76.1h1v1h-1zM423.4 91.1h1v1h-1zM425.7 88.1h1v1h-1zM413.8 72.9h1v1h-1zM424.3 90.3h1v1h-1zM420.7 74.8h1v1h-1zM418.1 90.9h1v1h-1zM407.6 67.5h1v1h-1zM432.1 94.3h1v1h-1zM424.9 75.7h1v1h-1zM418.7 93.5h1v1h-1zM419.5 71.9h1v1h-1zM438.8 75.9h1v1h-1zM442.1 72.1h1v1h-1zM419.0 82.8h1v1h-1zM426.3 72.1h1v1h-1zM430.0 85.6h1v1h-1zM421.3 85.8h1v1h-1zM416.4 88.6h1v1h-1zM415.0 78.5h1v1h-1zM424.1 77.7h1v1h-1zM415.6 72.0h1v1h-1zM412.4 79.6h1v1h-1zM421.9 80.9h1v1h-1zM434.2 72.9h1v1h-1zM429.4 81.9h1v1h-1zM421.5 69.5h1v1h-1zM442.1 77.4h1v1h-1zM415.9 74.4h1v1h-1zM423.2 81.1h1v1h-1zM415.3 88.8h1v1h-1zM434.6 65.0h1v1h-1zM422.8 78.1h1v1h-1zM403.2 67.2h1v1h-1zM415.7 75.3h1v1h-1zM435.3 87.6h1v1h-1zM429.1 84.3h1v1h-1zM424.4 86.9h1v1h-1zM428.5 90.1h1v1h-1zM407.6 74.9h1v1h-1zM415.8 75.9h1v1h-1zM408.7 70.0h1v1h-1zM415.4 74.5h1v1h-1zM420.8 83.8h1v1h-1zM427.5 85.4h1v1h-1zM430.4 86.7h1v1h-1zM432.0 81.2h1v1h-1zM459.2 65.6h1v1h-1zM420.1 84.7h1v1h-1zM423.4 91.1h1v1h-1zM426.1 91.9h1v1h-1zM413.3 64.7h1v1h-1zM421.1 76.1h1v1h-1zM427.5 79.7h1v1h-1zM417.1 84.0h1v1h-1zM426.4 89.5h1v1h-1zM440.5 64.9h1v1h-1zM418.0 92.8h1v1h-1zM402.5 78.0h1v1h-1zM423.8 94.9h1v1h-1zM417.3 89.2h1v1h-1zM425.6 76.7h1v1h-1zM421.4 94.4h1v1h-1zM426.6 78.9h1v1h-1zM438.3 67.5h1v1h-1zM433.5 70.4h1v1h-1zM420.8 81.2h1v1h-1zM416.2 88.3h1v1h-1zM397.8 74.0h1v1h-1zM413.5 94.0h1v1h-1zM415.2 72.2h1v1h-1zM423.8 95.3h1v1h-1zM418.7 84.8h1v1h-1zM419.6 87.5h1v1h-1zM408.1 76.4h1v1h-1zM409.7 81.0h1v1h-1zM406.3 75.3h1v1h-1zM429.0 80.2h1v1h-1zM412.5 90.9h1v1h-1zM427.6 88.6h1v1h-1zM418.2 90.4h1v1h-1zM428.7 77.2h1v1h-1zM426.1 73.5h1v1h-1zM429.3 82.9h1v1h-1zM428.5 94.5h1v1h-1zM418.0 86.6h1v1h-1zM412.5 71.4h1v1h-1zM420.6 89.4h1v1h-1zM419.3 92.3h1v1h-1zM427.5 87.6h1v1h-1zM422.4 87.2h1v1h-1zM423.2 85.7h1v1h-1zM426.6 82.1h1v1h-1zM418.6 76.6h1v1h-1zM430.4 87.0h1v1h-1zM405.7 77.5h1v1h-1zM425.9 69.7h1v1h-1zM425.5 92.7h1v1h-1zM419.4 93.3h1v1h-1zM414.6 68.0h1v1h-1zM428.3 89.7h1v1h-1zM420.6 83.9h1v1h-1zM403.2 74.6h1v1h-1zM409.1 74.6h1v1h-1zM435.3 68.7h1v1h-1zM414.9 78.3h1v1h-1zM438.1 70.8h1v1h-1zM432.8 85.5h1v1h-1zM422.1 94.3h1v1h-1zM428.8 73.5h1v1h-1zM413.9 72.3h1v1h-1zM419.6 80.7h1v1h-1zM414.3 67.7h1v1h-1zM430.2 68.5h1v1h-1zM407.8 69.7h1v1h-1zM422.3 90.5h1v1h-1zM423.4 80.1h1v1h-1zM426.1 89.2h1v1h-1zM411.2 90.7h1v1h-1zM403.9 73.7h1v1h-1zM412.5 69.6h1v1h-1zM420.0 65.9h1v1h-1zM423.9 87.5h1v1h-1zM424.6 81.2h1v1h-1zM433.8 91.3h1v1h-1zM427.7 85.0h1v1h-1zM429.9 69.4h1v1h-1zM418.6 79.5h1v1h-1zM430.5 77.0h1v1h-1zM431.4 67.8h1v1h-1zM431.0 68.5h1v1h-1zM422.2 86.6h1v1h-1zM427.4 85.2h1v1h-1zM437.4 77.4h1v1h-1zM413.0 68.0h1v1h-1zM399.0 72.2h1v1h-1zM430.5 78.1h1v1h-1zM427.7 87.6h1v1h-1zM420.7 77.3h1v1h-1zM420.1 88.1h1v1h-1zM450.5 75.7h1v1h-1zM419.3 83.3h1v1h-1zM415.1 87.9h1v1h-1zM418.3 77.4h1v1h-1zM427.4 79.0h1v1h-1zM414.9 65.7h1v1h-1zM418.0 67.6h1v1h-1zM425.0 85.8h1v1h-1zM417.4 67.1h1v1h-1zM424.3 70.0h1v1h-1zM422.5 79.5h1v1h-1zM418.0 93.7h1v1h-1zM423.2 95.9h1v1h-1zM415.8 88.8h1v1h-1zM432.2 75.6h1v1h-1zM411.8 69.7h1v1h-1zM420.5 77.1h1v1h-1zM399.3 66.0h1v1h-1zM418.0 73.1h1v1h-1zM414.4 86.7h1v1h-1zM434.2 83.8h1v1h-1zM422.4 93.8h1v1h-1zM428.3 74.0h1v1h-1zM406.2 77.4h1v1h-1zM414.8 87.5h1v1h-1zM420.9 72.1h1v1h-1zM407.6 71.7h1v1h-1zM427.7 95.3h1v1h-1zM418.7 75.1h1v1h-1zM423.7 92.0h1v1h-1zM425.7 76.9h1v1h-1zM422.2 92.8h1v1h-1zM427.2 90.5h1v1h-1zM415.6 73.4h1v1h-1zM427.5 65.6h1v1h-1zM431.4 85.3h1v1h-1zM424.9 74.9h1v1h-1z" fill="#e02020" fill-opacity="0.6"/>
<path d="M416.9 59.5h1v1h-1zM433.5 56.0h1v1h-1zM422.6 60.9h1v1h-1zM438.0 59.4h1v1h-1zM398.2 63.0h1v1h-1zM422.2 60.1h1v1h-1zM416.8 61.4h1v1h-1zM412.2 64.6h1v1h-1zM407.2 61.6h1v1h-1zM410.6 59.0h1v1h-1zM432.6 64.5h1v1h-1zM415.2 59.1h1v1h-1zM404.3 61.2h1v1h-1zM426.0 58.2h1v1h-1zM432.7 56.9h1v1h-1zM412.0 47.5h1v1h-1zM401.2 62.3h1v1h-1zM428.7 54.9h1v1h-1zM425.8 62.5h1v1h-1zM426.0 66.7h1v1h-1zM398.2 54.3h1v1h-1zM400.8 63.0h1v1h-1zM441.1 59.1h1v1h-1zM418.9 61.3h1v1h-1zM405.8 54.8h1v1h-1zM398.9 59.6h1v1h-1zM415.1 60.2h1v1h-1zM408.4 65.2h1v1h-1zM402.0 68.1h1v1h-1zM423.1 60.8h1v1h-1zM402.8 58.1h1v1h-1zM439.9 68.4h1v1h-1zM404.7 59.1h1v1h-1zM436.6 59.3h1v1h-1zM409.7 59.9h1v1h-1zM407.1 61.4h1v1h-1zM429.4 62.4h1v1h-1zM416.5 57.2h1v1h-1zM401.5 59.1h1v1h-1zM433.9 67.1h1v1h-1zM418.7 65.9h1v1h-1zM419.6 61.3h1v1h-1zM410.7 60.6h1v1h-1zM433.1 58.6h1v1h-1zM421.9 63.6h1v1h-1zM399.5 57.5h1v1h-1zM436.4 60.1h1v1h-1zM419.5 57.7h1v1h-1zM406.3 57.1h1v1h-1zM398.7 59.7h1v1h-1zM398.7 59.6h1v1h-1zM400.9 57.2h1v1h-1zM405.7 59.3h1v1h-1zM417.6 59.8h1v1h-1zM404.5 57.7h1v1h-1zM431.0 56.9h1v1h-1zM417.5 59.0h1v1h-1zM412.9 62.4h1v1h-1zM413.0 64.0h1v1h-1zM405.1 60.3h1v1h-1zM418.1 58.5h1v1h-1zM404.8 59.4h1v1h-1zM408.4 67.2h1v1h-1zM416.8 63.2h1v1h-1zM422.9 55.8h1v1h-1zM408.6 59.4h1v1h-1zM427.4 57.5h1v1h-1zM409.8 58.1h1v1h-1zM438.1 52.8h1v1h-1zM401.8 59.7h1v1h-1zM420.1 54.1h1v1h-1zM409.7 57.2h1v1h-1zM414.2 65.6h1v1h-1zM400.7 63.6h1v1h-1zM409.0 56.1h1v1h-1zM403.2 55.4h1v1h-1zM425.1 55.9h1v1h-1zM430.3 52.0h1v1h-1zM430.9 55.7h1v1h-1zM437.9 58.5h1v1h-1zM410.9 55.4h1v1h-1zM423.2 62.6h1v1h-1zM440.5 59.4h1v1h-1zM416.3 57.4h1v1h-1zM417.2 66.6h1v1h-1zM424.0 62.4h1v1h-1zM398.5 59.9h1v1h-1zM434.4 67.0h1v1h-1zM412.4 64.8h1v1h-1zM429.2 56.8h1v1h-1zM401.3 60.9h1v1h-1zM415.9 57.8h1v1h-1zM419.6 53.8h1v1h-1zM430.2 67.2h1v1h-1zM421.0 65.6h1v1h-1zM422.3 54.5h1v1h-1zM438.6 61.5h1v1h-1zM406.2 53.0h1v1h-1zM413.9 63.9h1v1h-1zM436.2 59.4h1v1h-1zM414.2 58.4h1v1h-1zM420.8 64.6h1v1h-1zM416.5 59.6h1v1h-1zM441.5 58.5h1v1h-1zM425.2 63.2h1v1h-1zM430.2 58.4h1v1h-1zM398.5 63.1h1v1h-1zM411.4 59.6h1v1h-1zM428.8 62.9h1v1h-1zM402.4 62.1h1v1h-1zM430.6 62.8h1v1h-1zM438.4 55.5h1v1h-1zM429.6 67.1h1v1h-1zM427.5 58.9h1v1h-1zM406.4 66.7h1v1h-1zM400.9 57.2h1v1h-1zM439.4 58.5h1v1h-1zM412.6 58.5h1v1h-1zM437.3 64.2h1v1h-1zM424.6 57.9h1v1h-1zM439.0 61.3h1v1h-1zM398.4 53.3h1v1h-1zM431.7 57.7h1v1h-1zM428.4 60.5h1v1h-1zM419.3 59.1h1v1h-1zM402.3 52.0h1v1h-1zM403.7 61.6h1v1h-1zM438.9 55.7h1v1h-1zM411.2 67.4h1v1h-1zM429.1 58.8h1v1h-1zM441.6 68.7h1v1h-1zM404.6 62.3h1v1h-1zM399.3 61.4h1v1h-1zM398.6 57.6h1v1h-1zM413.1 59.1h1v1h-1zM433.0 61.4h1v1h-1zM431.6 51.7h1v1h-1zM420.7 63.6h1v1h-1zM398.0 54.9h1v1h-1zM405.3 58.5h1v1h-1zM401.8 48.5h1v1h-1zM402.0 61.4h1v1h-1zM401.3 62.6h1v1h-1zM398.6 60.7h1v1h-1zM416.5 60.9h1v1h-1zM409.1 58.1h1v1h-1zM409.6 60.2h1v1h-1zM406.4 64.5h1v1h-1zM431.2 57.9h1v1h-1zM407.0 61.6h1v1h-1zM402.1 62.5h1v1h-1zM406.7 58.6h1v1h-1zM405.4 60.5h1v1h-1zM409.4 60.5h1v1h-1zM410.8 57.6h1v1h-1zM404.6 69.4h1v1h-1zM422.6 57.8h1v1h-1zM402.0 66.5h1v1h-1zM437.8 63.9h1v1h-1zM436.3 51.3h1v1h-1zM416.0 60.6h1v1h-1zM427.9 63.8h1v1h-1zM404.1 62.9h1v1h-1zM407.1 55.9h1v1h-1zM437.7 60.6h1v1h-1zM415.0 54.7h1v1h-1zM428.5 55.4h1v1h-1zM432.3 58.6h1v1h-1zM426.4 60.3h1v1h-1zM414.1 66.1h1v1h-1zM410.8 61.0h1v1h-1zM399.2 63.9h1v1h-1zM435.2 54.7h1v1h-1zM425.9 54.9h1v1h-1zM399.2 57.6h1v1h-1zM433.5 66.7h1v1h-1zM406.8 54.1h1v1h-1zM434.5 53.1h1v1h-1zM401.8 59.3h1v1h-1zM398.3 64.4h1v1h-1zM434.9 52.9h1v1h-1zM436.6 58.5h1v1h-1zM416.0 54.0h1v1h-1zM438.0 65.5h1v1h-1zM400.0 62.4h1v1h-1zM401.8 60.7h1v1h-1zM441.3 59.4h1v1h-1zM439.5 58.6h1v1h-1zM426.0 60.1h1v1h-1zM408.9 56.9h1v1h-1zM427.0 56.0h1v1h-1zM398.0 55.0h1v1h-1zM409.7 59.6h1v1h-1zM434.5 56.3h1v1h-1zM404.6 63.1h1v1h-1zM401.1 51.0h1v1h-1zM415.9 61.9h1v1h-1zM424.9 61.7h1v1h-1zM407.9 64.5h1v1h-1zM432.7 58.5h1v1h-1zM437.6 53.4h1v1h-1zM404.2 55.8h1v1h-1zM411.0 64.2h1v1h-1zM433.6 58.3h1v1h-1zM416.4 57.9h1v1h-1zM428.8 57.2h1v1h-1zM407.9 59.3h1v1h-1zM432.7 58.6h1v1h-1zM433.6 53.2h1v1h-1zM430.3 57.1h1v1h-1zM436.1 63.7h1v1h-1zM411.3 65.5h1v1h-1zM417.1 59.0h1v1h-1zM432.0 57.4h1v1h-1zM427.5 65.1h1v1h-1zM418.0 58.8h1v1h-1zM398.6 54.7h1v1h-1zM404.2 59.0h1v1h-1zM414.1 62.4h1v1h-1zM429.1 65.9h1v1h-1zM437.5 57.6h1v1h-1zM442.2 61.7h1v1h-1zM411.0 58.2h1v1h-1zM441.0 64.2h1v1h-1zM410.9 60.6h1v1h-1zM402.9 60.6h1v1h-1zM438.9 55.5h1v1h-1zM400.4 58.2h1v1h-1zM415.2 58.2h1v1h-1zM422.5 63.0h1v1h-1zM434.5 59.5h1v1h-1zM417.7 58.7h1v1h-1zM413.7 58.1h1v1h-1zM409.0 59.6h1v1h-1zM422.4 60.5h1v1h-1zM419.4 54.2h1v1h-1zM416.7 60.0h1v1h-1zM425.2 60.0h1v1h-1zM416.6 59.7h1v1h-1zM426.0 53.5h1v1h-1zM416.3 59.0h1v1h-1zM430.3 54.3h1v1h-1zM403.7 61.0h1v1h-1zM409.9 64.9h1v1h-1zM407.6 63.1h1v1h-1zM436.0 58.1h1v1h-1zM420.2 57.3h1v1h-1zM439.6 57.2h1v1h-1zM419.1 61.0h1v1h-1zM439.3 56.8h1v1h-1zM428.4 57.3h1v1h-1zM436.9 49.3h1v1h-1zM407.3 56.1h1v1h-1zM442.7 56.3h1v1h-1zM407.4 57.3h1v1h-1zM428.9 64.5h1v1h-1zM422.2 54.0h1v1h-1zM409.7 54.1h1v1h-1zM400.4 62.0h1v1h-1zM398.8 55.5h1v1h-1zM398.1 58.9h1v1h-1zM418.7 60.2h1v1h-1zM419.2 59.6h1v1h-1zM400.5 56.4h1v1h-1zM398.6 63.3h1v1h-1zM398.3 65.6h1v1h-1zM420.1 55.4h1v1h-1zM429.2 58.4h1v1h-1zM437.2 63.4h1v1h-1zM414.8 58.7h1v1h-1zM428.6 55.4h1v1h-1zM405.0 57.8h1v1h-1zM398.9 62.9h1v1h-1zM420.0 55.5h1v1h-1zM408.5 60.6h1v1h-1zM411.7 61.1h1v1h-1zM400.7 56.9h1v1h-1zM425.9 61.8h1v1h-1zM436.3 62.2h1v1h-1zM428.6 63.6h1v1h-1zM401.4 63.3h1v1h-1zM406.3 53.4h1v1h-1zM403.4 63.2h1v1h-1zM442.5 61.9h1v1h-1zM411.2 63.5h1v1h-1zM401.7 56.1h1v1h-1zM432.4 63.2h1v1h-1zM404.0 61.0h1v1h-1zM399.7 54.8h1v1h-1zM410.4 64.7h1v1h-1zM398.6 56.3h1v1h-1zM414.3 55.4h1v1h-1zM413.3 61.1h1v1h-1zM407.9 57.1h1v1h-1zM419.0 61.0h1v1h-1zM431.0 58.5h1v1h-1zM409.1 60.7h1v1h-1zM406.3 62.9h1v1h-1zM423.0 59.4h1v1h-1zM412.6 63.1h1v1h-1zM405.8 63.0h1v1h-1zM439.9 56.1h1v1h-1zM403.9 63.0h1v1h-1zM411.6 62.1h1v1h-1zM407.1 60.1h1v1h-1zM432.2 64.1h1v1h-1zM424.4 66.3h1v1h-1zM437.8 62.6h1v1h-1zM406.2 53.6h1v1h-1zM433.0 61.4h1v1h-1zM424.6 59.0h1v1h-1zM400.6 58.4h1v1h-1zM405.4 60.9h1v1h-1zM433.8 58.2h1v1h-1zM413.2 66.2h1v1h-1zM402.2 60.7h1v1h-1zM401.2 59.6h1v1h-1zM407.1 62.7h1v1h-1zM423.6 62.8h1v1h-1zM401.3 64.4h1v1h-1zM402.0 62.1h1v1h-1zM434.7 59.4h1v1h-1zM405.9 60.1h1v1h-1zM425.3 50.8h1v1h-1zM433.5 53.6h1v1h-1zM428.8 63.8h1v1h-1zM422.5 58.2h1v1h-1zM413.9 66.9h1v1h-1zM426.5 66.9h1v1h-1zM410.2 54.5h1v1h-1zM429.7 60.8h1v1h-1zM400.7 56.4h1v1h-1zM398.1 61.2h1v1h-1zM424.4 58.6h1v1h-1zM415.2 58.6h1v1h-1zM421.5 58.4h1v1h-1zM424.5 59.5h1v1h-1zM414.8 62.7h1v1h-1zM401.2 56.3h1v1h-1zM420.2 61.6h1v1h-1zM407.0 56.7h1v1h-1zM416.3 61.7h1v1h-1zM398.4 60.9h1v1h-1zM440.7 56.4h1v1h-1zM402.9 60.1h1v1h-1zM442.6 56.6h1v1h-1zM431.3 56.1h1v1h-1zM411.0 64.3h1v1h-1zM419.4 52.2h1v1h-1zM404.2 61.8h1v1h-1zM398.2 62.4h1v1h-1zM416.0 57.2h1v1h-1zM399.4 64.0h1v1h-1zM402.8 63.3h1v1h-1zM399.3 54.3h1v1h-1zM418.8 61.7h1v1h-1zM424.6 61.5h1v1h-1zM440.7 56.6h1v1h-1zM405.2 61.9h1v1h-1zM433.8 62.6h1v1h-1zM420.6 56.6h1v1h-1zM398.2 51.5h1v1h-1zM410.1 61.2h1v1h-1zM441.8 56.5h1v1h-1zM428.0 52.6h1v1h-1zM424.7 58.0h1v1h-1zM426.3 49.9h1v1h-1zM440.5 58.2h1v1h-1zM418.1 65.7h1v1h-1zM401.4 48.0h1v1h-1zM398.9 61.4h1v1h-1zM419.6 55.8h1v1h-1zM402.8 57.9h1v1h-1zM439.3 55.9h1v1h-1zM441.6 62.2h1v1h-1zM419.4 59.5h1v1h-1zM421.7 56.4h1v1h-1zM401.2 54.2h1v1h-1zM432.3 57.8h1v1h-1zM412.8 64.3h1v1h-1zM429.2 54.6h1v1h-1zM412.9 61.3h1v1h-1zM431.8 61.0h1v1h-1zM400.9 51.4h1v1h-1zM441.5 64.1h1v1h-1zM425.5 59.4h1v1h-1zM409.3 68.7h1v1h-1zM412.2 66.7h1v1h-1zM404.1 58.6h1v1h-1zM416.7 58.9h1v1h-1zM437.0 55.5h1v1h-1zM415.2 54.0h1v1h-1zM408.7 62.8h1v1h-1zM414.5 58.5h1v1h-1zM412.4 57.9h1v1h-1zM412.7 58.9h1v1h-1zM417.1 62.4h1v1h-1zM427.3 63.4h1v1h-1zM427.2 59.6h1v1h-1zM398.4 58.8h1v1h-1zM439.5 60.0h1v1h-1zM409.6 68.1h1v1h-1zM413.5 51.1h1v1h-1zM417.1 54.8h1v1h-1zM437.7 61.5h1v1h-1zM398.7 60.2h1v1h-1zM434.1 64.6h1v1h-1zM425.1 65.0h1v1h-1zM418.0 67.7h1v1h-1zM411.8 56.3h1v1h-1zM418.0 62.1h1v1h-1zM426.3 58.6h1v1h-1zM414.0 63.6h1v1h-1zM438.7 60.3h1v1h-1zM419.6 63.2h1v1h-1zM414.3 56.5h1v1h-1zM437.7 60.3h1v1h-1zM398.4 57.5h1v1h-1zM437.3 58.5h1v1h-1zM415.7 57.7h1v1h-1zM401.5 55.4h1v1h-1zM426.0 64.2h1v1h-1zM405.5 60.8h1v1h-1zM415.3 64.1h1v1h-1zM418.1 55.5h1v1h-1zM441.2 51.6h1v1h-1zM425.3 56.9h1v1h-1zM414.1 59.0h1v1h-1zM423.7 62.9h1v1h-1zM424.0 63.9h1v1h-1zM401.8 64.6h1v1h-1zM410.9 65.9h1v1h-1zM402.7 62.6h1v1h-1zM400.8 60.1h1v1h-1zM408.8 56.5h1v1h-1zM398.6 62.4h1v1h-1zM403.1 57.5h1v1h-1zM403.0 56.3h1v1h-1zM418.3 62.0h1v1h-1zM412.9 60.5h1v1h-1zM400.5 63.1h1v1h-1zM442.7 56.7h1v1h-1zM429.1 64.4h1v1h-1zM425.5 61.1h1v1h-1zM423.5 58.9h1v1h-1zM427.9 56.5h1v1h-1zM403.4 55.2h1v1h-1zM427.9 54.0h1v1h-1zM410.3 65.4h1v1h-1zM403.7 53.8h1v1h-1zM407.1 62.2h1v1h-1zM433.3 58.6h1v1h-1zM412.2 57.2h1v1h-1zM436.0 57.7h1v1h-1zM442.7 59.2h1v1h-1zM439.6 63.3h1v1h-1zM415.4 61.9h1v1h-1zM419.5 59.6h1v1h-1zM421.4 54.0h1v1h-1zM400.0 52.3h1v1h-1zM429.4 67.3h1v1h-1zM431.9 55.5h1v1h-1zM403.6 53.1h1v1h-1zM409.1 64.2h1v1h-1zM423.0 53.4h1v1h-1zM440.4 62.7h1v1h-1zM409.9 63.4h1v1h-1zM436.1 60.6h1v1h-1zM399.4 63.6h1v1h-1zM418.7 53.9h1v1h-1zM407.4 54.6h1v1h-1zM435.2 58.8h1v1h-1zM403.1 59.6h1v1h-1zM400.1 59.3h1v1h-1zM410.9 61.5h1v1h-1zM429.4 56.6h1v1h-1zM428.2 50.8h1v1h-1zM409.2 61.3h1v1h-1zM427.9 58.7h1v1h-1zM401.8 63.0h1v1h-1zM414.0 68.2h1v1h-1zM435.9 59.9h1v1h-1zM402.3 62.0h1v1h-1zM405.2 55.9h1v1h-1zM410.0 63.3h1v1h-1zM404.1 61.0h1v1h-1zM417.8 60.6h1v1h-1zM412.6 63.4h1v1h-1zM421.0 54.9h1v1h-1zM398.3 61.9h1v1h-1zM432.5 61.5h1v1h-1zM411.6 66.1h1v1h-1zM399.4 52.1h1v1h-1zM422.2 59.2h1v1h-1zM402.7 68.6h1v1h-1zM404.1 57.9h1v1h-1zM429.3 57.8h1v1h-1zM399.5 66.9h1v1h-1zM440.0 69.9h1v1h-1zM405.3 60.1h1v1h-1zM421.5 56.6h1v1h-1zM400.9 57.1h1v1h-1zM443.0 58.0h1v1h-1zM440.3 56.1h1v1h-1zM424.0 56.3h1v1h-1zM406.1 60.3h1v1h-1zM410.1 59.7h1v1h-1zM420.2 61.6h1v1h-1zM406.6 59.7h1v1h-1zM420.5 54.6h1v1h-1zM437.6 62.6h1v1h-1zM401.7 60.6h1v1h-1zM406.3 57.2h1v1h-1zM440.8 58.5h1v1h-1zM435.0 60.9h1v1h-1zM398.6 59.9h1v1h-1zM400.2 59.1h1v1h-1zM423.5 62.7h1v1h-1zM433.6 64.0h1v1h-1zM441.8 58.3h1v1h-1zM401.2 59.5h1v1h-1zM415.1 55.0h1v1h-1zM416.9 58.9h1v1h-1zM434.6 61.5h1v1h-1zM415.6 63.1h1v1h-1zM398.7 60.3h1v1h-1zM399.6 59.2h1v1h-1zM416.3 56.6h1v1h-1zM401.3 60.5h1v1h-1zM416.9 55.1h1v1h-1zM420.6 60.1h1v1h-1zM416.6 59.7h1v1h-1zM420.1 55.8h1v1h-1zM398.2 60.9h1v1h-1zM426.1 58.7h1v1h-1zM398.6 62.1h1v1h-1zM416.4 57.6h1v1h-1zM401.9 61.6h1v1h-1zM411.8 66.0h1v1h-1zM432.1 60.3h1v1h-1zM433.9 62.8h1v1h-1zM436.4 56.9h1v1h-1zM426.0 58.1h1v1h-1zM417.9 51.8h1v1h-1zM431.8 59.0h1v1h-1zM399.4 54.9h1v1h-1zM398.5 60.0h1v1h-1zM436.2 51.1h1v1h-1zM427.5 56.0h1v1h-1zM413.0 59.9h1v1h-1zM405.6 61.2h1v1h-1zM441.4 52.8h1v1h-1zM404.1 57.9h1v1h-1zM405.5 70.1h1v1h-1zM439.7 62.8h1v1h-1zM429.5 60.2h1v1h-1zM434.4 48.2h1v1h-1zM439.5 55.8h1v1h-1zM440.5 61.7h1v1h-1zM411.3 60.5h1v1h-1zM405.3 61.4h1v1h-1zM419.3 63.5h1v1h-1zM410.9 60.0h1v1h-1zM408.9 63.1h1v1h-1zM420.1 52.2h1v1h-1zM436.9 69.9h1v1h-1zM418.5 58.3h1v1h-1zM409.0 56.9h1v1h-1zM403.2 65.7h1v1h-1zM433.5 62.0h1v1h-1zM423.1 63.6h1v1h-1zM404.2 57.0h1v1h-1zM432.3 60.7h1v1h-1zM399.7 62.5h1v1h-1zM399.9 54.9h1v1h-1zM407.1 58.7h1v1h-1zM430.8 58.6h1v1h-1zM417.5 58.4h1v1h-1zM425.9 56.7h1v1h-1zM437.6 54.4h1v1h-1zM442.2 61.3h1v1h-1zM433.8 60.6h1v1h-1zM413.4 64.3h1v1h-1zM418.4 59.3h1v1h-1zM398.0 56.8h1v1h-1zM399.6 53.6h1v1h-1zM413.4 59.9h1v1h-1zM408.5 58.3h1v1h-1zM417.4 67.8h1v1h-1zM398.1 69.0h1v1h-1zM440.0 66.0h1v1h-1zM415.4 55.8h1v1h-1zM402.3 53.8h1v1h-1zM423.2 58.6h1v1h-1zM420.0 55.9h1v1h-1zM426.7 65.4h1v1h-1zM442.4 60.0h1v1h-1zM413.5 57.9h1v1h-1z" fill="#50c2de" fill-opacity="0.7"/>
<path d="M398.4 63.6h1v1h-1zM398.8 50.3h1v1h-1zM398.6 44.7h1v1h-1zM398.1 43.1h1v1h-1zM398.3 43.0h1v1h-1zM398.8 61.3h1v1h-1zM398.7 49.0h1v1h-1zM399.0 55.8h1v1h-1zM397.8 48.4h1v1h-1zM398.7 65.8h1v1h-1zM398.6 53.4h1v1h-1zM398.0 51.9h1v1h-1zM399.0 66.3h1v1h-1zM398.3 62.4h1v1h-1zM398.6 67.4h1v1h-1zM399.1 61.0h1v1h-1zM398.4 44.9h1v1h-1zM398.6 51.9h1v1h-1zM398.5 61.7h1v1h-1zM398.9 44.9h1v1h-1zM398.6 51.4h1v1h-1zM397.8 41.9h1v1h-1zM397.7 51.3h1v1h-1zM399.0 54.7h1v1h-1zM398.7 43.3h1v1h-1zM397.8 55.9h1v1h-1zM398.9 42.4h1v1h-1zM398.6 52.8h1v1h-1zM398.5 58.8h1v1h-1zM398.7 59.9h1v1h-1zM399.0 51.0h1v1h-1zM398.1 43.2h1v1h-1zM397.7 67.3h1v1h-1zM398.6 54.3h1v1h-1zM398.1 52.6h1v1h-1zM398.7 39.2h1v1h-1zM398.6 60.8h1v1h-1zM398.6 61.6h1v1h-1zM398.8 59.6h1v1h-1zM397.8 51.7h1v1h-1zM397.9 51.9h1v1h-1zM398.4 62.7h1v1h-1zM397.9 66.0h1v1h-1zM398.4 55.8h1v1h-1zM398.0 57.2h1v1h-1zM399.1 63.2h1v1h-1zM398.9 48.2h1v1h-1zM398.8 43.3h1v1h-1zM398.9 60.6h1v1h-1zM398.0 56.5h1v1h-1zM398.4 48.2h1v1h-1zM398.5 63.2h1v1h-1zM397.7 60.6h1v1h-1zM398.0 39.0h1v1h-1zM398.8 53.2h1v1h-1zM398.0 59.1h1v1h-1zM399.0 65.2h1v1h-1zM398.3 59.3h1v1h-1zM398.4 45.1h1v1h-1zM397.8 42.5h1v1h-1z" fill="#4cb8d8" fill-opacity="0.7"/>
<path d="M453.1 78.5h1v1h-1zM460.8 75.1h1v1h-1zM460.0 77.8h1v1h-1zM458.9 76.3h1v1h-1zM458.9 78.4h1v1h-1zM456.4 77.2h1v1h-1zM457.5 76.1h1v1h-1zM448.8 78.5h1v1h-1zM451.5 79.5h1v1h-1zM452.9 70.2h1v1h-1zM459.2 77.1h1v1h-1zM463.1 75.2h1v1h-1zM457.3 73.7h1v1h-1zM456.9 80.9h1v1h-1zM462.7 79.9h1v1h-1zM456.5 73.9h1v1h-1zM460.7 73.6h1v1h-1zM459.8 79.4h1v1h-1zM452.5 75.1h1v1h-1zM459.3 76.0h1v1h-1zM458.9 71.1h1v1h-1zM453.2 76.6h1v1h-1zM453.7 80.4h1v1h-1zM452.7 75.6h1v1h-1zM463.7 76.6h1v1h-1zM466.8 82.2h1v1h-1zM461.0 79.6h1v1h-1zM464.6 81.3h1v1h-1zM452.4 78.9h1v1h-1zM463.9 80.6h1v1h-1zM466.2 72.0h1v1h-1zM464.8 74.5h1v1h-1zM454.1 72.0h1v1h-1zM462.5 83.7h1v1h-1zM457.5 77.5h1v1h-1zM462.5 76.6h1v1h-1zM455.3 74.7h1v1h-1zM458.1 73.9h1v1h-1zM455.6 68.6h1v1h-1zM460.0 83.7h1v1h-1zM457.6 76.7h1v1h-1zM462.7 77.2h1v1h-1zM461.5 72.8h1v1h-1zM459.7 76.8h1v1h-1zM457.9 78.1h1v1h-1zM456.7 76.7h1v1h-1zM458.0 78.8h1v1h-1zM461.1 74.5h1v1h-1zM458.6 77.9h1v1h-1zM459.2 79.7h1v1h-1zM457.9 78.7h1v1h-1zM457.7 78.1h1v1h-1zM455.2 76.7h1v1h-1zM450.2 74.0h1v1h-1zM460.4 78.6h1v1h-1zM460.4 75.8h1v1h-1zM454.0 74.1h1v1h-1zM466.0 79.3h1v1h-1zM453.1 72.1h1v1h-1zM462.2 75.3h1v1h-1zM459.1 79.3h1v1h-1zM459.3 79.8h1v1h-1zM462.8 75.9h1v1h-1zM461.9 77.2h1v1h-1zM458.1 78.6h1v1h-1zM453.6 76.8h1v1h-1zM452.9 74.7h1v1h-1zM458.8 78.3h1v1h-1zM464.6 77.5h1v1h-1zM461.7 77.3h1v1h-1zM457.9 80.3h1v1h-1zM459.4 77.9h1v1h-1zM460.9 75.6h1v1h-1zM465.2 77.5h1v1h-1zM454.8 82.8h1v1h-1zM461.1 74.8h1v1h-1zM459.2 76.2h1v1h-1zM454.8 74.6h1v1h-1zM453.8 78.0h1v1h-1zM463.3 73.2h1v1h-1zM459.4 78.3h1v1h-1zM457.1 79.3h1v1h-1zM458.4 74.7h1v1h-1zM462.1 74.4h1v1h-1zM458.4 72.5h1v1h-1zM464.7 77.1h1v1h-1zM456.9 73.6h1v1h-1zM454.7 75.1h1v1h-1zM457.5 75.7h1v1h-1zM454.1 74.9h1v1h-1zM456.6 79.5h1v1h-1zM463.2 81.8h1v1h-1zM465.2 70.6h1v1h-1zM460.7 74.5h1v1h-1zM458.8 77.7h1v1h-1zM454.2 73.8h1v1h-1zM453.8 75.4h1v1h-1zM459.6 77.6h1v1h-1zM458.7 81.2h1v1h-1zM455.6 80.5h1v1h-1zM456.2 76.1h1v1h-1zM464.6 77.4h1v1h-1zM462.2 75.9h1v1h-1zM458.2 76.5h1v1h-1zM459.0 73.5h1v1h-1zM463.4 71.7h1v1h-1zM459.5 75.9h1v1h-1zM459.0 79.9h1v1h-1zM451.4 79.3h1v1h-1zM450.9 71.4h1v1h-1zM450.0 76.4h1v1h-1zM448.6 75.1h1v1h-1zM458.0 77.8h1v1h-1zM459.4 73.7h1v1h-1zM454.4 79.7h1v1h-1zM459.9 76.4h1v1h-1zM459.9 78.7h1v1h-1zM457.7 79.6h1v1h-1zM451.8 71.2h1v1h-1zM464.1 76.3h1v1h-1zM463.8 81.5h1v1h-1zM455.6 77.0h1v1h-1zM466.2 80.1h1v1h-1zM458.2 78.2h1v1h-1zM454.7 75.5h1v1h-1zM456.3 77.8h1v1h-1zM450.2 80.1h1v1h-1zM456.6 80.9h1v1h-1zM451.3 81.3h1v1h-1zM462.8 73.7h1v1h-1zM459.4 79.5h1v1h-1zM452.2 72.9h1v1h-1zM460.4 76.6h1v1h-1zM450.8 76.4h1v1h-1zM458.7 78.9h1v1h-1zM460.0 77.9h1v1h-1zM458.3 80.7h1v1h-1zM453.3 75.2h1v1h-1zM457.6 79.5h1v1h-1zM457.3 78.2h1v1h-1zM458.3 77.0h1v1h-1zM464.3 73.4h1v1h-1zM465.1 78.7h1v1h-1zM464.7 77.9h1v1h-1zM455.4 79.3h1v1h-1zM454.9 76.9h1v1h-1zM458.1 76.2h1v1h-1zM459.8 78.2h1v1h-1zM449.4 78.4h1v1h-1zM455.4 79.0h1v1h-1zM465.5 82.7h1v1h-1zM452.8 75.1h1v1h-1zM454.9 83.0h1v1h-1zM455.0 68.1h1v1h-1zM460.1 79.9h1v1h-1zM457.7 74.5h1v1h-1zM456.7 83.0h1v1h-1zM451.6 74.3h1v1h-1zM460.6 80.2h1v1h-1zM458.0 74.0h1v1h-1zM455.2 73.6h1v1h-1zM458.1 79.4h1v1h-1zM461.3 79.6h1v1h-1zM451.8 74.9h1v1h-1zM451.5 84.2h1v1h-1zM453.7 76.0h1v1h-1zM454.3 81.7h1v1h-1zM445.2 74.0h1v1h-1zM455.5 74.1h1v1h-1zM462.7 77.3h1v1h-1zM456.6 74.0h1v1h-1zM462.3 78.4h1v1h-1zM445.9 70.6h1v1h-1zM457.5 77.5h1v1h-1zM463.8 75.3h1v1h-1zM464.6 74.1h1v1h-1zM455.9 77.6h1v1h-1zM454.5 76.3h1v1h-1zM459.6 75.6h1v1h-1zM452.9 79.4h1v1h-1zM456.5 77.9h1v1h-1zM451.0 78.1h1v1h-1zM458.3 81.0h1v1h-1zM458.0 76.8h1v1h-1zM464.8 79.5h1v1h-1zM459.5 75.7h1v1h-1zM455.2 78.8h1v1h-1zM457.6 78.6h1v1h-1zM452.6 75.4h1v1h-1zM458.1 72.5h1v1h-1zM457.1 73.2h1v1h-1zM459.8 74.2h1v1h-1zM461.9 78.7h1v1h-1zM449.6 76.6h1v1h-1zM459.4 76.1h1v1h-1zM461.1 78.4h1v1h-1zM453.0 79.2h1v1h-1zM466.0 81.2h1v1h-1zM455.0 75.2h1v1h-1zM468.4 78.6h1v1h-1zM461.3 79.1h1v1h-1zM462.1 74.2h1v1h-1zM459.1 77.4h1v1h-1zM462.2 74.3h1v1h-1zM453.6 76.3h1v1h-1zM454.6 78.2h1v1h-1zM449.7 71.9h1v1h-1zM460.3 74.4h1v1h-1zM455.0 74.6h1v1h-1zM461.2 77.3h1v1h-1zM460.5 74.8h1v1h-1zM452.4 78.1h1v1h-1zM461.0 74.4h1v1h-1zM459.1 75.5h1v1h-1zM458.8 78.8h1v1h-1zM459.9 77.9h1v1h-1zM457.9 77.4h1v1h-1zM458.1 76.9h1v1h-1zM462.4 80.0h1v1h-1zM453.8 81.1h1v1h-1zM452.9 75.9h1v1h-1zM454.8 74.8h1v1h-1zM462.4 73.9h1v1h-1zM456.6 82.2h1v1h-1zM466.1 74.3h1v1h-1zM445.0 73.0h1v1h-1zM455.0 77.8h1v1h-1zM456.1 80.1h1v1h-1zM459.1 73.3h1v1h-1zM463.6 76.6h1v1h-1zM457.2 72.7h1v1h-1zM453.7 74.9h1v1h-1zM461.5 81.8h1v1h-1zM464.5 77.5h1v1h-1zM447.2 76.2h1v1h-1zM460.4 77.2h1v1h-1zM459.2 77.8h1v1h-1zM454.5 76.7h1v1h-1zM456.0 73.5h1v1h-1zM459.2 73.5h1v1h-1zM458.1 83.0h1v1h-1zM457.0 74.7h1v1h-1zM453.1 80.6h1v1h-1zM459.2 74.9h1v1h-1zM455.2 80.9h1v1h-1zM458.4 79.1h1v1h-1zM455.5 76.4h1v1h-1zM458.8 83.0h1v1h-1zM461.1 74.2h1v1h-1zM459.0 76.3h1v1h-1zM460.8 74.4h1v1h-1zM452.2 74.7h1v1h-1zM459.9 75.9h1v1h-1zM459.2 74.1h1v1h-1zM455.4 76.0h1v1h-1zM457.3 81.7h1v1h-1zM446.2 71.8h1v1h-1zM458.3 73.3h1v1h-1zM456.3 74.2h1v1h-1zM448.4 75.6h1v1h-1z" fill="#c030e0" fill-opacity="0.9"/>
<path d="M467.0 76.5h1v1h-1zM464.4 84.0h1v1h-1zM462.3 79.0h1v1h-1zM459.8 83.6h1v1h-1zM479.4 77.9h1v1h-1zM447.9 67.9h1v1h-1zM447.7 69.2h1v1h-1zM457.8 65.5h1v1h-1zM459.8 84.9h1v1h-1zM455.9 79.9h1v1h-1zM450.5 73.7h1v1h-1zM446.3 70.1h1v1h-1zM455.5 79.5h1v1h-1zM451.7 76.1h1v1h-1zM453.7 79.2h1v1h-1zM448.3 71.1h1v1h-1zM470.0 69.3h1v1h-1zM462.0 87.9h1v1h-1zM474.6 70.4h1v1h-1zM453.4 76.8h1v1h-1zM458.5 86.3h1v1h-1zM455.8 64.3h1v1h-1zM458.2 81.9h1v1h-1zM455.7 77.5h1v1h-1zM456.5 76.0h1v1h-1zM440.4 78.9h1v1h-1zM455.6 68.8h1v1h-1zM464.2 61.6h1v1h-1zM440.6 90.1h1v1h-1zM454.9 75.0h1v1h-1zM463.1 83.2h1v1h-1zM469.3 84.7h1v1h-1zM457.2 79.0h1v1h-1zM462.1 80.2h1v1h-1zM473.7 81.9h1v1h-1zM469.6 87.9h1v1h-1zM454.0 80.4h1v1h-1zM452.6 85.7h1v1h-1zM467.1 75.0h1v1h-1zM460.0 74.1h1v1h-1zM453.1 77.6h1v1h-1zM455.9 79.8h1v1h-1zM460.8 80.7h1v1h-1zM456.2 90.5h1v1h-1zM455.7 82.8h1v1h-1zM455.9 77.5h1v1h-1zM444.7 90.8h1v1h-1zM473.5 79.3h1v1h-1zM468.9 79.5h1v1h-1zM471.5 80.4h1v1h-1zM456.8 74.7h1v1h-1zM459.1 69.5h1v1h-1zM463.1 77.9h1v1h-1zM465.3 74.9h1v1h-1zM441.7 71.0h1v1h-1zM461.2 77.8h1v1h-1zM449.1 75.6h1v1h-1zM457.3 72.9h1v1h-1zM452.1 64.7h1v1h-1zM473.2 75.8h1v1h-1zM462.8 89.2h1v1h-1zM457.7 83.2h1v1h-1zM470.4 84.5h1v1h-1zM457.4 76.9h1v1h-1zM451.5 84.3h1v1h-1zM456.3 72.4h1v1h-1zM454.7 73.9h1v1h-1zM458.4 80.6h1v1h-1zM465.5 67.1h1v1h-1zM456.9 77.4h1v1h-1z" fill="#d060e0" fill-opacity="0.5"/>
<text x="457.0" y="45.0" font-size="7.7" text-anchor="start" font-weight="normal" fill="#2a2a2a" stroke="#2a2a2a" stroke-width="0.1" >SVEC</text>
<line x1="452.4" y1="41.9" x2="441.5" y2="50.2" stroke="#111" stroke-width="1.3"/>
<polygon points="437.3,53.4 441.3,46.2 441.5,50.2 445.3,51.5" fill="#111"/>
<text x="482.4" y="107.6" font-size="7.7" text-anchor="start" font-weight="normal" fill="#2a2a2a" stroke="#2a2a2a" stroke-width="0.1" >LC</text>
<line x1="485.8" y1="98.4" x2="477.1" y2="88.5" stroke="#111" stroke-width="1.3"/>
<polygon points="473.6,84.6 481.0,88.0 477.1,88.5 476.1,92.4" fill="#111"/>
<text x="353.0" y="184.0" font-size="10.5" text-anchor="start" font-weight="bold" fill="#111" stroke="#111" stroke-width="0.1" >D</text>
<text x="447.0" y="191.8" font-size="9.4" text-anchor="middle" font-weight="normal" fill="#222" stroke="#222" stroke-width="0.1" >Gated LCs and SVECs</text>
<rect x="395.5" y="201.5" width="106.5" height="96.8" fill="none" stroke="#333" stroke-width="1.2"/>
<text x="388.2" y="282.7" font-size="7.7" text-anchor="end" font-weight="normal" fill="#2a2a2a" stroke="#2a2a2a" stroke-width="0.1" >50</text>
<text x="415.8" y="314.7" font-size="7.7" text-anchor="middle" font-weight="normal" fill="#2a2a2a" stroke="#2a2a2a" stroke-width="0.1" >50</text>
<text x="388.2" y="264.2" font-size="7.7" text-anchor="end" font-weight="normal" fill="#2a2a2a" stroke="#2a2a2a" stroke-width="0.1" >100</text>
<text x="435.8" y="314.7" font-size="7.7" text-anchor="middle" font-weight="normal" fill="#2a2a2a" stroke="#2a2a2a" stroke-width="0.1" >100</text>
<text x="388.2" y="245.7" font-size="7.7" text-anchor="end" font-weight="normal" fill="#2a2a2a" stroke="#2a2a2a" stroke-width="0.1" >150</text>
<text x="455.8" y="314.7" font-size="7.7" text-anchor="middle" font-weight="normal" fill="#2a2a2a" stroke="#2a2a2a" stroke-width="0.1" >150</text>
<text x="388.2" y="227.2" font-size="7.7" text-anchor="end" font-weight="normal" fill="#2a2a2a" stroke="#2a2a2a" stroke-width="0.1" >200</text>
<text x="475.8" y="314.7" font-size="7.7" text-anchor="middle" font-weight="normal" fill="#2a2a2a" stroke="#2a2a2a" stroke-width="0.1" >200</text>
<text x="388.2" y="208.7" font-size="7.7" text-anchor="end" font-weight="normal" fill="#2a2a2a" stroke="#2a2a2a" stroke-width="0.1" >250</text>
<text x="495.8" y="314.7" font-size="7.7" text-anchor="middle" font-weight="normal" fill="#2a2a2a" stroke="#2a2a2a" stroke-width="0.1" >250</text>
<text transform="translate(446.4,324.5) scale(0.7,1)" x="0" y="3.24" font-size="9.0" text-anchor="middle" fill="#222" stroke="#222" stroke-width="0.35">FSC (X1000)</text>
<path d="M395.8 298.3v4M399.8 298.3v2.5M403.8 298.3v2.5M407.8 298.3v2.5M411.8 298.3v2.5M415.8 298.3v4M419.8 298.3v2.5M423.8 298.3v2.5M427.8 298.3v2.5M431.8 298.3v2.5M435.8 298.3v4M439.8 298.3v2.5M443.8 298.3v2.5M447.8 298.3v2.5M451.8 298.3v2.5M455.8 298.3v4M459.8 298.3v2.5M463.8 298.3v2.5M467.8 298.3v2.5M471.8 298.3v2.5M475.8 298.3v4M479.8 298.3v2.5M483.8 298.3v2.5M487.8 298.3v2.5M491.8 298.3v2.5M495.8 298.3v4M499.8 298.3v2.5M395.5 298.5h-4M395.5 294.8h-2.5M395.5 291.1h-2.5M395.5 287.4h-2.5M395.5 283.7h-2.5M395.5 280.0h-4M395.5 276.3h-2.5M395.5 272.6h-2.5M395.5 268.9h-2.5M395.5 265.2h-2.5M395.5 261.5h-4M395.5 257.8h-2.5M395.5 254.1h-2.5M395.5 250.4h-2.5M395.5 246.7h-2.5M395.5 243.0h-4M395.5 239.3h-2.5M395.5 235.6h-2.5M395.5 231.9h-2.5M395.5 228.2h-2.5M395.5 224.5h-4M395.5 220.8h-2.5M395.5 217.1h-2.5M395.5 213.4h-2.5M395.5 209.7h-2.5M395.5 206.0h-4M395.5 202.3h-2.5" stroke="#333" stroke-width="0.8" fill="none"/>
<text transform="translate(365.1,252.7) rotate(-90) scale(0.71,1)" x="0" y="3.24" font-size="9.0" text-anchor="middle" fill="#222" stroke="#222" stroke-width="0.35">SSC (X1000)</text>
<path d="M419.1 279.2h1v1h-1zM426.2 284.0h1v1h-1zM413.9 279.3h1v1h-1zM419.7 279.9h1v1h-1zM414.2 276.8h1v1h-1zM414.7 287.9h1v1h-1zM412.7 273.7h1v1h-1zM423.4 282.0h1v1h-1zM420.2 287.4h1v1h-1zM418.3 285.7h1v1h-1zM430.2 280.3h1v1h-1zM420.3 282.7h1v1h-1zM411.2 278.6h1v1h-1zM416.5 277.4h1v1h-1zM417.2 280.9h1v1h-1zM425.8 282.7h1v1h-1zM412.9 276.9h1v1h-1zM419.7 287.8h1v1h-1zM422.5 276.1h1v1h-1zM413.4 284.4h1v1h-1zM407.2 287.2h1v1h-1zM418.0 278.9h1v1h-1zM406.2 273.5h1v1h-1zM415.5 267.3h1v1h-1zM426.4 278.9h1v1h-1zM417.8 268.0h1v1h-1zM418.3 268.2h1v1h-1zM428.6 284.7h1v1h-1zM420.4 281.5h1v1h-1zM422.9 267.6h1v1h-1zM415.3 276.3h1v1h-1zM415.3 278.7h1v1h-1zM412.2 267.0h1v1h-1zM416.6 282.6h1v1h-1zM413.9 268.5h1v1h-1zM422.6 285.0h1v1h-1zM420.8 279.1h1v1h-1zM416.9 272.9h1v1h-1zM414.7 267.0h1v1h-1zM414.5 275.9h1v1h-1zM419.1 276.8h1v1h-1zM420.9 274.4h1v1h-1zM405.2 279.4h1v1h-1zM418.3 272.0h1v1h-1zM412.2 274.7h1v1h-1zM416.4 279.6h1v1h-1zM415.1 276.5h1v1h-1zM420.5 282.9h1v1h-1zM408.0 284.1h1v1h-1zM414.6 274.4h1v1h-1zM422.4 279.5h1v1h-1zM418.6 260.1h1v1h-1zM413.3 274.1h1v1h-1zM419.9 281.6h1v1h-1zM419.0 270.9h1v1h-1zM413.0 283.9h1v1h-1zM421.1 266.8h1v1h-1zM421.0 285.9h1v1h-1zM416.8 273.9h1v1h-1zM422.4 272.2h1v1h-1zM411.5 272.9h1v1h-1zM421.5 276.5h1v1h-1zM416.5 270.9h1v1h-1zM412.7 267.9h1v1h-1zM414.5 273.3h1v1h-1zM423.5 284.1h1v1h-1zM414.7 278.9h1v1h-1zM415.7 284.6h1v1h-1zM414.2 272.7h1v1h-1zM413.5 274.1h1v1h-1zM422.5 276.3h1v1h-1zM428.9 280.6h1v1h-1zM424.4 281.4h1v1h-1zM421.4 282.2h1v1h-1zM415.8 277.7h1v1h-1zM415.0 284.5h1v1h-1zM411.5 271.1h1v1h-1zM424.9 271.1h1v1h-1zM415.8 280.6h1v1h-1zM413.8 277.2h1v1h-1zM414.3 277.1h1v1h-1zM418.5 282.8h1v1h-1zM414.7 274.5h1v1h-1zM417.6 276.5h1v1h-1zM418.4 279.5h1v1h-1zM424.4 282.5h1v1h-1zM411.2 281.4h1v1h-1zM419.1 278.1h1v1h-1zM414.0 277.8h1v1h-1zM415.3 262.3h1v1h-1zM425.9 286.2h1v1h-1zM420.8 268.6h1v1h-1zM415.5 276.4h1v1h-1zM417.4 275.1h1v1h-1zM423.2 269.1h1v1h-1zM415.0 286.0h1v1h-1zM420.0 274.4h1v1h-1zM416.5 275.9h1v1h-1zM417.6 276.1h1v1h-1zM416.8 281.2h1v1h-1zM414.4 280.9h1v1h-1zM418.1 276.5h1v1h-1zM422.6 284.8h1v1h-1zM414.4 271.0h1v1h-1zM415.6 280.6h1v1h-1zM419.4 273.8h1v1h-1zM413.7 280.3h1v1h-1zM422.0 274.2h1v1h-1zM421.2 275.3h1v1h-1zM405.8 283.0h1v1h-1zM414.2 269.7h1v1h-1zM412.0 268.9h1v1h-1zM421.8 281.4h1v1h-1zM422.4 276.6h1v1h-1zM411.4 273.1h1v1h-1zM414.0 275.4h1v1h-1zM415.7 270.5h1v1h-1zM421.2 276.3h1v1h-1zM422.6 279.2h1v1h-1zM420.6 272.2h1v1h-1zM423.2 278.1h1v1h-1zM422.4 281.0h1v1h-1zM417.2 271.6h1v1h-1zM415.3 283.1h1v1h-1zM413.8 269.4h1v1h-1zM421.8 277.2h1v1h-1zM422.1 280.1h1v1h-1zM415.9 266.4h1v1h-1zM415.6 278.2h1v1h-1zM424.0 275.0h1v1h-1zM419.4 283.9h1v1h-1zM418.7 278.6h1v1h-1zM413.3 267.6h1v1h-1zM419.8 279.9h1v1h-1zM420.3 272.4h1v1h-1zM412.7 276.4h1v1h-1zM426.6 270.3h1v1h-1zM412.9 280.2h1v1h-1zM422.3 263.9h1v1h-1zM416.5 275.8h1v1h-1zM418.4 284.8h1v1h-1zM413.5 279.1h1v1h-1zM414.7 274.3h1v1h-1zM421.2 276.5h1v1h-1zM416.6 274.3h1v1h-1zM422.1 277.8h1v1h-1zM421.2 277.8h1v1h-1zM418.4 272.9h1v1h-1zM418.8 274.5h1v1h-1zM426.4 282.6h1v1h-1zM416.7 273.2h1v1h-1zM419.6 272.7h1v1h-1zM419.8 274.3h1v1h-1zM410.4 273.3h1v1h-1zM407.7 275.8h1v1h-1zM418.2 274.3h1v1h-1zM422.0 276.9h1v1h-1zM418.6 272.8h1v1h-1zM414.8 283.7h1v1h-1zM414.2 276.8h1v1h-1zM421.7 276.1h1v1h-1zM416.1 278.4h1v1h-1zM409.3 274.9h1v1h-1zM421.1 268.6h1v1h-1zM418.8 276.2h1v1h-1zM419.5 287.2h1v1h-1zM422.9 281.2h1v1h-1zM424.4 285.5h1v1h-1zM420.4 273.7h1v1h-1zM416.7 268.1h1v1h-1zM406.7 270.4h1v1h-1zM419.1 285.3h1v1h-1zM416.8 271.0h1v1h-1zM424.3 273.9h1v1h-1zM424.1 285.0h1v1h-1zM420.0 276.1h1v1h-1zM424.6 277.5h1v1h-1zM417.2 279.2h1v1h-1zM417.3 277.5h1v1h-1zM413.2 274.2h1v1h-1zM416.0 278.1h1v1h-1zM418.7 273.1h1v1h-1zM423.0 278.0h1v1h-1zM413.8 280.0h1v1h-1zM421.7 271.7h1v1h-1zM429.5 278.5h1v1h-1zM410.7 268.7h1v1h-1zM416.2 281.1h1v1h-1zM417.7 280.7h1v1h-1zM422.7 283.7h1v1h-1zM427.7 285.4h1v1h-1zM423.9 284.5h1v1h-1zM417.4 281.2h1v1h-1zM413.2 271.4h1v1h-1zM417.3 282.4h1v1h-1zM417.4 271.6h1v1h-1zM413.0 277.7h1v1h-1zM425.4 282.3h1v1h-1zM413.9 268.9h1v1h-1zM421.1 284.1h1v1h-1zM418.7 284.2h1v1h-1zM412.0 266.5h1v1h-1zM417.9 273.8h1v1h-1zM417.7 274.3h1v1h-1zM416.6 273.0h1v1h-1zM421.7 286.1h1v1h-1zM430.6 273.8h1v1h-1zM423.3 284.5h1v1h-1zM412.9 274.4h1v1h-1zM424.0 264.1h1v1h-1zM418.8 274.8h1v1h-1zM418.0 284.3h1v1h-1zM412.6 271.4h1v1h-1zM410.2 282.3h1v1h-1zM408.0 271.8h1v1h-1zM430.7 286.7h1v1h-1zM425.8 282.3h1v1h-1zM414.7 273.9h1v1h-1zM427.2 274.7h1v1h-1zM408.0 273.8h1v1h-1zM421.1 284.6h1v1h-1zM421.2 277.8h1v1h-1zM413.1 272.1h1v1h-1zM412.2 266.5h1v1h-1zM417.8 275.7h1v1h-1zM424.3 281.7h1v1h-1zM422.7 272.0h1v1h-1zM419.7 277.4h1v1h-1zM423.3 275.8h1v1h-1zM408.4 266.2h1v1h-1zM427.9 282.1h1v1h-1zM417.3 270.2h1v1h-1zM410.8 271.0h1v1h-1zM415.6 283.8h1v1h-1zM414.2 269.6h1v1h-1zM418.0 280.6h1v1h-1zM419.1 284.3h1v1h-1zM405.5 280.1h1v1h-1zM424.0 281.2h1v1h-1zM426.4 277.7h1v1h-1zM412.2 267.5h1v1h-1zM425.1 279.6h1v1h-1zM424.0 281.1h1v1h-1zM422.8 275.2h1v1h-1zM425.9 273.1h1v1h-1zM410.4 280.4h1v1h-1zM421.3 271.6h1v1h-1zM412.3 278.4h1v1h-1zM429.8 277.0h1v1h-1zM412.5 265.9h1v1h-1zM411.2 285.0h1v1h-1zM423.3 281.9h1v1h-1zM420.7 280.9h1v1h-1zM417.7 268.6h1v1h-1zM418.2 276.3h1v1h-1zM420.7 279.3h1v1h-1zM426.5 274.6h1v1h-1zM413.8 285.8h1v1h-1zM414.6 264.4h1v1h-1zM414.5 280.4h1v1h-1zM417.1 265.7h1v1h-1zM417.6 267.7h1v1h-1zM410.9 267.8h1v1h-1zM419.1 280.6h1v1h-1zM411.0 271.2h1v1h-1zM415.9 272.5h1v1h-1zM416.2 271.2h1v1h-1zM416.3 267.8h1v1h-1zM425.2 273.3h1v1h-1zM426.0 273.0h1v1h-1zM423.1 276.2h1v1h-1zM425.7 276.4h1v1h-1zM416.0 262.3h1v1h-1zM424.8 274.6h1v1h-1zM417.2 283.8h1v1h-1zM418.7 274.2h1v1h-1zM418.9 276.6h1v1h-1zM410.6 270.8h1v1h-1zM414.3 271.9h1v1h-1zM416.7 276.0h1v1h-1zM419.4 269.1h1v1h-1zM416.9 275.5h1v1h-1zM413.1 265.8h1v1h-1zM411.5 277.2h1v1h-1zM417.6 267.3h1v1h-1zM411.4 279.0h1v1h-1zM411.4 281.1h1v1h-1zM417.0 266.9h1v1h-1zM418.4 280.7h1v1h-1zM413.2 273.1h1v1h-1zM408.3 281.2h1v1h-1zM419.0 273.7h1v1h-1zM421.8 275.8h1v1h-1zM415.4 274.3h1v1h-1zM415.6 283.4h1v1h-1zM405.4 262.3h1v1h-1zM422.2 282.0h1v1h-1zM411.8 275.7h1v1h-1zM421.2 274.4h1v1h-1zM414.4 274.3h1v1h-1zM416.8 281.8h1v1h-1zM416.5 281.1h1v1h-1zM408.2 284.2h1v1h-1zM431.8 275.9h1v1h-1zM409.4 263.4h1v1h-1zM418.1 273.3h1v1h-1zM413.3 274.3h1v1h-1zM416.3 273.5h1v1h-1zM424.7 285.2h1v1h-1zM407.8 287.6h1v1h-1zM416.8 278.5h1v1h-1zM420.1 266.5h1v1h-1zM418.1 282.7h1v1h-1zM419.6 273.1h1v1h-1zM413.6 275.7h1v1h-1zM409.0 279.4h1v1h-1zM410.7 277.0h1v1h-1zM415.4 275.5h1v1h-1zM421.4 279.0h1v1h-1zM417.9 280.9h1v1h-1zM425.8 282.0h1v1h-1zM418.5 259.0h1v1h-1zM418.5 272.0h1v1h-1zM408.5 270.9h1v1h-1zM420.5 281.9h1v1h-1zM411.7 276.3h1v1h-1zM415.5 280.9h1v1h-1zM429.7 270.8h1v1h-1zM411.1 273.6h1v1h-1zM418.1 280.3h1v1h-1zM419.0 276.4h1v1h-1zM418.2 274.2h1v1h-1zM417.5 278.0h1v1h-1zM414.6 285.4h1v1h-1zM427.9 266.4h1v1h-1zM407.1 283.3h1v1h-1zM412.2 276.8h1v1h-1zM425.2 273.1h1v1h-1zM420.4 280.9h1v1h-1zM413.5 275.7h1v1h-1zM412.8 282.4h1v1h-1zM416.2 271.3h1v1h-1zM431.2 285.2h1v1h-1zM420.1 271.6h1v1h-1zM412.1 277.0h1v1h-1zM418.7 280.7h1v1h-1zM414.2 275.1h1v1h-1zM425.3 281.9h1v1h-1zM419.0 273.2h1v1h-1zM424.1 284.1h1v1h-1zM418.3 273.6h1v1h-1zM428.1 274.7h1v1h-1zM419.6 276.2h1v1h-1zM419.0 276.4h1v1h-1zM412.2 270.2h1v1h-1zM415.3 280.5h1v1h-1zM419.5 276.1h1v1h-1zM414.9 279.3h1v1h-1zM430.4 270.6h1v1h-1zM417.4 268.6h1v1h-1zM413.5 273.9h1v1h-1zM422.6 271.7h1v1h-1zM414.7 275.0h1v1h-1zM419.6 280.2h1v1h-1zM417.0 282.8h1v1h-1zM413.8 284.1h1v1h-1zM424.7 282.7h1v1h-1zM418.0 272.3h1v1h-1zM423.2 280.9h1v1h-1zM415.7 272.9h1v1h-1zM410.1 277.8h1v1h-1zM411.0 268.7h1v1h-1zM414.8 283.7h1v1h-1zM416.5 278.6h1v1h-1zM417.8 274.8h1v1h-1zM420.2 269.0h1v1h-1zM411.0 276.5h1v1h-1zM418.7 273.6h1v1h-1zM411.2 276.4h1v1h-1zM413.9 271.4h1v1h-1zM430.8 276.3h1v1h-1zM424.1 281.6h1v1h-1zM415.6 284.6h1v1h-1zM426.8 271.1h1v1h-1zM424.9 276.9h1v1h-1zM422.1 279.8h1v1h-1zM425.1 277.2h1v1h-1zM416.2 273.5h1v1h-1zM413.0 270.4h1v1h-1zM420.5 279.2h1v1h-1zM411.0 272.0h1v1h-1zM414.9 275.2h1v1h-1zM419.9 263.5h1v1h-1zM414.9 281.0h1v1h-1zM419.3 275.6h1v1h-1zM427.0 272.9h1v1h-1zM412.4 285.0h1v1h-1zM424.8 276.5h1v1h-1zM413.9 272.0h1v1h-1zM412.6 270.3h1v1h-1zM418.7 282.9h1v1h-1zM422.8 277.8h1v1h-1zM413.8 273.7h1v1h-1zM413.7 267.7h1v1h-1zM415.2 270.6h1v1h-1zM413.8 277.6h1v1h-1zM418.5 276.5h1v1h-1zM413.8 263.7h1v1h-1zM416.2 271.0h1v1h-1zM419.3 278.2h1v1h-1zM423.5 273.4h1v1h-1zM414.0 262.5h1v1h-1zM413.5 280.0h1v1h-1zM428.1 276.0h1v1h-1zM425.3 270.4h1v1h-1zM417.9 279.8h1v1h-1zM421.8 276.0h1v1h-1zM419.3 271.1h1v1h-1zM414.8 268.1h1v1h-1zM421.0 276.5h1v1h-1zM419.1 277.3h1v1h-1zM424.2 267.5h1v1h-1zM407.9 280.0h1v1h-1zM421.7 269.9h1v1h-1zM418.4 284.8h1v1h-1zM413.9 277.5h1v1h-1zM415.3 274.8h1v1h-1zM415.4 277.9h1v1h-1zM410.6 271.3h1v1h-1zM414.5 275.3h1v1h-1zM421.6 287.0h1v1h-1zM409.6 271.2h1v1h-1zM415.5 280.8h1v1h-1zM405.2 268.3h1v1h-1zM414.5 275.6h1v1h-1zM419.5 282.5h1v1h-1zM417.2 269.3h1v1h-1zM417.7 278.4h1v1h-1zM411.7 262.4h1v1h-1zM420.5 270.3h1v1h-1zM412.8 272.9h1v1h-1zM422.2 282.7h1v1h-1zM418.6 280.9h1v1h-1zM415.5 270.6h1v1h-1zM425.2 277.4h1v1h-1zM415.4 277.0h1v1h-1zM422.8 268.4h1v1h-1zM418.0 279.0h1v1h-1zM417.5 284.3h1v1h-1zM422.7 284.9h1v1h-1zM419.8 273.5h1v1h-1zM417.5 274.0h1v1h-1zM416.9 270.8h1v1h-1zM418.6 273.8h1v1h-1zM417.9 275.0h1v1h-1zM415.8 280.0h1v1h-1zM412.1 275.7h1v1h-1zM416.9 281.1h1v1h-1zM416.2 281.3h1v1h-1zM423.8 274.3h1v1h-1zM419.8 275.5h1v1h-1zM423.4 277.2h1v1h-1zM426.5 268.8h1v1h-1zM416.9 277.1h1v1h-1zM413.1 279.4h1v1h-1zM414.4 276.8h1v1h-1zM416.2 274.4h1v1h-1zM425.0 277.3h1v1h-1zM420.4 280.7h1v1h-1zM423.2 282.4h1v1h-1zM410.5 269.8h1v1h-1zM417.7 277.6h1v1h-1zM423.3 281.6h1v1h-1zM410.8 263.1h1v1h-1zM418.5 284.7h1v1h-1zM419.6 275.7h1v1h-1zM405.5 278.8h1v1h-1zM425.8 278.1h1v1h-1zM413.8 274.1h1v1h-1zM416.8 275.8h1v1h-1zM426.2 280.1h1v1h-1zM408.2 279.4h1v1h-1zM419.9 275.4h1v1h-1zM415.2 269.3h1v1h-1zM417.7 272.4h1v1h-1zM413.3 269.7h1v1h-1zM424.6 282.6h1v1h-1zM411.7 269.5h1v1h-1zM419.4 285.8h1v1h-1zM420.3 277.9h1v1h-1zM417.0 275.8h1v1h-1zM416.1 283.8h1v1h-1zM416.1 274.0h1v1h-1zM422.8 276.0h1v1h-1zM419.9 281.6h1v1h-1zM417.1 280.7h1v1h-1zM411.8 269.3h1v1h-1zM420.3 280.5h1v1h-1zM417.4 269.1h1v1h-1zM425.0 277.2h1v1h-1zM407.6 279.6h1v1h-1zM430.5 280.8h1v1h-1zM416.6 281.3h1v1h-1zM408.4 279.9h1v1h-1zM420.5 281.2h1v1h-1zM416.4 272.3h1v1h-1zM417.3 285.3h1v1h-1zM418.4 272.6h1v1h-1zM415.3 281.7h1v1h-1zM423.5 281.8h1v1h-1zM420.8 272.3h1v1h-1zM416.9 272.3h1v1h-1zM409.0 273.6h1v1h-1zM424.7 280.6h1v1h-1zM415.0 283.9h1v1h-1zM412.1 275.8h1v1h-1zM420.1 282.4h1v1h-1zM407.0 270.5h1v1h-1zM408.9 271.0h1v1h-1zM415.5 276.7h1v1h-1zM411.0 272.1h1v1h-1zM416.7 276.0h1v1h-1zM431.1 284.4h1v1h-1zM433.0 281.8h1v1h-1zM417.3 282.4h1v1h-1zM421.7 273.6h1v1h-1zM422.2 272.7h1v1h-1zM416.9 268.4h1v1h-1zM409.9 264.5h1v1h-1zM423.1 275.4h1v1h-1zM416.6 276.9h1v1h-1zM419.9 276.1h1v1h-1zM421.2 277.7h1v1h-1zM413.3 287.8h1v1h-1zM426.3 272.4h1v1h-1zM417.9 275.3h1v1h-1zM418.7 274.2h1v1h-1zM415.3 270.9h1v1h-1zM421.2 285.6h1v1h-1zM422.8 277.8h1v1h-1zM414.6 283.5h1v1h-1zM420.6 270.9h1v1h-1zM415.3 287.3h1v1h-1zM415.8 271.3h1v1h-1zM420.7 277.5h1v1h-1zM420.4 276.7h1v1h-1zM423.2 281.4h1v1h-1zM414.0 268.4h1v1h-1zM416.0 279.2h1v1h-1zM417.9 281.2h1v1h-1zM420.8 274.1h1v1h-1zM416.9 263.4h1v1h-1zM412.6 271.7h1v1h-1zM409.5 272.7h1v1h-1zM423.7 282.8h1v1h-1zM423.1 274.5h1v1h-1zM414.1 269.3h1v1h-1zM425.3 282.3h1v1h-1zM417.2 279.0h1v1h-1zM419.9 281.7h1v1h-1zM424.1 278.7h1v1h-1zM415.1 282.5h1v1h-1zM413.5 279.0h1v1h-1zM408.5 264.3h1v1h-1zM419.2 278.4h1v1h-1zM419.9 282.0h1v1h-1zM422.1 278.2h1v1h-1zM420.7 286.2h1v1h-1zM418.1 274.3h1v1h-1zM423.6 282.4h1v1h-1zM412.2 268.4h1v1h-1zM419.6 277.4h1v1h-1zM420.3 274.3h1v1h-1zM416.9 270.9h1v1h-1zM426.6 271.3h1v1h-1zM419.9 278.8h1v1h-1zM424.6 281.1h1v1h-1zM422.3 274.3h1v1h-1zM416.6 269.4h1v1h-1zM427.7 274.1h1v1h-1zM423.4 282.7h1v1h-1zM417.7 269.9h1v1h-1zM417.0 283.5h1v1h-1zM412.2 265.9h1v1h-1zM416.8 278.4h1v1h-1zM416.3 280.6h1v1h-1zM418.7 284.4h1v1h-1zM415.4 273.9h1v1h-1zM420.6 273.1h1v1h-1zM417.2 268.5h1v1h-1zM409.3 280.4h1v1h-1zM414.9 275.6h1v1h-1zM412.9 273.1h1v1h-1zM410.9 272.9h1v1h-1zM416.3 278.1h1v1h-1zM422.4 278.2h1v1h-1zM411.7 282.5h1v1h-1zM407.1 261.9h1v1h-1zM416.7 281.7h1v1h-1zM433.2 277.4h1v1h-1zM414.5 275.8h1v1h-1zM419.0 275.4h1v1h-1zM415.4 276.0h1v1h-1zM422.1 282.4h1v1h-1zM425.1 280.0h1v1h-1zM416.8 268.3h1v1h-1zM423.8 278.0h1v1h-1zM411.9 275.1h1v1h-1zM418.7 279.4h1v1h-1zM411.0 275.7h1v1h-1zM418.6 276.7h1v1h-1zM414.4 282.3h1v1h-1zM418.9 270.9h1v1h-1zM418.8 273.9h1v1h-1zM418.2 271.0h1v1h-1zM414.6 280.9h1v1h-1zM413.4 282.3h1v1h-1zM411.4 282.9h1v1h-1zM415.5 285.1h1v1h-1zM419.7 280.3h1v1h-1zM416.9 277.2h1v1h-1zM418.4 279.4h1v1h-1zM424.2 278.5h1v1h-1zM415.9 273.4h1v1h-1z" fill="#10a8d0" fill-opacity="0.85"/>
<path d="M430.2 272.6h1v1h-1zM431.7 249.4h1v1h-1zM419.0 266.3h1v1h-1zM417.4 262.9h1v1h-1zM415.5 266.9h1v1h-1zM407.2 248.7h1v1h-1zM414.2 259.9h1v1h-1zM415.4 255.0h1v1h-1zM418.8 260.1h1v1h-1zM412.0 268.2h1v1h-1zM405.7 259.7h1v1h-1zM423.6 260.8h1v1h-1zM431.1 278.2h1v1h-1zM404.1 261.1h1v1h-1zM418.0 246.9h1v1h-1zM425.0 257.2h1v1h-1zM410.8 266.2h1v1h-1zM409.0 266.0h1v1h-1zM419.2 266.7h1v1h-1zM417.4 266.5h1v1h-1zM414.6 255.7h1v1h-1zM430.5 266.8h1v1h-1zM429.5 257.0h1v1h-1zM423.6 258.5h1v1h-1zM418.6 256.5h1v1h-1zM416.8 256.7h1v1h-1zM425.2 263.2h1v1h-1zM417.4 262.1h1v1h-1zM429.5 260.2h1v1h-1zM427.8 276.1h1v1h-1zM414.9 259.4h1v1h-1zM424.4 279.2h1v1h-1zM430.1 276.0h1v1h-1zM423.7 255.1h1v1h-1zM412.5 270.4h1v1h-1zM417.3 251.8h1v1h-1zM416.8 276.4h1v1h-1zM420.0 267.4h1v1h-1zM419.4 255.8h1v1h-1zM416.7 244.6h1v1h-1zM425.2 262.4h1v1h-1zM428.7 255.0h1v1h-1zM415.3 272.8h1v1h-1zM408.9 250.8h1v1h-1zM421.9 262.9h1v1h-1zM419.3 268.5h1v1h-1zM422.2 265.1h1v1h-1zM414.5 265.2h1v1h-1zM421.3 262.5h1v1h-1zM412.9 268.8h1v1h-1zM427.0 258.0h1v1h-1zM431.1 272.1h1v1h-1zM412.8 252.0h1v1h-1zM416.0 253.4h1v1h-1zM415.7 261.4h1v1h-1zM420.8 269.6h1v1h-1zM419.6 274.9h1v1h-1zM422.9 249.4h1v1h-1zM438.4 262.3h1v1h-1zM415.5 254.6h1v1h-1zM416.8 274.0h1v1h-1zM422.5 257.3h1v1h-1zM406.5 266.9h1v1h-1zM425.0 261.0h1v1h-1zM415.1 250.4h1v1h-1zM409.4 262.5h1v1h-1zM413.6 252.7h1v1h-1zM423.0 271.3h1v1h-1zM425.4 272.8h1v1h-1zM428.2 277.9h1v1h-1zM422.6 256.0h1v1h-1zM414.5 276.4h1v1h-1zM423.4 273.5h1v1h-1zM419.0 248.3h1v1h-1zM435.9 287.5h1v1h-1zM405.1 275.0h1v1h-1zM430.8 257.9h1v1h-1zM425.0 268.3h1v1h-1zM422.4 253.1h1v1h-1zM418.9 262.7h1v1h-1zM415.7 264.7h1v1h-1zM412.8 267.7h1v1h-1zM408.7 254.1h1v1h-1zM433.9 267.5h1v1h-1zM426.2 257.6h1v1h-1zM424.3 268.6h1v1h-1zM422.2 270.5h1v1h-1zM406.2 261.2h1v1h-1zM417.7 273.6h1v1h-1zM420.5 270.9h1v1h-1zM427.8 269.4h1v1h-1zM412.7 272.4h1v1h-1zM421.6 253.7h1v1h-1zM418.0 263.3h1v1h-1zM419.9 248.7h1v1h-1zM414.2 262.5h1v1h-1zM422.2 260.6h1v1h-1zM420.3 271.4h1v1h-1zM406.6 256.9h1v1h-1zM428.2 260.7h1v1h-1zM435.1 267.2h1v1h-1zM413.6 261.3h1v1h-1zM427.8 270.6h1v1h-1zM412.9 254.7h1v1h-1zM416.0 250.1h1v1h-1zM432.1 253.4h1v1h-1zM421.2 274.5h1v1h-1zM430.4 255.8h1v1h-1zM421.8 260.6h1v1h-1zM426.9 256.3h1v1h-1zM418.6 271.5h1v1h-1zM429.8 261.8h1v1h-1zM432.3 278.0h1v1h-1zM424.6 259.2h1v1h-1zM415.9 265.7h1v1h-1zM417.3 270.1h1v1h-1zM413.2 270.9h1v1h-1zM424.1 254.8h1v1h-1zM423.5 261.9h1v1h-1zM415.0 262.2h1v1h-1zM426.3 249.8h1v1h-1zM415.8 269.3h1v1h-1zM432.6 270.8h1v1h-1zM425.7 270.1h1v1h-1zM431.0 254.9h1v1h-1zM414.9 264.5h1v1h-1zM412.9 266.2h1v1h-1zM407.1 269.9h1v1h-1zM424.4 260.8h1v1h-1zM412.1 268.1h1v1h-1zM429.3 283.7h1v1h-1zM420.9 260.6h1v1h-1zM425.3 262.0h1v1h-1zM411.0 259.1h1v1h-1zM415.8 250.1h1v1h-1zM421.2 261.4h1v1h-1zM425.1 279.7h1v1h-1zM411.0 253.8h1v1h-1zM422.4 263.1h1v1h-1zM414.2 273.2h1v1h-1zM425.6 270.6h1v1h-1zM418.4 265.8h1v1h-1zM417.9 260.8h1v1h-1zM423.0 264.0h1v1h-1zM428.1 266.4h1v1h-1zM418.3 269.8h1v1h-1zM428.5 267.1h1v1h-1zM413.0 270.6h1v1h-1zM422.0 248.5h1v1h-1zM412.2 269.4h1v1h-1zM421.5 260.0h1v1h-1zM413.6 262.7h1v1h-1zM420.2 260.6h1v1h-1zM424.3 271.0h1v1h-1zM413.2 261.5h1v1h-1zM407.7 266.5h1v1h-1zM418.7 256.9h1v1h-1zM423.6 266.8h1v1h-1zM421.6 275.4h1v1h-1zM413.6 272.3h1v1h-1zM425.8 262.6h1v1h-1zM417.9 265.0h1v1h-1zM425.3 262.4h1v1h-1zM413.8 261.6h1v1h-1zM423.0 265.2h1v1h-1zM428.2 276.9h1v1h-1zM415.3 268.1h1v1h-1zM417.9 276.4h1v1h-1zM424.3 278.7h1v1h-1zM423.6 254.2h1v1h-1zM422.4 267.6h1v1h-1zM419.1 260.2h1v1h-1zM409.0 247.4h1v1h-1zM419.9 254.9h1v1h-1zM410.9 257.6h1v1h-1zM420.5 279.0h1v1h-1zM403.6 260.8h1v1h-1zM429.9 265.2h1v1h-1zM433.1 267.4h1v1h-1zM423.0 258.5h1v1h-1zM414.0 264.2h1v1h-1zM417.8 262.9h1v1h-1zM426.1 251.7h1v1h-1zM424.5 260.8h1v1h-1zM428.2 271.9h1v1h-1zM424.9 264.7h1v1h-1zM423.6 271.0h1v1h-1zM417.4 255.2h1v1h-1zM419.8 265.0h1v1h-1zM414.9 270.6h1v1h-1zM421.2 250.7h1v1h-1zM415.3 256.7h1v1h-1zM428.0 262.9h1v1h-1zM420.1 261.9h1v1h-1zM421.3 260.2h1v1h-1zM422.1 267.2h1v1h-1zM422.1 273.7h1v1h-1zM410.0 264.7h1v1h-1zM428.7 275.4h1v1h-1zM420.5 273.5h1v1h-1zM416.0 258.1h1v1h-1zM413.1 264.9h1v1h-1zM415.1 259.8h1v1h-1zM415.6 268.9h1v1h-1zM419.9 261.3h1v1h-1zM413.9 261.1h1v1h-1zM420.6 279.2h1v1h-1zM420.8 263.0h1v1h-1zM415.0 249.6h1v1h-1zM435.2 269.3h1v1h-1zM419.0 266.6h1v1h-1zM422.1 260.5h1v1h-1zM420.6 265.1h1v1h-1zM418.7 272.8h1v1h-1zM424.5 261.0h1v1h-1zM429.3 265.1h1v1h-1zM419.3 258.0h1v1h-1zM413.8 265.6h1v1h-1z" fill="#70c8e0" fill-opacity="0.6"/>
<path d="M449.0 256.4h1v1h-1zM442.4 255.5h1v1h-1zM448.8 268.0h1v1h-1zM465.3 275.6h1v1h-1zM435.9 275.0h1v1h-1zM438.6 250.2h1v1h-1zM452.9 259.1h1v1h-1zM438.6 258.9h1v1h-1zM466.3 261.9h1v1h-1zM437.7 249.3h1v1h-1zM439.3 277.2h1v1h-1zM445.8 272.6h1v1h-1zM459.1 260.7h1v1h-1zM456.8 257.9h1v1h-1zM454.8 261.4h1v1h-1zM452.6 251.0h1v1h-1zM460.9 259.6h1v1h-1zM435.0 264.8h1v1h-1zM452.4 274.9h1v1h-1zM462.0 270.0h1v1h-1zM441.2 270.1h1v1h-1zM452.8 252.3h1v1h-1zM460.5 273.9h1v1h-1zM449.0 262.1h1v1h-1zM465.6 262.5h1v1h-1zM454.3 275.4h1v1h-1zM459.0 254.0h1v1h-1zM441.2 251.3h1v1h-1zM443.9 253.5h1v1h-1zM443.8 273.3h1v1h-1zM464.8 271.0h1v1h-1zM430.8 242.6h1v1h-1zM434.9 272.2h1v1h-1zM456.7 261.9h1v1h-1zM451.3 264.5h1v1h-1zM425.6 250.3h1v1h-1zM446.8 276.0h1v1h-1zM447.6 264.0h1v1h-1zM460.1 273.4h1v1h-1zM434.3 249.8h1v1h-1zM445.7 265.9h1v1h-1zM458.9 262.9h1v1h-1zM456.4 259.8h1v1h-1zM442.5 252.6h1v1h-1zM447.8 254.4h1v1h-1zM437.9 248.9h1v1h-1zM461.4 256.9h1v1h-1zM446.6 259.9h1v1h-1zM460.7 267.3h1v1h-1zM456.8 248.6h1v1h-1zM442.8 250.8h1v1h-1zM448.9 255.3h1v1h-1zM455.5 247.7h1v1h-1zM453.8 258.8h1v1h-1zM462.8 260.5h1v1h-1zM459.4 260.5h1v1h-1zM452.9 264.6h1v1h-1zM455.9 269.6h1v1h-1zM444.3 266.5h1v1h-1zM445.3 262.3h1v1h-1zM455.2 266.5h1v1h-1zM453.0 254.4h1v1h-1zM441.0 251.3h1v1h-1zM449.5 266.1h1v1h-1zM443.6 264.4h1v1h-1zM445.6 278.5h1v1h-1zM460.9 260.5h1v1h-1zM442.4 251.1h1v1h-1zM444.8 262.3h1v1h-1zM454.9 257.6h1v1h-1zM450.8 253.3h1v1h-1zM451.6 272.5h1v1h-1zM438.3 275.1h1v1h-1zM450.0 263.8h1v1h-1zM447.2 254.7h1v1h-1zM443.6 261.8h1v1h-1zM445.6 259.5h1v1h-1zM447.8 248.6h1v1h-1zM457.2 268.9h1v1h-1zM465.7 266.1h1v1h-1zM451.2 271.5h1v1h-1zM462.5 258.0h1v1h-1zM451.2 260.7h1v1h-1zM438.0 257.8h1v1h-1zM450.8 246.2h1v1h-1zM460.8 283.7h1v1h-1zM461.8 244.9h1v1h-1zM443.0 249.9h1v1h-1zM468.7 260.7h1v1h-1zM444.2 246.5h1v1h-1zM444.3 263.4h1v1h-1zM446.0 256.1h1v1h-1zM462.2 263.3h1v1h-1zM453.6 263.3h1v1h-1zM457.8 262.6h1v1h-1zM432.0 258.7h1v1h-1zM449.9 259.4h1v1h-1zM449.4 264.3h1v1h-1zM456.1 268.6h1v1h-1zM446.5 258.0h1v1h-1zM460.1 258.6h1v1h-1zM444.7 256.5h1v1h-1zM438.9 261.6h1v1h-1zM436.8 255.6h1v1h-1zM460.7 259.2h1v1h-1zM456.6 249.0h1v1h-1zM443.9 276.2h1v1h-1zM459.4 251.8h1v1h-1zM448.9 274.9h1v1h-1zM449.4 267.5h1v1h-1zM438.3 267.7h1v1h-1zM445.8 262.4h1v1h-1zM451.3 265.2h1v1h-1zM452.0 263.7h1v1h-1zM445.7 265.2h1v1h-1zM458.5 269.4h1v1h-1zM462.2 275.8h1v1h-1zM443.7 251.4h1v1h-1zM453.7 265.7h1v1h-1zM437.9 272.8h1v1h-1zM453.8 273.4h1v1h-1zM442.5 251.0h1v1h-1zM449.1 263.5h1v1h-1zM451.8 263.6h1v1h-1zM448.4 262.8h1v1h-1zM459.0 243.1h1v1h-1zM444.0 267.4h1v1h-1zM446.6 246.7h1v1h-1zM453.1 280.2h1v1h-1zM450.1 266.6h1v1h-1zM452.5 260.6h1v1h-1zM448.7 266.2h1v1h-1zM443.8 261.3h1v1h-1zM455.9 257.4h1v1h-1zM451.1 260.4h1v1h-1zM457.8 265.3h1v1h-1zM461.4 256.0h1v1h-1zM447.5 266.8h1v1h-1zM444.4 269.7h1v1h-1zM446.7 269.8h1v1h-1zM445.1 270.4h1v1h-1zM434.1 269.7h1v1h-1zM463.9 269.4h1v1h-1zM453.8 272.9h1v1h-1zM469.6 264.7h1v1h-1zM445.9 264.0h1v1h-1zM455.3 274.2h1v1h-1zM452.7 278.2h1v1h-1zM449.9 258.1h1v1h-1zM458.5 250.0h1v1h-1zM450.5 279.7h1v1h-1zM449.8 271.1h1v1h-1zM451.8 277.1h1v1h-1zM432.2 266.1h1v1h-1zM444.6 262.4h1v1h-1zM444.4 254.8h1v1h-1zM464.0 255.1h1v1h-1zM455.3 274.5h1v1h-1zM456.9 270.7h1v1h-1zM455.6 264.8h1v1h-1zM448.9 251.4h1v1h-1zM464.0 258.9h1v1h-1zM448.8 255.6h1v1h-1zM438.9 256.8h1v1h-1zM455.6 237.2h1v1h-1zM460.1 264.7h1v1h-1zM451.3 274.9h1v1h-1zM453.5 257.0h1v1h-1zM458.3 262.7h1v1h-1zM463.0 265.6h1v1h-1zM455.3 253.4h1v1h-1zM464.3 267.2h1v1h-1zM452.9 254.6h1v1h-1zM467.7 260.2h1v1h-1zM439.2 261.7h1v1h-1zM458.2 262.0h1v1h-1zM452.9 262.5h1v1h-1zM451.5 253.5h1v1h-1zM440.0 265.9h1v1h-1zM459.3 253.3h1v1h-1zM448.9 268.3h1v1h-1zM442.4 255.8h1v1h-1zM445.4 250.2h1v1h-1zM448.6 260.2h1v1h-1zM451.4 252.2h1v1h-1zM443.1 255.5h1v1h-1zM443.0 258.8h1v1h-1zM453.9 268.6h1v1h-1zM449.9 268.1h1v1h-1zM466.6 268.0h1v1h-1zM447.1 258.3h1v1h-1zM456.6 249.0h1v1h-1zM464.8 261.6h1v1h-1zM448.9 258.2h1v1h-1zM458.6 261.4h1v1h-1zM453.0 257.1h1v1h-1zM451.0 256.8h1v1h-1zM463.6 270.3h1v1h-1zM442.4 248.4h1v1h-1zM445.6 260.6h1v1h-1zM436.0 269.9h1v1h-1zM449.5 254.4h1v1h-1zM458.6 254.0h1v1h-1zM448.4 259.0h1v1h-1zM457.2 259.4h1v1h-1zM444.3 262.6h1v1h-1zM459.9 274.5h1v1h-1zM449.6 260.0h1v1h-1zM446.6 265.5h1v1h-1zM463.9 258.4h1v1h-1zM450.4 257.0h1v1h-1zM455.2 264.6h1v1h-1zM451.5 255.6h1v1h-1zM456.3 272.6h1v1h-1zM451.5 257.9h1v1h-1zM440.7 258.3h1v1h-1zM452.8 252.6h1v1h-1zM454.4 258.1h1v1h-1zM453.7 253.1h1v1h-1zM448.6 256.7h1v1h-1zM465.3 248.2h1v1h-1zM444.6 260.2h1v1h-1zM451.5 276.6h1v1h-1zM452.2 245.2h1v1h-1zM441.7 275.0h1v1h-1zM440.8 258.6h1v1h-1zM455.9 269.8h1v1h-1zM456.0 253.3h1v1h-1zM451.7 279.1h1v1h-1zM437.4 249.8h1v1h-1zM448.1 260.2h1v1h-1zM452.5 275.1h1v1h-1zM455.6 250.9h1v1h-1zM460.2 242.4h1v1h-1zM454.2 261.2h1v1h-1zM458.4 255.8h1v1h-1zM464.1 254.9h1v1h-1zM431.4 250.2h1v1h-1zM458.6 249.7h1v1h-1zM446.9 272.9h1v1h-1zM454.4 272.5h1v1h-1zM452.2 249.6h1v1h-1zM442.2 259.0h1v1h-1zM443.1 256.0h1v1h-1zM454.0 271.4h1v1h-1zM449.0 253.6h1v1h-1zM456.5 276.4h1v1h-1zM447.3 260.7h1v1h-1zM468.0 257.1h1v1h-1zM448.4 260.1h1v1h-1zM467.4 258.8h1v1h-1zM444.3 280.0h1v1h-1zM455.0 263.2h1v1h-1zM459.7 258.4h1v1h-1zM439.8 260.3h1v1h-1zM442.6 272.9h1v1h-1zM453.8 253.3h1v1h-1zM459.8 247.9h1v1h-1zM461.6 274.5h1v1h-1zM455.0 267.3h1v1h-1zM459.0 258.6h1v1h-1zM441.0 259.0h1v1h-1zM447.0 270.4h1v1h-1zM462.2 239.0h1v1h-1zM446.0 271.7h1v1h-1zM448.5 259.3h1v1h-1zM436.3 264.9h1v1h-1zM448.9 260.5h1v1h-1zM453.4 256.1h1v1h-1zM462.4 272.8h1v1h-1zM453.0 238.5h1v1h-1zM451.8 261.7h1v1h-1zM447.2 267.6h1v1h-1zM454.9 248.2h1v1h-1zM441.4 241.8h1v1h-1zM446.7 261.4h1v1h-1zM468.0 272.9h1v1h-1zM439.8 269.9h1v1h-1zM445.8 254.3h1v1h-1zM439.1 262.4h1v1h-1zM460.4 250.2h1v1h-1zM448.5 276.3h1v1h-1zM440.0 254.4h1v1h-1zM440.2 270.8h1v1h-1zM459.4 260.2h1v1h-1zM455.9 259.1h1v1h-1zM456.9 276.5h1v1h-1zM449.9 253.3h1v1h-1zM457.7 273.7h1v1h-1zM461.1 259.6h1v1h-1zM455.8 254.2h1v1h-1zM437.3 251.6h1v1h-1zM434.3 268.5h1v1h-1zM438.4 258.5h1v1h-1zM452.5 258.3h1v1h-1zM438.1 245.8h1v1h-1zM441.5 270.1h1v1h-1zM450.6 270.4h1v1h-1zM443.1 262.8h1v1h-1zM439.8 266.3h1v1h-1zM454.3 257.0h1v1h-1zM456.7 263.5h1v1h-1zM457.7 263.2h1v1h-1zM462.0 257.9h1v1h-1zM449.9 263.1h1v1h-1zM448.7 254.3h1v1h-1zM435.9 252.9h1v1h-1zM448.2 249.6h1v1h-1zM445.3 261.5h1v1h-1zM458.7 256.0h1v1h-1zM455.6 257.4h1v1h-1zM462.2 275.3h1v1h-1zM459.0 262.1h1v1h-1zM459.8 262.2h1v1h-1zM454.4 248.0h1v1h-1zM451.2 256.5h1v1h-1zM447.0 269.3h1v1h-1zM449.9 265.9h1v1h-1zM442.3 260.3h1v1h-1zM453.3 260.0h1v1h-1zM449.4 261.5h1v1h-1zM433.5 261.9h1v1h-1zM428.0 254.6h1v1h-1zM444.1 237.9h1v1h-1zM446.2 277.9h1v1h-1zM447.6 270.7h1v1h-1zM460.6 261.3h1v1h-1zM444.9 272.7h1v1h-1zM439.6 247.7h1v1h-1zM453.1 273.0h1v1h-1zM458.2 264.0h1v1h-1zM463.4 271.0h1v1h-1zM441.7 256.6h1v1h-1zM447.9 262.0h1v1h-1zM446.5 265.6h1v1h-1zM462.3 272.3h1v1h-1zM455.7 266.5h1v1h-1zM450.2 265.0h1v1h-1zM455.9 256.7h1v1h-1zM447.1 275.8h1v1h-1zM448.3 262.6h1v1h-1zM449.7 258.9h1v1h-1zM445.9 257.5h1v1h-1zM447.9 250.0h1v1h-1zM452.8 254.9h1v1h-1zM451.9 247.7h1v1h-1zM462.0 264.7h1v1h-1zM457.0 261.4h1v1h-1zM449.3 262.8h1v1h-1zM432.1 247.0h1v1h-1zM437.9 255.3h1v1h-1zM445.8 254.6h1v1h-1zM446.8 269.3h1v1h-1zM439.2 246.0h1v1h-1zM446.8 247.0h1v1h-1zM450.8 272.5h1v1h-1zM444.7 263.4h1v1h-1zM448.7 246.8h1v1h-1zM449.1 272.9h1v1h-1zM444.1 273.3h1v1h-1zM442.8 270.0h1v1h-1zM448.8 242.4h1v1h-1zM452.0 262.4h1v1h-1zM441.4 251.9h1v1h-1zM433.2 256.0h1v1h-1zM442.0 245.7h1v1h-1zM453.9 277.0h1v1h-1zM436.7 252.7h1v1h-1zM457.3 264.6h1v1h-1zM445.0 267.4h1v1h-1zM450.8 266.6h1v1h-1zM443.5 263.6h1v1h-1zM454.5 258.2h1v1h-1zM450.2 263.0h1v1h-1zM452.8 259.5h1v1h-1zM434.0 238.2h1v1h-1zM455.6 270.8h1v1h-1zM436.1 253.2h1v1h-1zM447.0 255.9h1v1h-1zM453.9 257.9h1v1h-1zM448.2 248.3h1v1h-1zM453.8 250.8h1v1h-1zM451.1 245.1h1v1h-1zM450.5 265.2h1v1h-1zM443.2 270.4h1v1h-1zM457.9 262.9h1v1h-1zM458.8 252.2h1v1h-1zM445.4 271.9h1v1h-1zM442.5 256.9h1v1h-1zM451.4 247.0h1v1h-1zM443.6 243.2h1v1h-1zM450.8 262.7h1v1h-1zM456.3 274.8h1v1h-1zM455.1 258.4h1v1h-1zM461.6 257.2h1v1h-1zM453.4 259.1h1v1h-1zM441.3 252.0h1v1h-1zM442.8 255.0h1v1h-1zM454.0 263.8h1v1h-1zM465.1 256.9h1v1h-1zM446.8 268.8h1v1h-1zM442.3 251.0h1v1h-1zM460.9 269.0h1v1h-1zM448.7 263.8h1v1h-1zM455.3 258.4h1v1h-1zM458.4 259.6h1v1h-1zM441.8 256.8h1v1h-1zM446.8 275.4h1v1h-1zM445.2 253.0h1v1h-1zM454.0 272.1h1v1h-1zM454.9 270.7h1v1h-1zM445.7 257.3h1v1h-1zM454.2 276.0h1v1h-1zM435.3 237.4h1v1h-1zM452.5 263.5h1v1h-1zM452.5 262.5h1v1h-1zM449.7 261.1h1v1h-1zM438.0 266.5h1v1h-1zM448.9 257.2h1v1h-1zM441.1 257.9h1v1h-1zM461.3 273.0h1v1h-1zM447.4 259.5h1v1h-1zM448.0 251.4h1v1h-1zM448.8 265.8h1v1h-1zM454.0 260.8h1v1h-1zM450.3 256.0h1v1h-1zM454.0 266.5h1v1h-1zM442.2 252.8h1v1h-1zM458.5 253.6h1v1h-1zM445.7 257.9h1v1h-1zM455.7 260.2h1v1h-1zM451.6 261.7h1v1h-1zM458.3 251.5h1v1h-1zM449.1 276.1h1v1h-1zM437.9 265.0h1v1h-1zM440.5 260.7h1v1h-1zM447.9 262.6h1v1h-1zM460.8 240.4h1v1h-1zM446.3 268.6h1v1h-1zM450.1 251.9h1v1h-1zM459.7 267.0h1v1h-1zM445.2 249.5h1v1h-1zM452.1 270.0h1v1h-1zM451.9 256.5h1v1h-1zM444.9 258.2h1v1h-1zM451.5 274.8h1v1h-1zM458.0 271.0h1v1h-1zM458.1 250.0h1v1h-1zM447.0 254.2h1v1h-1zM452.5 259.3h1v1h-1zM447.5 267.7h1v1h-1zM443.9 253.9h1v1h-1zM441.8 242.9h1v1h-1zM456.2 253.8h1v1h-1zM426.7 255.6h1v1h-1zM448.5 265.6h1v1h-1zM438.7 265.8h1v1h-1zM448.3 271.8h1v1h-1zM449.4 262.9h1v1h-1zM439.2 257.4h1v1h-1zM441.8 266.1h1v1h-1zM459.8 261.6h1v1h-1zM445.3 256.0h1v1h-1zM449.6 256.7h1v1h-1zM447.2 268.7h1v1h-1zM456.3 275.2h1v1h-1zM459.4 274.1h1v1h-1zM457.0 247.8h1v1h-1zM454.1 271.3h1v1h-1zM454.2 251.6h1v1h-1zM440.2 256.3h1v1h-1zM460.1 267.8h1v1h-1zM445.2 248.3h1v1h-1zM442.6 248.8h1v1h-1zM446.7 253.7h1v1h-1zM443.3 274.9h1v1h-1zM453.0 271.0h1v1h-1zM455.4 253.8h1v1h-1zM459.9 263.7h1v1h-1zM448.9 262.0h1v1h-1zM444.9 262.9h1v1h-1zM447.4 254.2h1v1h-1zM440.3 272.2h1v1h-1zM443.8 256.6h1v1h-1zM465.6 270.7h1v1h-1zM443.5 244.9h1v1h-1zM446.0 263.8h1v1h-1zM454.7 263.0h1v1h-1zM451.7 273.3h1v1h-1zM455.8 238.8h1v1h-1zM442.8 264.7h1v1h-1zM441.2 266.8h1v1h-1zM460.2 260.2h1v1h-1zM444.3 271.7h1v1h-1zM448.9 279.5h1v1h-1zM451.4 269.0h1v1h-1zM434.9 265.8h1v1h-1zM448.1 272.7h1v1h-1zM444.5 264.0h1v1h-1zM453.9 272.5h1v1h-1zM447.2 265.8h1v1h-1zM431.7 252.0h1v1h-1zM456.0 252.5h1v1h-1zM429.3 268.1h1v1h-1zM446.4 265.7h1v1h-1zM444.1 254.1h1v1h-1zM444.8 260.4h1v1h-1zM449.6 273.9h1v1h-1zM457.3 246.9h1v1h-1zM442.7 251.8h1v1h-1zM444.8 266.3h1v1h-1zM455.6 269.2h1v1h-1zM453.7 251.1h1v1h-1zM455.4 253.0h1v1h-1zM452.3 262.8h1v1h-1zM447.7 273.1h1v1h-1z" fill="#a82ec8" fill-opacity="0.7"/>
<path d="M448.1 252.2h1v1h-1zM461.3 261.9h1v1h-1zM447.7 232.0h1v1h-1zM442.0 243.6h1v1h-1zM432.8 258.1h1v1h-1zM463.5 236.0h1v1h-1zM451.4 240.2h1v1h-1zM453.2 270.6h1v1h-1zM452.5 243.1h1v1h-1zM453.6 258.8h1v1h-1zM458.8 263.5h1v1h-1zM470.2 249.5h1v1h-1zM434.1 235.5h1v1h-1zM447.0 275.7h1v1h-1zM442.1 250.2h1v1h-1zM469.8 268.0h1v1h-1zM444.2 248.3h1v1h-1zM427.0 258.3h1v1h-1zM447.6 242.4h1v1h-1zM438.4 239.9h1v1h-1zM438.3 243.8h1v1h-1zM442.1 249.4h1v1h-1zM430.9 247.4h1v1h-1zM422.8 249.4h1v1h-1zM473.3 267.7h1v1h-1zM446.3 251.3h1v1h-1zM435.8 266.6h1v1h-1zM456.0 251.6h1v1h-1zM465.3 268.9h1v1h-1zM425.2 269.1h1v1h-1zM442.1 277.3h1v1h-1zM451.6 235.2h1v1h-1zM437.0 276.2h1v1h-1zM453.8 238.2h1v1h-1zM431.8 271.6h1v1h-1zM439.3 256.1h1v1h-1zM446.4 261.7h1v1h-1zM453.5 247.8h1v1h-1zM448.4 269.0h1v1h-1zM439.1 264.3h1v1h-1zM443.1 250.5h1v1h-1zM420.4 245.6h1v1h-1zM475.7 273.1h1v1h-1zM442.6 269.1h1v1h-1zM444.1 266.2h1v1h-1zM451.4 254.1h1v1h-1zM455.4 259.3h1v1h-1zM452.4 269.8h1v1h-1zM439.1 266.1h1v1h-1zM426.3 267.2h1v1h-1zM445.6 259.2h1v1h-1zM437.5 247.7h1v1h-1zM440.7 260.0h1v1h-1zM447.9 263.2h1v1h-1zM451.0 252.2h1v1h-1zM464.7 266.3h1v1h-1zM446.0 247.7h1v1h-1zM425.4 256.8h1v1h-1zM455.5 252.2h1v1h-1zM460.0 285.0h1v1h-1zM426.5 268.0h1v1h-1zM455.8 262.5h1v1h-1zM450.3 242.9h1v1h-1zM440.8 242.1h1v1h-1zM450.1 266.5h1v1h-1zM453.0 257.1h1v1h-1zM455.6 263.0h1v1h-1zM462.8 242.1h1v1h-1zM447.7 240.2h1v1h-1zM447.8 259.2h1v1h-1zM479.3 261.3h1v1h-1zM434.0 239.7h1v1h-1zM444.3 247.8h1v1h-1zM443.3 266.3h1v1h-1zM457.9 254.6h1v1h-1zM462.3 267.3h1v1h-1zM430.7 274.2h1v1h-1zM463.9 264.8h1v1h-1zM432.4 256.6h1v1h-1zM481.9 257.2h1v1h-1zM439.2 270.6h1v1h-1zM462.3 243.6h1v1h-1zM444.4 244.3h1v1h-1zM457.1 259.4h1v1h-1zM438.1 238.8h1v1h-1zM449.6 269.8h1v1h-1zM448.2 250.6h1v1h-1zM449.1 264.4h1v1h-1zM458.2 256.2h1v1h-1zM442.2 253.9h1v1h-1zM443.7 257.3h1v1h-1zM430.8 231.7h1v1h-1zM446.1 244.8h1v1h-1zM441.5 251.2h1v1h-1zM459.4 286.1h1v1h-1zM456.6 269.1h1v1h-1zM438.5 264.7h1v1h-1zM453.7 246.8h1v1h-1zM465.0 271.6h1v1h-1zM445.2 272.0h1v1h-1zM432.6 263.9h1v1h-1zM455.1 243.4h1v1h-1zM457.1 246.9h1v1h-1zM480.5 260.8h1v1h-1zM437.5 244.5h1v1h-1zM451.9 259.2h1v1h-1zM423.2 259.5h1v1h-1zM454.3 258.9h1v1h-1zM453.1 260.0h1v1h-1zM437.7 260.8h1v1h-1zM436.8 265.0h1v1h-1zM445.6 249.7h1v1h-1zM444.9 249.5h1v1h-1zM468.5 275.7h1v1h-1zM444.7 253.3h1v1h-1zM445.9 247.7h1v1h-1zM445.6 260.8h1v1h-1zM427.1 249.9h1v1h-1z" fill="#b070d0" fill-opacity="0.45"/>
<text x="403.0" y="226.9" font-size="7.7" text-anchor="start" font-weight="normal" fill="#2a2a2a" stroke="#2a2a2a" stroke-width="0.1" >SVEC</text>
<line x1="409.7" y1="231.2" x2="414.6" y2="241.1" stroke="#111" stroke-width="1.3"/>
<polygon points="416.9,245.8 410.6,240.5 414.6,241.1 416.5,237.6" fill="#111"/>
<text x="471.2" y="227.0" font-size="7.7" text-anchor="start" font-weight="normal" fill="#2a2a2a" stroke="#2a2a2a" stroke-width="0.1" >LC</text>
<line x1="472.5" y1="230.0" x2="463.5" y2="240.3" stroke="#111" stroke-width="1.3"/>
<polygon points="460.0,244.3 462.5,236.5 463.5,240.3 467.4,240.8" fill="#111"/>
<text x="353.0" y="355.8" font-size="10.5" text-anchor="start" font-weight="bold" fill="#111" stroke="#111" stroke-width="0.1" >E</text>
<text x="452.8" y="362.5" font-size="10.0" text-anchor="middle" font-weight="normal" fill="#222" stroke="#222" stroke-width="0.1" >DAPI-CD45-CD3-</text>
<rect x="395.4" y="368.5" width="116.6" height="101.0" fill="none" stroke="#333" stroke-width="1.2"/>
<text x="375.2" y="380.4" font-size="7.7" fill="#2a2a2a" stroke="#2a2a2a" stroke-width="0.1">10<tspan font-size="5.24" dy="-3.23">5</tspan></text>
<text x="375.2" y="401.1" font-size="7.7" fill="#2a2a2a" stroke="#2a2a2a" stroke-width="0.1">10<tspan font-size="5.24" dy="-3.23">4</tspan></text>
<text x="375.2" y="420.8" font-size="7.7" fill="#2a2a2a" stroke="#2a2a2a" stroke-width="0.1">10<tspan font-size="5.24" dy="-3.23">3</tspan></text>
<text x="375.2" y="440.6" font-size="7.7" fill="#2a2a2a" stroke="#2a2a2a" stroke-width="0.1">10<tspan font-size="5.24" dy="-3.23">2</tspan></text>
<text x="375.2" y="461.3" font-size="7.7" fill="#2a2a2a" stroke="#2a2a2a" stroke-width="0.1">10<tspan font-size="5.24" dy="-3.23">1</tspan></text>
<text x="403.9" y="486.8" font-size="7.7" fill="#2a2a2a" stroke="#2a2a2a" stroke-width="0.1">10<tspan font-size="5.24" dy="-3.23">1</tspan></text>
<text x="427.0" y="486.8" font-size="7.7" fill="#2a2a2a" stroke="#2a2a2a" stroke-width="0.1">10<tspan font-size="5.24" dy="-3.23">2</tspan></text>
<text x="449.8" y="486.8" font-size="7.7" fill="#2a2a2a" stroke="#2a2a2a" stroke-width="0.1">10<tspan font-size="5.24" dy="-3.23">3</tspan></text>
<text x="473.5" y="486.8" font-size="7.7" fill="#2a2a2a" stroke="#2a2a2a" stroke-width="0.1">10<tspan font-size="5.24" dy="-3.23">4</tspan></text>
<text x="497.3" y="486.8" font-size="7.7" fill="#2a2a2a" stroke="#2a2a2a" stroke-width="0.1">10<tspan font-size="5.24" dy="-3.23">5</tspan></text>
<text transform="translate(451.6,497.1) scale(0.7,1)" x="0" y="3.24" font-size="9.0" text-anchor="middle" fill="#222" stroke="#222" stroke-width="0.35">CD206</text>
<text transform="translate(365.5,422.0) rotate(-90) scale(0.66,1)" x="0" y="3.24" font-size="9.0" text-anchor="middle" fill="#222" stroke="#222" stroke-width="0.35">CD34</text>
<path d="M418.7 450.9h1v1h-1zM417.5 430.8h1v1h-1zM422.0 458.1h1v1h-1zM423.9 452.9h1v1h-1zM412.5 451.0h1v1h-1zM410.0 444.0h1v1h-1zM428.3 446.3h1v1h-1zM413.5 439.9h1v1h-1zM407.8 447.2h1v1h-1zM405.6 451.0h1v1h-1zM417.7 440.2h1v1h-1zM413.7 451.2h1v1h-1zM406.0 439.5h1v1h-1zM411.8 449.1h1v1h-1zM411.0 442.9h1v1h-1zM424.4 453.0h1v1h-1zM419.4 461.2h1v1h-1zM417.8 446.9h1v1h-1zM409.7 439.8h1v1h-1zM416.7 441.3h1v1h-1zM422.2 450.7h1v1h-1zM418.9 441.0h1v1h-1zM424.8 454.0h1v1h-1zM418.4 447.5h1v1h-1zM422.4 453.1h1v1h-1zM420.9 440.8h1v1h-1zM414.2 436.5h1v1h-1zM426.6 439.9h1v1h-1zM420.3 448.6h1v1h-1zM423.3 439.1h1v1h-1zM411.0 449.9h1v1h-1zM410.8 426.9h1v1h-1zM416.7 439.3h1v1h-1zM412.7 442.9h1v1h-1zM421.9 430.3h1v1h-1zM420.6 440.2h1v1h-1zM425.9 433.6h1v1h-1zM421.7 444.9h1v1h-1zM410.6 442.0h1v1h-1zM424.1 452.0h1v1h-1zM413.7 437.4h1v1h-1zM413.1 430.8h1v1h-1zM418.3 440.5h1v1h-1zM417.8 446.1h1v1h-1zM424.6 446.7h1v1h-1zM420.7 455.5h1v1h-1zM427.3 443.3h1v1h-1zM416.5 443.1h1v1h-1zM420.1 438.3h1v1h-1zM414.5 439.6h1v1h-1zM415.2 453.4h1v1h-1zM426.6 449.2h1v1h-1zM420.8 423.6h1v1h-1zM420.8 455.4h1v1h-1zM412.7 427.8h1v1h-1zM429.0 443.0h1v1h-1zM416.7 453.0h1v1h-1zM413.7 445.6h1v1h-1zM417.8 449.7h1v1h-1zM422.3 452.8h1v1h-1zM422.8 448.2h1v1h-1zM427.4 435.8h1v1h-1zM411.0 447.2h1v1h-1zM415.1 438.9h1v1h-1zM428.0 426.2h1v1h-1zM432.7 444.5h1v1h-1zM413.8 449.1h1v1h-1zM417.3 446.0h1v1h-1zM407.9 443.8h1v1h-1zM412.6 458.8h1v1h-1zM412.2 446.6h1v1h-1zM417.2 452.6h1v1h-1zM410.2 446.8h1v1h-1zM423.9 459.6h1v1h-1zM417.5 441.9h1v1h-1zM416.3 454.7h1v1h-1zM423.9 461.0h1v1h-1zM416.2 441.7h1v1h-1zM409.9 452.7h1v1h-1zM418.1 433.8h1v1h-1zM432.0 449.6h1v1h-1zM418.6 451.3h1v1h-1zM421.3 438.6h1v1h-1zM416.6 430.0h1v1h-1zM416.5 445.3h1v1h-1zM421.2 442.8h1v1h-1zM400.8 444.4h1v1h-1zM409.9 446.5h1v1h-1zM414.1 451.5h1v1h-1zM416.2 457.9h1v1h-1zM427.3 450.0h1v1h-1zM433.8 434.5h1v1h-1zM422.0 451.3h1v1h-1zM420.5 448.7h1v1h-1zM422.3 446.9h1v1h-1zM427.7 459.6h1v1h-1zM411.5 446.5h1v1h-1zM414.7 441.8h1v1h-1zM418.9 449.2h1v1h-1zM419.8 432.1h1v1h-1zM405.6 451.5h1v1h-1zM420.7 446.0h1v1h-1zM407.6 457.9h1v1h-1zM422.9 451.5h1v1h-1zM423.4 449.0h1v1h-1zM403.3 444.8h1v1h-1zM421.2 435.8h1v1h-1zM419.2 444.7h1v1h-1zM413.9 447.2h1v1h-1zM424.1 454.2h1v1h-1zM430.9 450.5h1v1h-1zM421.1 451.4h1v1h-1zM410.8 450.0h1v1h-1zM408.6 439.6h1v1h-1zM410.3 446.8h1v1h-1zM411.3 442.6h1v1h-1zM425.2 435.8h1v1h-1zM419.8 432.9h1v1h-1zM417.7 452.1h1v1h-1zM423.6 458.0h1v1h-1zM418.0 457.1h1v1h-1zM418.1 438.2h1v1h-1zM412.5 457.1h1v1h-1zM413.9 457.7h1v1h-1zM418.1 439.0h1v1h-1zM410.3 448.4h1v1h-1zM428.7 460.9h1v1h-1zM418.7 446.2h1v1h-1zM414.3 454.7h1v1h-1zM424.2 441.0h1v1h-1zM411.0 441.6h1v1h-1zM424.8 453.5h1v1h-1zM418.5 444.0h1v1h-1zM430.1 448.0h1v1h-1zM414.3 445.6h1v1h-1zM415.3 436.5h1v1h-1zM412.4 457.0h1v1h-1zM409.8 443.1h1v1h-1zM419.5 442.8h1v1h-1zM411.0 440.7h1v1h-1zM420.0 446.1h1v1h-1zM413.8 437.0h1v1h-1zM424.7 453.4h1v1h-1zM401.4 440.3h1v1h-1zM420.6 452.3h1v1h-1zM418.2 438.0h1v1h-1zM417.9 436.8h1v1h-1zM413.8 437.1h1v1h-1zM429.2 448.7h1v1h-1zM415.2 433.9h1v1h-1zM420.6 452.7h1v1h-1zM416.2 442.3h1v1h-1zM415.6 452.5h1v1h-1zM418.5 442.2h1v1h-1zM422.3 452.6h1v1h-1zM410.6 435.8h1v1h-1zM414.8 435.7h1v1h-1zM408.8 449.0h1v1h-1zM420.5 441.0h1v1h-1zM412.3 453.4h1v1h-1zM413.0 438.9h1v1h-1zM422.1 450.1h1v1h-1zM417.8 438.4h1v1h-1zM420.5 431.1h1v1h-1zM417.0 457.1h1v1h-1zM420.5 443.9h1v1h-1zM418.4 453.4h1v1h-1zM410.6 445.8h1v1h-1zM419.2 431.1h1v1h-1zM415.6 448.2h1v1h-1zM416.3 454.0h1v1h-1zM419.7 456.2h1v1h-1zM414.3 458.4h1v1h-1zM411.0 447.6h1v1h-1zM425.5 445.4h1v1h-1zM429.8 447.4h1v1h-1zM415.6 435.2h1v1h-1zM425.3 452.3h1v1h-1zM420.4 451.6h1v1h-1zM413.7 447.6h1v1h-1zM412.5 438.1h1v1h-1zM416.0 450.3h1v1h-1zM415.1 440.2h1v1h-1zM415.7 455.3h1v1h-1zM417.1 440.0h1v1h-1zM410.5 439.8h1v1h-1zM423.5 443.3h1v1h-1zM410.5 435.6h1v1h-1zM410.9 436.8h1v1h-1zM423.9 443.6h1v1h-1zM422.8 425.3h1v1h-1zM427.3 463.1h1v1h-1zM418.7 448.4h1v1h-1zM413.7 447.1h1v1h-1zM425.3 438.8h1v1h-1zM417.2 446.7h1v1h-1zM417.1 445.0h1v1h-1zM412.4 445.2h1v1h-1zM420.5 433.1h1v1h-1zM402.5 442.2h1v1h-1zM421.3 429.8h1v1h-1zM404.9 441.8h1v1h-1zM423.5 438.5h1v1h-1zM407.8 438.7h1v1h-1zM422.3 443.0h1v1h-1zM433.9 454.2h1v1h-1zM416.1 455.1h1v1h-1zM410.3 444.4h1v1h-1zM430.5 437.8h1v1h-1zM415.0 457.2h1v1h-1zM410.6 432.4h1v1h-1zM426.0 441.6h1v1h-1zM399.4 440.9h1v1h-1zM408.2 437.7h1v1h-1zM409.3 455.1h1v1h-1zM413.4 447.9h1v1h-1zM404.7 452.4h1v1h-1zM423.2 443.3h1v1h-1zM424.5 453.2h1v1h-1zM417.5 443.8h1v1h-1zM415.2 443.5h1v1h-1zM407.7 446.2h1v1h-1zM420.9 448.7h1v1h-1zM413.3 449.3h1v1h-1zM421.9 443.8h1v1h-1zM424.5 433.4h1v1h-1zM418.2 442.4h1v1h-1zM404.1 420.8h1v1h-1zM411.8 441.8h1v1h-1zM426.7 439.4h1v1h-1zM419.7 452.1h1v1h-1zM427.1 423.5h1v1h-1zM403.3 459.9h1v1h-1zM417.1 442.0h1v1h-1zM416.7 431.5h1v1h-1zM407.3 447.2h1v1h-1zM413.7 448.5h1v1h-1zM424.2 449.4h1v1h-1zM421.4 463.7h1v1h-1zM414.4 437.6h1v1h-1zM420.0 447.7h1v1h-1zM425.6 447.3h1v1h-1zM410.9 438.4h1v1h-1zM419.8 447.7h1v1h-1zM424.7 456.4h1v1h-1zM413.4 437.3h1v1h-1zM426.3 449.9h1v1h-1zM417.3 453.4h1v1h-1zM425.1 451.4h1v1h-1zM423.9 432.4h1v1h-1zM419.6 447.6h1v1h-1zM416.0 441.5h1v1h-1zM413.6 454.7h1v1h-1zM419.0 444.1h1v1h-1zM419.3 461.6h1v1h-1zM427.0 435.9h1v1h-1zM417.3 449.1h1v1h-1zM420.2 438.0h1v1h-1zM428.9 461.3h1v1h-1zM420.0 458.4h1v1h-1zM420.9 437.6h1v1h-1zM428.4 452.7h1v1h-1zM418.5 444.7h1v1h-1zM420.5 431.7h1v1h-1zM422.8 436.9h1v1h-1zM417.1 445.7h1v1h-1zM410.7 448.4h1v1h-1zM408.4 440.6h1v1h-1zM416.6 447.3h1v1h-1zM425.2 448.6h1v1h-1zM424.4 448.3h1v1h-1zM428.5 436.5h1v1h-1zM423.8 446.9h1v1h-1zM413.7 448.9h1v1h-1zM408.4 431.3h1v1h-1zM414.5 457.5h1v1h-1zM416.2 457.0h1v1h-1zM413.1 445.7h1v1h-1zM423.9 463.3h1v1h-1zM412.8 437.6h1v1h-1zM421.7 437.6h1v1h-1zM423.0 440.4h1v1h-1zM406.6 437.5h1v1h-1zM415.2 460.1h1v1h-1zM426.1 446.5h1v1h-1zM423.4 445.2h1v1h-1zM418.7 448.2h1v1h-1zM410.7 457.4h1v1h-1zM413.3 445.8h1v1h-1zM418.5 441.9h1v1h-1zM426.1 448.4h1v1h-1zM421.1 456.0h1v1h-1zM417.3 443.2h1v1h-1zM419.4 457.1h1v1h-1zM423.0 448.2h1v1h-1zM406.5 442.0h1v1h-1zM411.5 448.3h1v1h-1zM418.1 461.6h1v1h-1zM425.8 444.0h1v1h-1zM424.9 457.5h1v1h-1zM412.8 449.1h1v1h-1zM418.0 446.4h1v1h-1zM413.1 444.8h1v1h-1zM415.4 451.6h1v1h-1zM418.8 450.3h1v1h-1zM415.5 447.8h1v1h-1zM414.3 450.1h1v1h-1zM410.3 436.8h1v1h-1zM407.6 438.2h1v1h-1zM416.6 436.5h1v1h-1zM419.1 442.3h1v1h-1zM421.9 443.8h1v1h-1zM412.6 441.3h1v1h-1zM413.2 448.9h1v1h-1zM426.1 438.2h1v1h-1zM420.6 443.4h1v1h-1zM423.6 453.0h1v1h-1zM414.2 458.6h1v1h-1zM413.2 444.9h1v1h-1zM410.4 454.1h1v1h-1zM424.3 457.3h1v1h-1zM410.5 435.6h1v1h-1zM406.6 445.6h1v1h-1zM413.0 435.6h1v1h-1zM426.1 442.9h1v1h-1zM418.1 448.5h1v1h-1zM419.4 434.7h1v1h-1zM418.6 449.6h1v1h-1zM417.6 443.8h1v1h-1zM416.8 442.9h1v1h-1zM408.8 448.3h1v1h-1zM428.7 439.6h1v1h-1zM416.9 430.8h1v1h-1zM425.7 446.3h1v1h-1zM407.7 437.7h1v1h-1zM421.4 443.8h1v1h-1zM410.2 434.8h1v1h-1zM409.5 436.1h1v1h-1zM419.6 436.7h1v1h-1zM424.6 435.2h1v1h-1zM426.7 439.4h1v1h-1zM426.5 439.6h1v1h-1zM416.1 445.0h1v1h-1zM414.0 439.3h1v1h-1zM414.4 431.3h1v1h-1zM419.4 450.0h1v1h-1zM417.1 434.6h1v1h-1zM423.4 438.3h1v1h-1zM406.0 440.5h1v1h-1zM425.2 446.2h1v1h-1zM414.1 445.0h1v1h-1zM427.4 448.2h1v1h-1zM425.3 444.9h1v1h-1zM410.4 453.1h1v1h-1zM417.6 451.8h1v1h-1zM422.3 441.0h1v1h-1zM412.7 442.5h1v1h-1zM413.1 433.0h1v1h-1zM415.9 450.1h1v1h-1zM422.7 443.8h1v1h-1zM423.8 461.5h1v1h-1zM415.1 438.9h1v1h-1zM423.3 458.2h1v1h-1zM427.4 438.5h1v1h-1zM423.8 431.7h1v1h-1zM413.1 437.2h1v1h-1zM412.4 447.0h1v1h-1zM419.7 453.6h1v1h-1zM423.2 438.3h1v1h-1zM420.7 453.3h1v1h-1zM415.4 440.2h1v1h-1zM411.9 439.8h1v1h-1zM426.1 443.4h1v1h-1zM416.9 458.4h1v1h-1zM430.0 447.9h1v1h-1zM410.5 446.4h1v1h-1zM415.8 432.1h1v1h-1zM413.8 445.7h1v1h-1zM429.8 448.7h1v1h-1zM425.9 459.4h1v1h-1zM414.7 437.2h1v1h-1zM405.5 437.4h1v1h-1zM425.4 438.2h1v1h-1zM418.8 439.6h1v1h-1zM410.6 449.4h1v1h-1zM408.2 437.0h1v1h-1zM420.5 455.7h1v1h-1zM416.6 444.9h1v1h-1zM418.9 437.4h1v1h-1zM420.5 439.8h1v1h-1zM415.5 433.2h1v1h-1zM416.2 432.6h1v1h-1zM422.2 454.9h1v1h-1zM417.2 452.0h1v1h-1zM416.2 436.4h1v1h-1zM422.1 441.6h1v1h-1zM405.2 456.4h1v1h-1zM426.0 439.8h1v1h-1zM420.8 447.0h1v1h-1zM413.0 448.3h1v1h-1zM416.8 443.0h1v1h-1zM425.9 444.3h1v1h-1zM421.5 442.4h1v1h-1zM406.5 444.2h1v1h-1zM411.4 431.0h1v1h-1zM419.1 445.3h1v1h-1zM429.5 447.8h1v1h-1zM422.9 434.4h1v1h-1zM416.7 448.3h1v1h-1zM421.7 437.5h1v1h-1zM418.1 423.0h1v1h-1zM416.0 428.4h1v1h-1zM420.4 445.8h1v1h-1zM404.2 447.6h1v1h-1zM424.5 442.0h1v1h-1zM421.5 433.1h1v1h-1zM415.2 443.0h1v1h-1zM412.5 451.6h1v1h-1zM410.2 443.3h1v1h-1zM419.8 432.7h1v1h-1zM419.0 448.7h1v1h-1zM419.1 443.2h1v1h-1zM429.0 444.7h1v1h-1zM403.8 443.3h1v1h-1zM413.3 448.7h1v1h-1zM413.0 443.1h1v1h-1zM424.1 437.5h1v1h-1zM416.4 443.5h1v1h-1zM411.9 445.0h1v1h-1zM419.3 454.6h1v1h-1zM420.6 434.9h1v1h-1zM428.4 444.9h1v1h-1zM419.6 437.6h1v1h-1zM415.2 446.5h1v1h-1zM414.8 439.7h1v1h-1zM421.2 453.0h1v1h-1zM423.3 439.9h1v1h-1zM416.5 435.4h1v1h-1zM417.1 432.1h1v1h-1zM426.9 437.0h1v1h-1zM418.7 434.0h1v1h-1zM421.2 443.9h1v1h-1zM411.0 444.9h1v1h-1zM414.1 443.5h1v1h-1zM404.2 445.8h1v1h-1zM409.2 436.6h1v1h-1zM420.4 449.9h1v1h-1zM426.0 444.8h1v1h-1zM416.3 448.1h1v1h-1zM410.3 448.7h1v1h-1zM418.6 441.7h1v1h-1zM425.4 455.9h1v1h-1zM417.0 451.1h1v1h-1zM423.9 442.0h1v1h-1zM417.6 459.2h1v1h-1zM410.1 457.4h1v1h-1zM412.2 431.2h1v1h-1zM416.4 425.9h1v1h-1zM432.7 441.5h1v1h-1zM421.8 449.0h1v1h-1zM416.5 452.2h1v1h-1zM419.9 450.4h1v1h-1zM419.4 444.8h1v1h-1zM415.2 452.3h1v1h-1zM417.3 450.5h1v1h-1zM416.4 440.9h1v1h-1zM422.8 446.8h1v1h-1zM428.1 454.8h1v1h-1zM426.6 440.6h1v1h-1zM416.0 439.3h1v1h-1zM421.6 438.3h1v1h-1zM413.3 456.2h1v1h-1zM411.0 449.4h1v1h-1zM418.5 451.8h1v1h-1zM421.9 442.2h1v1h-1zM417.6 444.5h1v1h-1zM423.3 455.5h1v1h-1zM423.4 443.1h1v1h-1zM422.9 455.2h1v1h-1zM417.0 444.5h1v1h-1zM409.2 443.4h1v1h-1zM429.6 450.9h1v1h-1zM414.9 451.4h1v1h-1zM422.7 459.9h1v1h-1zM421.1 442.3h1v1h-1zM415.8 458.4h1v1h-1zM429.8 440.1h1v1h-1zM422.4 438.3h1v1h-1zM417.9 426.3h1v1h-1zM415.3 451.4h1v1h-1zM411.8 456.2h1v1h-1zM409.9 433.9h1v1h-1zM421.7 442.6h1v1h-1zM415.2 442.3h1v1h-1zM415.1 431.6h1v1h-1zM421.3 445.8h1v1h-1zM415.8 447.0h1v1h-1zM422.2 441.2h1v1h-1zM413.9 435.9h1v1h-1zM414.7 445.5h1v1h-1zM423.9 450.5h1v1h-1zM413.6 432.6h1v1h-1zM421.9 444.5h1v1h-1zM421.3 449.9h1v1h-1zM418.1 421.7h1v1h-1zM407.4 446.1h1v1h-1zM409.6 457.9h1v1h-1zM411.0 433.3h1v1h-1zM409.7 454.5h1v1h-1zM423.6 443.1h1v1h-1zM412.4 449.1h1v1h-1zM410.0 442.5h1v1h-1zM414.8 435.0h1v1h-1zM417.4 430.6h1v1h-1zM407.3 463.1h1v1h-1zM421.9 434.3h1v1h-1zM422.6 443.2h1v1h-1zM414.2 456.1h1v1h-1zM423.2 448.0h1v1h-1zM408.0 445.0h1v1h-1zM414.5 427.8h1v1h-1zM417.0 439.6h1v1h-1zM418.5 433.9h1v1h-1zM425.4 431.0h1v1h-1zM415.9 447.6h1v1h-1zM411.5 450.9h1v1h-1zM419.4 438.7h1v1h-1zM419.0 439.6h1v1h-1zM420.9 448.8h1v1h-1zM415.9 451.9h1v1h-1zM419.1 436.3h1v1h-1zM414.3 454.1h1v1h-1zM421.6 453.1h1v1h-1zM413.8 444.4h1v1h-1zM414.0 435.2h1v1h-1zM425.5 450.5h1v1h-1zM413.1 449.9h1v1h-1zM418.0 459.4h1v1h-1zM421.6 440.4h1v1h-1zM416.0 457.7h1v1h-1zM423.8 442.7h1v1h-1zM414.3 448.8h1v1h-1zM424.5 444.8h1v1h-1zM408.0 444.3h1v1h-1zM409.3 455.9h1v1h-1zM418.4 439.3h1v1h-1zM427.1 452.9h1v1h-1zM428.3 444.0h1v1h-1zM412.5 443.9h1v1h-1zM417.8 438.9h1v1h-1zM414.8 446.1h1v1h-1zM404.3 426.6h1v1h-1zM422.6 443.3h1v1h-1zM415.6 453.0h1v1h-1zM426.7 453.0h1v1h-1zM419.8 431.7h1v1h-1zM414.6 435.2h1v1h-1zM413.6 440.9h1v1h-1zM416.8 460.3h1v1h-1zM420.9 441.7h1v1h-1zM414.9 444.4h1v1h-1zM435.9 445.2h1v1h-1zM419.3 447.6h1v1h-1zM410.7 436.4h1v1h-1zM418.5 447.1h1v1h-1zM425.3 449.8h1v1h-1zM420.7 453.9h1v1h-1zM415.9 437.3h1v1h-1zM413.7 451.9h1v1h-1zM412.9 460.2h1v1h-1zM410.4 450.5h1v1h-1zM414.7 450.2h1v1h-1zM419.7 424.8h1v1h-1zM414.4 455.6h1v1h-1zM428.4 462.2h1v1h-1zM420.4 455.4h1v1h-1zM415.2 448.8h1v1h-1zM417.8 451.8h1v1h-1zM407.1 437.6h1v1h-1zM419.5 441.8h1v1h-1zM435.1 456.4h1v1h-1zM424.4 447.9h1v1h-1zM412.2 426.2h1v1h-1zM418.8 446.9h1v1h-1zM416.5 447.7h1v1h-1zM435.8 439.5h1v1h-1zM413.7 447.6h1v1h-1zM416.2 446.8h1v1h-1zM415.9 429.6h1v1h-1zM408.9 448.1h1v1h-1zM396.9 460.2h1v1h-1zM416.5 459.4h1v1h-1zM421.3 435.9h1v1h-1zM415.2 433.5h1v1h-1zM421.1 445.9h1v1h-1zM422.8 447.9h1v1h-1z" fill="#2464cc" fill-opacity="0.65"/>
<path d="M399.4 432.9h1v1h-1zM405.9 439.9h1v1h-1zM428.7 451.0h1v1h-1zM416.6 445.7h1v1h-1zM425.2 454.7h1v1h-1zM413.6 439.6h1v1h-1zM425.1 426.8h1v1h-1zM408.2 451.8h1v1h-1zM408.3 458.7h1v1h-1zM403.6 428.1h1v1h-1zM409.6 440.0h1v1h-1zM399.1 424.4h1v1h-1zM408.8 449.7h1v1h-1zM415.5 432.2h1v1h-1zM415.8 453.1h1v1h-1zM418.2 441.2h1v1h-1zM409.6 446.4h1v1h-1zM413.3 452.3h1v1h-1zM426.5 442.8h1v1h-1zM412.2 433.8h1v1h-1zM414.2 455.1h1v1h-1zM401.8 460.5h1v1h-1zM425.8 438.3h1v1h-1zM404.4 439.2h1v1h-1zM402.1 449.3h1v1h-1zM424.4 449.6h1v1h-1zM400.5 450.6h1v1h-1zM424.7 428.9h1v1h-1zM412.8 435.3h1v1h-1zM407.0 448.8h1v1h-1zM428.3 444.0h1v1h-1zM400.4 443.1h1v1h-1zM422.4 455.4h1v1h-1zM400.2 456.9h1v1h-1zM419.4 448.8h1v1h-1zM413.4 442.9h1v1h-1zM410.8 453.1h1v1h-1zM402.2 449.9h1v1h-1zM406.6 451.8h1v1h-1zM416.8 435.5h1v1h-1zM403.0 450.2h1v1h-1zM420.7 462.5h1v1h-1zM416.4 441.9h1v1h-1zM419.7 446.6h1v1h-1zM416.3 442.4h1v1h-1zM419.9 454.7h1v1h-1zM417.9 422.4h1v1h-1zM422.8 462.6h1v1h-1zM417.9 450.7h1v1h-1zM417.3 442.6h1v1h-1zM403.7 448.1h1v1h-1zM414.3 449.1h1v1h-1zM424.3 452.4h1v1h-1zM403.6 458.3h1v1h-1zM396.4 447.0h1v1h-1zM407.8 453.2h1v1h-1zM417.7 461.3h1v1h-1zM423.1 451.3h1v1h-1zM410.2 438.3h1v1h-1zM400.9 453.6h1v1h-1zM413.1 467.5h1v1h-1zM421.2 441.6h1v1h-1zM413.2 450.1h1v1h-1zM424.8 449.8h1v1h-1zM408.2 454.8h1v1h-1zM423.3 440.7h1v1h-1zM431.7 444.9h1v1h-1zM402.9 466.6h1v1h-1zM404.2 452.7h1v1h-1zM420.9 438.4h1v1h-1zM419.3 445.9h1v1h-1zM413.5 462.0h1v1h-1zM428.1 427.6h1v1h-1zM412.5 446.3h1v1h-1zM396.1 455.9h1v1h-1zM403.3 431.3h1v1h-1zM428.5 437.0h1v1h-1zM398.2 445.6h1v1h-1zM422.7 441.9h1v1h-1zM415.4 448.5h1v1h-1zM427.0 430.0h1v1h-1zM402.2 436.0h1v1h-1zM405.7 464.1h1v1h-1zM410.0 438.1h1v1h-1zM400.2 450.0h1v1h-1zM411.2 444.6h1v1h-1zM411.9 454.6h1v1h-1zM423.2 448.8h1v1h-1zM412.8 449.6h1v1h-1zM409.4 457.9h1v1h-1zM419.2 448.7h1v1h-1zM425.9 426.7h1v1h-1zM425.2 438.0h1v1h-1zM416.8 460.7h1v1h-1zM409.6 456.8h1v1h-1zM408.6 442.7h1v1h-1zM399.4 427.9h1v1h-1zM414.5 437.4h1v1h-1zM413.5 467.9h1v1h-1zM431.8 458.3h1v1h-1zM416.2 458.5h1v1h-1zM421.9 427.6h1v1h-1zM428.1 430.4h1v1h-1zM406.7 430.4h1v1h-1zM411.2 446.4h1v1h-1zM415.1 433.3h1v1h-1zM401.3 450.4h1v1h-1zM423.2 442.8h1v1h-1zM423.7 439.1h1v1h-1zM419.3 452.3h1v1h-1zM421.2 450.1h1v1h-1zM401.7 446.6h1v1h-1zM426.2 441.2h1v1h-1zM407.1 444.6h1v1h-1zM415.1 423.9h1v1h-1zM418.4 437.8h1v1h-1zM406.3 446.7h1v1h-1zM401.2 449.5h1v1h-1zM412.1 434.4h1v1h-1zM425.0 431.4h1v1h-1zM424.7 444.7h1v1h-1zM411.8 444.2h1v1h-1zM425.4 444.7h1v1h-1zM412.0 448.1h1v1h-1zM401.3 456.4h1v1h-1zM420.7 452.6h1v1h-1zM419.9 432.6h1v1h-1zM403.6 454.3h1v1h-1zM398.3 434.1h1v1h-1zM403.0 449.3h1v1h-1zM426.6 446.2h1v1h-1zM410.4 463.4h1v1h-1zM406.5 444.1h1v1h-1zM420.4 442.2h1v1h-1zM417.3 454.5h1v1h-1zM411.3 448.5h1v1h-1zM422.9 442.3h1v1h-1zM404.4 454.2h1v1h-1zM413.1 468.0h1v1h-1zM400.9 462.8h1v1h-1zM414.5 439.4h1v1h-1zM401.2 444.2h1v1h-1zM399.5 447.0h1v1h-1zM420.1 426.8h1v1h-1zM412.0 463.9h1v1h-1zM418.0 429.6h1v1h-1zM432.7 449.6h1v1h-1zM415.7 431.8h1v1h-1zM418.7 446.6h1v1h-1zM400.7 454.2h1v1h-1zM423.0 450.9h1v1h-1zM423.1 435.9h1v1h-1zM402.2 438.2h1v1h-1zM421.0 455.3h1v1h-1zM417.3 444.6h1v1h-1zM411.4 446.5h1v1h-1zM414.7 455.4h1v1h-1zM406.7 448.0h1v1h-1zM410.1 458.9h1v1h-1zM414.9 464.6h1v1h-1zM411.8 452.7h1v1h-1zM420.9 455.7h1v1h-1zM423.9 465.6h1v1h-1zM432.8 438.4h1v1h-1zM407.6 437.5h1v1h-1zM399.9 443.7h1v1h-1zM421.0 440.8h1v1h-1zM402.5 423.2h1v1h-1zM413.8 419.7h1v1h-1zM409.4 431.1h1v1h-1zM415.9 438.5h1v1h-1zM408.9 450.0h1v1h-1zM421.5 439.6h1v1h-1zM403.7 447.2h1v1h-1zM406.9 454.7h1v1h-1zM403.2 434.7h1v1h-1zM411.7 456.0h1v1h-1zM408.6 445.2h1v1h-1zM404.7 449.0h1v1h-1zM429.2 455.7h1v1h-1zM424.5 453.6h1v1h-1zM401.9 431.1h1v1h-1zM420.0 432.9h1v1h-1zM414.0 448.1h1v1h-1zM422.3 452.9h1v1h-1zM406.6 468.0h1v1h-1zM414.7 441.3h1v1h-1zM435.8 440.0h1v1h-1zM408.6 437.5h1v1h-1zM428.7 431.2h1v1h-1zM412.7 431.1h1v1h-1zM432.2 439.2h1v1h-1zM411.9 446.3h1v1h-1zM402.1 436.9h1v1h-1zM402.0 445.4h1v1h-1zM406.9 442.2h1v1h-1zM420.5 442.7h1v1h-1zM418.0 440.5h1v1h-1zM415.2 448.3h1v1h-1zM425.6 445.4h1v1h-1zM402.8 448.1h1v1h-1zM424.9 446.3h1v1h-1zM407.1 447.0h1v1h-1zM407.7 437.7h1v1h-1zM418.3 446.5h1v1h-1zM416.4 435.7h1v1h-1zM408.0 452.5h1v1h-1zM413.1 448.9h1v1h-1zM431.6 429.5h1v1h-1zM424.0 437.6h1v1h-1zM405.0 452.7h1v1h-1zM401.8 446.7h1v1h-1zM415.9 432.9h1v1h-1zM405.3 437.8h1v1h-1zM404.7 446.9h1v1h-1zM421.9 448.3h1v1h-1zM410.8 445.0h1v1h-1zM409.7 436.2h1v1h-1zM416.3 442.7h1v1h-1zM429.9 439.8h1v1h-1zM417.3 432.6h1v1h-1zM421.5 433.3h1v1h-1zM414.8 436.4h1v1h-1zM431.0 428.9h1v1h-1zM400.4 450.2h1v1h-1zM401.6 453.4h1v1h-1zM408.4 454.7h1v1h-1zM430.9 437.0h1v1h-1z" fill="#3a78d0" fill-opacity="0.5"/>
<path d="M432.6 428.7h1v1h-1zM428.6 425.1h1v1h-1zM432.8 424.4h1v1h-1zM424.4 442.2h1v1h-1zM422.6 437.5h1v1h-1zM432.0 418.1h1v1h-1zM431.9 421.1h1v1h-1zM428.6 434.0h1v1h-1zM432.6 424.7h1v1h-1zM431.5 419.7h1v1h-1zM420.5 436.2h1v1h-1zM428.5 424.4h1v1h-1zM428.0 435.3h1v1h-1zM422.7 432.0h1v1h-1zM428.7 427.9h1v1h-1zM422.0 431.7h1v1h-1zM429.7 427.0h1v1h-1zM422.7 435.1h1v1h-1zM422.2 431.2h1v1h-1zM417.4 437.7h1v1h-1zM430.4 423.6h1v1h-1zM425.0 435.4h1v1h-1zM414.5 440.3h1v1h-1zM435.1 419.7h1v1h-1zM421.5 433.8h1v1h-1zM419.8 435.6h1v1h-1zM428.8 426.1h1v1h-1zM434.6 423.8h1v1h-1zM433.5 422.9h1v1h-1zM433.9 416.7h1v1h-1zM424.8 427.4h1v1h-1zM426.5 431.9h1v1h-1zM417.5 439.4h1v1h-1zM429.3 422.2h1v1h-1zM432.9 421.5h1v1h-1zM420.3 442.4h1v1h-1zM422.0 435.2h1v1h-1zM431.8 417.9h1v1h-1zM424.1 432.6h1v1h-1zM431.1 424.5h1v1h-1zM421.8 431.1h1v1h-1zM429.5 422.1h1v1h-1zM417.7 439.6h1v1h-1zM429.9 431.4h1v1h-1zM433.5 422.3h1v1h-1zM434.8 421.7h1v1h-1zM424.4 435.4h1v1h-1zM431.5 433.7h1v1h-1zM427.9 431.4h1v1h-1zM420.6 440.6h1v1h-1zM433.7 424.8h1v1h-1zM417.9 437.6h1v1h-1zM417.8 435.6h1v1h-1zM421.1 431.3h1v1h-1zM436.4 423.1h1v1h-1zM434.9 422.9h1v1h-1zM425.2 433.5h1v1h-1zM424.6 430.5h1v1h-1zM422.1 435.7h1v1h-1zM424.8 433.0h1v1h-1zM419.0 439.1h1v1h-1zM434.6 421.0h1v1h-1zM422.4 434.0h1v1h-1zM426.0 438.2h1v1h-1zM420.4 441.3h1v1h-1zM419.8 434.6h1v1h-1zM419.7 438.5h1v1h-1zM423.4 429.1h1v1h-1zM431.2 426.6h1v1h-1zM428.5 419.5h1v1h-1zM422.2 438.4h1v1h-1zM421.7 436.5h1v1h-1zM426.1 435.0h1v1h-1zM419.3 438.2h1v1h-1zM434.3 423.2h1v1h-1zM420.1 434.2h1v1h-1zM423.7 434.1h1v1h-1zM431.1 422.0h1v1h-1zM433.0 422.9h1v1h-1zM432.0 424.8h1v1h-1zM430.4 431.9h1v1h-1zM424.6 432.1h1v1h-1zM418.8 433.8h1v1h-1zM420.5 432.3h1v1h-1zM431.1 425.2h1v1h-1zM434.0 424.4h1v1h-1zM429.9 420.8h1v1h-1zM431.3 424.4h1v1h-1zM428.0 429.8h1v1h-1zM429.2 425.8h1v1h-1zM423.9 430.9h1v1h-1zM435.4 419.1h1v1h-1zM425.0 437.4h1v1h-1zM431.9 423.3h1v1h-1zM425.0 429.9h1v1h-1zM430.6 434.0h1v1h-1zM416.8 438.4h1v1h-1zM418.4 444.0h1v1h-1zM419.4 437.3h1v1h-1zM418.1 434.7h1v1h-1zM417.1 432.2h1v1h-1zM427.9 425.3h1v1h-1zM428.1 432.6h1v1h-1zM430.2 430.6h1v1h-1zM426.8 434.8h1v1h-1zM414.7 435.7h1v1h-1zM430.3 425.3h1v1h-1zM431.4 426.3h1v1h-1zM429.6 422.0h1v1h-1zM427.2 426.5h1v1h-1zM422.7 434.5h1v1h-1zM423.9 436.7h1v1h-1zM426.2 430.0h1v1h-1zM427.1 433.5h1v1h-1zM431.6 429.6h1v1h-1zM427.1 433.0h1v1h-1zM427.1 432.1h1v1h-1z" fill="#4a9ad8" fill-opacity="0.6"/>
<path d="M396.9 436.8h1v1h-1zM396.6 437.3h1v1h-1zM396.9 454.7h1v1h-1zM396.0 442.8h1v1h-1zM396.7 461.9h1v1h-1zM396.0 428.4h1v1h-1zM396.7 467.1h1v1h-1zM396.3 456.6h1v1h-1zM396.9 440.9h1v1h-1zM396.2 444.8h1v1h-1zM396.8 464.2h1v1h-1zM396.2 466.9h1v1h-1zM395.9 440.0h1v1h-1zM396.5 455.1h1v1h-1zM396.1 447.5h1v1h-1zM396.7 457.6h1v1h-1zM396.7 459.0h1v1h-1zM396.3 445.5h1v1h-1zM396.0 434.0h1v1h-1zM396.8 433.3h1v1h-1zM396.9 462.0h1v1h-1zM396.9 446.7h1v1h-1zM396.7 462.2h1v1h-1zM396.0 462.2h1v1h-1zM396.8 457.8h1v1h-1zM396.3 435.1h1v1h-1zM396.4 468.6h1v1h-1zM396.1 445.1h1v1h-1zM396.7 467.7h1v1h-1zM397.0 428.6h1v1h-1zM396.2 459.2h1v1h-1zM396.0 464.1h1v1h-1zM396.4 462.3h1v1h-1zM396.0 454.7h1v1h-1zM396.0 468.9h1v1h-1zM396.4 438.0h1v1h-1zM396.3 446.4h1v1h-1zM395.8 437.5h1v1h-1zM396.9 461.1h1v1h-1zM397.0 450.9h1v1h-1zM396.8 460.0h1v1h-1zM396.2 431.1h1v1h-1zM396.6 429.9h1v1h-1zM396.9 431.4h1v1h-1zM396.8 463.2h1v1h-1zM397.0 449.8h1v1h-1zM396.7 430.5h1v1h-1zM396.2 430.3h1v1h-1zM396.1 458.1h1v1h-1zM396.1 435.4h1v1h-1zM397.0 455.5h1v1h-1zM396.3 436.0h1v1h-1zM396.5 465.0h1v1h-1zM396.7 441.8h1v1h-1zM395.8 459.3h1v1h-1zM396.1 440.6h1v1h-1zM396.9 428.3h1v1h-1zM396.3 434.6h1v1h-1zM396.2 460.8h1v1h-1zM396.6 442.2h1v1h-1zM396.1 456.8h1v1h-1zM396.7 435.7h1v1h-1zM396.6 446.1h1v1h-1zM396.9 450.6h1v1h-1zM396.0 459.1h1v1h-1zM396.0 466.3h1v1h-1zM396.6 443.0h1v1h-1zM396.5 440.1h1v1h-1zM396.9 436.9h1v1h-1zM396.9 456.4h1v1h-1zM396.9 455.6h1v1h-1zM395.8 439.2h1v1h-1zM396.7 436.3h1v1h-1zM396.8 432.0h1v1h-1zM396.6 432.9h1v1h-1zM396.1 459.4h1v1h-1zM396.3 460.7h1v1h-1zM396.4 447.4h1v1h-1zM396.0 459.6h1v1h-1zM396.6 449.8h1v1h-1z" fill="#1a3fa0" fill-opacity="0.8"/>
<path d="M430.4 404.6h1v1h-1zM427.8 397.0h1v1h-1zM412.2 400.8h1v1h-1zM414.9 403.4h1v1h-1zM405.6 410.7h1v1h-1zM405.6 406.1h1v1h-1zM406.3 406.8h1v1h-1zM423.3 408.7h1v1h-1zM416.8 402.6h1v1h-1zM408.6 410.1h1v1h-1zM413.5 406.8h1v1h-1zM414.6 402.4h1v1h-1zM413.6 403.9h1v1h-1zM426.7 405.1h1v1h-1zM405.7 408.2h1v1h-1zM414.9 411.2h1v1h-1zM419.2 404.8h1v1h-1zM420.6 405.2h1v1h-1zM404.2 412.6h1v1h-1zM418.8 417.8h1v1h-1zM409.9 412.7h1v1h-1zM414.1 406.7h1v1h-1zM407.8 404.6h1v1h-1zM422.4 408.5h1v1h-1zM436.9 407.1h1v1h-1zM423.9 403.0h1v1h-1zM415.8 411.0h1v1h-1zM406.8 415.4h1v1h-1zM423.1 402.9h1v1h-1zM425.1 403.0h1v1h-1zM410.9 404.1h1v1h-1zM423.5 401.3h1v1h-1zM406.6 409.0h1v1h-1zM409.8 400.6h1v1h-1zM418.6 408.5h1v1h-1zM409.1 407.4h1v1h-1zM422.4 408.8h1v1h-1zM426.5 400.5h1v1h-1zM418.1 406.5h1v1h-1zM420.8 407.0h1v1h-1zM427.6 409.3h1v1h-1zM420.9 407.4h1v1h-1zM425.8 403.8h1v1h-1zM426.6 410.2h1v1h-1zM411.3 411.1h1v1h-1zM431.3 411.0h1v1h-1zM425.1 403.2h1v1h-1zM418.8 407.9h1v1h-1zM422.9 402.6h1v1h-1zM419.8 405.3h1v1h-1zM419.3 408.8h1v1h-1zM411.7 400.6h1v1h-1zM415.4 416.3h1v1h-1zM415.8 410.6h1v1h-1zM424.6 403.1h1v1h-1zM420.9 403.9h1v1h-1zM420.4 405.7h1v1h-1zM417.2 405.5h1v1h-1zM425.7 401.5h1v1h-1zM402.8 405.5h1v1h-1zM412.3 400.2h1v1h-1zM423.8 403.7h1v1h-1zM415.4 412.7h1v1h-1zM421.9 405.7h1v1h-1zM427.7 404.5h1v1h-1zM422.9 411.9h1v1h-1zM408.8 407.2h1v1h-1zM416.5 408.3h1v1h-1zM410.8 403.8h1v1h-1zM420.9 410.1h1v1h-1zM424.4 404.7h1v1h-1zM416.5 409.3h1v1h-1zM421.1 408.4h1v1h-1zM416.7 412.5h1v1h-1zM429.8 409.7h1v1h-1zM418.8 405.9h1v1h-1zM419.4 402.0h1v1h-1zM421.5 404.9h1v1h-1zM424.5 403.4h1v1h-1zM422.3 411.7h1v1h-1zM417.8 404.3h1v1h-1zM418.3 397.4h1v1h-1zM421.1 407.4h1v1h-1zM421.6 409.0h1v1h-1zM415.7 402.5h1v1h-1zM414.4 408.7h1v1h-1zM416.5 401.0h1v1h-1zM420.8 406.9h1v1h-1zM415.2 405.4h1v1h-1zM411.3 407.2h1v1h-1zM415.9 407.6h1v1h-1zM415.0 403.5h1v1h-1zM421.7 409.0h1v1h-1zM414.8 404.1h1v1h-1zM415.5 406.4h1v1h-1zM429.6 411.3h1v1h-1zM420.8 402.5h1v1h-1zM412.3 406.3h1v1h-1zM425.4 412.0h1v1h-1zM415.7 410.7h1v1h-1zM413.0 403.4h1v1h-1zM422.0 403.6h1v1h-1zM409.3 408.0h1v1h-1zM417.6 403.5h1v1h-1zM421.5 406.3h1v1h-1zM422.6 400.8h1v1h-1zM414.8 408.4h1v1h-1zM414.9 399.9h1v1h-1zM417.5 406.5h1v1h-1zM425.5 408.6h1v1h-1zM406.9 403.5h1v1h-1zM423.1 400.1h1v1h-1zM419.9 401.2h1v1h-1zM426.5 398.8h1v1h-1zM411.1 412.7h1v1h-1zM425.1 398.7h1v1h-1zM412.7 401.1h1v1h-1zM419.9 407.2h1v1h-1zM415.6 406.2h1v1h-1zM402.9 409.9h1v1h-1zM417.7 410.9h1v1h-1zM420.5 407.7h1v1h-1zM423.4 405.7h1v1h-1zM414.1 403.8h1v1h-1zM410.8 405.3h1v1h-1zM422.4 409.6h1v1h-1zM415.8 408.3h1v1h-1zM424.5 408.3h1v1h-1zM426.8 399.6h1v1h-1zM416.6 403.1h1v1h-1zM417.0 403.4h1v1h-1zM413.6 403.9h1v1h-1zM405.5 402.0h1v1h-1zM418.0 408.6h1v1h-1zM422.5 410.0h1v1h-1zM424.6 412.9h1v1h-1zM417.9 404.0h1v1h-1zM429.5 405.6h1v1h-1zM414.8 406.3h1v1h-1zM417.9 405.9h1v1h-1zM414.7 402.8h1v1h-1zM415.3 409.0h1v1h-1zM416.4 398.3h1v1h-1zM413.8 404.2h1v1h-1zM415.5 398.8h1v1h-1zM419.8 408.4h1v1h-1zM418.8 400.7h1v1h-1zM411.6 401.6h1v1h-1zM421.2 405.9h1v1h-1zM413.0 402.0h1v1h-1zM420.9 406.9h1v1h-1zM418.5 404.5h1v1h-1zM406.2 413.4h1v1h-1zM411.7 401.4h1v1h-1zM424.0 402.9h1v1h-1zM414.1 408.1h1v1h-1zM414.0 406.4h1v1h-1zM415.4 407.7h1v1h-1zM418.8 404.9h1v1h-1zM421.6 409.6h1v1h-1zM416.3 407.3h1v1h-1zM428.5 411.0h1v1h-1zM414.6 400.8h1v1h-1zM415.2 407.0h1v1h-1zM417.0 405.1h1v1h-1zM419.1 407.5h1v1h-1zM427.1 402.4h1v1h-1zM432.6 409.1h1v1h-1zM416.0 400.9h1v1h-1zM417.1 409.4h1v1h-1zM422.0 408.1h1v1h-1zM417.4 399.1h1v1h-1zM423.4 407.5h1v1h-1zM411.5 398.6h1v1h-1zM423.4 408.1h1v1h-1zM404.6 399.9h1v1h-1zM421.4 405.7h1v1h-1zM422.3 405.0h1v1h-1zM433.5 399.8h1v1h-1zM412.5 398.9h1v1h-1zM422.4 407.9h1v1h-1zM422.1 404.2h1v1h-1zM412.3 410.1h1v1h-1zM419.7 405.8h1v1h-1zM412.8 416.5h1v1h-1zM410.9 406.7h1v1h-1zM408.7 412.7h1v1h-1zM416.7 407.3h1v1h-1zM411.5 406.3h1v1h-1zM405.2 408.1h1v1h-1zM419.9 403.1h1v1h-1zM407.4 403.6h1v1h-1zM422.4 412.3h1v1h-1zM419.6 405.3h1v1h-1zM412.9 401.6h1v1h-1zM408.2 408.0h1v1h-1zM412.4 402.8h1v1h-1zM409.6 406.3h1v1h-1zM415.7 410.4h1v1h-1zM415.7 411.0h1v1h-1zM433.5 413.0h1v1h-1zM405.0 410.5h1v1h-1zM414.3 408.6h1v1h-1zM421.5 408.2h1v1h-1zM424.5 407.2h1v1h-1zM426.4 405.9h1v1h-1zM411.9 414.8h1v1h-1zM423.1 405.8h1v1h-1zM400.0 412.5h1v1h-1zM416.6 405.7h1v1h-1zM423.4 410.7h1v1h-1zM422.5 395.3h1v1h-1zM409.2 406.7h1v1h-1zM412.8 403.8h1v1h-1zM404.5 412.1h1v1h-1zM413.3 411.9h1v1h-1zM409.3 403.8h1v1h-1zM419.7 405.9h1v1h-1zM413.2 409.7h1v1h-1zM421.8 407.3h1v1h-1zM417.3 406.6h1v1h-1zM415.9 409.9h1v1h-1zM429.1 401.2h1v1h-1zM425.3 412.4h1v1h-1zM409.6 407.9h1v1h-1zM426.7 395.3h1v1h-1zM422.8 402.8h1v1h-1zM426.4 406.0h1v1h-1zM420.8 414.9h1v1h-1zM406.6 406.2h1v1h-1z" fill="#eea050" fill-opacity="0.75"/>
<path d="M449.9 410.0h1v1h-1zM460.7 412.1h1v1h-1zM458.9 410.5h1v1h-1zM434.4 412.0h1v1h-1zM443.8 414.5h1v1h-1zM446.8 413.6h1v1h-1zM454.2 410.2h1v1h-1zM457.4 406.9h1v1h-1zM458.7 410.8h1v1h-1zM448.8 411.5h1v1h-1zM455.9 413.8h1v1h-1zM457.8 411.6h1v1h-1zM433.5 418.2h1v1h-1zM461.4 410.5h1v1h-1zM440.7 412.9h1v1h-1zM430.5 409.0h1v1h-1zM438.8 408.7h1v1h-1zM450.8 410.5h1v1h-1zM442.1 411.8h1v1h-1zM449.0 413.0h1v1h-1zM455.3 403.4h1v1h-1zM440.2 414.1h1v1h-1zM436.6 415.0h1v1h-1zM453.9 414.6h1v1h-1zM432.7 413.4h1v1h-1zM459.7 410.9h1v1h-1zM456.7 412.6h1v1h-1zM441.0 414.5h1v1h-1zM446.0 408.8h1v1h-1zM453.6 412.9h1v1h-1zM458.8 412.5h1v1h-1zM461.4 410.9h1v1h-1zM446.1 415.7h1v1h-1zM443.4 409.5h1v1h-1zM432.0 408.8h1v1h-1zM461.8 411.1h1v1h-1zM438.6 409.6h1v1h-1zM437.0 414.6h1v1h-1zM458.4 407.1h1v1h-1zM454.0 407.9h1v1h-1zM445.6 412.0h1v1h-1zM450.5 413.1h1v1h-1zM459.9 408.2h1v1h-1zM445.1 414.5h1v1h-1zM431.9 406.4h1v1h-1z" fill="#f0b878" fill-opacity="0.55"/>
<path d="M454.3 423.8h1v1h-1zM444.3 438.4h1v1h-1zM446.4 430.0h1v1h-1zM458.2 432.1h1v1h-1zM448.5 440.2h1v1h-1zM445.5 415.0h1v1h-1zM450.1 431.9h1v1h-1zM458.7 431.0h1v1h-1zM449.2 427.4h1v1h-1zM444.8 429.4h1v1h-1zM449.9 437.3h1v1h-1zM442.4 425.1h1v1h-1zM445.3 425.2h1v1h-1zM445.9 440.4h1v1h-1zM452.2 435.9h1v1h-1zM446.3 432.5h1v1h-1zM451.3 434.6h1v1h-1zM454.8 430.0h1v1h-1zM457.0 427.5h1v1h-1zM440.0 428.5h1v1h-1zM448.5 431.4h1v1h-1zM442.8 426.4h1v1h-1zM452.1 419.2h1v1h-1zM450.1 428.4h1v1h-1zM448.7 431.2h1v1h-1zM446.0 428.6h1v1h-1zM443.8 433.7h1v1h-1zM440.0 431.3h1v1h-1zM453.8 435.6h1v1h-1zM447.7 430.3h1v1h-1zM448.9 428.4h1v1h-1zM450.4 433.1h1v1h-1zM452.9 435.1h1v1h-1zM458.6 426.6h1v1h-1zM447.8 424.0h1v1h-1zM452.2 438.0h1v1h-1zM440.3 426.1h1v1h-1zM446.7 431.9h1v1h-1zM445.1 426.5h1v1h-1zM445.5 430.9h1v1h-1zM454.8 438.4h1v1h-1zM449.3 440.2h1v1h-1zM449.1 421.1h1v1h-1zM449.2 420.2h1v1h-1zM447.6 433.2h1v1h-1zM445.4 439.4h1v1h-1zM446.0 431.1h1v1h-1zM446.5 427.6h1v1h-1zM447.8 434.7h1v1h-1zM439.1 423.5h1v1h-1zM449.1 433.7h1v1h-1zM448.6 438.1h1v1h-1zM450.9 437.4h1v1h-1zM443.0 434.0h1v1h-1zM443.9 426.2h1v1h-1zM452.9 427.4h1v1h-1zM445.0 423.6h1v1h-1zM451.2 441.3h1v1h-1zM445.3 437.4h1v1h-1zM442.6 429.1h1v1h-1zM441.2 429.0h1v1h-1zM445.6 431.0h1v1h-1zM446.3 425.2h1v1h-1zM442.4 432.7h1v1h-1zM456.1 432.6h1v1h-1zM448.9 432.2h1v1h-1zM444.2 429.8h1v1h-1zM453.0 428.2h1v1h-1zM444.8 420.4h1v1h-1zM443.5 418.7h1v1h-1zM447.8 443.7h1v1h-1zM452.5 426.2h1v1h-1zM441.5 428.2h1v1h-1zM454.7 427.4h1v1h-1zM446.8 423.9h1v1h-1zM453.1 439.7h1v1h-1zM448.0 417.6h1v1h-1zM451.3 432.4h1v1h-1zM452.1 425.6h1v1h-1zM455.4 437.4h1v1h-1zM445.1 434.7h1v1h-1zM458.5 429.8h1v1h-1zM442.2 419.8h1v1h-1zM450.4 434.3h1v1h-1zM452.3 435.5h1v1h-1zM448.9 433.5h1v1h-1zM453.4 427.4h1v1h-1zM440.5 433.3h1v1h-1zM448.6 424.4h1v1h-1zM453.9 430.9h1v1h-1zM448.9 431.6h1v1h-1zM443.1 427.8h1v1h-1zM449.6 423.0h1v1h-1zM449.8 427.9h1v1h-1zM443.7 423.7h1v1h-1zM455.6 421.6h1v1h-1zM446.1 436.0h1v1h-1zM443.5 428.3h1v1h-1zM449.4 426.0h1v1h-1zM445.5 425.9h1v1h-1zM447.8 432.0h1v1h-1zM450.0 427.2h1v1h-1zM446.7 424.7h1v1h-1zM451.9 431.0h1v1h-1zM450.3 430.1h1v1h-1zM455.1 423.5h1v1h-1zM443.7 422.4h1v1h-1zM449.2 437.6h1v1h-1zM450.2 427.4h1v1h-1zM450.3 436.9h1v1h-1zM438.1 433.1h1v1h-1zM443.4 428.8h1v1h-1zM450.5 427.7h1v1h-1zM451.8 439.6h1v1h-1zM449.0 425.1h1v1h-1zM449.8 426.7h1v1h-1zM455.1 423.9h1v1h-1zM447.0 428.2h1v1h-1zM444.9 423.2h1v1h-1zM456.5 430.0h1v1h-1zM452.0 421.2h1v1h-1zM448.0 432.5h1v1h-1zM445.2 431.4h1v1h-1zM457.1 430.6h1v1h-1zM447.4 425.4h1v1h-1zM444.7 437.4h1v1h-1zM455.4 442.0h1v1h-1zM441.3 428.4h1v1h-1zM448.1 424.3h1v1h-1zM452.1 433.3h1v1h-1zM447.4 427.8h1v1h-1zM446.2 430.1h1v1h-1zM451.1 433.3h1v1h-1zM442.6 420.5h1v1h-1zM447.8 433.8h1v1h-1zM452.6 422.5h1v1h-1zM443.3 421.2h1v1h-1zM456.0 426.7h1v1h-1zM447.8 438.5h1v1h-1zM448.5 425.1h1v1h-1zM446.4 432.2h1v1h-1zM451.8 423.2h1v1h-1zM446.4 433.2h1v1h-1zM450.0 431.2h1v1h-1zM455.3 436.6h1v1h-1zM455.3 430.3h1v1h-1zM441.1 429.2h1v1h-1zM455.8 417.2h1v1h-1zM446.3 431.2h1v1h-1zM450.4 434.2h1v1h-1zM449.4 430.4h1v1h-1zM450.3 430.3h1v1h-1zM445.8 432.8h1v1h-1zM451.9 434.7h1v1h-1zM454.0 423.4h1v1h-1zM445.9 428.7h1v1h-1zM448.8 431.9h1v1h-1zM453.0 430.8h1v1h-1zM454.4 423.0h1v1h-1zM450.6 416.5h1v1h-1zM450.2 431.2h1v1h-1zM451.3 433.8h1v1h-1zM447.1 439.9h1v1h-1zM450.6 431.9h1v1h-1zM447.4 423.6h1v1h-1zM447.1 432.0h1v1h-1zM439.7 424.8h1v1h-1zM450.7 419.9h1v1h-1zM452.6 417.5h1v1h-1zM451.1 424.7h1v1h-1zM449.4 426.5h1v1h-1zM447.3 429.5h1v1h-1zM451.7 429.3h1v1h-1zM446.8 430.6h1v1h-1zM448.8 441.4h1v1h-1zM456.5 428.7h1v1h-1zM441.7 437.9h1v1h-1zM445.7 424.1h1v1h-1zM447.6 424.5h1v1h-1zM439.0 425.8h1v1h-1zM442.7 417.6h1v1h-1zM454.2 439.7h1v1h-1zM451.4 430.7h1v1h-1zM448.1 433.7h1v1h-1zM455.5 440.2h1v1h-1zM443.7 432.0h1v1h-1zM458.6 439.6h1v1h-1zM445.7 437.3h1v1h-1zM454.3 431.1h1v1h-1zM451.4 425.6h1v1h-1zM449.8 436.1h1v1h-1zM448.2 429.3h1v1h-1zM439.5 424.6h1v1h-1zM438.1 416.6h1v1h-1zM448.7 440.6h1v1h-1zM444.7 429.6h1v1h-1zM449.2 439.4h1v1h-1zM440.7 433.3h1v1h-1zM441.1 425.1h1v1h-1zM448.4 427.4h1v1h-1zM452.3 425.2h1v1h-1zM452.5 430.7h1v1h-1zM454.9 428.6h1v1h-1zM444.6 420.8h1v1h-1zM447.9 419.6h1v1h-1zM452.7 436.4h1v1h-1zM443.5 420.9h1v1h-1zM447.1 421.8h1v1h-1zM448.7 444.1h1v1h-1zM448.6 423.7h1v1h-1zM453.2 420.5h1v1h-1zM450.9 422.8h1v1h-1zM446.4 434.0h1v1h-1zM452.7 428.1h1v1h-1zM453.8 414.1h1v1h-1zM451.3 425.0h1v1h-1zM450.5 429.2h1v1h-1zM450.9 429.3h1v1h-1zM454.9 438.5h1v1h-1zM446.1 432.2h1v1h-1zM443.6 418.4h1v1h-1zM447.5 423.2h1v1h-1zM444.4 427.0h1v1h-1zM444.5 429.2h1v1h-1zM438.5 433.0h1v1h-1zM448.1 418.0h1v1h-1zM453.8 414.5h1v1h-1zM455.1 422.4h1v1h-1zM445.1 422.7h1v1h-1zM450.2 426.0h1v1h-1zM447.3 421.0h1v1h-1zM448.2 421.2h1v1h-1zM455.9 435.4h1v1h-1zM449.5 421.7h1v1h-1zM450.5 430.8h1v1h-1zM447.2 430.2h1v1h-1zM447.7 426.5h1v1h-1zM443.9 444.1h1v1h-1zM447.9 420.0h1v1h-1zM444.6 445.6h1v1h-1zM454.4 422.6h1v1h-1zM447.4 427.1h1v1h-1zM452.3 430.8h1v1h-1zM455.2 436.0h1v1h-1zM453.8 433.4h1v1h-1zM445.1 426.5h1v1h-1zM457.1 426.6h1v1h-1zM438.8 436.5h1v1h-1zM455.8 438.8h1v1h-1zM443.9 436.8h1v1h-1zM448.2 432.5h1v1h-1zM444.9 430.5h1v1h-1zM437.7 421.7h1v1h-1zM440.9 420.7h1v1h-1zM449.8 431.7h1v1h-1zM451.8 425.6h1v1h-1zM454.4 431.7h1v1h-1zM455.4 418.0h1v1h-1zM449.8 439.5h1v1h-1zM448.3 439.7h1v1h-1zM446.5 422.0h1v1h-1zM462.6 428.2h1v1h-1zM454.7 428.1h1v1h-1zM451.8 425.4h1v1h-1zM450.2 425.7h1v1h-1zM454.1 432.1h1v1h-1zM438.7 439.7h1v1h-1zM452.9 429.5h1v1h-1zM445.6 429.6h1v1h-1zM454.2 424.5h1v1h-1zM444.6 433.0h1v1h-1zM450.8 425.7h1v1h-1zM444.7 422.6h1v1h-1zM446.5 433.2h1v1h-1zM456.8 416.8h1v1h-1zM450.2 425.7h1v1h-1zM450.5 426.4h1v1h-1zM440.5 428.1h1v1h-1zM453.1 419.0h1v1h-1zM445.2 422.8h1v1h-1zM450.9 428.0h1v1h-1zM443.3 432.9h1v1h-1zM450.4 428.2h1v1h-1zM451.3 427.6h1v1h-1zM441.0 423.5h1v1h-1zM450.2 429.1h1v1h-1zM454.9 433.2h1v1h-1zM450.4 435.2h1v1h-1zM448.8 428.9h1v1h-1zM452.8 437.6h1v1h-1zM446.6 424.6h1v1h-1zM453.0 437.7h1v1h-1zM450.0 427.2h1v1h-1zM455.5 424.0h1v1h-1zM443.4 427.6h1v1h-1zM458.6 424.5h1v1h-1zM445.9 427.9h1v1h-1zM446.6 432.2h1v1h-1zM444.8 427.3h1v1h-1zM447.0 426.0h1v1h-1zM458.4 428.9h1v1h-1zM449.5 431.5h1v1h-1zM443.1 429.0h1v1h-1zM447.8 432.5h1v1h-1zM449.8 432.7h1v1h-1zM453.5 430.9h1v1h-1zM446.9 433.6h1v1h-1zM449.6 429.1h1v1h-1zM447.9 431.6h1v1h-1zM449.2 434.4h1v1h-1zM442.4 427.8h1v1h-1zM453.5 419.9h1v1h-1zM446.2 426.1h1v1h-1zM458.1 429.3h1v1h-1zM454.8 431.4h1v1h-1zM452.7 428.8h1v1h-1zM446.0 438.5h1v1h-1zM446.8 420.6h1v1h-1zM446.6 417.6h1v1h-1zM449.0 427.8h1v1h-1zM446.8 424.6h1v1h-1zM445.8 429.2h1v1h-1zM449.1 433.2h1v1h-1zM448.4 446.4h1v1h-1zM446.6 420.6h1v1h-1zM453.3 422.1h1v1h-1zM453.9 428.6h1v1h-1zM445.7 419.5h1v1h-1zM459.6 424.1h1v1h-1zM450.5 437.2h1v1h-1zM454.9 428.6h1v1h-1zM458.2 428.8h1v1h-1zM441.3 436.1h1v1h-1zM451.2 418.1h1v1h-1zM453.3 429.8h1v1h-1zM454.8 428.7h1v1h-1zM452.7 430.7h1v1h-1zM453.8 422.6h1v1h-1zM440.9 426.3h1v1h-1zM443.7 428.4h1v1h-1zM451.5 433.7h1v1h-1zM438.1 424.4h1v1h-1zM445.8 432.9h1v1h-1zM447.6 415.4h1v1h-1zM450.5 431.7h1v1h-1zM453.2 434.0h1v1h-1zM449.8 423.2h1v1h-1zM444.3 427.1h1v1h-1zM443.7 429.0h1v1h-1zM450.7 430.8h1v1h-1zM451.6 436.7h1v1h-1zM450.5 430.2h1v1h-1zM449.3 427.6h1v1h-1zM449.2 427.8h1v1h-1zM441.4 430.7h1v1h-1zM448.5 434.0h1v1h-1zM452.5 430.6h1v1h-1zM442.8 425.5h1v1h-1zM450.8 426.9h1v1h-1zM452.2 424.0h1v1h-1zM460.6 423.5h1v1h-1zM448.3 425.9h1v1h-1zM447.3 425.4h1v1h-1zM442.4 433.9h1v1h-1zM443.0 421.4h1v1h-1zM440.3 429.5h1v1h-1zM439.4 421.6h1v1h-1zM452.2 434.0h1v1h-1zM448.6 430.9h1v1h-1zM450.2 437.0h1v1h-1zM440.4 432.5h1v1h-1zM438.2 422.5h1v1h-1zM439.5 429.2h1v1h-1zM456.9 425.0h1v1h-1zM454.4 425.7h1v1h-1zM441.7 422.5h1v1h-1zM449.1 427.1h1v1h-1zM449.5 429.6h1v1h-1zM443.5 430.3h1v1h-1zM445.3 444.7h1v1h-1zM453.5 428.0h1v1h-1zM452.3 429.6h1v1h-1zM453.2 428.4h1v1h-1zM450.3 427.4h1v1h-1zM449.2 427.1h1v1h-1zM451.2 429.4h1v1h-1zM447.8 427.8h1v1h-1zM457.4 433.6h1v1h-1zM449.8 431.7h1v1h-1zM451.4 423.5h1v1h-1zM448.2 429.0h1v1h-1zM445.2 430.9h1v1h-1zM448.4 427.3h1v1h-1zM447.0 427.6h1v1h-1zM444.5 428.4h1v1h-1zM452.9 432.8h1v1h-1zM458.9 430.1h1v1h-1zM450.2 425.6h1v1h-1zM448.1 428.7h1v1h-1zM445.0 436.8h1v1h-1zM441.1 423.0h1v1h-1zM451.8 433.1h1v1h-1zM451.6 427.5h1v1h-1zM449.1 433.0h1v1h-1z" fill="#e01e1e" fill-opacity="0.85"/>
<path d="M396.5 469.5v2.5M399.4 469.5v2.5M395.4 468.8h-2.5M401.7 469.5v2.5M395.4 466.9h-2.5M403.5 469.5v2.5M395.4 465.3h-2.5M405.1 469.5v2.5M395.4 463.9h-2.5M406.4 469.5v2.5M395.4 462.8h-2.5M407.6 469.5v2.5M395.4 461.7h-2.5M408.7 469.5v4.5M395.4 460.8h-4.5M415.7 469.5v2.5M395.4 454.7h-2.5M419.9 469.5v2.5M395.4 451.2h-2.5M422.8 469.5v2.5M395.4 448.6h-2.5M425.1 469.5v2.5M395.4 446.7h-2.5M426.9 469.5v2.5M395.4 445.1h-2.5M428.5 469.5v2.5M395.4 443.7h-2.5M429.8 469.5v2.5M395.4 442.6h-2.5M431.0 469.5v2.5M395.4 441.5h-2.5M432.1 469.5v4.5M395.4 440.6h-4.5M439.1 469.5v2.5M395.4 434.5h-2.5M443.3 469.5v2.5M395.4 431.0h-2.5M446.2 469.5v2.5M395.4 428.4h-2.5M448.5 469.5v2.5M395.4 426.5h-2.5M450.3 469.5v2.5M395.4 424.9h-2.5M451.9 469.5v2.5M395.4 423.5h-2.5M453.2 469.5v2.5M395.4 422.4h-2.5M454.4 469.5v2.5M395.4 421.3h-2.5M455.5 469.5v4.5M395.4 420.4h-4.5M462.5 469.5v2.5M395.4 414.3h-2.5M466.7 469.5v2.5M395.4 410.8h-2.5M469.6 469.5v2.5M395.4 408.2h-2.5M471.9 469.5v2.5M395.4 406.3h-2.5M473.7 469.5v2.5M395.4 404.7h-2.5M475.3 469.5v2.5M395.4 403.3h-2.5M476.6 469.5v2.5M395.4 402.2h-2.5M477.8 469.5v2.5M395.4 401.1h-2.5M478.9 469.5v4.5M395.4 400.2h-4.5M485.9 469.5v2.5M395.4 394.1h-2.5M490.1 469.5v2.5M395.4 390.6h-2.5M493.0 469.5v2.5M395.4 388.0h-2.5M495.3 469.5v2.5M395.4 386.1h-2.5M497.1 469.5v2.5M395.4 384.5h-2.5M498.7 469.5v2.5M395.4 383.1h-2.5M500.0 469.5v2.5M395.4 382.0h-2.5M501.2 469.5v2.5M395.4 380.9h-2.5M502.3 469.5v4.5M395.4 380.0h-4.5M509.3 469.5v2.5M395.4 373.9h-2.5M395.4 370.4h-2.5" stroke="#222" stroke-width="0.9" fill="none"/>
<text x="452.5" y="398.3" font-size="7.7" text-anchor="start" font-weight="normal" fill="#2a2a2a" stroke="#2a2a2a" stroke-width="0.1" >SVEC</text>
<line x1="450.7" y1="388.6" x2="440.8" y2="397.2" stroke="#111" stroke-width="1.3"/>
<polygon points="436.9,400.7 440.4,393.3 440.8,397.2 444.7,398.2" fill="#111"/>
<text x="473.2" y="449.1" font-size="7.7" text-anchor="start" font-weight="normal" fill="#2a2a2a" stroke="#2a2a2a" stroke-width="0.1" >LC</text>
<line x1="477.7" y1="438.1" x2="468.5" y2="432.8" stroke="#111" stroke-width="1.3"/>
<polygon points="463.9,430.2 472.0,431.1 468.5,432.8 468.8,436.8" fill="#111"/>
<rect x="0.5" y="0.5" width="518.5" height="508.5" fill="none" stroke="#000" stroke-width="1"/>
<rect x="519" y="0" width="1" height="510" fill="#000"/>
<rect x="0" y="509" width="520" height="1" fill="#000"/>
</svg>
</body></html>
